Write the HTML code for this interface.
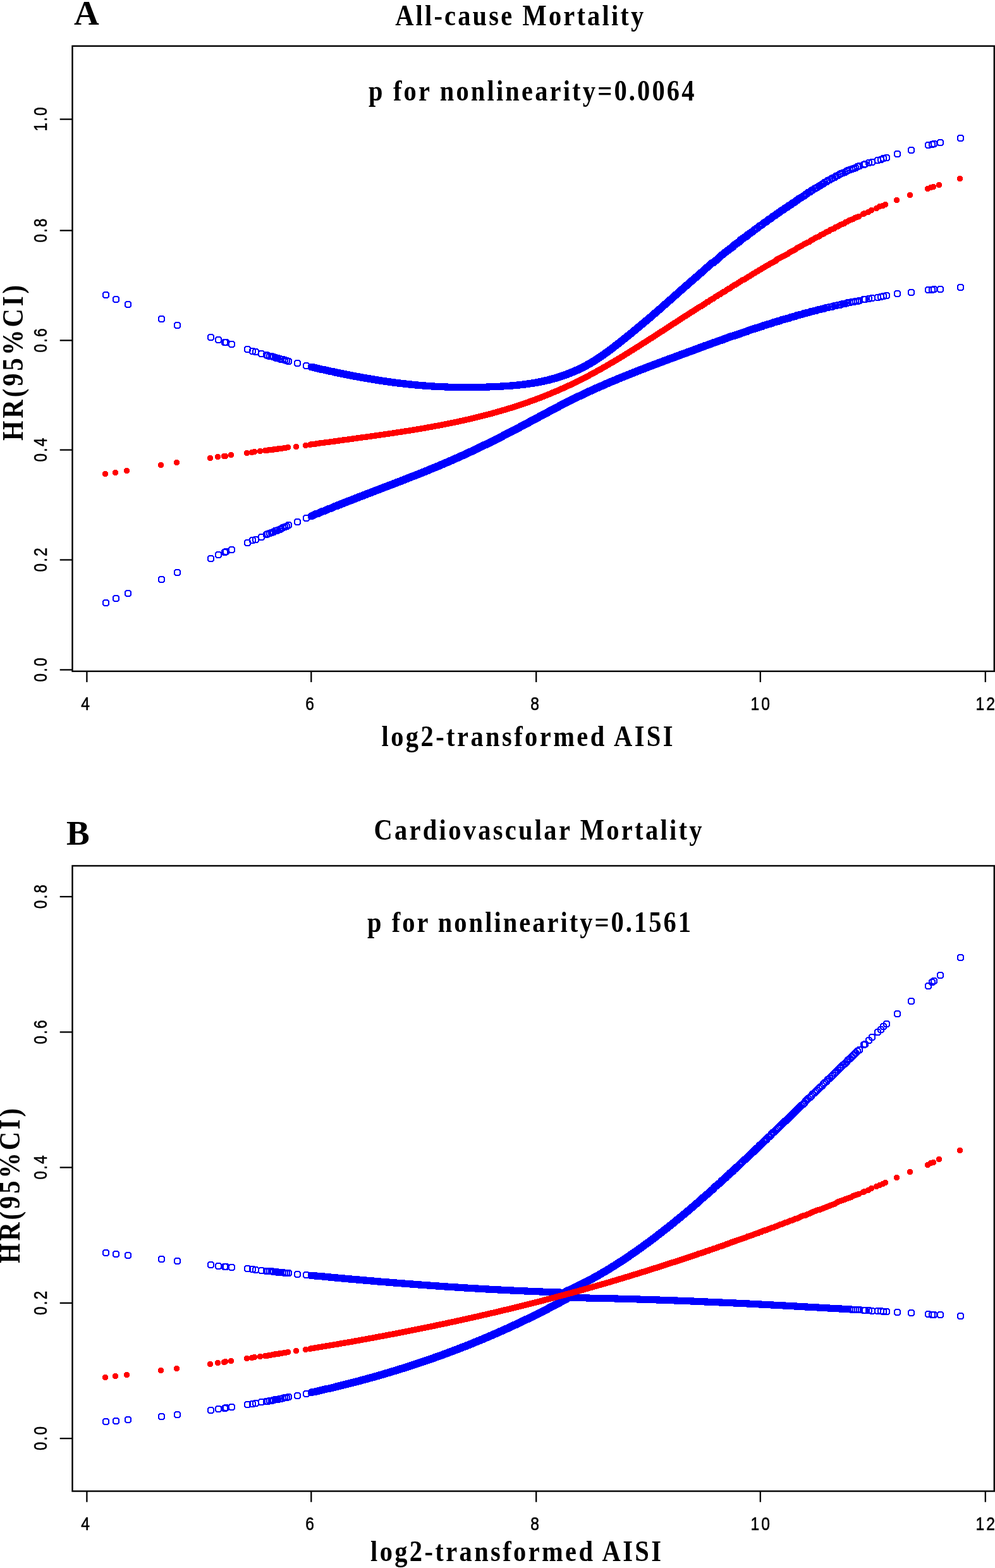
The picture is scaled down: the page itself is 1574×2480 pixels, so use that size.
<!DOCTYPE html><html><head><meta charset="utf-8"><title>Figure</title><style>html,body{margin:0;padding:0;background:#fff;width:1574px;height:2480px;overflow:hidden}svg{display:block}</style></head><body><svg width="1574" height="2480" viewBox="0 0 1574 2480">
<rect width="1574" height="2480" fill="#fff"/>
<style>.tk{font-family:"Liberation Sans",Arial,sans-serif;font-size:30px;fill:#000;stroke:#000;stroke-width:0.6px}.tt{font-family:"Liberation Serif","Times New Roman",serif;font-weight:bold;font-size:46px;fill:#000}.pl{font-family:"Liberation Serif","Times New Roman",serif;font-weight:bold;font-size:55px;fill:#000}.bl{fill:none;stroke:#0000ff;stroke-width:2;stroke-linejoin:miter;shape-rendering:crispEdges}.rd{fill:#ff0000;shape-rendering:crispEdges}</style>
<rect x="114.5" y="72.8" width="1458.3" height="988.9" fill="none" stroke="#000" stroke-width="2.4"/>
<line x1="137.4" y1="1061.7" x2="137.4" y2="1078.9" stroke="#000" stroke-width="2.3"/>
<text class="tk" transform="translate(135.2,1122.8) scale(0.82,1)" text-anchor="middle">4</text>
<line x1="492.3" y1="1061.7" x2="492.3" y2="1078.9" stroke="#000" stroke-width="2.3"/>
<text class="tk" transform="translate(490.1,1122.8) scale(0.82,1)" text-anchor="middle">6</text>
<line x1="848.2" y1="1061.7" x2="848.2" y2="1078.9" stroke="#000" stroke-width="2.3"/>
<text class="tk" transform="translate(846.0,1122.8) scale(0.82,1)" text-anchor="middle">8</text>
<line x1="1202.8" y1="1061.7" x2="1202.8" y2="1078.9" stroke="#000" stroke-width="2.3"/>
<text class="tk" transform="translate(1202.8,1122.8) scale(0.82,1)" text-anchor="middle" textLength="37.2" lengthAdjust="spacing">10</text>
<line x1="1558.8" y1="1061.7" x2="1558.8" y2="1078.9" stroke="#000" stroke-width="2.3"/>
<text class="tk" transform="translate(1558.8,1122.8) scale(0.82,1)" text-anchor="middle" textLength="37.2" lengthAdjust="spacing">12</text>
<line x1="94.7" y1="1059.4" x2="114.5" y2="1059.4" stroke="#000" stroke-width="2.3"/>
<text class="tk" transform="translate(73.5,1059.4) rotate(-90) scale(0.8,1)" text-anchor="middle" textLength="47.5" lengthAdjust="spacing">0.0</text>
<line x1="94.7" y1="885.5" x2="114.5" y2="885.5" stroke="#000" stroke-width="2.3"/>
<text class="tk" transform="translate(73.5,885.5) rotate(-90) scale(0.8,1)" text-anchor="middle" textLength="47.5" lengthAdjust="spacing">0.2</text>
<line x1="94.7" y1="711.6" x2="114.5" y2="711.6" stroke="#000" stroke-width="2.3"/>
<text class="tk" transform="translate(73.5,711.6) rotate(-90) scale(0.8,1)" text-anchor="middle" textLength="47.5" lengthAdjust="spacing">0.4</text>
<line x1="94.7" y1="538.4" x2="114.5" y2="538.4" stroke="#000" stroke-width="2.3"/>
<text class="tk" transform="translate(73.5,538.4) rotate(-90) scale(0.8,1)" text-anchor="middle" textLength="47.5" lengthAdjust="spacing">0.6</text>
<line x1="94.7" y1="364.6" x2="114.5" y2="364.6" stroke="#000" stroke-width="2.3"/>
<text class="tk" transform="translate(73.5,364.6) rotate(-90) scale(0.8,1)" text-anchor="middle" textLength="47.5" lengthAdjust="spacing">0.8</text>
<line x1="94.7" y1="188.6" x2="114.5" y2="188.6" stroke="#000" stroke-width="2.3"/>
<text class="tk" transform="translate(73.5,188.6) rotate(-90) scale(0.8,1)" text-anchor="middle" textLength="47.5" lengthAdjust="spacing">1.0</text>
<text class="pl" x="117" y="38.7">A</text>
<text class="tt" transform="translate(625.2,40.3) scale(0.88,1)" textLength="446.6" lengthAdjust="spacing">All-cause Mortality</text>
<text class="tt" transform="translate(583.0,158.5) scale(0.88,1)" textLength="585.8" lengthAdjust="spacing">p for nonlinearity=0.0064</text>
<text class="tt" transform="translate(603.5,1179.6) scale(0.88,1)" textLength="523.9" lengthAdjust="spacing">log2-transformed AISI</text>
<text class="tt" transform="translate(36.1,697.0) rotate(-90) scale(0.88,1)" textLength="279.5" lengthAdjust="spacing">HR(95%CI)</text>
<path class="bl" d="M165.3,461.7h4.4l2.6,2.6v4.4l-2.6,2.6h-4.4l-2.6,-2.6v-4.4zm16,7h4.4l2.6,2.6v4.4l-2.6,2.6h-4.4l-2.6,-2.6v-4.4zm19,8h4.4l2.6,2.6v4.4l-2.6,2.6h-4.4l-2.6,-2.6v-4.4zm53,23h4.4l2.6,2.6v4.4l-2.6,2.6h-4.4l-2.6,-2.6v-4.4zm25,10h4.4l2.6,2.6v4.4l-2.6,2.6h-4.4l-2.6,-2.6v-4.4zm53,19h4.4l2.6,2.6v4.4l-2.6,2.6h-4.4l-2.6,-2.6v-4.4zm12,4h4.4l2.6,2.6v4.4l-2.6,2.6h-4.4l-2.6,-2.6v-4.4zm10,4h4.4l2.6,2.6v4.4l-2.6,2.6h-4.4l-2.6,-2.6v-4.4zm2,0h4.4l2.6,2.6v4.4l-2.6,2.6h-4.4l-2.6,-2.6v-4.4zm9,3h4.4l2.6,2.6v4.4l-2.6,2.6h-4.4l-2.6,-2.6v-4.4zm25,8h4.4l2.6,2.6v4.4l-2.6,2.6h-4.4l-2.6,-2.6v-4.4zm8,3h4.4l2.6,2.6v4.4l-2.6,2.6h-4.4l-2.6,-2.6v-4.4zm5,1h4.4l2.6,2.6v4.4l-2.6,2.6h-4.4l-2.6,-2.6v-4.4zm9,3h4.4l2.6,2.6v4.4l-2.6,2.6h-4.4l-2.6,-2.6v-4.4zm8,2h4.4l2.6,2.6v4.4l-2.6,2.6h-4.4l-2.6,-2.6v-4.4zm2,1h4.4l2.6,2.6v4.4l-2.6,2.6h-4.4l-2.6,-2.6v-4.4zm3,1h4.4l2.6,2.6v4.4l-2.6,2.6h-4.4l-2.6,-2.6v-4.4zm3,0h4.4l2.6,2.6v4.4l-2.6,2.6h-4.4l-2.6,-2.6v-4.4zm3,1h4.4l2.6,2.6v4.4l-2.6,2.6h-4.4l-2.6,-2.6v-4.4zm3,1h4.4l2.6,2.6v4.4l-2.6,2.6h-4.4l-2.6,-2.6v-4.4zm2,1h4.4l2.6,2.6v4.4l-2.6,2.6h-4.4l-2.6,-2.6v-4.4zm2,0h4.4l2.6,2.6v4.4l-2.6,2.6h-4.4l-2.6,-2.6v-4.4zm3,1h4.4l2.6,2.6v4.4l-2.6,2.6h-4.4l-2.6,-2.6v-4.4zm2,1h4.4l2.6,2.6v4.4l-2.6,2.6h-4.4l-2.6,-2.6v-4.4zm3,0h4.4l2.6,2.6v4.4l-2.6,2.6h-4.4l-2.6,-2.6v-4.4zm3,1h4.4l2.6,2.6v4.4l-2.6,2.6h-4.4l-2.6,-2.6v-4.4zm3,1h4.4l2.6,2.6v4.4l-2.6,2.6h-4.4l-2.6,-2.6v-4.4zm3,1h4.4l2.6,2.6v4.4l-2.6,2.6h-4.4l-2.6,-2.6v-4.4zm14,3h4.4l2.6,2.6v4.4l-2.6,2.6h-4.4l-2.6,-2.6v-4.4zm14,4h4.4l2.6,2.6v4.4l-2.6,2.6h-4.4l-2.6,-2.6v-4.4zm8,2h4.4l2.6,2.6v4.4l-2.6,2.6h-4.4l-2.6,-2.6v-4.4zm2,0h4.4l2.6,2.6v4.4l-2.6,2.6h-4.4l-2.6,-2.6v-4.4zm2,1h4.4l2.6,2.6v4.4l-2.6,2.6h-4.4l-2.6,-2.6v-4.4zm2,0h4.4l2.6,2.6v4.4l-2.6,2.6h-4.4l-2.6,-2.6v-4.4zm2,1h4.4l2.6,2.6v4.4l-2.6,2.6h-4.4l-2.6,-2.6v-4.4zm2,0h4.4l2.6,2.6v4.4l-2.6,2.6h-4.4l-2.6,-2.6v-4.4zm2,1h4.4l2.6,2.6v4.4l-2.6,2.6h-4.4l-2.6,-2.6v-4.4zm2,0h4.4l2.6,2.6v4.4l-2.6,2.6h-4.4l-2.6,-2.6v-4.4zm2,1h4.4l2.6,2.6v4.4l-2.6,2.6h-4.4l-2.6,-2.6v-4.4zm2,0h4.4l2.6,2.6v4.4l-2.6,2.6h-4.4l-2.6,-2.6v-4.4zm2,0h4.4l2.6,2.6v4.4l-2.6,2.6h-4.4l-2.6,-2.6v-4.4zm2,1h4.4l2.6,2.6v4.4l-2.6,2.6h-4.4l-2.6,-2.6v-4.4zm2,0h4.4l2.6,2.6v4.4l-2.6,2.6h-4.4l-2.6,-2.6v-4.4zm2,1h4.4l2.6,2.6v4.4l-2.6,2.6h-4.4l-2.6,-2.6v-4.4zm2,0h4.4l2.6,2.6v4.4l-2.6,2.6h-4.4l-2.6,-2.6v-4.4zm2,1h4.4l2.6,2.6v4.4l-2.6,2.6h-4.4l-2.6,-2.6v-4.4zm2,0h4.4l2.6,2.6v4.4l-2.6,2.6h-4.4l-2.6,-2.6v-4.4zm2,0h4.4l2.6,2.6v4.4l-2.6,2.6h-4.4l-2.6,-2.6v-4.4zm2,1h4.4l2.6,2.6v4.4l-2.6,2.6h-4.4l-2.6,-2.6v-4.4zm2,0h4.4l2.6,2.6v4.4l-2.6,2.6h-4.4l-2.6,-2.6v-4.4zm1,1h4.4l2.6,2.6v4.4l-2.6,2.6h-4.4l-2.6,-2.6v-4.4zm1,0h4.4l2.6,2.6v4.4l-2.6,2.6h-4.4l-2.6,-2.6v-4.4zm1,0h4.4l2.6,2.6v4.4l-2.6,2.6h-4.4l-2.6,-2.6v-4.4zm1,0h4.4l2.6,2.6v4.4l-2.6,2.6h-4.4l-2.6,-2.6v-4.4zm1,0h4.4l2.6,2.6v4.4l-2.6,2.6h-4.4l-2.6,-2.6v-4.4zm1,1h4.4l2.6,2.6v4.4l-2.6,2.6h-4.4l-2.6,-2.6v-4.4zm1,0h4.4l2.6,2.6v4.4l-2.6,2.6h-4.4l-2.6,-2.6v-4.4zm1,0h4.4l2.6,2.6v4.4l-2.6,2.6h-4.4l-2.6,-2.6v-4.4zm1,0h4.4l2.6,2.6v4.4l-2.6,2.6h-4.4l-2.6,-2.6v-4.4zm1,0h4.4l2.6,2.6v4.4l-2.6,2.6h-4.4l-2.6,-2.6v-4.4zm1,1h4.4l2.6,2.6v4.4l-2.6,2.6h-4.4l-2.6,-2.6v-4.4zm1,0h4.4l2.6,2.6v4.4l-2.6,2.6h-4.4l-2.6,-2.6v-4.4zm1,0h4.4l2.6,2.6v4.4l-2.6,2.6h-4.4l-2.6,-2.6v-4.4zm1,0h4.4l2.6,2.6v4.4l-2.6,2.6h-4.4l-2.6,-2.6v-4.4zm1,0h4.4l2.6,2.6v4.4l-2.6,2.6h-4.4l-2.6,-2.6v-4.4zm1,1h4.4l2.6,2.6v4.4l-2.6,2.6h-4.4l-2.6,-2.6v-4.4zm1,0h4.4l2.6,2.6v4.4l-2.6,2.6h-4.4l-2.6,-2.6v-4.4zm1,0h4.4l2.6,2.6v4.4l-2.6,2.6h-4.4l-2.6,-2.6v-4.4zm1,0h4.4l2.6,2.6v4.4l-2.6,2.6h-4.4l-2.6,-2.6v-4.4zm1,0h4.4l2.6,2.6v4.4l-2.6,2.6h-4.4l-2.6,-2.6v-4.4zm1,1h4.4l2.6,2.6v4.4l-2.6,2.6h-4.4l-2.6,-2.6v-4.4zm1,0h4.4l2.6,2.6v4.4l-2.6,2.6h-4.4l-2.6,-2.6v-4.4zm1,0h4.4l2.6,2.6v4.4l-2.6,2.6h-4.4l-2.6,-2.6v-4.4zm1,0h4.4l2.6,2.6v4.4l-2.6,2.6h-4.4l-2.6,-2.6v-4.4zm1,0h4.4l2.6,2.6v4.4l-2.6,2.6h-4.4l-2.6,-2.6v-4.4zm1,1h4.4l2.6,2.6v4.4l-2.6,2.6h-4.4l-2.6,-2.6v-4.4zm1,0h4.4l2.6,2.6v4.4l-2.6,2.6h-4.4l-2.6,-2.6v-4.4zm1,0h4.4l2.6,2.6v4.4l-2.6,2.6h-4.4l-2.6,-2.6v-4.4zm1,0h4.4l2.6,2.6v4.4l-2.6,2.6h-4.4l-2.6,-2.6v-4.4zm1,0h4.4l2.6,2.6v4.4l-2.6,2.6h-4.4l-2.6,-2.6v-4.4zm1,1h4.4l2.6,2.6v4.4l-2.6,2.6h-4.4l-2.6,-2.6v-4.4zm1,0h4.4l2.6,2.6v4.4l-2.6,2.6h-4.4l-2.6,-2.6v-4.4zm1,0h4.4l2.6,2.6v4.4l-2.6,2.6h-4.4l-2.6,-2.6v-4.4zm1,0h4.4l2.6,2.6v4.4l-2.6,2.6h-4.4l-2.6,-2.6v-4.4zm1,0h4.4l2.6,2.6v4.4l-2.6,2.6h-4.4l-2.6,-2.6v-4.4zm1,0h4.4l2.6,2.6v4.4l-2.6,2.6h-4.4l-2.6,-2.6v-4.4zm1,1h4.4l2.6,2.6v4.4l-2.6,2.6h-4.4l-2.6,-2.6v-4.4zm1,0h4.4l2.6,2.6v4.4l-2.6,2.6h-4.4l-2.6,-2.6v-4.4zm1,0h4.4l2.6,2.6v4.4l-2.6,2.6h-4.4l-2.6,-2.6v-4.4zm1,0h4.4l2.6,2.6v4.4l-2.6,2.6h-4.4l-2.6,-2.6v-4.4zm1,0h4.4l2.6,2.6v4.4l-2.6,2.6h-4.4l-2.6,-2.6v-4.4zm1,1h4.4l2.6,2.6v4.4l-2.6,2.6h-4.4l-2.6,-2.6v-4.4zm1,0h4.4l2.6,2.6v4.4l-2.6,2.6h-4.4l-2.6,-2.6v-4.4zm1,0h4.4l2.6,2.6v4.4l-2.6,2.6h-4.4l-2.6,-2.6v-4.4zm1,0h4.4l2.6,2.6v4.4l-2.6,2.6h-4.4l-2.6,-2.6v-4.4zm1,0h4.4l2.6,2.6v4.4l-2.6,2.6h-4.4l-2.6,-2.6v-4.4zm1,0h4.4l2.6,2.6v4.4l-2.6,2.6h-4.4l-2.6,-2.6v-4.4zm1,1h4.4l2.6,2.6v4.4l-2.6,2.6h-4.4l-2.6,-2.6v-4.4zm1,0h4.4l2.6,2.6v4.4l-2.6,2.6h-4.4l-2.6,-2.6v-4.4zm1,0h4.4l2.6,2.6v4.4l-2.6,2.6h-4.4l-2.6,-2.6v-4.4zm1,0h4.4l2.6,2.6v4.4l-2.6,2.6h-4.4l-2.6,-2.6v-4.4zm1,0h4.4l2.6,2.6v4.4l-2.6,2.6h-4.4l-2.6,-2.6v-4.4zm1,0h4.4l2.6,2.6v4.4l-2.6,2.6h-4.4l-2.6,-2.6v-4.4zm1,1h4.4l2.6,2.6v4.4l-2.6,2.6h-4.4l-2.6,-2.6v-4.4zm1,0h4.4l2.6,2.6v4.4l-2.6,2.6h-4.4l-2.6,-2.6v-4.4zm1,0h4.4l2.6,2.6v4.4l-2.6,2.6h-4.4l-2.6,-2.6v-4.4zm1,0h4.4l2.6,2.6v4.4l-2.6,2.6h-4.4l-2.6,-2.6v-4.4zm1,0h4.4l2.6,2.6v4.4l-2.6,2.6h-4.4l-2.6,-2.6v-4.4zm1,0h4.4l2.6,2.6v4.4l-2.6,2.6h-4.4l-2.6,-2.6v-4.4zm1,1h4.4l2.6,2.6v4.4l-2.6,2.6h-4.4l-2.6,-2.6v-4.4zm1,0h4.4l2.6,2.6v4.4l-2.6,2.6h-4.4l-2.6,-2.6v-4.4zm1,0h4.4l2.6,2.6v4.4l-2.6,2.6h-4.4l-2.6,-2.6v-4.4zm1,0h4.4l2.6,2.6v4.4l-2.6,2.6h-4.4l-2.6,-2.6v-4.4zm1,0h4.4l2.6,2.6v4.4l-2.6,2.6h-4.4l-2.6,-2.6v-4.4zm1,0h4.4l2.6,2.6v4.4l-2.6,2.6h-4.4l-2.6,-2.6v-4.4zm1,1h4.4l2.6,2.6v4.4l-2.6,2.6h-4.4l-2.6,-2.6v-4.4zm1,0h4.4l2.6,2.6v4.4l-2.6,2.6h-4.4l-2.6,-2.6v-4.4zm1,0h4.4l2.6,2.6v4.4l-2.6,2.6h-4.4l-2.6,-2.6v-4.4zm1,0h4.4l2.6,2.6v4.4l-2.6,2.6h-4.4l-2.6,-2.6v-4.4zm1,0h4.4l2.6,2.6v4.4l-2.6,2.6h-4.4l-2.6,-2.6v-4.4zm1,0h4.4l2.6,2.6v4.4l-2.6,2.6h-4.4l-2.6,-2.6v-4.4zm1,1h4.4l2.6,2.6v4.4l-2.6,2.6h-4.4l-2.6,-2.6v-4.4zm1,0h4.4l2.6,2.6v4.4l-2.6,2.6h-4.4l-2.6,-2.6v-4.4zm1,0h4.4l2.6,2.6v4.4l-2.6,2.6h-4.4l-2.6,-2.6v-4.4zm1,0h4.4l2.6,2.6v4.4l-2.6,2.6h-4.4l-2.6,-2.6v-4.4zm1,0h4.4l2.6,2.6v4.4l-2.6,2.6h-4.4l-2.6,-2.6v-4.4zm1,0h4.4l2.6,2.6v4.4l-2.6,2.6h-4.4l-2.6,-2.6v-4.4zm1,0h4.4l2.6,2.6v4.4l-2.6,2.6h-4.4l-2.6,-2.6v-4.4zm1,1h4.4l2.6,2.6v4.4l-2.6,2.6h-4.4l-2.6,-2.6v-4.4zm1,0h4.4l2.6,2.6v4.4l-2.6,2.6h-4.4l-2.6,-2.6v-4.4zm1,0h4.4l2.6,2.6v4.4l-2.6,2.6h-4.4l-2.6,-2.6v-4.4zm1,0h4.4l2.6,2.6v4.4l-2.6,2.6h-4.4l-2.6,-2.6v-4.4zm1,0h4.4l2.6,2.6v4.4l-2.6,2.6h-4.4l-2.6,-2.6v-4.4zm1,0h4.4l2.6,2.6v4.4l-2.6,2.6h-4.4l-2.6,-2.6v-4.4zm1,0h4.4l2.6,2.6v4.4l-2.6,2.6h-4.4l-2.6,-2.6v-4.4zm1,1h4.4l2.6,2.6v4.4l-2.6,2.6h-4.4l-2.6,-2.6v-4.4zm1,0h4.4l2.6,2.6v4.4l-2.6,2.6h-4.4l-2.6,-2.6v-4.4zm1,0h4.4l2.6,2.6v4.4l-2.6,2.6h-4.4l-2.6,-2.6v-4.4zm1,0h4.4l2.6,2.6v4.4l-2.6,2.6h-4.4l-2.6,-2.6v-4.4zm1,0h4.4l2.6,2.6v4.4l-2.6,2.6h-4.4l-2.6,-2.6v-4.4zm1,0h4.4l2.6,2.6v4.4l-2.6,2.6h-4.4l-2.6,-2.6v-4.4zm1,0h4.4l2.6,2.6v4.4l-2.6,2.6h-4.4l-2.6,-2.6v-4.4zm1,1h4.4l2.6,2.6v4.4l-2.6,2.6h-4.4l-2.6,-2.6v-4.4zm1,0h4.4l2.6,2.6v4.4l-2.6,2.6h-4.4l-2.6,-2.6v-4.4zm1,0h4.4l2.6,2.6v4.4l-2.6,2.6h-4.4l-2.6,-2.6v-4.4zm1,0h4.4l2.6,2.6v4.4l-2.6,2.6h-4.4l-2.6,-2.6v-4.4zm1,0h4.4l2.6,2.6v4.4l-2.6,2.6h-4.4l-2.6,-2.6v-4.4zm1,0h4.4l2.6,2.6v4.4l-2.6,2.6h-4.4l-2.6,-2.6v-4.4zm1,0h4.4l2.6,2.6v4.4l-2.6,2.6h-4.4l-2.6,-2.6v-4.4zm1,0h4.4l2.6,2.6v4.4l-2.6,2.6h-4.4l-2.6,-2.6v-4.4zm1,1h4.4l2.6,2.6v4.4l-2.6,2.6h-4.4l-2.6,-2.6v-4.4zm1,0h4.4l2.6,2.6v4.4l-2.6,2.6h-4.4l-2.6,-2.6v-4.4zm1,0h4.4l2.6,2.6v4.4l-2.6,2.6h-4.4l-2.6,-2.6v-4.4zm1,0h4.4l2.6,2.6v4.4l-2.6,2.6h-4.4l-2.6,-2.6v-4.4zm1,0h4.4l2.6,2.6v4.4l-2.6,2.6h-4.4l-2.6,-2.6v-4.4zm1,0h4.4l2.6,2.6v4.4l-2.6,2.6h-4.4l-2.6,-2.6v-4.4zm1,0h4.4l2.6,2.6v4.4l-2.6,2.6h-4.4l-2.6,-2.6v-4.4zm1,0h4.4l2.6,2.6v4.4l-2.6,2.6h-4.4l-2.6,-2.6v-4.4zm1,0h4.4l2.6,2.6v4.4l-2.6,2.6h-4.4l-2.6,-2.6v-4.4zm1,1h4.4l2.6,2.6v4.4l-2.6,2.6h-4.4l-2.6,-2.6v-4.4zm1,0h4.4l2.6,2.6v4.4l-2.6,2.6h-4.4l-2.6,-2.6v-4.4zm1,0h4.4l2.6,2.6v4.4l-2.6,2.6h-4.4l-2.6,-2.6v-4.4zm1,0h4.4l2.6,2.6v4.4l-2.6,2.6h-4.4l-2.6,-2.6v-4.4zm1,0h4.4l2.6,2.6v4.4l-2.6,2.6h-4.4l-2.6,-2.6v-4.4zm1,0h4.4l2.6,2.6v4.4l-2.6,2.6h-4.4l-2.6,-2.6v-4.4zm1,0h4.4l2.6,2.6v4.4l-2.6,2.6h-4.4l-2.6,-2.6v-4.4zm1,0h4.4l2.6,2.6v4.4l-2.6,2.6h-4.4l-2.6,-2.6v-4.4zm1,0h4.4l2.6,2.6v4.4l-2.6,2.6h-4.4l-2.6,-2.6v-4.4zm1,1h4.4l2.6,2.6v4.4l-2.6,2.6h-4.4l-2.6,-2.6v-4.4zm1,0h4.4l2.6,2.6v4.4l-2.6,2.6h-4.4l-2.6,-2.6v-4.4zm1,0h4.4l2.6,2.6v4.4l-2.6,2.6h-4.4l-2.6,-2.6v-4.4zm1,0h4.4l2.6,2.6v4.4l-2.6,2.6h-4.4l-2.6,-2.6v-4.4zm1,0h4.4l2.6,2.6v4.4l-2.6,2.6h-4.4l-2.6,-2.6v-4.4zm1,0h4.4l2.6,2.6v4.4l-2.6,2.6h-4.4l-2.6,-2.6v-4.4zm1,0h4.4l2.6,2.6v4.4l-2.6,2.6h-4.4l-2.6,-2.6v-4.4zm1,0h4.4l2.6,2.6v4.4l-2.6,2.6h-4.4l-2.6,-2.6v-4.4zm1,0h4.4l2.6,2.6v4.4l-2.6,2.6h-4.4l-2.6,-2.6v-4.4zm1,0h4.4l2.6,2.6v4.4l-2.6,2.6h-4.4l-2.6,-2.6v-4.4zm1,1h4.4l2.6,2.6v4.4l-2.6,2.6h-4.4l-2.6,-2.6v-4.4zm1,0h4.4l2.6,2.6v4.4l-2.6,2.6h-4.4l-2.6,-2.6v-4.4zm1,0h4.4l2.6,2.6v4.4l-2.6,2.6h-4.4l-2.6,-2.6v-4.4zm1,0h4.4l2.6,2.6v4.4l-2.6,2.6h-4.4l-2.6,-2.6v-4.4zm1,0h4.4l2.6,2.6v4.4l-2.6,2.6h-4.4l-2.6,-2.6v-4.4zm1,0h4.4l2.6,2.6v4.4l-2.6,2.6h-4.4l-2.6,-2.6v-4.4zm1,0h4.4l2.6,2.6v4.4l-2.6,2.6h-4.4l-2.6,-2.6v-4.4zm1,0h4.4l2.6,2.6v4.4l-2.6,2.6h-4.4l-2.6,-2.6v-4.4zm1,0h4.4l2.6,2.6v4.4l-2.6,2.6h-4.4l-2.6,-2.6v-4.4zm1,0h4.4l2.6,2.6v4.4l-2.6,2.6h-4.4l-2.6,-2.6v-4.4zm1,0h4.4l2.6,2.6v4.4l-2.6,2.6h-4.4l-2.6,-2.6v-4.4zm1,0h4.4l2.6,2.6v4.4l-2.6,2.6h-4.4l-2.6,-2.6v-4.4zm1,1h4.4l2.6,2.6v4.4l-2.6,2.6h-4.4l-2.6,-2.6v-4.4zm1,0h4.4l2.6,2.6v4.4l-2.6,2.6h-4.4l-2.6,-2.6v-4.4zm1,0h4.4l2.6,2.6v4.4l-2.6,2.6h-4.4l-2.6,-2.6v-4.4zm1,0h4.4l2.6,2.6v4.4l-2.6,2.6h-4.4l-2.6,-2.6v-4.4zm1,0h4.4l2.6,2.6v4.4l-2.6,2.6h-4.4l-2.6,-2.6v-4.4zm1,0h4.4l2.6,2.6v4.4l-2.6,2.6h-4.4l-2.6,-2.6v-4.4zm1,0h4.4l2.6,2.6v4.4l-2.6,2.6h-4.4l-2.6,-2.6v-4.4zm1,0h4.4l2.6,2.6v4.4l-2.6,2.6h-4.4l-2.6,-2.6v-4.4zm1,0h4.4l2.6,2.6v4.4l-2.6,2.6h-4.4l-2.6,-2.6v-4.4zm1,0h4.4l2.6,2.6v4.4l-2.6,2.6h-4.4l-2.6,-2.6v-4.4zm1,0h4.4l2.6,2.6v4.4l-2.6,2.6h-4.4l-2.6,-2.6v-4.4zm1,0h4.4l2.6,2.6v4.4l-2.6,2.6h-4.4l-2.6,-2.6v-4.4zm1,0h4.4l2.6,2.6v4.4l-2.6,2.6h-4.4l-2.6,-2.6v-4.4zm1,0h4.4l2.6,2.6v4.4l-2.6,2.6h-4.4l-2.6,-2.6v-4.4zm1,1h4.4l2.6,2.6v4.4l-2.6,2.6h-4.4l-2.6,-2.6v-4.4zm1,0h4.4l2.6,2.6v4.4l-2.6,2.6h-4.4l-2.6,-2.6v-4.4zm1,0h4.4l2.6,2.6v4.4l-2.6,2.6h-4.4l-2.6,-2.6v-4.4zm1,0h4.4l2.6,2.6v4.4l-2.6,2.6h-4.4l-2.6,-2.6v-4.4zm1,0h4.4l2.6,2.6v4.4l-2.6,2.6h-4.4l-2.6,-2.6v-4.4zm1,0h4.4l2.6,2.6v4.4l-2.6,2.6h-4.4l-2.6,-2.6v-4.4zm1,0h4.4l2.6,2.6v4.4l-2.6,2.6h-4.4l-2.6,-2.6v-4.4zm1,0h4.4l2.6,2.6v4.4l-2.6,2.6h-4.4l-2.6,-2.6v-4.4zm1,0h4.4l2.6,2.6v4.4l-2.6,2.6h-4.4l-2.6,-2.6v-4.4zm1,0h4.4l2.6,2.6v4.4l-2.6,2.6h-4.4l-2.6,-2.6v-4.4zm1,0h4.4l2.6,2.6v4.4l-2.6,2.6h-4.4l-2.6,-2.6v-4.4zm1,0h4.4l2.6,2.6v4.4l-2.6,2.6h-4.4l-2.6,-2.6v-4.4zm1,0h4.4l2.6,2.6v4.4l-2.6,2.6h-4.4l-2.6,-2.6v-4.4zm1,0h4.4l2.6,2.6v4.4l-2.6,2.6h-4.4l-2.6,-2.6v-4.4zm1,0h4.4l2.6,2.6v4.4l-2.6,2.6h-4.4l-2.6,-2.6v-4.4zm1,0h4.4l2.6,2.6v4.4l-2.6,2.6h-4.4l-2.6,-2.6v-4.4zm1,0h4.4l2.6,2.6v4.4l-2.6,2.6h-4.4l-2.6,-2.6v-4.4zm1,0h4.4l2.6,2.6v4.4l-2.6,2.6h-4.4l-2.6,-2.6v-4.4zm1,0h4.4l2.6,2.6v4.4l-2.6,2.6h-4.4l-2.6,-2.6v-4.4zm1,0h4.4l2.6,2.6v4.4l-2.6,2.6h-4.4l-2.6,-2.6v-4.4zm1,0h4.4l2.6,2.6v4.4l-2.6,2.6h-4.4l-2.6,-2.6v-4.4zm1,1h4.4l2.6,2.6v4.4l-2.6,2.6h-4.4l-2.6,-2.6v-4.4zm1,0h4.4l2.6,2.6v4.4l-2.6,2.6h-4.4l-2.6,-2.6v-4.4zm1,0h4.4l2.6,2.6v4.4l-2.6,2.6h-4.4l-2.6,-2.6v-4.4zm1,0h4.4l2.6,2.6v4.4l-2.6,2.6h-4.4l-2.6,-2.6v-4.4zm1,0h4.4l2.6,2.6v4.4l-2.6,2.6h-4.4l-2.6,-2.6v-4.4zm1,0h4.4l2.6,2.6v4.4l-2.6,2.6h-4.4l-2.6,-2.6v-4.4zm1,0h4.4l2.6,2.6v4.4l-2.6,2.6h-4.4l-2.6,-2.6v-4.4zm1,0h4.4l2.6,2.6v4.4l-2.6,2.6h-4.4l-2.6,-2.6v-4.4zm1,0h4.4l2.6,2.6v4.4l-2.6,2.6h-4.4l-2.6,-2.6v-4.4zm1,0h4.4l2.6,2.6v4.4l-2.6,2.6h-4.4l-2.6,-2.6v-4.4zm1,0h4.4l2.6,2.6v4.4l-2.6,2.6h-4.4l-2.6,-2.6v-4.4zm1,0h4.4l2.6,2.6v4.4l-2.6,2.6h-4.4l-2.6,-2.6v-4.4zm1,0h4.4l2.6,2.6v4.4l-2.6,2.6h-4.4l-2.6,-2.6v-4.4zm1,0h4.4l2.6,2.6v4.4l-2.6,2.6h-4.4l-2.6,-2.6v-4.4zm1,0h4.4l2.6,2.6v4.4l-2.6,2.6h-4.4l-2.6,-2.6v-4.4zm1,0h4.4l2.6,2.6v4.4l-2.6,2.6h-4.4l-2.6,-2.6v-4.4zm1,0h4.4l2.6,2.6v4.4l-2.6,2.6h-4.4l-2.6,-2.6v-4.4zm1,0h4.4l2.6,2.6v4.4l-2.6,2.6h-4.4l-2.6,-2.6v-4.4zm1,0h4.4l2.6,2.6v4.4l-2.6,2.6h-4.4l-2.6,-2.6v-4.4zm1,0h4.4l2.6,2.6v4.4l-2.6,2.6h-4.4l-2.6,-2.6v-4.4zm1,0h4.4l2.6,2.6v4.4l-2.6,2.6h-4.4l-2.6,-2.6v-4.4zm1,0h4.4l2.6,2.6v4.4l-2.6,2.6h-4.4l-2.6,-2.6v-4.4zm1,0h4.4l2.6,2.6v4.4l-2.6,2.6h-4.4l-2.6,-2.6v-4.4zm1,0h4.4l2.6,2.6v4.4l-2.6,2.6h-4.4l-2.6,-2.6v-4.4zm1,0h4.4l2.6,2.6v4.4l-2.6,2.6h-4.4l-2.6,-2.6v-4.4zm1,0h4.4l2.6,2.6v4.4l-2.6,2.6h-4.4l-2.6,-2.6v-4.4zm1,0h4.4l2.6,2.6v4.4l-2.6,2.6h-4.4l-2.6,-2.6v-4.4zm1,0h4.4l2.6,2.6v4.4l-2.6,2.6h-4.4l-2.6,-2.6v-4.4zm1,0h4.4l2.6,2.6v4.4l-2.6,2.6h-4.4l-2.6,-2.6v-4.4zm1,0h4.4l2.6,2.6v4.4l-2.6,2.6h-4.4l-2.6,-2.6v-4.4zm1,0h4.4l2.6,2.6v4.4l-2.6,2.6h-4.4l-2.6,-2.6v-4.4zm1,0h4.4l2.6,2.6v4.4l-2.6,2.6h-4.4l-2.6,-2.6v-4.4zm1,0h4.4l2.6,2.6v4.4l-2.6,2.6h-4.4l-2.6,-2.6v-4.4zm1,0h4.4l2.6,2.6v4.4l-2.6,2.6h-4.4l-2.6,-2.6v-4.4zm1,0h4.4l2.6,2.6v4.4l-2.6,2.6h-4.4l-2.6,-2.6v-4.4zm1,0h4.4l2.6,2.6v4.4l-2.6,2.6h-4.4l-2.6,-2.6v-4.4zm1,0h4.4l2.6,2.6v4.4l-2.6,2.6h-4.4l-2.6,-2.6v-4.4zm1,0h4.4l2.6,2.6v4.4l-2.6,2.6h-4.4l-2.6,-2.6v-4.4zm1,0h4.4l2.6,2.6v4.4l-2.6,2.6h-4.4l-2.6,-2.6v-4.4zm1,0h4.4l2.6,2.6v4.4l-2.6,2.6h-4.4l-2.6,-2.6v-4.4zm1,0h4.4l2.6,2.6v4.4l-2.6,2.6h-4.4l-2.6,-2.6v-4.4zm1,0h4.4l2.6,2.6v4.4l-2.6,2.6h-4.4l-2.6,-2.6v-4.4zm1,0h4.4l2.6,2.6v4.4l-2.6,2.6h-4.4l-2.6,-2.6v-4.4zm1,0h4.4l2.6,2.6v4.4l-2.6,2.6h-4.4l-2.6,-2.6v-4.4zm1,0h4.4l2.6,2.6v4.4l-2.6,2.6h-4.4l-2.6,-2.6v-4.4zm1,0h4.4l2.6,2.6v4.4l-2.6,2.6h-4.4l-2.6,-2.6v-4.4zm1,0h4.4l2.6,2.6v4.4l-2.6,2.6h-4.4l-2.6,-2.6v-4.4zm1,0h4.4l2.6,2.6v4.4l-2.6,2.6h-4.4l-2.6,-2.6v-4.4zm1,0h4.4l2.6,2.6v4.4l-2.6,2.6h-4.4l-2.6,-2.6v-4.4zm1,0h4.4l2.6,2.6v4.4l-2.6,2.6h-4.4l-2.6,-2.6v-4.4zm1,0h4.4l2.6,2.6v4.4l-2.6,2.6h-4.4l-2.6,-2.6v-4.4zm1,0h4.4l2.6,2.6v4.4l-2.6,2.6h-4.4l-2.6,-2.6v-4.4zm1,0h4.4l2.6,2.6v4.4l-2.6,2.6h-4.4l-2.6,-2.6v-4.4zm1,0h4.4l2.6,2.6v4.4l-2.6,2.6h-4.4l-2.6,-2.6v-4.4zm1,0h4.4l2.6,2.6v4.4l-2.6,2.6h-4.4l-2.6,-2.6v-4.4zm1,0h4.4l2.6,2.6v4.4l-2.6,2.6h-4.4l-2.6,-2.6v-4.4zm1,0h4.4l2.6,2.6v4.4l-2.6,2.6h-4.4l-2.6,-2.6v-4.4zm1,0h4.4l2.6,2.6v4.4l-2.6,2.6h-4.4l-2.6,-2.6v-4.4zm1,0h4.4l2.6,2.6v4.4l-2.6,2.6h-4.4l-2.6,-2.6v-4.4zm1,0h4.4l2.6,2.6v4.4l-2.6,2.6h-4.4l-2.6,-2.6v-4.4zm1,0h4.4l2.6,2.6v4.4l-2.6,2.6h-4.4l-2.6,-2.6v-4.4zm1,0h4.4l2.6,2.6v4.4l-2.6,2.6h-4.4l-2.6,-2.6v-4.4zm1,0h4.4l2.6,2.6v4.4l-2.6,2.6h-4.4l-2.6,-2.6v-4.4zm1,0h4.4l2.6,2.6v4.4l-2.6,2.6h-4.4l-2.6,-2.6v-4.4zm1,0h4.4l2.6,2.6v4.4l-2.6,2.6h-4.4l-2.6,-2.6v-4.4zm1,0h4.4l2.6,2.6v4.4l-2.6,2.6h-4.4l-2.6,-2.6v-4.4zm1,-1h4.4l2.6,2.6v4.4l-2.6,2.6h-4.4l-2.6,-2.6v-4.4zm1,0h4.4l2.6,2.6v4.4l-2.6,2.6h-4.4l-2.6,-2.6v-4.4zm1,0h4.4l2.6,2.6v4.4l-2.6,2.6h-4.4l-2.6,-2.6v-4.4zm1,0h4.4l2.6,2.6v4.4l-2.6,2.6h-4.4l-2.6,-2.6v-4.4zm1,0h4.4l2.6,2.6v4.4l-2.6,2.6h-4.4l-2.6,-2.6v-4.4zm1,0h4.4l2.6,2.6v4.4l-2.6,2.6h-4.4l-2.6,-2.6v-4.4zm1,0h4.4l2.6,2.6v4.4l-2.6,2.6h-4.4l-2.6,-2.6v-4.4zm1,0h4.4l2.6,2.6v4.4l-2.6,2.6h-4.4l-2.6,-2.6v-4.4zm1,0h4.4l2.6,2.6v4.4l-2.6,2.6h-4.4l-2.6,-2.6v-4.4zm1,0h4.4l2.6,2.6v4.4l-2.6,2.6h-4.4l-2.6,-2.6v-4.4zm1,0h4.4l2.6,2.6v4.4l-2.6,2.6h-4.4l-2.6,-2.6v-4.4zm1,0h4.4l2.6,2.6v4.4l-2.6,2.6h-4.4l-2.6,-2.6v-4.4zm1,0h4.4l2.6,2.6v4.4l-2.6,2.6h-4.4l-2.6,-2.6v-4.4zm1,0h4.4l2.6,2.6v4.4l-2.6,2.6h-4.4l-2.6,-2.6v-4.4zm1,0h4.4l2.6,2.6v4.4l-2.6,2.6h-4.4l-2.6,-2.6v-4.4zm1,0h4.4l2.6,2.6v4.4l-2.6,2.6h-4.4l-2.6,-2.6v-4.4zm1,0h4.4l2.6,2.6v4.4l-2.6,2.6h-4.4l-2.6,-2.6v-4.4zm1,0h4.4l2.6,2.6v4.4l-2.6,2.6h-4.4l-2.6,-2.6v-4.4zm1,0h4.4l2.6,2.6v4.4l-2.6,2.6h-4.4l-2.6,-2.6v-4.4zm1,0h4.4l2.6,2.6v4.4l-2.6,2.6h-4.4l-2.6,-2.6v-4.4zm1,0h4.4l2.6,2.6v4.4l-2.6,2.6h-4.4l-2.6,-2.6v-4.4zm1,0h4.4l2.6,2.6v4.4l-2.6,2.6h-4.4l-2.6,-2.6v-4.4zm1,-1h4.4l2.6,2.6v4.4l-2.6,2.6h-4.4l-2.6,-2.6v-4.4zm1,0h4.4l2.6,2.6v4.4l-2.6,2.6h-4.4l-2.6,-2.6v-4.4zm1,0h4.4l2.6,2.6v4.4l-2.6,2.6h-4.4l-2.6,-2.6v-4.4zm1,0h4.4l2.6,2.6v4.4l-2.6,2.6h-4.4l-2.6,-2.6v-4.4zm1,0h4.4l2.6,2.6v4.4l-2.6,2.6h-4.4l-2.6,-2.6v-4.4zm1,0h4.4l2.6,2.6v4.4l-2.6,2.6h-4.4l-2.6,-2.6v-4.4zm1,0h4.4l2.6,2.6v4.4l-2.6,2.6h-4.4l-2.6,-2.6v-4.4zm1,0h4.4l2.6,2.6v4.4l-2.6,2.6h-4.4l-2.6,-2.6v-4.4zm1,0h4.4l2.6,2.6v4.4l-2.6,2.6h-4.4l-2.6,-2.6v-4.4zm1,0h4.4l2.6,2.6v4.4l-2.6,2.6h-4.4l-2.6,-2.6v-4.4zm1,0h4.4l2.6,2.6v4.4l-2.6,2.6h-4.4l-2.6,-2.6v-4.4zm1,0h4.4l2.6,2.6v4.4l-2.6,2.6h-4.4l-2.6,-2.6v-4.4zm1,0h4.4l2.6,2.6v4.4l-2.6,2.6h-4.4l-2.6,-2.6v-4.4zm1,0h4.4l2.6,2.6v4.4l-2.6,2.6h-4.4l-2.6,-2.6v-4.4zm1,0h4.4l2.6,2.6v4.4l-2.6,2.6h-4.4l-2.6,-2.6v-4.4zm1,-1h4.4l2.6,2.6v4.4l-2.6,2.6h-4.4l-2.6,-2.6v-4.4zm1,0h4.4l2.6,2.6v4.4l-2.6,2.6h-4.4l-2.6,-2.6v-4.4zm1,0h4.4l2.6,2.6v4.4l-2.6,2.6h-4.4l-2.6,-2.6v-4.4zm1,0h4.4l2.6,2.6v4.4l-2.6,2.6h-4.4l-2.6,-2.6v-4.4zm1,0h4.4l2.6,2.6v4.4l-2.6,2.6h-4.4l-2.6,-2.6v-4.4zm1,0h4.4l2.6,2.6v4.4l-2.6,2.6h-4.4l-2.6,-2.6v-4.4zm1,0h4.4l2.6,2.6v4.4l-2.6,2.6h-4.4l-2.6,-2.6v-4.4zm1,0h4.4l2.6,2.6v4.4l-2.6,2.6h-4.4l-2.6,-2.6v-4.4zm1,0h4.4l2.6,2.6v4.4l-2.6,2.6h-4.4l-2.6,-2.6v-4.4zm1,0h4.4l2.6,2.6v4.4l-2.6,2.6h-4.4l-2.6,-2.6v-4.4zm1,0h4.4l2.6,2.6v4.4l-2.6,2.6h-4.4l-2.6,-2.6v-4.4zm1,-1h4.4l2.6,2.6v4.4l-2.6,2.6h-4.4l-2.6,-2.6v-4.4zm1,0h4.4l2.6,2.6v4.4l-2.6,2.6h-4.4l-2.6,-2.6v-4.4zm1,0h4.4l2.6,2.6v4.4l-2.6,2.6h-4.4l-2.6,-2.6v-4.4zm1,0h4.4l2.6,2.6v4.4l-2.6,2.6h-4.4l-2.6,-2.6v-4.4zm1,0h4.4l2.6,2.6v4.4l-2.6,2.6h-4.4l-2.6,-2.6v-4.4zm1,0h4.4l2.6,2.6v4.4l-2.6,2.6h-4.4l-2.6,-2.6v-4.4zm1,0h4.4l2.6,2.6v4.4l-2.6,2.6h-4.4l-2.6,-2.6v-4.4zm1,0h4.4l2.6,2.6v4.4l-2.6,2.6h-4.4l-2.6,-2.6v-4.4zm1,0h4.4l2.6,2.6v4.4l-2.6,2.6h-4.4l-2.6,-2.6v-4.4zm1,-1h4.4l2.6,2.6v4.4l-2.6,2.6h-4.4l-2.6,-2.6v-4.4zm1,0h4.4l2.6,2.6v4.4l-2.6,2.6h-4.4l-2.6,-2.6v-4.4zm1,0h4.4l2.6,2.6v4.4l-2.6,2.6h-4.4l-2.6,-2.6v-4.4zm1,0h4.4l2.6,2.6v4.4l-2.6,2.6h-4.4l-2.6,-2.6v-4.4zm1,0h4.4l2.6,2.6v4.4l-2.6,2.6h-4.4l-2.6,-2.6v-4.4zm1,0h4.4l2.6,2.6v4.4l-2.6,2.6h-4.4l-2.6,-2.6v-4.4zm1,0h4.4l2.6,2.6v4.4l-2.6,2.6h-4.4l-2.6,-2.6v-4.4zm1,-1h4.4l2.6,2.6v4.4l-2.6,2.6h-4.4l-2.6,-2.6v-4.4zm1,0h4.4l2.6,2.6v4.4l-2.6,2.6h-4.4l-2.6,-2.6v-4.4zm1,0h4.4l2.6,2.6v4.4l-2.6,2.6h-4.4l-2.6,-2.6v-4.4zm1,0h4.4l2.6,2.6v4.4l-2.6,2.6h-4.4l-2.6,-2.6v-4.4zm1,0h4.4l2.6,2.6v4.4l-2.6,2.6h-4.4l-2.6,-2.6v-4.4zm1,0h4.4l2.6,2.6v4.4l-2.6,2.6h-4.4l-2.6,-2.6v-4.4zm1,0h4.4l2.6,2.6v4.4l-2.6,2.6h-4.4l-2.6,-2.6v-4.4zm1,-1h4.4l2.6,2.6v4.4l-2.6,2.6h-4.4l-2.6,-2.6v-4.4zm1,0h4.4l2.6,2.6v4.4l-2.6,2.6h-4.4l-2.6,-2.6v-4.4zm1,0h4.4l2.6,2.6v4.4l-2.6,2.6h-4.4l-2.6,-2.6v-4.4zm1,0h4.4l2.6,2.6v4.4l-2.6,2.6h-4.4l-2.6,-2.6v-4.4zm1,0h4.4l2.6,2.6v4.4l-2.6,2.6h-4.4l-2.6,-2.6v-4.4zm1,0h4.4l2.6,2.6v4.4l-2.6,2.6h-4.4l-2.6,-2.6v-4.4zm1,-1h4.4l2.6,2.6v4.4l-2.6,2.6h-4.4l-2.6,-2.6v-4.4zm1,0h4.4l2.6,2.6v4.4l-2.6,2.6h-4.4l-2.6,-2.6v-4.4zm1,0h4.4l2.6,2.6v4.4l-2.6,2.6h-4.4l-2.6,-2.6v-4.4zm1,0h4.4l2.6,2.6v4.4l-2.6,2.6h-4.4l-2.6,-2.6v-4.4zm1,0h4.4l2.6,2.6v4.4l-2.6,2.6h-4.4l-2.6,-2.6v-4.4zm1,-1h4.4l2.6,2.6v4.4l-2.6,2.6h-4.4l-2.6,-2.6v-4.4zm1,0h4.4l2.6,2.6v4.4l-2.6,2.6h-4.4l-2.6,-2.6v-4.4zm1,0h4.4l2.6,2.6v4.4l-2.6,2.6h-4.4l-2.6,-2.6v-4.4zm1,0h4.4l2.6,2.6v4.4l-2.6,2.6h-4.4l-2.6,-2.6v-4.4zm1,0h4.4l2.6,2.6v4.4l-2.6,2.6h-4.4l-2.6,-2.6v-4.4zm1,-1h4.4l2.6,2.6v4.4l-2.6,2.6h-4.4l-2.6,-2.6v-4.4zm1,0h4.4l2.6,2.6v4.4l-2.6,2.6h-4.4l-2.6,-2.6v-4.4zm1,0h4.4l2.6,2.6v4.4l-2.6,2.6h-4.4l-2.6,-2.6v-4.4zm1,0h4.4l2.6,2.6v4.4l-2.6,2.6h-4.4l-2.6,-2.6v-4.4zm1,-1h4.4l2.6,2.6v4.4l-2.6,2.6h-4.4l-2.6,-2.6v-4.4zm1,0h4.4l2.6,2.6v4.4l-2.6,2.6h-4.4l-2.6,-2.6v-4.4zm1,0h4.4l2.6,2.6v4.4l-2.6,2.6h-4.4l-2.6,-2.6v-4.4zm1,0h4.4l2.6,2.6v4.4l-2.6,2.6h-4.4l-2.6,-2.6v-4.4zm1,0h4.4l2.6,2.6v4.4l-2.6,2.6h-4.4l-2.6,-2.6v-4.4zm1,-1h4.4l2.6,2.6v4.4l-2.6,2.6h-4.4l-2.6,-2.6v-4.4zm1,0h4.4l2.6,2.6v4.4l-2.6,2.6h-4.4l-2.6,-2.6v-4.4zm1,0h4.4l2.6,2.6v4.4l-2.6,2.6h-4.4l-2.6,-2.6v-4.4zm1,-1h4.4l2.6,2.6v4.4l-2.6,2.6h-4.4l-2.6,-2.6v-4.4zm1,0h4.4l2.6,2.6v4.4l-2.6,2.6h-4.4l-2.6,-2.6v-4.4zm1,0h4.4l2.6,2.6v4.4l-2.6,2.6h-4.4l-2.6,-2.6v-4.4zm1,0h4.4l2.6,2.6v4.4l-2.6,2.6h-4.4l-2.6,-2.6v-4.4zm1,-1h4.4l2.6,2.6v4.4l-2.6,2.6h-4.4l-2.6,-2.6v-4.4zm1,0h4.4l2.6,2.6v4.4l-2.6,2.6h-4.4l-2.6,-2.6v-4.4zm1,0h4.4l2.6,2.6v4.4l-2.6,2.6h-4.4l-2.6,-2.6v-4.4zm1,0h4.4l2.6,2.6v4.4l-2.6,2.6h-4.4l-2.6,-2.6v-4.4zm1,-1h4.4l2.6,2.6v4.4l-2.6,2.6h-4.4l-2.6,-2.6v-4.4zm1,0h4.4l2.6,2.6v4.4l-2.6,2.6h-4.4l-2.6,-2.6v-4.4zm1,0h4.4l2.6,2.6v4.4l-2.6,2.6h-4.4l-2.6,-2.6v-4.4zm1,-1h4.4l2.6,2.6v4.4l-2.6,2.6h-4.4l-2.6,-2.6v-4.4zm1,0h4.4l2.6,2.6v4.4l-2.6,2.6h-4.4l-2.6,-2.6v-4.4zm1,0h4.4l2.6,2.6v4.4l-2.6,2.6h-4.4l-2.6,-2.6v-4.4zm1,-1h4.4l2.6,2.6v4.4l-2.6,2.6h-4.4l-2.6,-2.6v-4.4zm1,0h4.4l2.6,2.6v4.4l-2.6,2.6h-4.4l-2.6,-2.6v-4.4zm1,0h4.4l2.6,2.6v4.4l-2.6,2.6h-4.4l-2.6,-2.6v-4.4zm1,-1h4.4l2.6,2.6v4.4l-2.6,2.6h-4.4l-2.6,-2.6v-4.4zm1,0h4.4l2.6,2.6v4.4l-2.6,2.6h-4.4l-2.6,-2.6v-4.4zm1,0h4.4l2.6,2.6v4.4l-2.6,2.6h-4.4l-2.6,-2.6v-4.4zm1,-1h4.4l2.6,2.6v4.4l-2.6,2.6h-4.4l-2.6,-2.6v-4.4zm1,0h4.4l2.6,2.6v4.4l-2.6,2.6h-4.4l-2.6,-2.6v-4.4zm1,0h4.4l2.6,2.6v4.4l-2.6,2.6h-4.4l-2.6,-2.6v-4.4zm1,-1h4.4l2.6,2.6v4.4l-2.6,2.6h-4.4l-2.6,-2.6v-4.4zm1,0h4.4l2.6,2.6v4.4l-2.6,2.6h-4.4l-2.6,-2.6v-4.4zm1,0h4.4l2.6,2.6v4.4l-2.6,2.6h-4.4l-2.6,-2.6v-4.4zm1,-1h4.4l2.6,2.6v4.4l-2.6,2.6h-4.4l-2.6,-2.6v-4.4zm1,0h4.4l2.6,2.6v4.4l-2.6,2.6h-4.4l-2.6,-2.6v-4.4zm1,-1h4.4l2.6,2.6v4.4l-2.6,2.6h-4.4l-2.6,-2.6v-4.4zm1,0h4.4l2.6,2.6v4.4l-2.6,2.6h-4.4l-2.6,-2.6v-4.4zm1,0h4.4l2.6,2.6v4.4l-2.6,2.6h-4.4l-2.6,-2.6v-4.4zm1,-1h4.4l2.6,2.6v4.4l-2.6,2.6h-4.4l-2.6,-2.6v-4.4zm1,0h4.4l2.6,2.6v4.4l-2.6,2.6h-4.4l-2.6,-2.6v-4.4zm1,-1h4.4l2.6,2.6v4.4l-2.6,2.6h-4.4l-2.6,-2.6v-4.4zm1,0h4.4l2.6,2.6v4.4l-2.6,2.6h-4.4l-2.6,-2.6v-4.4zm1,0h4.4l2.6,2.6v4.4l-2.6,2.6h-4.4l-2.6,-2.6v-4.4zm1,-1h4.4l2.6,2.6v4.4l-2.6,2.6h-4.4l-2.6,-2.6v-4.4zm1,0h4.4l2.6,2.6v4.4l-2.6,2.6h-4.4l-2.6,-2.6v-4.4zm1,-1h4.4l2.6,2.6v4.4l-2.6,2.6h-4.4l-2.6,-2.6v-4.4zm1,0h4.4l2.6,2.6v4.4l-2.6,2.6h-4.4l-2.6,-2.6v-4.4zm1,-1h4.4l2.6,2.6v4.4l-2.6,2.6h-4.4l-2.6,-2.6v-4.4zm1,0h4.4l2.6,2.6v4.4l-2.6,2.6h-4.4l-2.6,-2.6v-4.4zm1,0h4.4l2.6,2.6v4.4l-2.6,2.6h-4.4l-2.6,-2.6v-4.4zm1,-1h4.4l2.6,2.6v4.4l-2.6,2.6h-4.4l-2.6,-2.6v-4.4zm1,0h4.4l2.6,2.6v4.4l-2.6,2.6h-4.4l-2.6,-2.6v-4.4zm1,-1h4.4l2.6,2.6v4.4l-2.6,2.6h-4.4l-2.6,-2.6v-4.4zm1,0h4.4l2.6,2.6v4.4l-2.6,2.6h-4.4l-2.6,-2.6v-4.4zm1,-1h4.4l2.6,2.6v4.4l-2.6,2.6h-4.4l-2.6,-2.6v-4.4zm1,0h4.4l2.6,2.6v4.4l-2.6,2.6h-4.4l-2.6,-2.6v-4.4zm1,-1h4.4l2.6,2.6v4.4l-2.6,2.6h-4.4l-2.6,-2.6v-4.4zm1,0h4.4l2.6,2.6v4.4l-2.6,2.6h-4.4l-2.6,-2.6v-4.4zm1,-1h4.4l2.6,2.6v4.4l-2.6,2.6h-4.4l-2.6,-2.6v-4.4zm1,0h4.4l2.6,2.6v4.4l-2.6,2.6h-4.4l-2.6,-2.6v-4.4zm1,-1h4.4l2.6,2.6v4.4l-2.6,2.6h-4.4l-2.6,-2.6v-4.4zm1,0h4.4l2.6,2.6v4.4l-2.6,2.6h-4.4l-2.6,-2.6v-4.4zm1,-1h4.4l2.6,2.6v4.4l-2.6,2.6h-4.4l-2.6,-2.6v-4.4zm1,0h4.4l2.6,2.6v4.4l-2.6,2.6h-4.4l-2.6,-2.6v-4.4zm1,-1h4.4l2.6,2.6v4.4l-2.6,2.6h-4.4l-2.6,-2.6v-4.4zm1,-1h4.4l2.6,2.6v4.4l-2.6,2.6h-4.4l-2.6,-2.6v-4.4zm1,0h4.4l2.6,2.6v4.4l-2.6,2.6h-4.4l-2.6,-2.6v-4.4zm1,-1h4.4l2.6,2.6v4.4l-2.6,2.6h-4.4l-2.6,-2.6v-4.4zm1,0h4.4l2.6,2.6v4.4l-2.6,2.6h-4.4l-2.6,-2.6v-4.4zm1,-1h4.4l2.6,2.6v4.4l-2.6,2.6h-4.4l-2.6,-2.6v-4.4zm1,0h4.4l2.6,2.6v4.4l-2.6,2.6h-4.4l-2.6,-2.6v-4.4zm1,-1h4.4l2.6,2.6v4.4l-2.6,2.6h-4.4l-2.6,-2.6v-4.4zm1,-1h4.4l2.6,2.6v4.4l-2.6,2.6h-4.4l-2.6,-2.6v-4.4zm1,0h4.4l2.6,2.6v4.4l-2.6,2.6h-4.4l-2.6,-2.6v-4.4zm1,-1h4.4l2.6,2.6v4.4l-2.6,2.6h-4.4l-2.6,-2.6v-4.4zm1,0h4.4l2.6,2.6v4.4l-2.6,2.6h-4.4l-2.6,-2.6v-4.4zm1,-1h4.4l2.6,2.6v4.4l-2.6,2.6h-4.4l-2.6,-2.6v-4.4zm1,-1h4.4l2.6,2.6v4.4l-2.6,2.6h-4.4l-2.6,-2.6v-4.4zm1,0h4.4l2.6,2.6v4.4l-2.6,2.6h-4.4l-2.6,-2.6v-4.4zm1,-1h4.4l2.6,2.6v4.4l-2.6,2.6h-4.4l-2.6,-2.6v-4.4zm1,-1h4.4l2.6,2.6v4.4l-2.6,2.6h-4.4l-2.6,-2.6v-4.4zm1,0h4.4l2.6,2.6v4.4l-2.6,2.6h-4.4l-2.6,-2.6v-4.4zm1,-1h4.4l2.6,2.6v4.4l-2.6,2.6h-4.4l-2.6,-2.6v-4.4zm1,-1h4.4l2.6,2.6v4.4l-2.6,2.6h-4.4l-2.6,-2.6v-4.4zm1,0h4.4l2.6,2.6v4.4l-2.6,2.6h-4.4l-2.6,-2.6v-4.4zm1,-1h4.4l2.6,2.6v4.4l-2.6,2.6h-4.4l-2.6,-2.6v-4.4zm1,-1h4.4l2.6,2.6v4.4l-2.6,2.6h-4.4l-2.6,-2.6v-4.4zm1,0h4.4l2.6,2.6v4.4l-2.6,2.6h-4.4l-2.6,-2.6v-4.4zm1,-1h4.4l2.6,2.6v4.4l-2.6,2.6h-4.4l-2.6,-2.6v-4.4zm1,-1h4.4l2.6,2.6v4.4l-2.6,2.6h-4.4l-2.6,-2.6v-4.4zm1,0h4.4l2.6,2.6v4.4l-2.6,2.6h-4.4l-2.6,-2.6v-4.4zm1,-1h4.4l2.6,2.6v4.4l-2.6,2.6h-4.4l-2.6,-2.6v-4.4zm1,-1h4.4l2.6,2.6v4.4l-2.6,2.6h-4.4l-2.6,-2.6v-4.4zm1,-1h4.4l2.6,2.6v4.4l-2.6,2.6h-4.4l-2.6,-2.6v-4.4zm1,0h4.4l2.6,2.6v4.4l-2.6,2.6h-4.4l-2.6,-2.6v-4.4zm1,-1h4.4l2.6,2.6v4.4l-2.6,2.6h-4.4l-2.6,-2.6v-4.4zm1,-1h4.4l2.6,2.6v4.4l-2.6,2.6h-4.4l-2.6,-2.6v-4.4zm1,0h4.4l2.6,2.6v4.4l-2.6,2.6h-4.4l-2.6,-2.6v-4.4zm1,-1h4.4l2.6,2.6v4.4l-2.6,2.6h-4.4l-2.6,-2.6v-4.4zm1,-1h4.4l2.6,2.6v4.4l-2.6,2.6h-4.4l-2.6,-2.6v-4.4zm1,-1h4.4l2.6,2.6v4.4l-2.6,2.6h-4.4l-2.6,-2.6v-4.4zm1,0h4.4l2.6,2.6v4.4l-2.6,2.6h-4.4l-2.6,-2.6v-4.4zm1,-1h4.4l2.6,2.6v4.4l-2.6,2.6h-4.4l-2.6,-2.6v-4.4zm1,-1h4.4l2.6,2.6v4.4l-2.6,2.6h-4.4l-2.6,-2.6v-4.4zm1,-1h4.4l2.6,2.6v4.4l-2.6,2.6h-4.4l-2.6,-2.6v-4.4zm1,0h4.4l2.6,2.6v4.4l-2.6,2.6h-4.4l-2.6,-2.6v-4.4zm1,-1h4.4l2.6,2.6v4.4l-2.6,2.6h-4.4l-2.6,-2.6v-4.4zm1,-1h4.4l2.6,2.6v4.4l-2.6,2.6h-4.4l-2.6,-2.6v-4.4zm1,-1h4.4l2.6,2.6v4.4l-2.6,2.6h-4.4l-2.6,-2.6v-4.4zm1,-1h4.4l2.6,2.6v4.4l-2.6,2.6h-4.4l-2.6,-2.6v-4.4zm1,0h4.4l2.6,2.6v4.4l-2.6,2.6h-4.4l-2.6,-2.6v-4.4zm1,-1h4.4l2.6,2.6v4.4l-2.6,2.6h-4.4l-2.6,-2.6v-4.4zm1,-1h4.4l2.6,2.6v4.4l-2.6,2.6h-4.4l-2.6,-2.6v-4.4zm1,-1h4.4l2.6,2.6v4.4l-2.6,2.6h-4.4l-2.6,-2.6v-4.4zm1,0h4.4l2.6,2.6v4.4l-2.6,2.6h-4.4l-2.6,-2.6v-4.4zm1,-1h4.4l2.6,2.6v4.4l-2.6,2.6h-4.4l-2.6,-2.6v-4.4zm1,-1h4.4l2.6,2.6v4.4l-2.6,2.6h-4.4l-2.6,-2.6v-4.4zm1,-1h4.4l2.6,2.6v4.4l-2.6,2.6h-4.4l-2.6,-2.6v-4.4zm1,-1h4.4l2.6,2.6v4.4l-2.6,2.6h-4.4l-2.6,-2.6v-4.4zm1,0h4.4l2.6,2.6v4.4l-2.6,2.6h-4.4l-2.6,-2.6v-4.4zm1,-1h4.4l2.6,2.6v4.4l-2.6,2.6h-4.4l-2.6,-2.6v-4.4zm1,-1h4.4l2.6,2.6v4.4l-2.6,2.6h-4.4l-2.6,-2.6v-4.4zm1,-1h4.4l2.6,2.6v4.4l-2.6,2.6h-4.4l-2.6,-2.6v-4.4zm1,-1h4.4l2.6,2.6v4.4l-2.6,2.6h-4.4l-2.6,-2.6v-4.4zm1,0h4.4l2.6,2.6v4.4l-2.6,2.6h-4.4l-2.6,-2.6v-4.4zm1,-1h4.4l2.6,2.6v4.4l-2.6,2.6h-4.4l-2.6,-2.6v-4.4zm1,-1h4.4l2.6,2.6v4.4l-2.6,2.6h-4.4l-2.6,-2.6v-4.4zm1,-1h4.4l2.6,2.6v4.4l-2.6,2.6h-4.4l-2.6,-2.6v-4.4zm1,-1h4.4l2.6,2.6v4.4l-2.6,2.6h-4.4l-2.6,-2.6v-4.4zm1,0h4.4l2.6,2.6v4.4l-2.6,2.6h-4.4l-2.6,-2.6v-4.4zm1,-1h4.4l2.6,2.6v4.4l-2.6,2.6h-4.4l-2.6,-2.6v-4.4zm1,-1h4.4l2.6,2.6v4.4l-2.6,2.6h-4.4l-2.6,-2.6v-4.4zm1,-1h4.4l2.6,2.6v4.4l-2.6,2.6h-4.4l-2.6,-2.6v-4.4zm1,-1h4.4l2.6,2.6v4.4l-2.6,2.6h-4.4l-2.6,-2.6v-4.4zm1,0h4.4l2.6,2.6v4.4l-2.6,2.6h-4.4l-2.6,-2.6v-4.4zm1,-1h4.4l2.6,2.6v4.4l-2.6,2.6h-4.4l-2.6,-2.6v-4.4zm1,-1h4.4l2.6,2.6v4.4l-2.6,2.6h-4.4l-2.6,-2.6v-4.4zm1,-1h4.4l2.6,2.6v4.4l-2.6,2.6h-4.4l-2.6,-2.6v-4.4zm1,-1h4.4l2.6,2.6v4.4l-2.6,2.6h-4.4l-2.6,-2.6v-4.4zm1,-1h4.4l2.6,2.6v4.4l-2.6,2.6h-4.4l-2.6,-2.6v-4.4zm1,0h4.4l2.6,2.6v4.4l-2.6,2.6h-4.4l-2.6,-2.6v-4.4zm1,-1h4.4l2.6,2.6v4.4l-2.6,2.6h-4.4l-2.6,-2.6v-4.4zm1,-1h4.4l2.6,2.6v4.4l-2.6,2.6h-4.4l-2.6,-2.6v-4.4zm1,-1h4.4l2.6,2.6v4.4l-2.6,2.6h-4.4l-2.6,-2.6v-4.4zm1,-1h4.4l2.6,2.6v4.4l-2.6,2.6h-4.4l-2.6,-2.6v-4.4zm1,-1h4.4l2.6,2.6v4.4l-2.6,2.6h-4.4l-2.6,-2.6v-4.4zm1,0h4.4l2.6,2.6v4.4l-2.6,2.6h-4.4l-2.6,-2.6v-4.4zm1,-1h4.4l2.6,2.6v4.4l-2.6,2.6h-4.4l-2.6,-2.6v-4.4zm1,-1h4.4l2.6,2.6v4.4l-2.6,2.6h-4.4l-2.6,-2.6v-4.4zm1,-1h4.4l2.6,2.6v4.4l-2.6,2.6h-4.4l-2.6,-2.6v-4.4zm1,-1h4.4l2.6,2.6v4.4l-2.6,2.6h-4.4l-2.6,-2.6v-4.4zm1,-1h4.4l2.6,2.6v4.4l-2.6,2.6h-4.4l-2.6,-2.6v-4.4zm1,0h4.4l2.6,2.6v4.4l-2.6,2.6h-4.4l-2.6,-2.6v-4.4zm1,-1h4.4l2.6,2.6v4.4l-2.6,2.6h-4.4l-2.6,-2.6v-4.4zm1,-1h4.4l2.6,2.6v4.4l-2.6,2.6h-4.4l-2.6,-2.6v-4.4zm1,-1h4.4l2.6,2.6v4.4l-2.6,2.6h-4.4l-2.6,-2.6v-4.4zm1,-1h4.4l2.6,2.6v4.4l-2.6,2.6h-4.4l-2.6,-2.6v-4.4zm1,-1h4.4l2.6,2.6v4.4l-2.6,2.6h-4.4l-2.6,-2.6v-4.4zm1,0h4.4l2.6,2.6v4.4l-2.6,2.6h-4.4l-2.6,-2.6v-4.4zm1,-1h4.4l2.6,2.6v4.4l-2.6,2.6h-4.4l-2.6,-2.6v-4.4zm1,-1h4.4l2.6,2.6v4.4l-2.6,2.6h-4.4l-2.6,-2.6v-4.4zm1,-1h4.4l2.6,2.6v4.4l-2.6,2.6h-4.4l-2.6,-2.6v-4.4zm1,-1h4.4l2.6,2.6v4.4l-2.6,2.6h-4.4l-2.6,-2.6v-4.4zm1,-1h4.4l2.6,2.6v4.4l-2.6,2.6h-4.4l-2.6,-2.6v-4.4zm1,0h4.4l2.6,2.6v4.4l-2.6,2.6h-4.4l-2.6,-2.6v-4.4zm1,-1h4.4l2.6,2.6v4.4l-2.6,2.6h-4.4l-2.6,-2.6v-4.4zm1,-1h4.4l2.6,2.6v4.4l-2.6,2.6h-4.4l-2.6,-2.6v-4.4zm1,-1h4.4l2.6,2.6v4.4l-2.6,2.6h-4.4l-2.6,-2.6v-4.4zm1,-1h4.4l2.6,2.6v4.4l-2.6,2.6h-4.4l-2.6,-2.6v-4.4zm1,-1h4.4l2.6,2.6v4.4l-2.6,2.6h-4.4l-2.6,-2.6v-4.4zm1,-1h4.4l2.6,2.6v4.4l-2.6,2.6h-4.4l-2.6,-2.6v-4.4zm1,-1h4.4l2.6,2.6v4.4l-2.6,2.6h-4.4l-2.6,-2.6v-4.4zm1,0h4.4l2.6,2.6v4.4l-2.6,2.6h-4.4l-2.6,-2.6v-4.4zm1,-1h4.4l2.6,2.6v4.4l-2.6,2.6h-4.4l-2.6,-2.6v-4.4zm1,-1h4.4l2.6,2.6v4.4l-2.6,2.6h-4.4l-2.6,-2.6v-4.4zm1,-1h4.4l2.6,2.6v4.4l-2.6,2.6h-4.4l-2.6,-2.6v-4.4zm1,-1h4.4l2.6,2.6v4.4l-2.6,2.6h-4.4l-2.6,-2.6v-4.4zm1,-1h4.4l2.6,2.6v4.4l-2.6,2.6h-4.4l-2.6,-2.6v-4.4zm1,-1h4.4l2.6,2.6v4.4l-2.6,2.6h-4.4l-2.6,-2.6v-4.4zm1,0h4.4l2.6,2.6v4.4l-2.6,2.6h-4.4l-2.6,-2.6v-4.4zm1,-1h4.4l2.6,2.6v4.4l-2.6,2.6h-4.4l-2.6,-2.6v-4.4zm1,-1h4.4l2.6,2.6v4.4l-2.6,2.6h-4.4l-2.6,-2.6v-4.4zm1,-1h4.4l2.6,2.6v4.4l-2.6,2.6h-4.4l-2.6,-2.6v-4.4zm1,-1h4.4l2.6,2.6v4.4l-2.6,2.6h-4.4l-2.6,-2.6v-4.4zm1,-1h4.4l2.6,2.6v4.4l-2.6,2.6h-4.4l-2.6,-2.6v-4.4zm1,-1h4.4l2.6,2.6v4.4l-2.6,2.6h-4.4l-2.6,-2.6v-4.4zm1,-1h4.4l2.6,2.6v4.4l-2.6,2.6h-4.4l-2.6,-2.6v-4.4zm1,-1h4.4l2.6,2.6v4.4l-2.6,2.6h-4.4l-2.6,-2.6v-4.4zm1,0h4.4l2.6,2.6v4.4l-2.6,2.6h-4.4l-2.6,-2.6v-4.4zm1,-1h4.4l2.6,2.6v4.4l-2.6,2.6h-4.4l-2.6,-2.6v-4.4zm1,-1h4.4l2.6,2.6v4.4l-2.6,2.6h-4.4l-2.6,-2.6v-4.4zm1,-1h4.4l2.6,2.6v4.4l-2.6,2.6h-4.4l-2.6,-2.6v-4.4zm1,-1h4.4l2.6,2.6v4.4l-2.6,2.6h-4.4l-2.6,-2.6v-4.4zm1,-1h4.4l2.6,2.6v4.4l-2.6,2.6h-4.4l-2.6,-2.6v-4.4zm1,-1h4.4l2.6,2.6v4.4l-2.6,2.6h-4.4l-2.6,-2.6v-4.4zm1,-1h4.4l2.6,2.6v4.4l-2.6,2.6h-4.4l-2.6,-2.6v-4.4zm1,0h4.4l2.6,2.6v4.4l-2.6,2.6h-4.4l-2.6,-2.6v-4.4zm1,-1h4.4l2.6,2.6v4.4l-2.6,2.6h-4.4l-2.6,-2.6v-4.4zm1,-1h4.4l2.6,2.6v4.4l-2.6,2.6h-4.4l-2.6,-2.6v-4.4zm1,-1h4.4l2.6,2.6v4.4l-2.6,2.6h-4.4l-2.6,-2.6v-4.4zm1,-1h4.4l2.6,2.6v4.4l-2.6,2.6h-4.4l-2.6,-2.6v-4.4zm1,-1h4.4l2.6,2.6v4.4l-2.6,2.6h-4.4l-2.6,-2.6v-4.4zm1,-1h4.4l2.6,2.6v4.4l-2.6,2.6h-4.4l-2.6,-2.6v-4.4zm1,-1h4.4l2.6,2.6v4.4l-2.6,2.6h-4.4l-2.6,-2.6v-4.4zm1,-1h4.4l2.6,2.6v4.4l-2.6,2.6h-4.4l-2.6,-2.6v-4.4zm1,0h4.4l2.6,2.6v4.4l-2.6,2.6h-4.4l-2.6,-2.6v-4.4zm1,-1h4.4l2.6,2.6v4.4l-2.6,2.6h-4.4l-2.6,-2.6v-4.4zm1,-1h4.4l2.6,2.6v4.4l-2.6,2.6h-4.4l-2.6,-2.6v-4.4zm1,-1h4.4l2.6,2.6v4.4l-2.6,2.6h-4.4l-2.6,-2.6v-4.4zm1,-1h4.4l2.6,2.6v4.4l-2.6,2.6h-4.4l-2.6,-2.6v-4.4zm1,-1h4.4l2.6,2.6v4.4l-2.6,2.6h-4.4l-2.6,-2.6v-4.4zm1,-1h4.4l2.6,2.6v4.4l-2.6,2.6h-4.4l-2.6,-2.6v-4.4zm1,-1h4.4l2.6,2.6v4.4l-2.6,2.6h-4.4l-2.6,-2.6v-4.4zm1,-1h4.4l2.6,2.6v4.4l-2.6,2.6h-4.4l-2.6,-2.6v-4.4zm1,0h4.4l2.6,2.6v4.4l-2.6,2.6h-4.4l-2.6,-2.6v-4.4zm1,-1h4.4l2.6,2.6v4.4l-2.6,2.6h-4.4l-2.6,-2.6v-4.4zm1,-1h4.4l2.6,2.6v4.4l-2.6,2.6h-4.4l-2.6,-2.6v-4.4zm1,-1h4.4l2.6,2.6v4.4l-2.6,2.6h-4.4l-2.6,-2.6v-4.4zm1,-1h4.4l2.6,2.6v4.4l-2.6,2.6h-4.4l-2.6,-2.6v-4.4zm1,-1h4.4l2.6,2.6v4.4l-2.6,2.6h-4.4l-2.6,-2.6v-4.4zm1,-1h4.4l2.6,2.6v4.4l-2.6,2.6h-4.4l-2.6,-2.6v-4.4zm1,-1h4.4l2.6,2.6v4.4l-2.6,2.6h-4.4l-2.6,-2.6v-4.4zm1,0h4.4l2.6,2.6v4.4l-2.6,2.6h-4.4l-2.6,-2.6v-4.4zm1,-1h4.4l2.6,2.6v4.4l-2.6,2.6h-4.4l-2.6,-2.6v-4.4zm1,-1h4.4l2.6,2.6v4.4l-2.6,2.6h-4.4l-2.6,-2.6v-4.4zm1,-1h4.4l2.6,2.6v4.4l-2.6,2.6h-4.4l-2.6,-2.6v-4.4zm1,-1h4.4l2.6,2.6v4.4l-2.6,2.6h-4.4l-2.6,-2.6v-4.4zm1,-1h4.4l2.6,2.6v4.4l-2.6,2.6h-4.4l-2.6,-2.6v-4.4zm1,-1h4.4l2.6,2.6v4.4l-2.6,2.6h-4.4l-2.6,-2.6v-4.4zm1,-1h4.4l2.6,2.6v4.4l-2.6,2.6h-4.4l-2.6,-2.6v-4.4zm1,0h4.4l2.6,2.6v4.4l-2.6,2.6h-4.4l-2.6,-2.6v-4.4zm1,-1h4.4l2.6,2.6v4.4l-2.6,2.6h-4.4l-2.6,-2.6v-4.4zm1,-1h4.4l2.6,2.6v4.4l-2.6,2.6h-4.4l-2.6,-2.6v-4.4zm1,-1h4.4l2.6,2.6v4.4l-2.6,2.6h-4.4l-2.6,-2.6v-4.4zm1,-1h4.4l2.6,2.6v4.4l-2.6,2.6h-4.4l-2.6,-2.6v-4.4zm1,-1h4.4l2.6,2.6v4.4l-2.6,2.6h-4.4l-2.6,-2.6v-4.4zm1,-1h4.4l2.6,2.6v4.4l-2.6,2.6h-4.4l-2.6,-2.6v-4.4zm1,0h4.4l2.6,2.6v4.4l-2.6,2.6h-4.4l-2.6,-2.6v-4.4zm1,-1h4.4l2.6,2.6v4.4l-2.6,2.6h-4.4l-2.6,-2.6v-4.4zm1,-1h4.4l2.6,2.6v4.4l-2.6,2.6h-4.4l-2.6,-2.6v-4.4zm1,-1h4.4l2.6,2.6v4.4l-2.6,2.6h-4.4l-2.6,-2.6v-4.4zm1,-1h4.4l2.6,2.6v4.4l-2.6,2.6h-4.4l-2.6,-2.6v-4.4zm1,-1h4.4l2.6,2.6v4.4l-2.6,2.6h-4.4l-2.6,-2.6v-4.4zm1,-1h4.4l2.6,2.6v4.4l-2.6,2.6h-4.4l-2.6,-2.6v-4.4zm1,-1h4.4l2.6,2.6v4.4l-2.6,2.6h-4.4l-2.6,-2.6v-4.4zm1,0h4.4l2.6,2.6v4.4l-2.6,2.6h-4.4l-2.6,-2.6v-4.4zm1,-1h4.4l2.6,2.6v4.4l-2.6,2.6h-4.4l-2.6,-2.6v-4.4zm1,-1h4.4l2.6,2.6v4.4l-2.6,2.6h-4.4l-2.6,-2.6v-4.4zm1,-1h4.4l2.6,2.6v4.4l-2.6,2.6h-4.4l-2.6,-2.6v-4.4zm1,-1h4.4l2.6,2.6v4.4l-2.6,2.6h-4.4l-2.6,-2.6v-4.4zm1,-1h4.4l2.6,2.6v4.4l-2.6,2.6h-4.4l-2.6,-2.6v-4.4zm1,-1h4.4l2.6,2.6v4.4l-2.6,2.6h-4.4l-2.6,-2.6v-4.4zm1,-1h4.4l2.6,2.6v4.4l-2.6,2.6h-4.4l-2.6,-2.6v-4.4zm1,-1h4.4l2.6,2.6v4.4l-2.6,2.6h-4.4l-2.6,-2.6v-4.4zm2,-1h4.4l2.6,2.6v4.4l-2.6,2.6h-4.4l-2.6,-2.6v-4.4zm1,-1h4.4l2.6,2.6v4.4l-2.6,2.6h-4.4l-2.6,-2.6v-4.4zm1,-1h4.4l2.6,2.6v4.4l-2.6,2.6h-4.4l-2.6,-2.6v-4.4zm1,-1h4.4l2.6,2.6v4.4l-2.6,2.6h-4.4l-2.6,-2.6v-4.4zm1,-1h4.4l2.6,2.6v4.4l-2.6,2.6h-4.4l-2.6,-2.6v-4.4zm1,-1h4.4l2.6,2.6v4.4l-2.6,2.6h-4.4l-2.6,-2.6v-4.4zm1,-1h4.4l2.6,2.6v4.4l-2.6,2.6h-4.4l-2.6,-2.6v-4.4zm2,-1h4.4l2.6,2.6v4.4l-2.6,2.6h-4.4l-2.6,-2.6v-4.4zm1,0h4.4l2.6,2.6v4.4l-2.6,2.6h-4.4l-2.6,-2.6v-4.4zm1,-1h4.4l2.6,2.6v4.4l-2.6,2.6h-4.4l-2.6,-2.6v-4.4zm1,-1h4.4l2.6,2.6v4.4l-2.6,2.6h-4.4l-2.6,-2.6v-4.4zm1,-1h4.4l2.6,2.6v4.4l-2.6,2.6h-4.4l-2.6,-2.6v-4.4zm2,-1h4.4l2.6,2.6v4.4l-2.6,2.6h-4.4l-2.6,-2.6v-4.4zm1,-1h4.4l2.6,2.6v4.4l-2.6,2.6h-4.4l-2.6,-2.6v-4.4zm1,-1h4.4l2.6,2.6v4.4l-2.6,2.6h-4.4l-2.6,-2.6v-4.4zm1,-1h4.4l2.6,2.6v4.4l-2.6,2.6h-4.4l-2.6,-2.6v-4.4zm2,-2h4.4l2.6,2.6v4.4l-2.6,2.6h-4.4l-2.6,-2.6v-4.4zm1,-1h4.4l2.6,2.6v4.4l-2.6,2.6h-4.4l-2.6,-2.6v-4.4zm1,-1h4.4l2.6,2.6v4.4l-2.6,2.6h-4.4l-2.6,-2.6v-4.4zm1,-1h4.4l2.6,2.6v4.4l-2.6,2.6h-4.4l-2.6,-2.6v-4.4zm2,-1h4.4l2.6,2.6v4.4l-2.6,2.6h-4.4l-2.6,-2.6v-4.4zm1,-1h4.4l2.6,2.6v4.4l-2.6,2.6h-4.4l-2.6,-2.6v-4.4zm1,-1h4.4l2.6,2.6v4.4l-2.6,2.6h-4.4l-2.6,-2.6v-4.4zm1,-1h4.4l2.6,2.6v4.4l-2.6,2.6h-4.4l-2.6,-2.6v-4.4zm2,-1h4.4l2.6,2.6v4.4l-2.6,2.6h-4.4l-2.6,-2.6v-4.4zm1,-1h4.4l2.6,2.6v4.4l-2.6,2.6h-4.4l-2.6,-2.6v-4.4zm1,-1h4.4l2.6,2.6v4.4l-2.6,2.6h-4.4l-2.6,-2.6v-4.4zm2,-1h4.4l2.6,2.6v4.4l-2.6,2.6h-4.4l-2.6,-2.6v-4.4zm1,-1h4.4l2.6,2.6v4.4l-2.6,2.6h-4.4l-2.6,-2.6v-4.4zm1,-1h4.4l2.6,2.6v4.4l-2.6,2.6h-4.4l-2.6,-2.6v-4.4zm2,-1h4.4l2.6,2.6v4.4l-2.6,2.6h-4.4l-2.6,-2.6v-4.4zm1,-1h4.4l2.6,2.6v4.4l-2.6,2.6h-4.4l-2.6,-2.6v-4.4zm2,-1h4.4l2.6,2.6v4.4l-2.6,2.6h-4.4l-2.6,-2.6v-4.4zm1,-2h4.4l2.6,2.6v4.4l-2.6,2.6h-4.4l-2.6,-2.6v-4.4zm1,-1h4.4l2.6,2.6v4.4l-2.6,2.6h-4.4l-2.6,-2.6v-4.4zm2,-1h4.4l2.6,2.6v4.4l-2.6,2.6h-4.4l-2.6,-2.6v-4.4zm1,-1h4.4l2.6,2.6v4.4l-2.6,2.6h-4.4l-2.6,-2.6v-4.4zm2,-1h4.4l2.6,2.6v4.4l-2.6,2.6h-4.4l-2.6,-2.6v-4.4zm1,-1h4.4l2.6,2.6v4.4l-2.6,2.6h-4.4l-2.6,-2.6v-4.4zm2,-1h4.4l2.6,2.6v4.4l-2.6,2.6h-4.4l-2.6,-2.6v-4.4zm1,-1h4.4l2.6,2.6v4.4l-2.6,2.6h-4.4l-2.6,-2.6v-4.4zm1,-2h4.4l2.6,2.6v4.4l-2.6,2.6h-4.4l-2.6,-2.6v-4.4zm2,-1h4.4l2.6,2.6v4.4l-2.6,2.6h-4.4l-2.6,-2.6v-4.4zm1,-1h4.4l2.6,2.6v4.4l-2.6,2.6h-4.4l-2.6,-2.6v-4.4zm2,-1h4.4l2.6,2.6v4.4l-2.6,2.6h-4.4l-2.6,-2.6v-4.4zm1,-1h4.4l2.6,2.6v4.4l-2.6,2.6h-4.4l-2.6,-2.6v-4.4zm2,-1h4.4l2.6,2.6v4.4l-2.6,2.6h-4.4l-2.6,-2.6v-4.4zm2,-1h4.4l2.6,2.6v4.4l-2.6,2.6h-4.4l-2.6,-2.6v-4.4zm1,-2h4.4l2.6,2.6v4.4l-2.6,2.6h-4.4l-2.6,-2.6v-4.4zm2,-1h4.4l2.6,2.6v4.4l-2.6,2.6h-4.4l-2.6,-2.6v-4.4zm1,-1h4.4l2.6,2.6v4.4l-2.6,2.6h-4.4l-2.6,-2.6v-4.4zm2,-1h4.4l2.6,2.6v4.4l-2.6,2.6h-4.4l-2.6,-2.6v-4.4zm1,-1h4.4l2.6,2.6v4.4l-2.6,2.6h-4.4l-2.6,-2.6v-4.4zm2,-1h4.4l2.6,2.6v4.4l-2.6,2.6h-4.4l-2.6,-2.6v-4.4zm2,-2h4.4l2.6,2.6v4.4l-2.6,2.6h-4.4l-2.6,-2.6v-4.4zm1,-1h4.4l2.6,2.6v4.4l-2.6,2.6h-4.4l-2.6,-2.6v-4.4zm2,-1h4.4l2.6,2.6v4.4l-2.6,2.6h-4.4l-2.6,-2.6v-4.4zm1,-1h4.4l2.6,2.6v4.4l-2.6,2.6h-4.4l-2.6,-2.6v-4.4zm2,-1h4.4l2.6,2.6v4.4l-2.6,2.6h-4.4l-2.6,-2.6v-4.4zm2,-2h4.4l2.6,2.6v4.4l-2.6,2.6h-4.4l-2.6,-2.6v-4.4zm1,-1h4.4l2.6,2.6v4.4l-2.6,2.6h-4.4l-2.6,-2.6v-4.4zm2,-1h4.4l2.6,2.6v4.4l-2.6,2.6h-4.4l-2.6,-2.6v-4.4zm2,-1h4.4l2.6,2.6v4.4l-2.6,2.6h-4.4l-2.6,-2.6v-4.4zm1,-1h4.4l2.6,2.6v4.4l-2.6,2.6h-4.4l-2.6,-2.6v-4.4zm2,-2h4.4l2.6,2.6v4.4l-2.6,2.6h-4.4l-2.6,-2.6v-4.4zm2,-1h4.4l2.6,2.6v4.4l-2.6,2.6h-4.4l-2.6,-2.6v-4.4zm2,-1h4.4l2.6,2.6v4.4l-2.6,2.6h-4.4l-2.6,-2.6v-4.4zm1,-1h4.4l2.6,2.6v4.4l-2.6,2.6h-4.4l-2.6,-2.6v-4.4zm2,-2h4.4l2.6,2.6v4.4l-2.6,2.6h-4.4l-2.6,-2.6v-4.4zm2,-1h4.4l2.6,2.6v4.4l-2.6,2.6h-4.4l-2.6,-2.6v-4.4zm2,-1h4.4l2.6,2.6v4.4l-2.6,2.6h-4.4l-2.6,-2.6v-4.4zm1,-1h4.4l2.6,2.6v4.4l-2.6,2.6h-4.4l-2.6,-2.6v-4.4zm2,-2h4.4l2.6,2.6v4.4l-2.6,2.6h-4.4l-2.6,-2.6v-4.4zm2,-1h4.4l2.6,2.6v4.4l-2.6,2.6h-4.4l-2.6,-2.6v-4.4zm2,-1h4.4l2.6,2.6v4.4l-2.6,2.6h-4.4l-2.6,-2.6v-4.4zm2,-2h4.4l2.6,2.6v4.4l-2.6,2.6h-4.4l-2.6,-2.6v-4.4zm2,-1h4.4l2.6,2.6v4.4l-2.6,2.6h-4.4l-2.6,-2.6v-4.4zm1,-1h4.4l2.6,2.6v4.4l-2.6,2.6h-4.4l-2.6,-2.6v-4.4zm2,-1h4.4l2.6,2.6v4.4l-2.6,2.6h-4.4l-2.6,-2.6v-4.4zm2,-2h4.4l2.6,2.6v4.4l-2.6,2.6h-4.4l-2.6,-2.6v-4.4zm2,-1h4.4l2.6,2.6v4.4l-2.6,2.6h-4.4l-2.6,-2.6v-4.4zm2,-1h4.4l2.6,2.6v4.4l-2.6,2.6h-4.4l-2.6,-2.6v-4.4zm2,-2h4.4l2.6,2.6v4.4l-2.6,2.6h-4.4l-2.6,-2.6v-4.4zm2,-1h4.4l2.6,2.6v4.4l-2.6,2.6h-4.4l-2.6,-2.6v-4.4zm2,-1h4.4l2.6,2.6v4.4l-2.6,2.6h-4.4l-2.6,-2.6v-4.4zm2,-2h4.4l2.6,2.6v4.4l-2.6,2.6h-4.4l-2.6,-2.6v-4.4zm2,-1h4.4l2.6,2.6v4.4l-2.6,2.6h-4.4l-2.6,-2.6v-4.4zm2,-1h4.4l2.6,2.6v4.4l-2.6,2.6h-4.4l-2.6,-2.6v-4.4zm2,-2h4.4l2.6,2.6v4.4l-2.6,2.6h-4.4l-2.6,-2.6v-4.4zm2,-1h4.4l2.6,2.6v4.4l-2.6,2.6h-4.4l-2.6,-2.6v-4.4zm2,-1h4.4l2.6,2.6v4.4l-2.6,2.6h-4.4l-2.6,-2.6v-4.4zm2,-2h4.4l2.6,2.6v4.4l-2.6,2.6h-4.4l-2.6,-2.6v-4.4zm2,-1h4.4l2.6,2.6v4.4l-2.6,2.6h-4.4l-2.6,-2.6v-4.4zm2,-2h4.4l2.6,2.6v4.4l-2.6,2.6h-4.4l-2.6,-2.6v-4.4zm2,-1h4.4l2.6,2.6v4.4l-2.6,2.6h-4.4l-2.6,-2.6v-4.4zm2,-1h4.4l2.6,2.6v4.4l-2.6,2.6h-4.4l-2.6,-2.6v-4.4zm3,-2h4.4l2.6,2.6v4.4l-2.6,2.6h-4.4l-2.6,-2.6v-4.4zm2,-1h4.4l2.6,2.6v4.4l-2.6,2.6h-4.4l-2.6,-2.6v-4.4zm2,-2h4.4l2.6,2.6v4.4l-2.6,2.6h-4.4l-2.6,-2.6v-4.4zm2,-1h4.4l2.6,2.6v4.4l-2.6,2.6h-4.4l-2.6,-2.6v-4.4zm2,-2h4.4l2.6,2.6v4.4l-2.6,2.6h-4.4l-2.6,-2.6v-4.4zm3,-1h4.4l2.6,2.6v4.4l-2.6,2.6h-4.4l-2.6,-2.6v-4.4zm2,-2h4.4l2.6,2.6v4.4l-2.6,2.6h-4.4l-2.6,-2.6v-4.4zm2,-1h4.4l2.6,2.6v4.4l-2.6,2.6h-4.4l-2.6,-2.6v-4.4zm3,-2h4.4l2.6,2.6v4.4l-2.6,2.6h-4.4l-2.6,-2.6v-4.4zm2,-1h4.4l2.6,2.6v4.4l-2.6,2.6h-4.4l-2.6,-2.6v-4.4zm2,-1h4.4l2.6,2.6v4.4l-2.6,2.6h-4.4l-2.6,-2.6v-4.4zm3,-2h4.4l2.6,2.6v4.4l-2.6,2.6h-4.4l-2.6,-2.6v-4.4zm2,-1h4.4l2.6,2.6v4.4l-2.6,2.6h-4.4l-2.6,-2.6v-4.4zm3,-2h4.4l2.6,2.6v4.4l-2.6,2.6h-4.4l-2.6,-2.6v-4.4zm2,-1h4.4l2.6,2.6v4.4l-2.6,2.6h-4.4l-2.6,-2.6v-4.4zm2,-2h4.4l2.6,2.6v4.4l-2.6,2.6h-4.4l-2.6,-2.6v-4.4zm3,-1h4.4l2.6,2.6v4.4l-2.6,2.6h-4.4l-2.6,-2.6v-4.4zm2,-2h4.4l2.6,2.6v4.4l-2.6,2.6h-4.4l-2.6,-2.6v-4.4zm3,-1h4.4l2.6,2.6v4.4l-2.6,2.6h-4.4l-2.6,-2.6v-4.4zm3,-2h4.4l2.6,2.6v4.4l-2.6,2.6h-4.4l-2.6,-2.6v-4.4zm2,-1h4.4l2.6,2.6v4.4l-2.6,2.6h-4.4l-2.6,-2.6v-4.4zm3,-1h4.4l2.6,2.6v4.4l-2.6,2.6h-4.4l-2.6,-2.6v-4.4zm2,-2h4.4l2.6,2.6v4.4l-2.6,2.6h-4.4l-2.6,-2.6v-4.4zm3,-1h4.4l2.6,2.6v4.4l-2.6,2.6h-4.4l-2.6,-2.6v-4.4zm3,-2h4.4l2.6,2.6v4.4l-2.6,2.6h-4.4l-2.6,-2.6v-4.4zm2,-1h4.4l2.6,2.6v4.4l-2.6,2.6h-4.4l-2.6,-2.6v-4.4zm3,-1h4.4l2.6,2.6v4.4l-2.6,2.6h-4.4l-2.6,-2.6v-4.4zm3,-1h4.4l2.6,2.6v4.4l-2.6,2.6h-4.4l-2.6,-2.6v-4.4zm3,-2h4.4l2.6,2.6v4.4l-2.6,2.6h-4.4l-2.6,-2.6v-4.4zm2,-1h4.4l2.6,2.6v4.4l-2.6,2.6h-4.4l-2.6,-2.6v-4.4zm3,-1h4.4l2.6,2.6v4.4l-2.6,2.6h-4.4l-2.6,-2.6v-4.4zm3,-1h4.4l2.6,2.6v4.4l-2.6,2.6h-4.4l-2.6,-2.6v-4.4zm3,-1h4.4l2.6,2.6v4.4l-2.6,2.6h-4.4l-2.6,-2.6v-4.4zm3,-1h4.4l2.6,2.6v4.4l-2.6,2.6h-4.4l-2.6,-2.6v-4.4zm3,-2h4.4l2.6,2.6v4.4l-2.6,2.6h-4.4l-2.6,-2.6v-4.4zm3,-1h4.4l2.6,2.6v4.4l-2.6,2.6h-4.4l-2.6,-2.6v-4.4zm7,-2h4.4l2.6,2.6v4.4l-2.6,2.6h-4.4l-2.6,-2.6v-4.4zm2,-1h4.4l2.6,2.6v4.4l-2.6,2.6h-4.4l-2.6,-2.6v-4.4zm6,-2h4.4l2.6,2.6v4.4l-2.6,2.6h-4.4l-2.6,-2.6v-4.4zm5,-1h4.4l2.6,2.6v4.4l-2.6,2.6h-4.4l-2.6,-2.6v-4.4zm9,-3h4.4l2.6,2.6v4.4l-2.6,2.6h-4.4l-2.6,-2.6v-4.4zm5,-1h4.4l2.6,2.6v4.4l-2.6,2.6h-4.4l-2.6,-2.6v-4.4zm4,-2h4.4l2.6,2.6v4.4l-2.6,2.6h-4.4l-2.6,-2.6v-4.4zm5,-1h4.4l2.6,2.6v4.4l-2.6,2.6h-4.4l-2.6,-2.6v-4.4zm17,-6h4.4l2.6,2.6v4.4l-2.6,2.6h-4.4l-2.6,-2.6v-4.4zm22,-6h4.4l2.6,2.6v4.4l-2.6,2.6h-4.4l-2.6,-2.6v-4.4zm27,-8h4.4l2.6,2.6v4.4l-2.6,2.6h-4.4l-2.6,-2.6v-4.4zm6,-1h4.4l2.6,2.6v4.4l-2.6,2.6h-4.4l-2.6,-2.6v-4.4zm3,-1h4.4l2.6,2.6v4.4l-2.6,2.6h-4.4l-2.6,-2.6v-4.4zm10,-2h4.4l2.6,2.6v4.4l-2.6,2.6h-4.4l-2.6,-2.6v-4.4zm32,-7h4.4l2.6,2.6v4.4l-2.6,2.6h-4.4l-2.6,-2.6v-4.4zm-1352,735h4.4l2.6,2.6v4.4l-2.6,2.6h-4.4l-2.6,-2.6v-4.4zm16,-7h4.4l2.6,2.6v4.4l-2.6,2.6h-4.4l-2.6,-2.6v-4.4zm19,-8h4.4l2.6,2.6v4.4l-2.6,2.6h-4.4l-2.6,-2.6v-4.4zm53,-22h4.4l2.6,2.6v4.4l-2.6,2.6h-4.4l-2.6,-2.6v-4.4zm25,-11h4.4l2.6,2.6v4.4l-2.6,2.6h-4.4l-2.6,-2.6v-4.4zm53,-22h4.4l2.6,2.6v4.4l-2.6,2.6h-4.4l-2.6,-2.6v-4.4zm12,-6h4.4l2.6,2.6v4.4l-2.6,2.6h-4.4l-2.6,-2.6v-4.4zm10,-4h4.4l2.6,2.6v4.4l-2.6,2.6h-4.4l-2.6,-2.6v-4.4zm2,-1h4.4l2.6,2.6v4.4l-2.6,2.6h-4.4l-2.6,-2.6v-4.4zm9,-3h4.4l2.6,2.6v4.4l-2.6,2.6h-4.4l-2.6,-2.6v-4.4zm25,-11h4.4l2.6,2.6v4.4l-2.6,2.6h-4.4l-2.6,-2.6v-4.4zm8,-4h4.4l2.6,2.6v4.4l-2.6,2.6h-4.4l-2.6,-2.6v-4.4zm5,-1h4.4l2.6,2.6v4.4l-2.6,2.6h-4.4l-2.6,-2.6v-4.4zm9,-4h4.4l2.6,2.6v4.4l-2.6,2.6h-4.4l-2.6,-2.6v-4.4zm8,-4h4.4l2.6,2.6v4.4l-2.6,2.6h-4.4l-2.6,-2.6v-4.4zm2,-1h4.4l2.6,2.6v4.4l-2.6,2.6h-4.4l-2.6,-2.6v-4.4zm3,-1h4.4l2.6,2.6v4.4l-2.6,2.6h-4.4l-2.6,-2.6v-4.4zm3,-1h4.4l2.6,2.6v4.4l-2.6,2.6h-4.4l-2.6,-2.6v-4.4zm3,-1h4.4l2.6,2.6v4.4l-2.6,2.6h-4.4l-2.6,-2.6v-4.4zm3,-2h4.4l2.6,2.6v4.4l-2.6,2.6h-4.4l-2.6,-2.6v-4.4zm2,0h4.4l2.6,2.6v4.4l-2.6,2.6h-4.4l-2.6,-2.6v-4.4zm2,-1h4.4l2.6,2.6v4.4l-2.6,2.6h-4.4l-2.6,-2.6v-4.4zm3,-1h4.4l2.6,2.6v4.4l-2.6,2.6h-4.4l-2.6,-2.6v-4.4zm2,-1h4.4l2.6,2.6v4.4l-2.6,2.6h-4.4l-2.6,-2.6v-4.4zm3,-2h4.4l2.6,2.6v4.4l-2.6,2.6h-4.4l-2.6,-2.6v-4.4zm3,-1h4.4l2.6,2.6v4.4l-2.6,2.6h-4.4l-2.6,-2.6v-4.4zm3,-1h4.4l2.6,2.6v4.4l-2.6,2.6h-4.4l-2.6,-2.6v-4.4zm3,-2h4.4l2.6,2.6v4.4l-2.6,2.6h-4.4l-2.6,-2.6v-4.4zm14,-5h4.4l2.6,2.6v4.4l-2.6,2.6h-4.4l-2.6,-2.6v-4.4zm14,-6h4.4l2.6,2.6v4.4l-2.6,2.6h-4.4l-2.6,-2.6v-4.4zm8,-3h4.4l2.6,2.6v4.4l-2.6,2.6h-4.4l-2.6,-2.6v-4.4zm2,-1h4.4l2.6,2.6v4.4l-2.6,2.6h-4.4l-2.6,-2.6v-4.4zm2,-1h4.4l2.6,2.6v4.4l-2.6,2.6h-4.4l-2.6,-2.6v-4.4zm2,-1h4.4l2.6,2.6v4.4l-2.6,2.6h-4.4l-2.6,-2.6v-4.4zm2,-1h4.4l2.6,2.6v4.4l-2.6,2.6h-4.4l-2.6,-2.6v-4.4zm2,0h4.4l2.6,2.6v4.4l-2.6,2.6h-4.4l-2.6,-2.6v-4.4zm2,-1h4.4l2.6,2.6v4.4l-2.6,2.6h-4.4l-2.6,-2.6v-4.4zm2,-1h4.4l2.6,2.6v4.4l-2.6,2.6h-4.4l-2.6,-2.6v-4.4zm2,-1h4.4l2.6,2.6v4.4l-2.6,2.6h-4.4l-2.6,-2.6v-4.4zm2,-1h4.4l2.6,2.6v4.4l-2.6,2.6h-4.4l-2.6,-2.6v-4.4zm2,0h4.4l2.6,2.6v4.4l-2.6,2.6h-4.4l-2.6,-2.6v-4.4zm2,-1h4.4l2.6,2.6v4.4l-2.6,2.6h-4.4l-2.6,-2.6v-4.4zm2,-1h4.4l2.6,2.6v4.4l-2.6,2.6h-4.4l-2.6,-2.6v-4.4zm2,-1h4.4l2.6,2.6v4.4l-2.6,2.6h-4.4l-2.6,-2.6v-4.4zm2,-1h4.4l2.6,2.6v4.4l-2.6,2.6h-4.4l-2.6,-2.6v-4.4zm2,0h4.4l2.6,2.6v4.4l-2.6,2.6h-4.4l-2.6,-2.6v-4.4zm2,-1h4.4l2.6,2.6v4.4l-2.6,2.6h-4.4l-2.6,-2.6v-4.4zm2,-1h4.4l2.6,2.6v4.4l-2.6,2.6h-4.4l-2.6,-2.6v-4.4zm2,-1h4.4l2.6,2.6v4.4l-2.6,2.6h-4.4l-2.6,-2.6v-4.4zm2,-1h4.4l2.6,2.6v4.4l-2.6,2.6h-4.4l-2.6,-2.6v-4.4zm1,0h4.4l2.6,2.6v4.4l-2.6,2.6h-4.4l-2.6,-2.6v-4.4zm1,0h4.4l2.6,2.6v4.4l-2.6,2.6h-4.4l-2.6,-2.6v-4.4zm1,-1h4.4l2.6,2.6v4.4l-2.6,2.6h-4.4l-2.6,-2.6v-4.4zm1,0h4.4l2.6,2.6v4.4l-2.6,2.6h-4.4l-2.6,-2.6v-4.4zm1,-1h4.4l2.6,2.6v4.4l-2.6,2.6h-4.4l-2.6,-2.6v-4.4zm1,0h4.4l2.6,2.6v4.4l-2.6,2.6h-4.4l-2.6,-2.6v-4.4zm1,0h4.4l2.6,2.6v4.4l-2.6,2.6h-4.4l-2.6,-2.6v-4.4zm1,-1h4.4l2.6,2.6v4.4l-2.6,2.6h-4.4l-2.6,-2.6v-4.4zm1,0h4.4l2.6,2.6v4.4l-2.6,2.6h-4.4l-2.6,-2.6v-4.4zm1,-1h4.4l2.6,2.6v4.4l-2.6,2.6h-4.4l-2.6,-2.6v-4.4zm1,0h4.4l2.6,2.6v4.4l-2.6,2.6h-4.4l-2.6,-2.6v-4.4zm1,0h4.4l2.6,2.6v4.4l-2.6,2.6h-4.4l-2.6,-2.6v-4.4zm1,-1h4.4l2.6,2.6v4.4l-2.6,2.6h-4.4l-2.6,-2.6v-4.4zm1,0h4.4l2.6,2.6v4.4l-2.6,2.6h-4.4l-2.6,-2.6v-4.4zm1,-1h4.4l2.6,2.6v4.4l-2.6,2.6h-4.4l-2.6,-2.6v-4.4zm1,0h4.4l2.6,2.6v4.4l-2.6,2.6h-4.4l-2.6,-2.6v-4.4zm1,0h4.4l2.6,2.6v4.4l-2.6,2.6h-4.4l-2.6,-2.6v-4.4zm1,-1h4.4l2.6,2.6v4.4l-2.6,2.6h-4.4l-2.6,-2.6v-4.4zm1,0h4.4l2.6,2.6v4.4l-2.6,2.6h-4.4l-2.6,-2.6v-4.4zm1,-1h4.4l2.6,2.6v4.4l-2.6,2.6h-4.4l-2.6,-2.6v-4.4zm1,0h4.4l2.6,2.6v4.4l-2.6,2.6h-4.4l-2.6,-2.6v-4.4zm1,0h4.4l2.6,2.6v4.4l-2.6,2.6h-4.4l-2.6,-2.6v-4.4zm1,-1h4.4l2.6,2.6v4.4l-2.6,2.6h-4.4l-2.6,-2.6v-4.4zm1,0h4.4l2.6,2.6v4.4l-2.6,2.6h-4.4l-2.6,-2.6v-4.4zm1,0h4.4l2.6,2.6v4.4l-2.6,2.6h-4.4l-2.6,-2.6v-4.4zm1,-1h4.4l2.6,2.6v4.4l-2.6,2.6h-4.4l-2.6,-2.6v-4.4zm1,0h4.4l2.6,2.6v4.4l-2.6,2.6h-4.4l-2.6,-2.6v-4.4zm1,-1h4.4l2.6,2.6v4.4l-2.6,2.6h-4.4l-2.6,-2.6v-4.4zm1,0h4.4l2.6,2.6v4.4l-2.6,2.6h-4.4l-2.6,-2.6v-4.4zm1,0h4.4l2.6,2.6v4.4l-2.6,2.6h-4.4l-2.6,-2.6v-4.4zm1,-1h4.4l2.6,2.6v4.4l-2.6,2.6h-4.4l-2.6,-2.6v-4.4zm1,0h4.4l2.6,2.6v4.4l-2.6,2.6h-4.4l-2.6,-2.6v-4.4zm1,-1h4.4l2.6,2.6v4.4l-2.6,2.6h-4.4l-2.6,-2.6v-4.4zm1,0h4.4l2.6,2.6v4.4l-2.6,2.6h-4.4l-2.6,-2.6v-4.4zm1,0h4.4l2.6,2.6v4.4l-2.6,2.6h-4.4l-2.6,-2.6v-4.4zm1,-1h4.4l2.6,2.6v4.4l-2.6,2.6h-4.4l-2.6,-2.6v-4.4zm1,0h4.4l2.6,2.6v4.4l-2.6,2.6h-4.4l-2.6,-2.6v-4.4zm1,-1h4.4l2.6,2.6v4.4l-2.6,2.6h-4.4l-2.6,-2.6v-4.4zm1,0h4.4l2.6,2.6v4.4l-2.6,2.6h-4.4l-2.6,-2.6v-4.4zm1,0h4.4l2.6,2.6v4.4l-2.6,2.6h-4.4l-2.6,-2.6v-4.4zm1,-1h4.4l2.6,2.6v4.4l-2.6,2.6h-4.4l-2.6,-2.6v-4.4zm1,0h4.4l2.6,2.6v4.4l-2.6,2.6h-4.4l-2.6,-2.6v-4.4zm1,0h4.4l2.6,2.6v4.4l-2.6,2.6h-4.4l-2.6,-2.6v-4.4zm1,-1h4.4l2.6,2.6v4.4l-2.6,2.6h-4.4l-2.6,-2.6v-4.4zm1,0h4.4l2.6,2.6v4.4l-2.6,2.6h-4.4l-2.6,-2.6v-4.4zm1,-1h4.4l2.6,2.6v4.4l-2.6,2.6h-4.4l-2.6,-2.6v-4.4zm1,0h4.4l2.6,2.6v4.4l-2.6,2.6h-4.4l-2.6,-2.6v-4.4zm1,0h4.4l2.6,2.6v4.4l-2.6,2.6h-4.4l-2.6,-2.6v-4.4zm1,-1h4.4l2.6,2.6v4.4l-2.6,2.6h-4.4l-2.6,-2.6v-4.4zm1,0h4.4l2.6,2.6v4.4l-2.6,2.6h-4.4l-2.6,-2.6v-4.4zm1,-1h4.4l2.6,2.6v4.4l-2.6,2.6h-4.4l-2.6,-2.6v-4.4zm1,0h4.4l2.6,2.6v4.4l-2.6,2.6h-4.4l-2.6,-2.6v-4.4zm1,0h4.4l2.6,2.6v4.4l-2.6,2.6h-4.4l-2.6,-2.6v-4.4zm1,-1h4.4l2.6,2.6v4.4l-2.6,2.6h-4.4l-2.6,-2.6v-4.4zm1,0h4.4l2.6,2.6v4.4l-2.6,2.6h-4.4l-2.6,-2.6v-4.4zm1,0h4.4l2.6,2.6v4.4l-2.6,2.6h-4.4l-2.6,-2.6v-4.4zm1,-1h4.4l2.6,2.6v4.4l-2.6,2.6h-4.4l-2.6,-2.6v-4.4zm1,0h4.4l2.6,2.6v4.4l-2.6,2.6h-4.4l-2.6,-2.6v-4.4zm1,-1h4.4l2.6,2.6v4.4l-2.6,2.6h-4.4l-2.6,-2.6v-4.4zm1,0h4.4l2.6,2.6v4.4l-2.6,2.6h-4.4l-2.6,-2.6v-4.4zm1,0h4.4l2.6,2.6v4.4l-2.6,2.6h-4.4l-2.6,-2.6v-4.4zm1,-1h4.4l2.6,2.6v4.4l-2.6,2.6h-4.4l-2.6,-2.6v-4.4zm1,0h4.4l2.6,2.6v4.4l-2.6,2.6h-4.4l-2.6,-2.6v-4.4zm1,-1h4.4l2.6,2.6v4.4l-2.6,2.6h-4.4l-2.6,-2.6v-4.4zm1,0h4.4l2.6,2.6v4.4l-2.6,2.6h-4.4l-2.6,-2.6v-4.4zm1,0h4.4l2.6,2.6v4.4l-2.6,2.6h-4.4l-2.6,-2.6v-4.4zm1,-1h4.4l2.6,2.6v4.4l-2.6,2.6h-4.4l-2.6,-2.6v-4.4zm1,0h4.4l2.6,2.6v4.4l-2.6,2.6h-4.4l-2.6,-2.6v-4.4zm1,0h4.4l2.6,2.6v4.4l-2.6,2.6h-4.4l-2.6,-2.6v-4.4zm1,-1h4.4l2.6,2.6v4.4l-2.6,2.6h-4.4l-2.6,-2.6v-4.4zm1,0h4.4l2.6,2.6v4.4l-2.6,2.6h-4.4l-2.6,-2.6v-4.4zm1,-1h4.4l2.6,2.6v4.4l-2.6,2.6h-4.4l-2.6,-2.6v-4.4zm1,0h4.4l2.6,2.6v4.4l-2.6,2.6h-4.4l-2.6,-2.6v-4.4zm1,0h4.4l2.6,2.6v4.4l-2.6,2.6h-4.4l-2.6,-2.6v-4.4zm1,-1h4.4l2.6,2.6v4.4l-2.6,2.6h-4.4l-2.6,-2.6v-4.4zm1,0h4.4l2.6,2.6v4.4l-2.6,2.6h-4.4l-2.6,-2.6v-4.4zm1,-1h4.4l2.6,2.6v4.4l-2.6,2.6h-4.4l-2.6,-2.6v-4.4zm1,0h4.4l2.6,2.6v4.4l-2.6,2.6h-4.4l-2.6,-2.6v-4.4zm1,0h4.4l2.6,2.6v4.4l-2.6,2.6h-4.4l-2.6,-2.6v-4.4zm1,-1h4.4l2.6,2.6v4.4l-2.6,2.6h-4.4l-2.6,-2.6v-4.4zm1,0h4.4l2.6,2.6v4.4l-2.6,2.6h-4.4l-2.6,-2.6v-4.4zm1,0h4.4l2.6,2.6v4.4l-2.6,2.6h-4.4l-2.6,-2.6v-4.4zm1,-1h4.4l2.6,2.6v4.4l-2.6,2.6h-4.4l-2.6,-2.6v-4.4zm1,0h4.4l2.6,2.6v4.4l-2.6,2.6h-4.4l-2.6,-2.6v-4.4zm1,-1h4.4l2.6,2.6v4.4l-2.6,2.6h-4.4l-2.6,-2.6v-4.4zm1,0h4.4l2.6,2.6v4.4l-2.6,2.6h-4.4l-2.6,-2.6v-4.4zm1,0h4.4l2.6,2.6v4.4l-2.6,2.6h-4.4l-2.6,-2.6v-4.4zm1,-1h4.4l2.6,2.6v4.4l-2.6,2.6h-4.4l-2.6,-2.6v-4.4zm1,0h4.4l2.6,2.6v4.4l-2.6,2.6h-4.4l-2.6,-2.6v-4.4zm1,0h4.4l2.6,2.6v4.4l-2.6,2.6h-4.4l-2.6,-2.6v-4.4zm1,-1h4.4l2.6,2.6v4.4l-2.6,2.6h-4.4l-2.6,-2.6v-4.4zm1,0h4.4l2.6,2.6v4.4l-2.6,2.6h-4.4l-2.6,-2.6v-4.4zm1,-1h4.4l2.6,2.6v4.4l-2.6,2.6h-4.4l-2.6,-2.6v-4.4zm1,0h4.4l2.6,2.6v4.4l-2.6,2.6h-4.4l-2.6,-2.6v-4.4zm1,0h4.4l2.6,2.6v4.4l-2.6,2.6h-4.4l-2.6,-2.6v-4.4zm1,-1h4.4l2.6,2.6v4.4l-2.6,2.6h-4.4l-2.6,-2.6v-4.4zm1,0h4.4l2.6,2.6v4.4l-2.6,2.6h-4.4l-2.6,-2.6v-4.4zm1,-1h4.4l2.6,2.6v4.4l-2.6,2.6h-4.4l-2.6,-2.6v-4.4zm1,0h4.4l2.6,2.6v4.4l-2.6,2.6h-4.4l-2.6,-2.6v-4.4zm1,0h4.4l2.6,2.6v4.4l-2.6,2.6h-4.4l-2.6,-2.6v-4.4zm1,-1h4.4l2.6,2.6v4.4l-2.6,2.6h-4.4l-2.6,-2.6v-4.4zm1,0h4.4l2.6,2.6v4.4l-2.6,2.6h-4.4l-2.6,-2.6v-4.4zm1,0h4.4l2.6,2.6v4.4l-2.6,2.6h-4.4l-2.6,-2.6v-4.4zm1,-1h4.4l2.6,2.6v4.4l-2.6,2.6h-4.4l-2.6,-2.6v-4.4zm1,0h4.4l2.6,2.6v4.4l-2.6,2.6h-4.4l-2.6,-2.6v-4.4zm1,-1h4.4l2.6,2.6v4.4l-2.6,2.6h-4.4l-2.6,-2.6v-4.4zm1,0h4.4l2.6,2.6v4.4l-2.6,2.6h-4.4l-2.6,-2.6v-4.4zm1,0h4.4l2.6,2.6v4.4l-2.6,2.6h-4.4l-2.6,-2.6v-4.4zm1,-1h4.4l2.6,2.6v4.4l-2.6,2.6h-4.4l-2.6,-2.6v-4.4zm1,0h4.4l2.6,2.6v4.4l-2.6,2.6h-4.4l-2.6,-2.6v-4.4zm1,-1h4.4l2.6,2.6v4.4l-2.6,2.6h-4.4l-2.6,-2.6v-4.4zm1,0h4.4l2.6,2.6v4.4l-2.6,2.6h-4.4l-2.6,-2.6v-4.4zm1,0h4.4l2.6,2.6v4.4l-2.6,2.6h-4.4l-2.6,-2.6v-4.4zm1,-1h4.4l2.6,2.6v4.4l-2.6,2.6h-4.4l-2.6,-2.6v-4.4zm1,0h4.4l2.6,2.6v4.4l-2.6,2.6h-4.4l-2.6,-2.6v-4.4zm1,-1h4.4l2.6,2.6v4.4l-2.6,2.6h-4.4l-2.6,-2.6v-4.4zm1,0h4.4l2.6,2.6v4.4l-2.6,2.6h-4.4l-2.6,-2.6v-4.4zm1,0h4.4l2.6,2.6v4.4l-2.6,2.6h-4.4l-2.6,-2.6v-4.4zm1,-1h4.4l2.6,2.6v4.4l-2.6,2.6h-4.4l-2.6,-2.6v-4.4zm1,0h4.4l2.6,2.6v4.4l-2.6,2.6h-4.4l-2.6,-2.6v-4.4zm1,-1h4.4l2.6,2.6v4.4l-2.6,2.6h-4.4l-2.6,-2.6v-4.4zm1,0h4.4l2.6,2.6v4.4l-2.6,2.6h-4.4l-2.6,-2.6v-4.4zm1,0h4.4l2.6,2.6v4.4l-2.6,2.6h-4.4l-2.6,-2.6v-4.4zm1,-1h4.4l2.6,2.6v4.4l-2.6,2.6h-4.4l-2.6,-2.6v-4.4zm1,0h4.4l2.6,2.6v4.4l-2.6,2.6h-4.4l-2.6,-2.6v-4.4zm1,0h4.4l2.6,2.6v4.4l-2.6,2.6h-4.4l-2.6,-2.6v-4.4zm1,-1h4.4l2.6,2.6v4.4l-2.6,2.6h-4.4l-2.6,-2.6v-4.4zm1,0h4.4l2.6,2.6v4.4l-2.6,2.6h-4.4l-2.6,-2.6v-4.4zm1,-1h4.4l2.6,2.6v4.4l-2.6,2.6h-4.4l-2.6,-2.6v-4.4zm1,0h4.4l2.6,2.6v4.4l-2.6,2.6h-4.4l-2.6,-2.6v-4.4zm1,0h4.4l2.6,2.6v4.4l-2.6,2.6h-4.4l-2.6,-2.6v-4.4zm1,-1h4.4l2.6,2.6v4.4l-2.6,2.6h-4.4l-2.6,-2.6v-4.4zm1,0h4.4l2.6,2.6v4.4l-2.6,2.6h-4.4l-2.6,-2.6v-4.4zm1,-1h4.4l2.6,2.6v4.4l-2.6,2.6h-4.4l-2.6,-2.6v-4.4zm1,0h4.4l2.6,2.6v4.4l-2.6,2.6h-4.4l-2.6,-2.6v-4.4zm1,0h4.4l2.6,2.6v4.4l-2.6,2.6h-4.4l-2.6,-2.6v-4.4zm1,-1h4.4l2.6,2.6v4.4l-2.6,2.6h-4.4l-2.6,-2.6v-4.4zm1,0h4.4l2.6,2.6v4.4l-2.6,2.6h-4.4l-2.6,-2.6v-4.4zm1,-1h4.4l2.6,2.6v4.4l-2.6,2.6h-4.4l-2.6,-2.6v-4.4zm1,0h4.4l2.6,2.6v4.4l-2.6,2.6h-4.4l-2.6,-2.6v-4.4zm1,0h4.4l2.6,2.6v4.4l-2.6,2.6h-4.4l-2.6,-2.6v-4.4zm1,-1h4.4l2.6,2.6v4.4l-2.6,2.6h-4.4l-2.6,-2.6v-4.4zm1,0h4.4l2.6,2.6v4.4l-2.6,2.6h-4.4l-2.6,-2.6v-4.4zm1,-1h4.4l2.6,2.6v4.4l-2.6,2.6h-4.4l-2.6,-2.6v-4.4zm1,0h4.4l2.6,2.6v4.4l-2.6,2.6h-4.4l-2.6,-2.6v-4.4zm1,0h4.4l2.6,2.6v4.4l-2.6,2.6h-4.4l-2.6,-2.6v-4.4zm1,-1h4.4l2.6,2.6v4.4l-2.6,2.6h-4.4l-2.6,-2.6v-4.4zm1,0h4.4l2.6,2.6v4.4l-2.6,2.6h-4.4l-2.6,-2.6v-4.4zm1,-1h4.4l2.6,2.6v4.4l-2.6,2.6h-4.4l-2.6,-2.6v-4.4zm1,0h4.4l2.6,2.6v4.4l-2.6,2.6h-4.4l-2.6,-2.6v-4.4zm1,-1h4.4l2.6,2.6v4.4l-2.6,2.6h-4.4l-2.6,-2.6v-4.4zm1,0h4.4l2.6,2.6v4.4l-2.6,2.6h-4.4l-2.6,-2.6v-4.4zm1,0h4.4l2.6,2.6v4.4l-2.6,2.6h-4.4l-2.6,-2.6v-4.4zm1,-1h4.4l2.6,2.6v4.4l-2.6,2.6h-4.4l-2.6,-2.6v-4.4zm1,0h4.4l2.6,2.6v4.4l-2.6,2.6h-4.4l-2.6,-2.6v-4.4zm1,-1h4.4l2.6,2.6v4.4l-2.6,2.6h-4.4l-2.6,-2.6v-4.4zm1,0h4.4l2.6,2.6v4.4l-2.6,2.6h-4.4l-2.6,-2.6v-4.4zm1,0h4.4l2.6,2.6v4.4l-2.6,2.6h-4.4l-2.6,-2.6v-4.4zm1,-1h4.4l2.6,2.6v4.4l-2.6,2.6h-4.4l-2.6,-2.6v-4.4zm1,0h4.4l2.6,2.6v4.4l-2.6,2.6h-4.4l-2.6,-2.6v-4.4zm1,-1h4.4l2.6,2.6v4.4l-2.6,2.6h-4.4l-2.6,-2.6v-4.4zm1,0h4.4l2.6,2.6v4.4l-2.6,2.6h-4.4l-2.6,-2.6v-4.4zm1,0h4.4l2.6,2.6v4.4l-2.6,2.6h-4.4l-2.6,-2.6v-4.4zm1,-1h4.4l2.6,2.6v4.4l-2.6,2.6h-4.4l-2.6,-2.6v-4.4zm1,0h4.4l2.6,2.6v4.4l-2.6,2.6h-4.4l-2.6,-2.6v-4.4zm1,-1h4.4l2.6,2.6v4.4l-2.6,2.6h-4.4l-2.6,-2.6v-4.4zm1,0h4.4l2.6,2.6v4.4l-2.6,2.6h-4.4l-2.6,-2.6v-4.4zm1,-1h4.4l2.6,2.6v4.4l-2.6,2.6h-4.4l-2.6,-2.6v-4.4zm1,0h4.4l2.6,2.6v4.4l-2.6,2.6h-4.4l-2.6,-2.6v-4.4zm1,0h4.4l2.6,2.6v4.4l-2.6,2.6h-4.4l-2.6,-2.6v-4.4zm1,-1h4.4l2.6,2.6v4.4l-2.6,2.6h-4.4l-2.6,-2.6v-4.4zm1,0h4.4l2.6,2.6v4.4l-2.6,2.6h-4.4l-2.6,-2.6v-4.4zm1,-1h4.4l2.6,2.6v4.4l-2.6,2.6h-4.4l-2.6,-2.6v-4.4zm1,0h4.4l2.6,2.6v4.4l-2.6,2.6h-4.4l-2.6,-2.6v-4.4zm1,-1h4.4l2.6,2.6v4.4l-2.6,2.6h-4.4l-2.6,-2.6v-4.4zm1,0h4.4l2.6,2.6v4.4l-2.6,2.6h-4.4l-2.6,-2.6v-4.4zm1,0h4.4l2.6,2.6v4.4l-2.6,2.6h-4.4l-2.6,-2.6v-4.4zm1,-1h4.4l2.6,2.6v4.4l-2.6,2.6h-4.4l-2.6,-2.6v-4.4zm1,0h4.4l2.6,2.6v4.4l-2.6,2.6h-4.4l-2.6,-2.6v-4.4zm1,-1h4.4l2.6,2.6v4.4l-2.6,2.6h-4.4l-2.6,-2.6v-4.4zm1,0h4.4l2.6,2.6v4.4l-2.6,2.6h-4.4l-2.6,-2.6v-4.4zm1,-1h4.4l2.6,2.6v4.4l-2.6,2.6h-4.4l-2.6,-2.6v-4.4zm1,0h4.4l2.6,2.6v4.4l-2.6,2.6h-4.4l-2.6,-2.6v-4.4zm1,0h4.4l2.6,2.6v4.4l-2.6,2.6h-4.4l-2.6,-2.6v-4.4zm1,-1h4.4l2.6,2.6v4.4l-2.6,2.6h-4.4l-2.6,-2.6v-4.4zm1,0h4.4l2.6,2.6v4.4l-2.6,2.6h-4.4l-2.6,-2.6v-4.4zm1,-1h4.4l2.6,2.6v4.4l-2.6,2.6h-4.4l-2.6,-2.6v-4.4zm1,0h4.4l2.6,2.6v4.4l-2.6,2.6h-4.4l-2.6,-2.6v-4.4zm1,-1h4.4l2.6,2.6v4.4l-2.6,2.6h-4.4l-2.6,-2.6v-4.4zm1,0h4.4l2.6,2.6v4.4l-2.6,2.6h-4.4l-2.6,-2.6v-4.4zm1,-1h4.4l2.6,2.6v4.4l-2.6,2.6h-4.4l-2.6,-2.6v-4.4zm1,0h4.4l2.6,2.6v4.4l-2.6,2.6h-4.4l-2.6,-2.6v-4.4zm1,0h4.4l2.6,2.6v4.4l-2.6,2.6h-4.4l-2.6,-2.6v-4.4zm1,-1h4.4l2.6,2.6v4.4l-2.6,2.6h-4.4l-2.6,-2.6v-4.4zm1,0h4.4l2.6,2.6v4.4l-2.6,2.6h-4.4l-2.6,-2.6v-4.4zm1,-1h4.4l2.6,2.6v4.4l-2.6,2.6h-4.4l-2.6,-2.6v-4.4zm1,0h4.4l2.6,2.6v4.4l-2.6,2.6h-4.4l-2.6,-2.6v-4.4zm1,-1h4.4l2.6,2.6v4.4l-2.6,2.6h-4.4l-2.6,-2.6v-4.4zm1,0h4.4l2.6,2.6v4.4l-2.6,2.6h-4.4l-2.6,-2.6v-4.4zm1,-1h4.4l2.6,2.6v4.4l-2.6,2.6h-4.4l-2.6,-2.6v-4.4zm1,0h4.4l2.6,2.6v4.4l-2.6,2.6h-4.4l-2.6,-2.6v-4.4zm1,0h4.4l2.6,2.6v4.4l-2.6,2.6h-4.4l-2.6,-2.6v-4.4zm1,-1h4.4l2.6,2.6v4.4l-2.6,2.6h-4.4l-2.6,-2.6v-4.4zm1,0h4.4l2.6,2.6v4.4l-2.6,2.6h-4.4l-2.6,-2.6v-4.4zm1,-1h4.4l2.6,2.6v4.4l-2.6,2.6h-4.4l-2.6,-2.6v-4.4zm1,0h4.4l2.6,2.6v4.4l-2.6,2.6h-4.4l-2.6,-2.6v-4.4zm1,-1h4.4l2.6,2.6v4.4l-2.6,2.6h-4.4l-2.6,-2.6v-4.4zm1,0h4.4l2.6,2.6v4.4l-2.6,2.6h-4.4l-2.6,-2.6v-4.4zm1,-1h4.4l2.6,2.6v4.4l-2.6,2.6h-4.4l-2.6,-2.6v-4.4zm1,0h4.4l2.6,2.6v4.4l-2.6,2.6h-4.4l-2.6,-2.6v-4.4zm1,-1h4.4l2.6,2.6v4.4l-2.6,2.6h-4.4l-2.6,-2.6v-4.4zm1,0h4.4l2.6,2.6v4.4l-2.6,2.6h-4.4l-2.6,-2.6v-4.4zm1,-1h4.4l2.6,2.6v4.4l-2.6,2.6h-4.4l-2.6,-2.6v-4.4zm1,0h4.4l2.6,2.6v4.4l-2.6,2.6h-4.4l-2.6,-2.6v-4.4zm1,0h4.4l2.6,2.6v4.4l-2.6,2.6h-4.4l-2.6,-2.6v-4.4zm1,-1h4.4l2.6,2.6v4.4l-2.6,2.6h-4.4l-2.6,-2.6v-4.4zm1,0h4.4l2.6,2.6v4.4l-2.6,2.6h-4.4l-2.6,-2.6v-4.4zm1,-1h4.4l2.6,2.6v4.4l-2.6,2.6h-4.4l-2.6,-2.6v-4.4zm1,0h4.4l2.6,2.6v4.4l-2.6,2.6h-4.4l-2.6,-2.6v-4.4zm1,-1h4.4l2.6,2.6v4.4l-2.6,2.6h-4.4l-2.6,-2.6v-4.4zm1,0h4.4l2.6,2.6v4.4l-2.6,2.6h-4.4l-2.6,-2.6v-4.4zm1,-1h4.4l2.6,2.6v4.4l-2.6,2.6h-4.4l-2.6,-2.6v-4.4zm1,0h4.4l2.6,2.6v4.4l-2.6,2.6h-4.4l-2.6,-2.6v-4.4zm1,-1h4.4l2.6,2.6v4.4l-2.6,2.6h-4.4l-2.6,-2.6v-4.4zm1,0h4.4l2.6,2.6v4.4l-2.6,2.6h-4.4l-2.6,-2.6v-4.4zm1,-1h4.4l2.6,2.6v4.4l-2.6,2.6h-4.4l-2.6,-2.6v-4.4zm1,0h4.4l2.6,2.6v4.4l-2.6,2.6h-4.4l-2.6,-2.6v-4.4zm1,-1h4.4l2.6,2.6v4.4l-2.6,2.6h-4.4l-2.6,-2.6v-4.4zm1,0h4.4l2.6,2.6v4.4l-2.6,2.6h-4.4l-2.6,-2.6v-4.4zm1,-1h4.4l2.6,2.6v4.4l-2.6,2.6h-4.4l-2.6,-2.6v-4.4zm1,0h4.4l2.6,2.6v4.4l-2.6,2.6h-4.4l-2.6,-2.6v-4.4zm1,-1h4.4l2.6,2.6v4.4l-2.6,2.6h-4.4l-2.6,-2.6v-4.4zm1,0h4.4l2.6,2.6v4.4l-2.6,2.6h-4.4l-2.6,-2.6v-4.4zm1,-1h4.4l2.6,2.6v4.4l-2.6,2.6h-4.4l-2.6,-2.6v-4.4zm1,0h4.4l2.6,2.6v4.4l-2.6,2.6h-4.4l-2.6,-2.6v-4.4zm1,-1h4.4l2.6,2.6v4.4l-2.6,2.6h-4.4l-2.6,-2.6v-4.4zm1,0h4.4l2.6,2.6v4.4l-2.6,2.6h-4.4l-2.6,-2.6v-4.4zm1,0h4.4l2.6,2.6v4.4l-2.6,2.6h-4.4l-2.6,-2.6v-4.4zm1,-1h4.4l2.6,2.6v4.4l-2.6,2.6h-4.4l-2.6,-2.6v-4.4zm1,0h4.4l2.6,2.6v4.4l-2.6,2.6h-4.4l-2.6,-2.6v-4.4zm1,-1h4.4l2.6,2.6v4.4l-2.6,2.6h-4.4l-2.6,-2.6v-4.4zm1,0h4.4l2.6,2.6v4.4l-2.6,2.6h-4.4l-2.6,-2.6v-4.4zm1,-1h4.4l2.6,2.6v4.4l-2.6,2.6h-4.4l-2.6,-2.6v-4.4zm1,0h4.4l2.6,2.6v4.4l-2.6,2.6h-4.4l-2.6,-2.6v-4.4zm1,-1h4.4l2.6,2.6v4.4l-2.6,2.6h-4.4l-2.6,-2.6v-4.4zm1,0h4.4l2.6,2.6v4.4l-2.6,2.6h-4.4l-2.6,-2.6v-4.4zm1,-1h4.4l2.6,2.6v4.4l-2.6,2.6h-4.4l-2.6,-2.6v-4.4zm1,0h4.4l2.6,2.6v4.4l-2.6,2.6h-4.4l-2.6,-2.6v-4.4zm1,-1h4.4l2.6,2.6v4.4l-2.6,2.6h-4.4l-2.6,-2.6v-4.4zm1,0h4.4l2.6,2.6v4.4l-2.6,2.6h-4.4l-2.6,-2.6v-4.4zm1,-1h4.4l2.6,2.6v4.4l-2.6,2.6h-4.4l-2.6,-2.6v-4.4zm1,0h4.4l2.6,2.6v4.4l-2.6,2.6h-4.4l-2.6,-2.6v-4.4zm1,-1h4.4l2.6,2.6v4.4l-2.6,2.6h-4.4l-2.6,-2.6v-4.4zm1,0h4.4l2.6,2.6v4.4l-2.6,2.6h-4.4l-2.6,-2.6v-4.4zm1,-1h4.4l2.6,2.6v4.4l-2.6,2.6h-4.4l-2.6,-2.6v-4.4zm1,0h4.4l2.6,2.6v4.4l-2.6,2.6h-4.4l-2.6,-2.6v-4.4zm1,-1h4.4l2.6,2.6v4.4l-2.6,2.6h-4.4l-2.6,-2.6v-4.4zm1,0h4.4l2.6,2.6v4.4l-2.6,2.6h-4.4l-2.6,-2.6v-4.4zm1,-1h4.4l2.6,2.6v4.4l-2.6,2.6h-4.4l-2.6,-2.6v-4.4zm1,0h4.4l2.6,2.6v4.4l-2.6,2.6h-4.4l-2.6,-2.6v-4.4zm1,-1h4.4l2.6,2.6v4.4l-2.6,2.6h-4.4l-2.6,-2.6v-4.4zm1,0h4.4l2.6,2.6v4.4l-2.6,2.6h-4.4l-2.6,-2.6v-4.4zm1,-1h4.4l2.6,2.6v4.4l-2.6,2.6h-4.4l-2.6,-2.6v-4.4zm1,0h4.4l2.6,2.6v4.4l-2.6,2.6h-4.4l-2.6,-2.6v-4.4zm1,-1h4.4l2.6,2.6v4.4l-2.6,2.6h-4.4l-2.6,-2.6v-4.4zm1,-1h4.4l2.6,2.6v4.4l-2.6,2.6h-4.4l-2.6,-2.6v-4.4zm1,0h4.4l2.6,2.6v4.4l-2.6,2.6h-4.4l-2.6,-2.6v-4.4zm1,-1h4.4l2.6,2.6v4.4l-2.6,2.6h-4.4l-2.6,-2.6v-4.4zm1,0h4.4l2.6,2.6v4.4l-2.6,2.6h-4.4l-2.6,-2.6v-4.4zm1,-1h4.4l2.6,2.6v4.4l-2.6,2.6h-4.4l-2.6,-2.6v-4.4zm1,0h4.4l2.6,2.6v4.4l-2.6,2.6h-4.4l-2.6,-2.6v-4.4zm1,-1h4.4l2.6,2.6v4.4l-2.6,2.6h-4.4l-2.6,-2.6v-4.4zm1,0h4.4l2.6,2.6v4.4l-2.6,2.6h-4.4l-2.6,-2.6v-4.4zm1,-1h4.4l2.6,2.6v4.4l-2.6,2.6h-4.4l-2.6,-2.6v-4.4zm1,0h4.4l2.6,2.6v4.4l-2.6,2.6h-4.4l-2.6,-2.6v-4.4zm1,-1h4.4l2.6,2.6v4.4l-2.6,2.6h-4.4l-2.6,-2.6v-4.4zm1,0h4.4l2.6,2.6v4.4l-2.6,2.6h-4.4l-2.6,-2.6v-4.4zm1,-1h4.4l2.6,2.6v4.4l-2.6,2.6h-4.4l-2.6,-2.6v-4.4zm1,0h4.4l2.6,2.6v4.4l-2.6,2.6h-4.4l-2.6,-2.6v-4.4zm1,-1h4.4l2.6,2.6v4.4l-2.6,2.6h-4.4l-2.6,-2.6v-4.4zm1,0h4.4l2.6,2.6v4.4l-2.6,2.6h-4.4l-2.6,-2.6v-4.4zm1,-1h4.4l2.6,2.6v4.4l-2.6,2.6h-4.4l-2.6,-2.6v-4.4zm1,0h4.4l2.6,2.6v4.4l-2.6,2.6h-4.4l-2.6,-2.6v-4.4zm1,-1h4.4l2.6,2.6v4.4l-2.6,2.6h-4.4l-2.6,-2.6v-4.4zm1,0h4.4l2.6,2.6v4.4l-2.6,2.6h-4.4l-2.6,-2.6v-4.4zm1,-1h4.4l2.6,2.6v4.4l-2.6,2.6h-4.4l-2.6,-2.6v-4.4zm1,0h4.4l2.6,2.6v4.4l-2.6,2.6h-4.4l-2.6,-2.6v-4.4zm1,-1h4.4l2.6,2.6v4.4l-2.6,2.6h-4.4l-2.6,-2.6v-4.4zm1,0h4.4l2.6,2.6v4.4l-2.6,2.6h-4.4l-2.6,-2.6v-4.4zm1,-1h4.4l2.6,2.6v4.4l-2.6,2.6h-4.4l-2.6,-2.6v-4.4zm1,0h4.4l2.6,2.6v4.4l-2.6,2.6h-4.4l-2.6,-2.6v-4.4zm1,-1h4.4l2.6,2.6v4.4l-2.6,2.6h-4.4l-2.6,-2.6v-4.4zm1,-1h4.4l2.6,2.6v4.4l-2.6,2.6h-4.4l-2.6,-2.6v-4.4zm1,0h4.4l2.6,2.6v4.4l-2.6,2.6h-4.4l-2.6,-2.6v-4.4zm1,-1h4.4l2.6,2.6v4.4l-2.6,2.6h-4.4l-2.6,-2.6v-4.4zm1,0h4.4l2.6,2.6v4.4l-2.6,2.6h-4.4l-2.6,-2.6v-4.4zm1,-1h4.4l2.6,2.6v4.4l-2.6,2.6h-4.4l-2.6,-2.6v-4.4zm1,0h4.4l2.6,2.6v4.4l-2.6,2.6h-4.4l-2.6,-2.6v-4.4zm1,-1h4.4l2.6,2.6v4.4l-2.6,2.6h-4.4l-2.6,-2.6v-4.4zm1,0h4.4l2.6,2.6v4.4l-2.6,2.6h-4.4l-2.6,-2.6v-4.4zm1,-1h4.4l2.6,2.6v4.4l-2.6,2.6h-4.4l-2.6,-2.6v-4.4zm1,0h4.4l2.6,2.6v4.4l-2.6,2.6h-4.4l-2.6,-2.6v-4.4zm1,-1h4.4l2.6,2.6v4.4l-2.6,2.6h-4.4l-2.6,-2.6v-4.4zm1,0h4.4l2.6,2.6v4.4l-2.6,2.6h-4.4l-2.6,-2.6v-4.4zm1,-1h4.4l2.6,2.6v4.4l-2.6,2.6h-4.4l-2.6,-2.6v-4.4zm1,0h4.4l2.6,2.6v4.4l-2.6,2.6h-4.4l-2.6,-2.6v-4.4zm1,-1h4.4l2.6,2.6v4.4l-2.6,2.6h-4.4l-2.6,-2.6v-4.4zm1,-1h4.4l2.6,2.6v4.4l-2.6,2.6h-4.4l-2.6,-2.6v-4.4zm1,0h4.4l2.6,2.6v4.4l-2.6,2.6h-4.4l-2.6,-2.6v-4.4zm1,-1h4.4l2.6,2.6v4.4l-2.6,2.6h-4.4l-2.6,-2.6v-4.4zm1,0h4.4l2.6,2.6v4.4l-2.6,2.6h-4.4l-2.6,-2.6v-4.4zm1,-1h4.4l2.6,2.6v4.4l-2.6,2.6h-4.4l-2.6,-2.6v-4.4zm1,0h4.4l2.6,2.6v4.4l-2.6,2.6h-4.4l-2.6,-2.6v-4.4zm1,-1h4.4l2.6,2.6v4.4l-2.6,2.6h-4.4l-2.6,-2.6v-4.4zm1,0h4.4l2.6,2.6v4.4l-2.6,2.6h-4.4l-2.6,-2.6v-4.4zm1,-1h4.4l2.6,2.6v4.4l-2.6,2.6h-4.4l-2.6,-2.6v-4.4zm1,0h4.4l2.6,2.6v4.4l-2.6,2.6h-4.4l-2.6,-2.6v-4.4zm1,-1h4.4l2.6,2.6v4.4l-2.6,2.6h-4.4l-2.6,-2.6v-4.4zm1,0h4.4l2.6,2.6v4.4l-2.6,2.6h-4.4l-2.6,-2.6v-4.4zm1,-1h4.4l2.6,2.6v4.4l-2.6,2.6h-4.4l-2.6,-2.6v-4.4zm1,0h4.4l2.6,2.6v4.4l-2.6,2.6h-4.4l-2.6,-2.6v-4.4zm1,-1h4.4l2.6,2.6v4.4l-2.6,2.6h-4.4l-2.6,-2.6v-4.4zm1,-1h4.4l2.6,2.6v4.4l-2.6,2.6h-4.4l-2.6,-2.6v-4.4zm1,0h4.4l2.6,2.6v4.4l-2.6,2.6h-4.4l-2.6,-2.6v-4.4zm1,-1h4.4l2.6,2.6v4.4l-2.6,2.6h-4.4l-2.6,-2.6v-4.4zm1,0h4.4l2.6,2.6v4.4l-2.6,2.6h-4.4l-2.6,-2.6v-4.4zm1,-1h4.4l2.6,2.6v4.4l-2.6,2.6h-4.4l-2.6,-2.6v-4.4zm1,0h4.4l2.6,2.6v4.4l-2.6,2.6h-4.4l-2.6,-2.6v-4.4zm1,-1h4.4l2.6,2.6v4.4l-2.6,2.6h-4.4l-2.6,-2.6v-4.4zm1,0h4.4l2.6,2.6v4.4l-2.6,2.6h-4.4l-2.6,-2.6v-4.4zm1,-1h4.4l2.6,2.6v4.4l-2.6,2.6h-4.4l-2.6,-2.6v-4.4zm1,0h4.4l2.6,2.6v4.4l-2.6,2.6h-4.4l-2.6,-2.6v-4.4zm1,-1h4.4l2.6,2.6v4.4l-2.6,2.6h-4.4l-2.6,-2.6v-4.4zm1,0h4.4l2.6,2.6v4.4l-2.6,2.6h-4.4l-2.6,-2.6v-4.4zm1,-1h4.4l2.6,2.6v4.4l-2.6,2.6h-4.4l-2.6,-2.6v-4.4zm1,0h4.4l2.6,2.6v4.4l-2.6,2.6h-4.4l-2.6,-2.6v-4.4zm1,-1h4.4l2.6,2.6v4.4l-2.6,2.6h-4.4l-2.6,-2.6v-4.4zm1,-1h4.4l2.6,2.6v4.4l-2.6,2.6h-4.4l-2.6,-2.6v-4.4zm1,0h4.4l2.6,2.6v4.4l-2.6,2.6h-4.4l-2.6,-2.6v-4.4zm1,-1h4.4l2.6,2.6v4.4l-2.6,2.6h-4.4l-2.6,-2.6v-4.4zm1,0h4.4l2.6,2.6v4.4l-2.6,2.6h-4.4l-2.6,-2.6v-4.4zm1,-1h4.4l2.6,2.6v4.4l-2.6,2.6h-4.4l-2.6,-2.6v-4.4zm1,0h4.4l2.6,2.6v4.4l-2.6,2.6h-4.4l-2.6,-2.6v-4.4zm1,-1h4.4l2.6,2.6v4.4l-2.6,2.6h-4.4l-2.6,-2.6v-4.4zm1,0h4.4l2.6,2.6v4.4l-2.6,2.6h-4.4l-2.6,-2.6v-4.4zm1,-1h4.4l2.6,2.6v4.4l-2.6,2.6h-4.4l-2.6,-2.6v-4.4zm1,0h4.4l2.6,2.6v4.4l-2.6,2.6h-4.4l-2.6,-2.6v-4.4zm1,-1h4.4l2.6,2.6v4.4l-2.6,2.6h-4.4l-2.6,-2.6v-4.4zm1,0h4.4l2.6,2.6v4.4l-2.6,2.6h-4.4l-2.6,-2.6v-4.4zm1,-1h4.4l2.6,2.6v4.4l-2.6,2.6h-4.4l-2.6,-2.6v-4.4zm1,0h4.4l2.6,2.6v4.4l-2.6,2.6h-4.4l-2.6,-2.6v-4.4zm1,-1h4.4l2.6,2.6v4.4l-2.6,2.6h-4.4l-2.6,-2.6v-4.4zm1,0h4.4l2.6,2.6v4.4l-2.6,2.6h-4.4l-2.6,-2.6v-4.4zm1,-1h4.4l2.6,2.6v4.4l-2.6,2.6h-4.4l-2.6,-2.6v-4.4zm1,-1h4.4l2.6,2.6v4.4l-2.6,2.6h-4.4l-2.6,-2.6v-4.4zm1,0h4.4l2.6,2.6v4.4l-2.6,2.6h-4.4l-2.6,-2.6v-4.4zm1,-1h4.4l2.6,2.6v4.4l-2.6,2.6h-4.4l-2.6,-2.6v-4.4zm1,0h4.4l2.6,2.6v4.4l-2.6,2.6h-4.4l-2.6,-2.6v-4.4zm1,-1h4.4l2.6,2.6v4.4l-2.6,2.6h-4.4l-2.6,-2.6v-4.4zm1,0h4.4l2.6,2.6v4.4l-2.6,2.6h-4.4l-2.6,-2.6v-4.4zm1,-1h4.4l2.6,2.6v4.4l-2.6,2.6h-4.4l-2.6,-2.6v-4.4zm1,0h4.4l2.6,2.6v4.4l-2.6,2.6h-4.4l-2.6,-2.6v-4.4zm1,-1h4.4l2.6,2.6v4.4l-2.6,2.6h-4.4l-2.6,-2.6v-4.4zm1,0h4.4l2.6,2.6v4.4l-2.6,2.6h-4.4l-2.6,-2.6v-4.4zm1,-1h4.4l2.6,2.6v4.4l-2.6,2.6h-4.4l-2.6,-2.6v-4.4zm1,0h4.4l2.6,2.6v4.4l-2.6,2.6h-4.4l-2.6,-2.6v-4.4zm1,-1h4.4l2.6,2.6v4.4l-2.6,2.6h-4.4l-2.6,-2.6v-4.4zm1,0h4.4l2.6,2.6v4.4l-2.6,2.6h-4.4l-2.6,-2.6v-4.4zm1,-1h4.4l2.6,2.6v4.4l-2.6,2.6h-4.4l-2.6,-2.6v-4.4zm1,0h4.4l2.6,2.6v4.4l-2.6,2.6h-4.4l-2.6,-2.6v-4.4zm1,-1h4.4l2.6,2.6v4.4l-2.6,2.6h-4.4l-2.6,-2.6v-4.4zm1,0h4.4l2.6,2.6v4.4l-2.6,2.6h-4.4l-2.6,-2.6v-4.4zm1,-1h4.4l2.6,2.6v4.4l-2.6,2.6h-4.4l-2.6,-2.6v-4.4zm1,0h4.4l2.6,2.6v4.4l-2.6,2.6h-4.4l-2.6,-2.6v-4.4zm1,-1h4.4l2.6,2.6v4.4l-2.6,2.6h-4.4l-2.6,-2.6v-4.4zm1,0h4.4l2.6,2.6v4.4l-2.6,2.6h-4.4l-2.6,-2.6v-4.4zm1,-1h4.4l2.6,2.6v4.4l-2.6,2.6h-4.4l-2.6,-2.6v-4.4zm1,0h4.4l2.6,2.6v4.4l-2.6,2.6h-4.4l-2.6,-2.6v-4.4zm1,-1h4.4l2.6,2.6v4.4l-2.6,2.6h-4.4l-2.6,-2.6v-4.4zm1,0h4.4l2.6,2.6v4.4l-2.6,2.6h-4.4l-2.6,-2.6v-4.4zm1,-1h4.4l2.6,2.6v4.4l-2.6,2.6h-4.4l-2.6,-2.6v-4.4zm1,0h4.4l2.6,2.6v4.4l-2.6,2.6h-4.4l-2.6,-2.6v-4.4zm1,-1h4.4l2.6,2.6v4.4l-2.6,2.6h-4.4l-2.6,-2.6v-4.4zm1,0h4.4l2.6,2.6v4.4l-2.6,2.6h-4.4l-2.6,-2.6v-4.4zm1,-1h4.4l2.6,2.6v4.4l-2.6,2.6h-4.4l-2.6,-2.6v-4.4zm1,0h4.4l2.6,2.6v4.4l-2.6,2.6h-4.4l-2.6,-2.6v-4.4zm1,0h4.4l2.6,2.6v4.4l-2.6,2.6h-4.4l-2.6,-2.6v-4.4zm1,-1h4.4l2.6,2.6v4.4l-2.6,2.6h-4.4l-2.6,-2.6v-4.4zm1,0h4.4l2.6,2.6v4.4l-2.6,2.6h-4.4l-2.6,-2.6v-4.4zm1,-1h4.4l2.6,2.6v4.4l-2.6,2.6h-4.4l-2.6,-2.6v-4.4zm1,0h4.4l2.6,2.6v4.4l-2.6,2.6h-4.4l-2.6,-2.6v-4.4zm1,-1h4.4l2.6,2.6v4.4l-2.6,2.6h-4.4l-2.6,-2.6v-4.4zm1,0h4.4l2.6,2.6v4.4l-2.6,2.6h-4.4l-2.6,-2.6v-4.4zm1,-1h4.4l2.6,2.6v4.4l-2.6,2.6h-4.4l-2.6,-2.6v-4.4zm1,0h4.4l2.6,2.6v4.4l-2.6,2.6h-4.4l-2.6,-2.6v-4.4zm1,-1h4.4l2.6,2.6v4.4l-2.6,2.6h-4.4l-2.6,-2.6v-4.4zm1,0h4.4l2.6,2.6v4.4l-2.6,2.6h-4.4l-2.6,-2.6v-4.4zm1,-1h4.4l2.6,2.6v4.4l-2.6,2.6h-4.4l-2.6,-2.6v-4.4zm1,0h4.4l2.6,2.6v4.4l-2.6,2.6h-4.4l-2.6,-2.6v-4.4zm1,-1h4.4l2.6,2.6v4.4l-2.6,2.6h-4.4l-2.6,-2.6v-4.4zm1,0h4.4l2.6,2.6v4.4l-2.6,2.6h-4.4l-2.6,-2.6v-4.4zm1,-1h4.4l2.6,2.6v4.4l-2.6,2.6h-4.4l-2.6,-2.6v-4.4zm1,0h4.4l2.6,2.6v4.4l-2.6,2.6h-4.4l-2.6,-2.6v-4.4zm1,0h4.4l2.6,2.6v4.4l-2.6,2.6h-4.4l-2.6,-2.6v-4.4zm1,-1h4.4l2.6,2.6v4.4l-2.6,2.6h-4.4l-2.6,-2.6v-4.4zm1,0h4.4l2.6,2.6v4.4l-2.6,2.6h-4.4l-2.6,-2.6v-4.4zm1,-1h4.4l2.6,2.6v4.4l-2.6,2.6h-4.4l-2.6,-2.6v-4.4zm1,0h4.4l2.6,2.6v4.4l-2.6,2.6h-4.4l-2.6,-2.6v-4.4zm1,-1h4.4l2.6,2.6v4.4l-2.6,2.6h-4.4l-2.6,-2.6v-4.4zm1,0h4.4l2.6,2.6v4.4l-2.6,2.6h-4.4l-2.6,-2.6v-4.4zm1,-1h4.4l2.6,2.6v4.4l-2.6,2.6h-4.4l-2.6,-2.6v-4.4zm1,0h4.4l2.6,2.6v4.4l-2.6,2.6h-4.4l-2.6,-2.6v-4.4zm1,-1h4.4l2.6,2.6v4.4l-2.6,2.6h-4.4l-2.6,-2.6v-4.4zm1,0h4.4l2.6,2.6v4.4l-2.6,2.6h-4.4l-2.6,-2.6v-4.4zm1,0h4.4l2.6,2.6v4.4l-2.6,2.6h-4.4l-2.6,-2.6v-4.4zm1,-1h4.4l2.6,2.6v4.4l-2.6,2.6h-4.4l-2.6,-2.6v-4.4zm1,0h4.4l2.6,2.6v4.4l-2.6,2.6h-4.4l-2.6,-2.6v-4.4zm1,-1h4.4l2.6,2.6v4.4l-2.6,2.6h-4.4l-2.6,-2.6v-4.4zm1,0h4.4l2.6,2.6v4.4l-2.6,2.6h-4.4l-2.6,-2.6v-4.4zm1,-1h4.4l2.6,2.6v4.4l-2.6,2.6h-4.4l-2.6,-2.6v-4.4zm1,0h4.4l2.6,2.6v4.4l-2.6,2.6h-4.4l-2.6,-2.6v-4.4zm1,0h4.4l2.6,2.6v4.4l-2.6,2.6h-4.4l-2.6,-2.6v-4.4zm1,-1h4.4l2.6,2.6v4.4l-2.6,2.6h-4.4l-2.6,-2.6v-4.4zm1,0h4.4l2.6,2.6v4.4l-2.6,2.6h-4.4l-2.6,-2.6v-4.4zm1,-1h4.4l2.6,2.6v4.4l-2.6,2.6h-4.4l-2.6,-2.6v-4.4zm1,0h4.4l2.6,2.6v4.4l-2.6,2.6h-4.4l-2.6,-2.6v-4.4zm1,-1h4.4l2.6,2.6v4.4l-2.6,2.6h-4.4l-2.6,-2.6v-4.4zm1,0h4.4l2.6,2.6v4.4l-2.6,2.6h-4.4l-2.6,-2.6v-4.4zm1,-1h4.4l2.6,2.6v4.4l-2.6,2.6h-4.4l-2.6,-2.6v-4.4zm1,0h4.4l2.6,2.6v4.4l-2.6,2.6h-4.4l-2.6,-2.6v-4.4zm1,0h4.4l2.6,2.6v4.4l-2.6,2.6h-4.4l-2.6,-2.6v-4.4zm1,-1h4.4l2.6,2.6v4.4l-2.6,2.6h-4.4l-2.6,-2.6v-4.4zm1,0h4.4l2.6,2.6v4.4l-2.6,2.6h-4.4l-2.6,-2.6v-4.4zm1,-1h4.4l2.6,2.6v4.4l-2.6,2.6h-4.4l-2.6,-2.6v-4.4zm1,0h4.4l2.6,2.6v4.4l-2.6,2.6h-4.4l-2.6,-2.6v-4.4zm1,-1h4.4l2.6,2.6v4.4l-2.6,2.6h-4.4l-2.6,-2.6v-4.4zm1,0h4.4l2.6,2.6v4.4l-2.6,2.6h-4.4l-2.6,-2.6v-4.4zm1,0h4.4l2.6,2.6v4.4l-2.6,2.6h-4.4l-2.6,-2.6v-4.4zm1,-1h4.4l2.6,2.6v4.4l-2.6,2.6h-4.4l-2.6,-2.6v-4.4zm1,0h4.4l2.6,2.6v4.4l-2.6,2.6h-4.4l-2.6,-2.6v-4.4zm1,-1h4.4l2.6,2.6v4.4l-2.6,2.6h-4.4l-2.6,-2.6v-4.4zm1,0h4.4l2.6,2.6v4.4l-2.6,2.6h-4.4l-2.6,-2.6v-4.4zm1,0h4.4l2.6,2.6v4.4l-2.6,2.6h-4.4l-2.6,-2.6v-4.4zm1,-1h4.4l2.6,2.6v4.4l-2.6,2.6h-4.4l-2.6,-2.6v-4.4zm1,0h4.4l2.6,2.6v4.4l-2.6,2.6h-4.4l-2.6,-2.6v-4.4zm1,-1h4.4l2.6,2.6v4.4l-2.6,2.6h-4.4l-2.6,-2.6v-4.4zm1,0h4.4l2.6,2.6v4.4l-2.6,2.6h-4.4l-2.6,-2.6v-4.4zm1,-1h4.4l2.6,2.6v4.4l-2.6,2.6h-4.4l-2.6,-2.6v-4.4zm1,0h4.4l2.6,2.6v4.4l-2.6,2.6h-4.4l-2.6,-2.6v-4.4zm1,0h4.4l2.6,2.6v4.4l-2.6,2.6h-4.4l-2.6,-2.6v-4.4zm1,-1h4.4l2.6,2.6v4.4l-2.6,2.6h-4.4l-2.6,-2.6v-4.4zm1,0h4.4l2.6,2.6v4.4l-2.6,2.6h-4.4l-2.6,-2.6v-4.4zm1,-1h4.4l2.6,2.6v4.4l-2.6,2.6h-4.4l-2.6,-2.6v-4.4zm1,0h4.4l2.6,2.6v4.4l-2.6,2.6h-4.4l-2.6,-2.6v-4.4zm1,0h4.4l2.6,2.6v4.4l-2.6,2.6h-4.4l-2.6,-2.6v-4.4zm1,-1h4.4l2.6,2.6v4.4l-2.6,2.6h-4.4l-2.6,-2.6v-4.4zm1,0h4.4l2.6,2.6v4.4l-2.6,2.6h-4.4l-2.6,-2.6v-4.4zm1,-1h4.4l2.6,2.6v4.4l-2.6,2.6h-4.4l-2.6,-2.6v-4.4zm1,0h4.4l2.6,2.6v4.4l-2.6,2.6h-4.4l-2.6,-2.6v-4.4zm1,0h4.4l2.6,2.6v4.4l-2.6,2.6h-4.4l-2.6,-2.6v-4.4zm1,-1h4.4l2.6,2.6v4.4l-2.6,2.6h-4.4l-2.6,-2.6v-4.4zm1,0h4.4l2.6,2.6v4.4l-2.6,2.6h-4.4l-2.6,-2.6v-4.4zm1,-1h4.4l2.6,2.6v4.4l-2.6,2.6h-4.4l-2.6,-2.6v-4.4zm1,0h4.4l2.6,2.6v4.4l-2.6,2.6h-4.4l-2.6,-2.6v-4.4zm1,0h4.4l2.6,2.6v4.4l-2.6,2.6h-4.4l-2.6,-2.6v-4.4zm1,-1h4.4l2.6,2.6v4.4l-2.6,2.6h-4.4l-2.6,-2.6v-4.4zm1,0h4.4l2.6,2.6v4.4l-2.6,2.6h-4.4l-2.6,-2.6v-4.4zm1,-1h4.4l2.6,2.6v4.4l-2.6,2.6h-4.4l-2.6,-2.6v-4.4zm1,0h4.4l2.6,2.6v4.4l-2.6,2.6h-4.4l-2.6,-2.6v-4.4zm1,0h4.4l2.6,2.6v4.4l-2.6,2.6h-4.4l-2.6,-2.6v-4.4zm1,-1h4.4l2.6,2.6v4.4l-2.6,2.6h-4.4l-2.6,-2.6v-4.4zm1,0h4.4l2.6,2.6v4.4l-2.6,2.6h-4.4l-2.6,-2.6v-4.4zm1,-1h4.4l2.6,2.6v4.4l-2.6,2.6h-4.4l-2.6,-2.6v-4.4zm1,0h4.4l2.6,2.6v4.4l-2.6,2.6h-4.4l-2.6,-2.6v-4.4zm1,0h4.4l2.6,2.6v4.4l-2.6,2.6h-4.4l-2.6,-2.6v-4.4zm1,-1h4.4l2.6,2.6v4.4l-2.6,2.6h-4.4l-2.6,-2.6v-4.4zm1,0h4.4l2.6,2.6v4.4l-2.6,2.6h-4.4l-2.6,-2.6v-4.4zm1,-1h4.4l2.6,2.6v4.4l-2.6,2.6h-4.4l-2.6,-2.6v-4.4zm1,0h4.4l2.6,2.6v4.4l-2.6,2.6h-4.4l-2.6,-2.6v-4.4zm1,0h4.4l2.6,2.6v4.4l-2.6,2.6h-4.4l-2.6,-2.6v-4.4zm1,-1h4.4l2.6,2.6v4.4l-2.6,2.6h-4.4l-2.6,-2.6v-4.4zm1,0h4.4l2.6,2.6v4.4l-2.6,2.6h-4.4l-2.6,-2.6v-4.4zm1,-1h4.4l2.6,2.6v4.4l-2.6,2.6h-4.4l-2.6,-2.6v-4.4zm1,0h4.4l2.6,2.6v4.4l-2.6,2.6h-4.4l-2.6,-2.6v-4.4zm1,0h4.4l2.6,2.6v4.4l-2.6,2.6h-4.4l-2.6,-2.6v-4.4zm1,-1h4.4l2.6,2.6v4.4l-2.6,2.6h-4.4l-2.6,-2.6v-4.4zm1,0h4.4l2.6,2.6v4.4l-2.6,2.6h-4.4l-2.6,-2.6v-4.4zm1,0h4.4l2.6,2.6v4.4l-2.6,2.6h-4.4l-2.6,-2.6v-4.4zm1,-1h4.4l2.6,2.6v4.4l-2.6,2.6h-4.4l-2.6,-2.6v-4.4zm1,0h4.4l2.6,2.6v4.4l-2.6,2.6h-4.4l-2.6,-2.6v-4.4zm1,-1h4.4l2.6,2.6v4.4l-2.6,2.6h-4.4l-2.6,-2.6v-4.4zm1,0h4.4l2.6,2.6v4.4l-2.6,2.6h-4.4l-2.6,-2.6v-4.4zm1,0h4.4l2.6,2.6v4.4l-2.6,2.6h-4.4l-2.6,-2.6v-4.4zm1,-1h4.4l2.6,2.6v4.4l-2.6,2.6h-4.4l-2.6,-2.6v-4.4zm1,0h4.4l2.6,2.6v4.4l-2.6,2.6h-4.4l-2.6,-2.6v-4.4zm1,-1h4.4l2.6,2.6v4.4l-2.6,2.6h-4.4l-2.6,-2.6v-4.4zm1,0h4.4l2.6,2.6v4.4l-2.6,2.6h-4.4l-2.6,-2.6v-4.4zm1,0h4.4l2.6,2.6v4.4l-2.6,2.6h-4.4l-2.6,-2.6v-4.4zm1,-1h4.4l2.6,2.6v4.4l-2.6,2.6h-4.4l-2.6,-2.6v-4.4zm1,0h4.4l2.6,2.6v4.4l-2.6,2.6h-4.4l-2.6,-2.6v-4.4zm1,0h4.4l2.6,2.6v4.4l-2.6,2.6h-4.4l-2.6,-2.6v-4.4zm1,-1h4.4l2.6,2.6v4.4l-2.6,2.6h-4.4l-2.6,-2.6v-4.4zm1,0h4.4l2.6,2.6v4.4l-2.6,2.6h-4.4l-2.6,-2.6v-4.4zm1,-1h4.4l2.6,2.6v4.4l-2.6,2.6h-4.4l-2.6,-2.6v-4.4zm1,0h4.4l2.6,2.6v4.4l-2.6,2.6h-4.4l-2.6,-2.6v-4.4zm1,0h4.4l2.6,2.6v4.4l-2.6,2.6h-4.4l-2.6,-2.6v-4.4zm1,-1h4.4l2.6,2.6v4.4l-2.6,2.6h-4.4l-2.6,-2.6v-4.4zm1,0h4.4l2.6,2.6v4.4l-2.6,2.6h-4.4l-2.6,-2.6v-4.4zm1,0h4.4l2.6,2.6v4.4l-2.6,2.6h-4.4l-2.6,-2.6v-4.4zm1,-1h4.4l2.6,2.6v4.4l-2.6,2.6h-4.4l-2.6,-2.6v-4.4zm1,0h4.4l2.6,2.6v4.4l-2.6,2.6h-4.4l-2.6,-2.6v-4.4zm1,-1h4.4l2.6,2.6v4.4l-2.6,2.6h-4.4l-2.6,-2.6v-4.4zm1,0h4.4l2.6,2.6v4.4l-2.6,2.6h-4.4l-2.6,-2.6v-4.4zm1,0h4.4l2.6,2.6v4.4l-2.6,2.6h-4.4l-2.6,-2.6v-4.4zm1,-1h4.4l2.6,2.6v4.4l-2.6,2.6h-4.4l-2.6,-2.6v-4.4zm1,0h4.4l2.6,2.6v4.4l-2.6,2.6h-4.4l-2.6,-2.6v-4.4zm1,0h4.4l2.6,2.6v4.4l-2.6,2.6h-4.4l-2.6,-2.6v-4.4zm1,-1h4.4l2.6,2.6v4.4l-2.6,2.6h-4.4l-2.6,-2.6v-4.4zm1,0h4.4l2.6,2.6v4.4l-2.6,2.6h-4.4l-2.6,-2.6v-4.4zm1,-1h4.4l2.6,2.6v4.4l-2.6,2.6h-4.4l-2.6,-2.6v-4.4zm1,0h4.4l2.6,2.6v4.4l-2.6,2.6h-4.4l-2.6,-2.6v-4.4zm1,0h4.4l2.6,2.6v4.4l-2.6,2.6h-4.4l-2.6,-2.6v-4.4zm1,-1h4.4l2.6,2.6v4.4l-2.6,2.6h-4.4l-2.6,-2.6v-4.4zm1,0h4.4l2.6,2.6v4.4l-2.6,2.6h-4.4l-2.6,-2.6v-4.4zm1,0h4.4l2.6,2.6v4.4l-2.6,2.6h-4.4l-2.6,-2.6v-4.4zm1,-1h4.4l2.6,2.6v4.4l-2.6,2.6h-4.4l-2.6,-2.6v-4.4zm1,0h4.4l2.6,2.6v4.4l-2.6,2.6h-4.4l-2.6,-2.6v-4.4zm1,-1h4.4l2.6,2.6v4.4l-2.6,2.6h-4.4l-2.6,-2.6v-4.4zm1,0h4.4l2.6,2.6v4.4l-2.6,2.6h-4.4l-2.6,-2.6v-4.4zm1,0h4.4l2.6,2.6v4.4l-2.6,2.6h-4.4l-2.6,-2.6v-4.4zm1,-1h4.4l2.6,2.6v4.4l-2.6,2.6h-4.4l-2.6,-2.6v-4.4zm1,0h4.4l2.6,2.6v4.4l-2.6,2.6h-4.4l-2.6,-2.6v-4.4zm1,0h4.4l2.6,2.6v4.4l-2.6,2.6h-4.4l-2.6,-2.6v-4.4zm1,-1h4.4l2.6,2.6v4.4l-2.6,2.6h-4.4l-2.6,-2.6v-4.4zm1,0h4.4l2.6,2.6v4.4l-2.6,2.6h-4.4l-2.6,-2.6v-4.4zm1,0h4.4l2.6,2.6v4.4l-2.6,2.6h-4.4l-2.6,-2.6v-4.4zm1,-1h4.4l2.6,2.6v4.4l-2.6,2.6h-4.4l-2.6,-2.6v-4.4zm1,0h4.4l2.6,2.6v4.4l-2.6,2.6h-4.4l-2.6,-2.6v-4.4zm1,-1h4.4l2.6,2.6v4.4l-2.6,2.6h-4.4l-2.6,-2.6v-4.4zm1,0h4.4l2.6,2.6v4.4l-2.6,2.6h-4.4l-2.6,-2.6v-4.4zm1,0h4.4l2.6,2.6v4.4l-2.6,2.6h-4.4l-2.6,-2.6v-4.4zm1,-1h4.4l2.6,2.6v4.4l-2.6,2.6h-4.4l-2.6,-2.6v-4.4zm1,0h4.4l2.6,2.6v4.4l-2.6,2.6h-4.4l-2.6,-2.6v-4.4zm1,0h4.4l2.6,2.6v4.4l-2.6,2.6h-4.4l-2.6,-2.6v-4.4zm1,-1h4.4l2.6,2.6v4.4l-2.6,2.6h-4.4l-2.6,-2.6v-4.4zm1,0h4.4l2.6,2.6v4.4l-2.6,2.6h-4.4l-2.6,-2.6v-4.4zm1,-1h4.4l2.6,2.6v4.4l-2.6,2.6h-4.4l-2.6,-2.6v-4.4zm1,0h4.4l2.6,2.6v4.4l-2.6,2.6h-4.4l-2.6,-2.6v-4.4zm1,0h4.4l2.6,2.6v4.4l-2.6,2.6h-4.4l-2.6,-2.6v-4.4zm1,-1h4.4l2.6,2.6v4.4l-2.6,2.6h-4.4l-2.6,-2.6v-4.4zm1,0h4.4l2.6,2.6v4.4l-2.6,2.6h-4.4l-2.6,-2.6v-4.4zm1,0h4.4l2.6,2.6v4.4l-2.6,2.6h-4.4l-2.6,-2.6v-4.4zm1,-1h4.4l2.6,2.6v4.4l-2.6,2.6h-4.4l-2.6,-2.6v-4.4zm1,0h4.4l2.6,2.6v4.4l-2.6,2.6h-4.4l-2.6,-2.6v-4.4zm1,0h4.4l2.6,2.6v4.4l-2.6,2.6h-4.4l-2.6,-2.6v-4.4zm1,-1h4.4l2.6,2.6v4.4l-2.6,2.6h-4.4l-2.6,-2.6v-4.4zm1,0h4.4l2.6,2.6v4.4l-2.6,2.6h-4.4l-2.6,-2.6v-4.4zm1,-1h4.4l2.6,2.6v4.4l-2.6,2.6h-4.4l-2.6,-2.6v-4.4zm1,0h4.4l2.6,2.6v4.4l-2.6,2.6h-4.4l-2.6,-2.6v-4.4zm1,0h4.4l2.6,2.6v4.4l-2.6,2.6h-4.4l-2.6,-2.6v-4.4zm1,-1h4.4l2.6,2.6v4.4l-2.6,2.6h-4.4l-2.6,-2.6v-4.4zm1,0h4.4l2.6,2.6v4.4l-2.6,2.6h-4.4l-2.6,-2.6v-4.4zm1,0h4.4l2.6,2.6v4.4l-2.6,2.6h-4.4l-2.6,-2.6v-4.4zm1,-1h4.4l2.6,2.6v4.4l-2.6,2.6h-4.4l-2.6,-2.6v-4.4zm1,0h4.4l2.6,2.6v4.4l-2.6,2.6h-4.4l-2.6,-2.6v-4.4zm1,0h4.4l2.6,2.6v4.4l-2.6,2.6h-4.4l-2.6,-2.6v-4.4zm1,-1h4.4l2.6,2.6v4.4l-2.6,2.6h-4.4l-2.6,-2.6v-4.4zm1,0h4.4l2.6,2.6v4.4l-2.6,2.6h-4.4l-2.6,-2.6v-4.4zm1,-1h4.4l2.6,2.6v4.4l-2.6,2.6h-4.4l-2.6,-2.6v-4.4zm1,0h4.4l2.6,2.6v4.4l-2.6,2.6h-4.4l-2.6,-2.6v-4.4zm1,0h4.4l2.6,2.6v4.4l-2.6,2.6h-4.4l-2.6,-2.6v-4.4zm1,-1h4.4l2.6,2.6v4.4l-2.6,2.6h-4.4l-2.6,-2.6v-4.4zm1,0h4.4l2.6,2.6v4.4l-2.6,2.6h-4.4l-2.6,-2.6v-4.4zm1,0h4.4l2.6,2.6v4.4l-2.6,2.6h-4.4l-2.6,-2.6v-4.4zm1,-1h4.4l2.6,2.6v4.4l-2.6,2.6h-4.4l-2.6,-2.6v-4.4zm1,0h4.4l2.6,2.6v4.4l-2.6,2.6h-4.4l-2.6,-2.6v-4.4zm1,-1h4.4l2.6,2.6v4.4l-2.6,2.6h-4.4l-2.6,-2.6v-4.4zm1,0h4.4l2.6,2.6v4.4l-2.6,2.6h-4.4l-2.6,-2.6v-4.4zm1,0h4.4l2.6,2.6v4.4l-2.6,2.6h-4.4l-2.6,-2.6v-4.4zm1,-1h4.4l2.6,2.6v4.4l-2.6,2.6h-4.4l-2.6,-2.6v-4.4zm1,0h4.4l2.6,2.6v4.4l-2.6,2.6h-4.4l-2.6,-2.6v-4.4zm1,0h4.4l2.6,2.6v4.4l-2.6,2.6h-4.4l-2.6,-2.6v-4.4zm1,-1h4.4l2.6,2.6v4.4l-2.6,2.6h-4.4l-2.6,-2.6v-4.4zm1,0h4.4l2.6,2.6v4.4l-2.6,2.6h-4.4l-2.6,-2.6v-4.4zm1,-1h4.4l2.6,2.6v4.4l-2.6,2.6h-4.4l-2.6,-2.6v-4.4zm1,0h4.4l2.6,2.6v4.4l-2.6,2.6h-4.4l-2.6,-2.6v-4.4zm1,0h4.4l2.6,2.6v4.4l-2.6,2.6h-4.4l-2.6,-2.6v-4.4zm2,-1h4.4l2.6,2.6v4.4l-2.6,2.6h-4.4l-2.6,-2.6v-4.4zm1,0h4.4l2.6,2.6v4.4l-2.6,2.6h-4.4l-2.6,-2.6v-4.4zm1,-1h4.4l2.6,2.6v4.4l-2.6,2.6h-4.4l-2.6,-2.6v-4.4zm1,0h4.4l2.6,2.6v4.4l-2.6,2.6h-4.4l-2.6,-2.6v-4.4zm1,0h4.4l2.6,2.6v4.4l-2.6,2.6h-4.4l-2.6,-2.6v-4.4zm1,-1h4.4l2.6,2.6v4.4l-2.6,2.6h-4.4l-2.6,-2.6v-4.4zm1,0h4.4l2.6,2.6v4.4l-2.6,2.6h-4.4l-2.6,-2.6v-4.4zm2,-1h4.4l2.6,2.6v4.4l-2.6,2.6h-4.4l-2.6,-2.6v-4.4zm1,0h4.4l2.6,2.6v4.4l-2.6,2.6h-4.4l-2.6,-2.6v-4.4zm1,-1h4.4l2.6,2.6v4.4l-2.6,2.6h-4.4l-2.6,-2.6v-4.4zm1,0h4.4l2.6,2.6v4.4l-2.6,2.6h-4.4l-2.6,-2.6v-4.4zm1,0h4.4l2.6,2.6v4.4l-2.6,2.6h-4.4l-2.6,-2.6v-4.4zm2,-1h4.4l2.6,2.6v4.4l-2.6,2.6h-4.4l-2.6,-2.6v-4.4zm1,0h4.4l2.6,2.6v4.4l-2.6,2.6h-4.4l-2.6,-2.6v-4.4zm1,-1h4.4l2.6,2.6v4.4l-2.6,2.6h-4.4l-2.6,-2.6v-4.4zm1,0h4.4l2.6,2.6v4.4l-2.6,2.6h-4.4l-2.6,-2.6v-4.4zm2,-1h4.4l2.6,2.6v4.4l-2.6,2.6h-4.4l-2.6,-2.6v-4.4zm1,0h4.4l2.6,2.6v4.4l-2.6,2.6h-4.4l-2.6,-2.6v-4.4zm1,0h4.4l2.6,2.6v4.4l-2.6,2.6h-4.4l-2.6,-2.6v-4.4zm1,-1h4.4l2.6,2.6v4.4l-2.6,2.6h-4.4l-2.6,-2.6v-4.4zm2,0h4.4l2.6,2.6v4.4l-2.6,2.6h-4.4l-2.6,-2.6v-4.4zm1,-1h4.4l2.6,2.6v4.4l-2.6,2.6h-4.4l-2.6,-2.6v-4.4zm1,0h4.4l2.6,2.6v4.4l-2.6,2.6h-4.4l-2.6,-2.6v-4.4zm1,-1h4.4l2.6,2.6v4.4l-2.6,2.6h-4.4l-2.6,-2.6v-4.4zm2,0h4.4l2.6,2.6v4.4l-2.6,2.6h-4.4l-2.6,-2.6v-4.4zm1,-1h4.4l2.6,2.6v4.4l-2.6,2.6h-4.4l-2.6,-2.6v-4.4zm1,0h4.4l2.6,2.6v4.4l-2.6,2.6h-4.4l-2.6,-2.6v-4.4zm2,-1h4.4l2.6,2.6v4.4l-2.6,2.6h-4.4l-2.6,-2.6v-4.4zm1,0h4.4l2.6,2.6v4.4l-2.6,2.6h-4.4l-2.6,-2.6v-4.4zm1,-1h4.4l2.6,2.6v4.4l-2.6,2.6h-4.4l-2.6,-2.6v-4.4zm2,0h4.4l2.6,2.6v4.4l-2.6,2.6h-4.4l-2.6,-2.6v-4.4zm1,-1h4.4l2.6,2.6v4.4l-2.6,2.6h-4.4l-2.6,-2.6v-4.4zm2,0h4.4l2.6,2.6v4.4l-2.6,2.6h-4.4l-2.6,-2.6v-4.4zm1,0h4.4l2.6,2.6v4.4l-2.6,2.6h-4.4l-2.6,-2.6v-4.4zm1,-1h4.4l2.6,2.6v4.4l-2.6,2.6h-4.4l-2.6,-2.6v-4.4zm2,0h4.4l2.6,2.6v4.4l-2.6,2.6h-4.4l-2.6,-2.6v-4.4zm1,-1h4.4l2.6,2.6v4.4l-2.6,2.6h-4.4l-2.6,-2.6v-4.4zm2,0h4.4l2.6,2.6v4.4l-2.6,2.6h-4.4l-2.6,-2.6v-4.4zm1,-1h4.4l2.6,2.6v4.4l-2.6,2.6h-4.4l-2.6,-2.6v-4.4zm2,0h4.4l2.6,2.6v4.4l-2.6,2.6h-4.4l-2.6,-2.6v-4.4zm1,-1h4.4l2.6,2.6v4.4l-2.6,2.6h-4.4l-2.6,-2.6v-4.4zm1,0h4.4l2.6,2.6v4.4l-2.6,2.6h-4.4l-2.6,-2.6v-4.4zm2,-1h4.4l2.6,2.6v4.4l-2.6,2.6h-4.4l-2.6,-2.6v-4.4zm1,0h4.4l2.6,2.6v4.4l-2.6,2.6h-4.4l-2.6,-2.6v-4.4zm2,-1h4.4l2.6,2.6v4.4l-2.6,2.6h-4.4l-2.6,-2.6v-4.4zm1,0h4.4l2.6,2.6v4.4l-2.6,2.6h-4.4l-2.6,-2.6v-4.4zm2,-1h4.4l2.6,2.6v4.4l-2.6,2.6h-4.4l-2.6,-2.6v-4.4zm2,0h4.4l2.6,2.6v4.4l-2.6,2.6h-4.4l-2.6,-2.6v-4.4zm1,-1h4.4l2.6,2.6v4.4l-2.6,2.6h-4.4l-2.6,-2.6v-4.4zm2,-1h4.4l2.6,2.6v4.4l-2.6,2.6h-4.4l-2.6,-2.6v-4.4zm1,0h4.4l2.6,2.6v4.4l-2.6,2.6h-4.4l-2.6,-2.6v-4.4zm2,-1h4.4l2.6,2.6v4.4l-2.6,2.6h-4.4l-2.6,-2.6v-4.4zm1,0h4.4l2.6,2.6v4.4l-2.6,2.6h-4.4l-2.6,-2.6v-4.4zm2,-1h4.4l2.6,2.6v4.4l-2.6,2.6h-4.4l-2.6,-2.6v-4.4zm2,0h4.4l2.6,2.6v4.4l-2.6,2.6h-4.4l-2.6,-2.6v-4.4zm1,-1h4.4l2.6,2.6v4.4l-2.6,2.6h-4.4l-2.6,-2.6v-4.4zm2,0h4.4l2.6,2.6v4.4l-2.6,2.6h-4.4l-2.6,-2.6v-4.4zm1,-1h4.4l2.6,2.6v4.4l-2.6,2.6h-4.4l-2.6,-2.6v-4.4zm2,0h4.4l2.6,2.6v4.4l-2.6,2.6h-4.4l-2.6,-2.6v-4.4zm2,-1h4.4l2.6,2.6v4.4l-2.6,2.6h-4.4l-2.6,-2.6v-4.4zm1,0h4.4l2.6,2.6v4.4l-2.6,2.6h-4.4l-2.6,-2.6v-4.4zm2,-1h4.4l2.6,2.6v4.4l-2.6,2.6h-4.4l-2.6,-2.6v-4.4zm2,0h4.4l2.6,2.6v4.4l-2.6,2.6h-4.4l-2.6,-2.6v-4.4zm1,-1h4.4l2.6,2.6v4.4l-2.6,2.6h-4.4l-2.6,-2.6v-4.4zm2,-1h4.4l2.6,2.6v4.4l-2.6,2.6h-4.4l-2.6,-2.6v-4.4zm2,0h4.4l2.6,2.6v4.4l-2.6,2.6h-4.4l-2.6,-2.6v-4.4zm2,-1h4.4l2.6,2.6v4.4l-2.6,2.6h-4.4l-2.6,-2.6v-4.4zm1,0h4.4l2.6,2.6v4.4l-2.6,2.6h-4.4l-2.6,-2.6v-4.4zm2,-1h4.4l2.6,2.6v4.4l-2.6,2.6h-4.4l-2.6,-2.6v-4.4zm2,0h4.4l2.6,2.6v4.4l-2.6,2.6h-4.4l-2.6,-2.6v-4.4zm2,-1h4.4l2.6,2.6v4.4l-2.6,2.6h-4.4l-2.6,-2.6v-4.4zm1,0h4.4l2.6,2.6v4.4l-2.6,2.6h-4.4l-2.6,-2.6v-4.4zm2,-1h4.4l2.6,2.6v4.4l-2.6,2.6h-4.4l-2.6,-2.6v-4.4zm2,-1h4.4l2.6,2.6v4.4l-2.6,2.6h-4.4l-2.6,-2.6v-4.4zm2,0h4.4l2.6,2.6v4.4l-2.6,2.6h-4.4l-2.6,-2.6v-4.4zm2,-1h4.4l2.6,2.6v4.4l-2.6,2.6h-4.4l-2.6,-2.6v-4.4zm2,0h4.4l2.6,2.6v4.4l-2.6,2.6h-4.4l-2.6,-2.6v-4.4zm1,-1h4.4l2.6,2.6v4.4l-2.6,2.6h-4.4l-2.6,-2.6v-4.4zm2,0h4.4l2.6,2.6v4.4l-2.6,2.6h-4.4l-2.6,-2.6v-4.4zm2,-1h4.4l2.6,2.6v4.4l-2.6,2.6h-4.4l-2.6,-2.6v-4.4zm2,-1h4.4l2.6,2.6v4.4l-2.6,2.6h-4.4l-2.6,-2.6v-4.4zm2,0h4.4l2.6,2.6v4.4l-2.6,2.6h-4.4l-2.6,-2.6v-4.4zm2,-1h4.4l2.6,2.6v4.4l-2.6,2.6h-4.4l-2.6,-2.6v-4.4zm2,0h4.4l2.6,2.6v4.4l-2.6,2.6h-4.4l-2.6,-2.6v-4.4zm2,-1h4.4l2.6,2.6v4.4l-2.6,2.6h-4.4l-2.6,-2.6v-4.4zm2,0h4.4l2.6,2.6v4.4l-2.6,2.6h-4.4l-2.6,-2.6v-4.4zm2,-1h4.4l2.6,2.6v4.4l-2.6,2.6h-4.4l-2.6,-2.6v-4.4zm2,-1h4.4l2.6,2.6v4.4l-2.6,2.6h-4.4l-2.6,-2.6v-4.4zm2,0h4.4l2.6,2.6v4.4l-2.6,2.6h-4.4l-2.6,-2.6v-4.4zm2,-1h4.4l2.6,2.6v4.4l-2.6,2.6h-4.4l-2.6,-2.6v-4.4zm2,0h4.4l2.6,2.6v4.4l-2.6,2.6h-4.4l-2.6,-2.6v-4.4zm2,-1h4.4l2.6,2.6v4.4l-2.6,2.6h-4.4l-2.6,-2.6v-4.4zm2,-1h4.4l2.6,2.6v4.4l-2.6,2.6h-4.4l-2.6,-2.6v-4.4zm2,0h4.4l2.6,2.6v4.4l-2.6,2.6h-4.4l-2.6,-2.6v-4.4zm2,-1h4.4l2.6,2.6v4.4l-2.6,2.6h-4.4l-2.6,-2.6v-4.4zm2,0h4.4l2.6,2.6v4.4l-2.6,2.6h-4.4l-2.6,-2.6v-4.4zm3,-1h4.4l2.6,2.6v4.4l-2.6,2.6h-4.4l-2.6,-2.6v-4.4zm2,-1h4.4l2.6,2.6v4.4l-2.6,2.6h-4.4l-2.6,-2.6v-4.4zm2,0h4.4l2.6,2.6v4.4l-2.6,2.6h-4.4l-2.6,-2.6v-4.4zm2,-1h4.4l2.6,2.6v4.4l-2.6,2.6h-4.4l-2.6,-2.6v-4.4zm2,0h4.4l2.6,2.6v4.4l-2.6,2.6h-4.4l-2.6,-2.6v-4.4zm3,-1h4.4l2.6,2.6v4.4l-2.6,2.6h-4.4l-2.6,-2.6v-4.4zm2,-1h4.4l2.6,2.6v4.4l-2.6,2.6h-4.4l-2.6,-2.6v-4.4zm2,0h4.4l2.6,2.6v4.4l-2.6,2.6h-4.4l-2.6,-2.6v-4.4zm3,-1h4.4l2.6,2.6v4.4l-2.6,2.6h-4.4l-2.6,-2.6v-4.4zm2,0h4.4l2.6,2.6v4.4l-2.6,2.6h-4.4l-2.6,-2.6v-4.4zm2,-1h4.4l2.6,2.6v4.4l-2.6,2.6h-4.4l-2.6,-2.6v-4.4zm3,-1h4.4l2.6,2.6v4.4l-2.6,2.6h-4.4l-2.6,-2.6v-4.4zm2,0h4.4l2.6,2.6v4.4l-2.6,2.6h-4.4l-2.6,-2.6v-4.4zm3,-1h4.4l2.6,2.6v4.4l-2.6,2.6h-4.4l-2.6,-2.6v-4.4zm2,0h4.4l2.6,2.6v4.4l-2.6,2.6h-4.4l-2.6,-2.6v-4.4zm2,-1h4.4l2.6,2.6v4.4l-2.6,2.6h-4.4l-2.6,-2.6v-4.4zm3,-1h4.4l2.6,2.6v4.4l-2.6,2.6h-4.4l-2.6,-2.6v-4.4zm2,0h4.4l2.6,2.6v4.4l-2.6,2.6h-4.4l-2.6,-2.6v-4.4zm3,-1h4.4l2.6,2.6v4.4l-2.6,2.6h-4.4l-2.6,-2.6v-4.4zm3,0h4.4l2.6,2.6v4.4l-2.6,2.6h-4.4l-2.6,-2.6v-4.4zm2,-1h4.4l2.6,2.6v4.4l-2.6,2.6h-4.4l-2.6,-2.6v-4.4zm3,-1h4.4l2.6,2.6v4.4l-2.6,2.6h-4.4l-2.6,-2.6v-4.4zm2,0h4.4l2.6,2.6v4.4l-2.6,2.6h-4.4l-2.6,-2.6v-4.4zm3,-1h4.4l2.6,2.6v4.4l-2.6,2.6h-4.4l-2.6,-2.6v-4.4zm3,0h4.4l2.6,2.6v4.4l-2.6,2.6h-4.4l-2.6,-2.6v-4.4zm2,-1h4.4l2.6,2.6v4.4l-2.6,2.6h-4.4l-2.6,-2.6v-4.4zm3,-1h4.4l2.6,2.6v4.4l-2.6,2.6h-4.4l-2.6,-2.6v-4.4zm3,0h4.4l2.6,2.6v4.4l-2.6,2.6h-4.4l-2.6,-2.6v-4.4zm3,-1h4.4l2.6,2.6v4.4l-2.6,2.6h-4.4l-2.6,-2.6v-4.4zm2,-1h4.4l2.6,2.6v4.4l-2.6,2.6h-4.4l-2.6,-2.6v-4.4zm3,0h4.4l2.6,2.6v4.4l-2.6,2.6h-4.4l-2.6,-2.6v-4.4zm3,-1h4.4l2.6,2.6v4.4l-2.6,2.6h-4.4l-2.6,-2.6v-4.4zm3,0h4.4l2.6,2.6v4.4l-2.6,2.6h-4.4l-2.6,-2.6v-4.4zm3,-1h4.4l2.6,2.6v4.4l-2.6,2.6h-4.4l-2.6,-2.6v-4.4zm3,0h4.4l2.6,2.6v4.4l-2.6,2.6h-4.4l-2.6,-2.6v-4.4zm3,-1h4.4l2.6,2.6v4.4l-2.6,2.6h-4.4l-2.6,-2.6v-4.4zm7,-2h4.4l2.6,2.6v4.4l-2.6,2.6h-4.4l-2.6,-2.6v-4.4zm2,0h4.4l2.6,2.6v4.4l-2.6,2.6h-4.4l-2.6,-2.6v-4.4zm6,-1h4.4l2.6,2.6v4.4l-2.6,2.6h-4.4l-2.6,-2.6v-4.4zm5,-1h4.4l2.6,2.6v4.4l-2.6,2.6h-4.4l-2.6,-2.6v-4.4zm9,-1h4.4l2.6,2.6v4.4l-2.6,2.6h-4.4l-2.6,-2.6v-4.4zm5,-1h4.4l2.6,2.6v4.4l-2.6,2.6h-4.4l-2.6,-2.6v-4.4zm4,-1h4.4l2.6,2.6v4.4l-2.6,2.6h-4.4l-2.6,-2.6v-4.4zm5,-1h4.4l2.6,2.6v4.4l-2.6,2.6h-4.4l-2.6,-2.6v-4.4zm17,-3h4.4l2.6,2.6v4.4l-2.6,2.6h-4.4l-2.6,-2.6v-4.4zm22,-2h4.4l2.6,2.6v4.4l-2.6,2.6h-4.4l-2.6,-2.6v-4.4zm27,-4h4.4l2.6,2.6v4.4l-2.6,2.6h-4.4l-2.6,-2.6v-4.4zm6,0h4.4l2.6,2.6v4.4l-2.6,2.6h-4.4l-2.6,-2.6v-4.4zm3,-1h4.4l2.6,2.6v4.4l-2.6,2.6h-4.4l-2.6,-2.6v-4.4zm10,0h4.4l2.6,2.6v4.4l-2.6,2.6h-4.4l-2.6,-2.6v-4.4zm32,-3h4.4l2.6,2.6v4.4l-2.6,2.6h-4.4l-2.6,-2.6v-4.4z"/>
<path class="rd" d="M164.1,744.9h4.8v1h1.2v1.2h1v4.8h-1v1.2h-1.2v1h-4.8v-1h-1.2v-1.2h-1v-4.8h1v-1.2h1.2zm16,-2h4.8v1h1.2v1.2h1v4.8h-1v1.2h-1.2v1h-4.8v-1h-1.2v-1.2h-1v-4.8h1v-1.2h1.2zm18,-3h4.8v1h1.2v1.2h1v4.8h-1v1.2h-1.2v1h-4.8v-1h-1.2v-1.2h-1v-4.8h1v-1.2h1.2zm54,-9h4.8v1h1.2v1.2h1v4.8h-1v1.2h-1.2v1h-4.8v-1h-1.2v-1.2h-1v-4.8h1v-1.2h1.2zm25,-4h4.8v1h1.2v1.2h1v4.8h-1v1.2h-1.2v1h-4.8v-1h-1.2v-1.2h-1v-4.8h1v-1.2h1.2zm53,-7h4.8v1h1.2v1.2h1v4.8h-1v1.2h-1.2v1h-4.8v-1h-1.2v-1.2h-1v-4.8h1v-1.2h1.2zm12,-2h4.8v1h1.2v1.2h1v4.8h-1v1.2h-1.2v1h-4.8v-1h-1.2v-1.2h-1v-4.8h1v-1.2h1.2zm10,-1h4.8v1h1.2v1.2h1v4.8h-1v1.2h-1.2v1h-4.8v-1h-1.2v-1.2h-1v-4.8h1v-1.2h1.2zm2,0h4.8v1h1.2v1.2h1v4.8h-1v1.2h-1.2v1h-4.8v-1h-1.2v-1.2h-1v-4.8h1v-1.2h1.2zm9,-2h4.8v1h1.2v1.2h1v4.8h-1v1.2h-1.2v1h-4.8v-1h-1.2v-1.2h-1v-4.8h1v-1.2h1.2zm25,-3h4.8v1h1.2v1.2h1v4.8h-1v1.2h-1.2v1h-4.8v-1h-1.2v-1.2h-1v-4.8h1v-1.2h1.2zm8,-1h4.8v1h1.2v1.2h1v4.8h-1v1.2h-1.2v1h-4.8v-1h-1.2v-1.2h-1v-4.8h1v-1.2h1.2zm4,-1h4.8v1h1.2v1.2h1v4.8h-1v1.2h-1.2v1h-4.8v-1h-1.2v-1.2h-1v-4.8h1v-1.2h1.2zm9,-1h4.8v1h1.2v1.2h1v4.8h-1v1.2h-1.2v1h-4.8v-1h-1.2v-1.2h-1v-4.8h1v-1.2h1.2zm8,-1h4.8v1h1.2v1.2h1v4.8h-1v1.2h-1.2v1h-4.8v-1h-1.2v-1.2h-1v-4.8h1v-1.2h1.2zm3,0h4.8v1h1.2v1.2h1v4.8h-1v1.2h-1.2v1h-4.8v-1h-1.2v-1.2h-1v-4.8h1v-1.2h1.2zm3,-1h4.8v1h1.2v1.2h1v4.8h-1v1.2h-1.2v1h-4.8v-1h-1.2v-1.2h-1v-4.8h1v-1.2h1.2zm2,0h4.8v1h1.2v1.2h1v4.8h-1v1.2h-1.2v1h-4.8v-1h-1.2v-1.2h-1v-4.8h1v-1.2h1.2zm4,0h4.8v1h1.2v1.2h1v4.8h-1v1.2h-1.2v1h-4.8v-1h-1.2v-1.2h-1v-4.8h1v-1.2h1.2zm2,-1h4.8v1h1.2v1.2h1v4.8h-1v1.2h-1.2v1h-4.8v-1h-1.2v-1.2h-1v-4.8h1v-1.2h1.2zm2,0h4.8v1h1.2v1.2h1v4.8h-1v1.2h-1.2v1h-4.8v-1h-1.2v-1.2h-1v-4.8h1v-1.2h1.2zm3,0h4.8v1h1.2v1.2h1v4.8h-1v1.2h-1.2v1h-4.8v-1h-1.2v-1.2h-1v-4.8h1v-1.2h1.2zm2,-1h4.8v1h1.2v1.2h1v4.8h-1v1.2h-1.2v1h-4.8v-1h-1.2v-1.2h-1v-4.8h1v-1.2h1.2zm2,0h4.8v1h1.2v1.2h1v4.8h-1v1.2h-1.2v1h-4.8v-1h-1.2v-1.2h-1v-4.8h1v-1.2h1.2zm3,0h4.8v1h1.2v1.2h1v4.8h-1v1.2h-1.2v1h-4.8v-1h-1.2v-1.2h-1v-4.8h1v-1.2h1.2zm4,-1h4.8v1h1.2v1.2h1v4.8h-1v1.2h-1.2v1h-4.8v-1h-1.2v-1.2h-1v-4.8h1v-1.2h1.2zm2,0h4.8v1h1.2v1.2h1v4.8h-1v1.2h-1.2v1h-4.8v-1h-1.2v-1.2h-1v-4.8h1v-1.2h1.2zm4,-1h4.8v1h1.2v1.2h1v4.8h-1v1.2h-1.2v1h-4.8v-1h-1.2v-1.2h-1v-4.8h1v-1.2h1.2zm13,-1h4.8v1h1.2v1.2h1v4.8h-1v1.2h-1.2v1h-4.8v-1h-1.2v-1.2h-1v-4.8h1v-1.2h1.2zm15,-2h4.8v1h1.2v1.2h1v4.8h-1v1.2h-1.2v1h-4.8v-1h-1.2v-1.2h-1v-4.8h1v-1.2h1.2zm7,-1h4.8v1h1.2v1.2h1v4.8h-1v1.2h-1.2v1h-4.8v-1h-1.2v-1.2h-1v-4.8h1v-1.2h1.2zm2,-1h4.8v1h1.2v1.2h1v4.8h-1v1.2h-1.2v1h-4.8v-1h-1.2v-1.2h-1v-4.8h1v-1.2h1.2zm2,0h4.8v1h1.2v1.2h1v4.8h-1v1.2h-1.2v1h-4.8v-1h-1.2v-1.2h-1v-4.8h1v-1.2h1.2zm2,0h4.8v1h1.2v1.2h1v4.8h-1v1.2h-1.2v1h-4.8v-1h-1.2v-1.2h-1v-4.8h1v-1.2h1.2zm2,0h4.8v1h1.2v1.2h1v4.8h-1v1.2h-1.2v1h-4.8v-1h-1.2v-1.2h-1v-4.8h1v-1.2h1.2zm2,-1h4.8v1h1.2v1.2h1v4.8h-1v1.2h-1.2v1h-4.8v-1h-1.2v-1.2h-1v-4.8h1v-1.2h1.2zm2,0h4.8v1h1.2v1.2h1v4.8h-1v1.2h-1.2v1h-4.8v-1h-1.2v-1.2h-1v-4.8h1v-1.2h1.2zm2,0h4.8v1h1.2v1.2h1v4.8h-1v1.2h-1.2v1h-4.8v-1h-1.2v-1.2h-1v-4.8h1v-1.2h1.2zm2,-1h4.8v1h1.2v1.2h1v4.8h-1v1.2h-1.2v1h-4.8v-1h-1.2v-1.2h-1v-4.8h1v-1.2h1.2zm2,0h4.8v1h1.2v1.2h1v4.8h-1v1.2h-1.2v1h-4.8v-1h-1.2v-1.2h-1v-4.8h1v-1.2h1.2zm2,0h4.8v1h1.2v1.2h1v4.8h-1v1.2h-1.2v1h-4.8v-1h-1.2v-1.2h-1v-4.8h1v-1.2h1.2zm2,0h4.8v1h1.2v1.2h1v4.8h-1v1.2h-1.2v1h-4.8v-1h-1.2v-1.2h-1v-4.8h1v-1.2h1.2zm2,-1h4.8v1h1.2v1.2h1v4.8h-1v1.2h-1.2v1h-4.8v-1h-1.2v-1.2h-1v-4.8h1v-1.2h1.2zm2,0h4.8v1h1.2v1.2h1v4.8h-1v1.2h-1.2v1h-4.8v-1h-1.2v-1.2h-1v-4.8h1v-1.2h1.2zm2,0h4.8v1h1.2v1.2h1v4.8h-1v1.2h-1.2v1h-4.8v-1h-1.2v-1.2h-1v-4.8h1v-1.2h1.2zm2,0h4.8v1h1.2v1.2h1v4.8h-1v1.2h-1.2v1h-4.8v-1h-1.2v-1.2h-1v-4.8h1v-1.2h1.2zm2,-1h4.8v1h1.2v1.2h1v4.8h-1v1.2h-1.2v1h-4.8v-1h-1.2v-1.2h-1v-4.8h1v-1.2h1.2zm2,0h4.8v1h1.2v1.2h1v4.8h-1v1.2h-1.2v1h-4.8v-1h-1.2v-1.2h-1v-4.8h1v-1.2h1.2zm2,0h4.8v1h1.2v1.2h1v4.8h-1v1.2h-1.2v1h-4.8v-1h-1.2v-1.2h-1v-4.8h1v-1.2h1.2zm2,0h4.8v1h1.2v1.2h1v4.8h-1v1.2h-1.2v1h-4.8v-1h-1.2v-1.2h-1v-4.8h1v-1.2h1.2zm1,-1h4.8v1h1.2v1.2h1v4.8h-1v1.2h-1.2v1h-4.8v-1h-1.2v-1.2h-1v-4.8h1v-1.2h1.2zm1,0h4.8v1h1.2v1.2h1v4.8h-1v1.2h-1.2v1h-4.8v-1h-1.2v-1.2h-1v-4.8h1v-1.2h1.2zm1,0h4.8v1h1.2v1.2h1v4.8h-1v1.2h-1.2v1h-4.8v-1h-1.2v-1.2h-1v-4.8h1v-1.2h1.2zm1,0h4.8v1h1.2v1.2h1v4.8h-1v1.2h-1.2v1h-4.8v-1h-1.2v-1.2h-1v-4.8h1v-1.2h1.2zm1,0h4.8v1h1.2v1.2h1v4.8h-1v1.2h-1.2v1h-4.8v-1h-1.2v-1.2h-1v-4.8h1v-1.2h1.2zm1,0h4.8v1h1.2v1.2h1v4.8h-1v1.2h-1.2v1h-4.8v-1h-1.2v-1.2h-1v-4.8h1v-1.2h1.2zm1,0h4.8v1h1.2v1.2h1v4.8h-1v1.2h-1.2v1h-4.8v-1h-1.2v-1.2h-1v-4.8h1v-1.2h1.2zm1,-1h4.8v1h1.2v1.2h1v4.8h-1v1.2h-1.2v1h-4.8v-1h-1.2v-1.2h-1v-4.8h1v-1.2h1.2zm1,0h4.8v1h1.2v1.2h1v4.8h-1v1.2h-1.2v1h-4.8v-1h-1.2v-1.2h-1v-4.8h1v-1.2h1.2zm1,0h4.8v1h1.2v1.2h1v4.8h-1v1.2h-1.2v1h-4.8v-1h-1.2v-1.2h-1v-4.8h1v-1.2h1.2zm1,0h4.8v1h1.2v1.2h1v4.8h-1v1.2h-1.2v1h-4.8v-1h-1.2v-1.2h-1v-4.8h1v-1.2h1.2zm1,0h4.8v1h1.2v1.2h1v4.8h-1v1.2h-1.2v1h-4.8v-1h-1.2v-1.2h-1v-4.8h1v-1.2h1.2zm1,0h4.8v1h1.2v1.2h1v4.8h-1v1.2h-1.2v1h-4.8v-1h-1.2v-1.2h-1v-4.8h1v-1.2h1.2zm1,0h4.8v1h1.2v1.2h1v4.8h-1v1.2h-1.2v1h-4.8v-1h-1.2v-1.2h-1v-4.8h1v-1.2h1.2zm1,-1h4.8v1h1.2v1.2h1v4.8h-1v1.2h-1.2v1h-4.8v-1h-1.2v-1.2h-1v-4.8h1v-1.2h1.2zm1,0h4.8v1h1.2v1.2h1v4.8h-1v1.2h-1.2v1h-4.8v-1h-1.2v-1.2h-1v-4.8h1v-1.2h1.2zm1,0h4.8v1h1.2v1.2h1v4.8h-1v1.2h-1.2v1h-4.8v-1h-1.2v-1.2h-1v-4.8h1v-1.2h1.2zm1,0h4.8v1h1.2v1.2h1v4.8h-1v1.2h-1.2v1h-4.8v-1h-1.2v-1.2h-1v-4.8h1v-1.2h1.2zm1,0h4.8v1h1.2v1.2h1v4.8h-1v1.2h-1.2v1h-4.8v-1h-1.2v-1.2h-1v-4.8h1v-1.2h1.2zm1,0h4.8v1h1.2v1.2h1v4.8h-1v1.2h-1.2v1h-4.8v-1h-1.2v-1.2h-1v-4.8h1v-1.2h1.2zm1,0h4.8v1h1.2v1.2h1v4.8h-1v1.2h-1.2v1h-4.8v-1h-1.2v-1.2h-1v-4.8h1v-1.2h1.2zm1,0h4.8v1h1.2v1.2h1v4.8h-1v1.2h-1.2v1h-4.8v-1h-1.2v-1.2h-1v-4.8h1v-1.2h1.2zm1,-1h4.8v1h1.2v1.2h1v4.8h-1v1.2h-1.2v1h-4.8v-1h-1.2v-1.2h-1v-4.8h1v-1.2h1.2zm1,0h4.8v1h1.2v1.2h1v4.8h-1v1.2h-1.2v1h-4.8v-1h-1.2v-1.2h-1v-4.8h1v-1.2h1.2zm1,0h4.8v1h1.2v1.2h1v4.8h-1v1.2h-1.2v1h-4.8v-1h-1.2v-1.2h-1v-4.8h1v-1.2h1.2zm1,0h4.8v1h1.2v1.2h1v4.8h-1v1.2h-1.2v1h-4.8v-1h-1.2v-1.2h-1v-4.8h1v-1.2h1.2zm1,0h4.8v1h1.2v1.2h1v4.8h-1v1.2h-1.2v1h-4.8v-1h-1.2v-1.2h-1v-4.8h1v-1.2h1.2zm1,0h4.8v1h1.2v1.2h1v4.8h-1v1.2h-1.2v1h-4.8v-1h-1.2v-1.2h-1v-4.8h1v-1.2h1.2zm1,0h4.8v1h1.2v1.2h1v4.8h-1v1.2h-1.2v1h-4.8v-1h-1.2v-1.2h-1v-4.8h1v-1.2h1.2zm1,-1h4.8v1h1.2v1.2h1v4.8h-1v1.2h-1.2v1h-4.8v-1h-1.2v-1.2h-1v-4.8h1v-1.2h1.2zm1,0h4.8v1h1.2v1.2h1v4.8h-1v1.2h-1.2v1h-4.8v-1h-1.2v-1.2h-1v-4.8h1v-1.2h1.2zm1,0h4.8v1h1.2v1.2h1v4.8h-1v1.2h-1.2v1h-4.8v-1h-1.2v-1.2h-1v-4.8h1v-1.2h1.2zm1,0h4.8v1h1.2v1.2h1v4.8h-1v1.2h-1.2v1h-4.8v-1h-1.2v-1.2h-1v-4.8h1v-1.2h1.2zm1,0h4.8v1h1.2v1.2h1v4.8h-1v1.2h-1.2v1h-4.8v-1h-1.2v-1.2h-1v-4.8h1v-1.2h1.2zm1,0h4.8v1h1.2v1.2h1v4.8h-1v1.2h-1.2v1h-4.8v-1h-1.2v-1.2h-1v-4.8h1v-1.2h1.2zm1,0h4.8v1h1.2v1.2h1v4.8h-1v1.2h-1.2v1h-4.8v-1h-1.2v-1.2h-1v-4.8h1v-1.2h1.2zm1,-1h4.8v1h1.2v1.2h1v4.8h-1v1.2h-1.2v1h-4.8v-1h-1.2v-1.2h-1v-4.8h1v-1.2h1.2zm1,0h4.8v1h1.2v1.2h1v4.8h-1v1.2h-1.2v1h-4.8v-1h-1.2v-1.2h-1v-4.8h1v-1.2h1.2zm1,0h4.8v1h1.2v1.2h1v4.8h-1v1.2h-1.2v1h-4.8v-1h-1.2v-1.2h-1v-4.8h1v-1.2h1.2zm1,0h4.8v1h1.2v1.2h1v4.8h-1v1.2h-1.2v1h-4.8v-1h-1.2v-1.2h-1v-4.8h1v-1.2h1.2zm1,0h4.8v1h1.2v1.2h1v4.8h-1v1.2h-1.2v1h-4.8v-1h-1.2v-1.2h-1v-4.8h1v-1.2h1.2zm1,0h4.8v1h1.2v1.2h1v4.8h-1v1.2h-1.2v1h-4.8v-1h-1.2v-1.2h-1v-4.8h1v-1.2h1.2zm1,0h4.8v1h1.2v1.2h1v4.8h-1v1.2h-1.2v1h-4.8v-1h-1.2v-1.2h-1v-4.8h1v-1.2h1.2zm1,-1h4.8v1h1.2v1.2h1v4.8h-1v1.2h-1.2v1h-4.8v-1h-1.2v-1.2h-1v-4.8h1v-1.2h1.2zm1,0h4.8v1h1.2v1.2h1v4.8h-1v1.2h-1.2v1h-4.8v-1h-1.2v-1.2h-1v-4.8h1v-1.2h1.2zm1,0h4.8v1h1.2v1.2h1v4.8h-1v1.2h-1.2v1h-4.8v-1h-1.2v-1.2h-1v-4.8h1v-1.2h1.2zm1,0h4.8v1h1.2v1.2h1v4.8h-1v1.2h-1.2v1h-4.8v-1h-1.2v-1.2h-1v-4.8h1v-1.2h1.2zm1,0h4.8v1h1.2v1.2h1v4.8h-1v1.2h-1.2v1h-4.8v-1h-1.2v-1.2h-1v-4.8h1v-1.2h1.2zm1,0h4.8v1h1.2v1.2h1v4.8h-1v1.2h-1.2v1h-4.8v-1h-1.2v-1.2h-1v-4.8h1v-1.2h1.2zm1,0h4.8v1h1.2v1.2h1v4.8h-1v1.2h-1.2v1h-4.8v-1h-1.2v-1.2h-1v-4.8h1v-1.2h1.2zm1,0h4.8v1h1.2v1.2h1v4.8h-1v1.2h-1.2v1h-4.8v-1h-1.2v-1.2h-1v-4.8h1v-1.2h1.2zm1,-1h4.8v1h1.2v1.2h1v4.8h-1v1.2h-1.2v1h-4.8v-1h-1.2v-1.2h-1v-4.8h1v-1.2h1.2zm1,0h4.8v1h1.2v1.2h1v4.8h-1v1.2h-1.2v1h-4.8v-1h-1.2v-1.2h-1v-4.8h1v-1.2h1.2zm1,0h4.8v1h1.2v1.2h1v4.8h-1v1.2h-1.2v1h-4.8v-1h-1.2v-1.2h-1v-4.8h1v-1.2h1.2zm1,0h4.8v1h1.2v1.2h1v4.8h-1v1.2h-1.2v1h-4.8v-1h-1.2v-1.2h-1v-4.8h1v-1.2h1.2zm1,0h4.8v1h1.2v1.2h1v4.8h-1v1.2h-1.2v1h-4.8v-1h-1.2v-1.2h-1v-4.8h1v-1.2h1.2zm1,0h4.8v1h1.2v1.2h1v4.8h-1v1.2h-1.2v1h-4.8v-1h-1.2v-1.2h-1v-4.8h1v-1.2h1.2zm1,0h4.8v1h1.2v1.2h1v4.8h-1v1.2h-1.2v1h-4.8v-1h-1.2v-1.2h-1v-4.8h1v-1.2h1.2zm1,-1h4.8v1h1.2v1.2h1v4.8h-1v1.2h-1.2v1h-4.8v-1h-1.2v-1.2h-1v-4.8h1v-1.2h1.2zm1,0h4.8v1h1.2v1.2h1v4.8h-1v1.2h-1.2v1h-4.8v-1h-1.2v-1.2h-1v-4.8h1v-1.2h1.2zm1,0h4.8v1h1.2v1.2h1v4.8h-1v1.2h-1.2v1h-4.8v-1h-1.2v-1.2h-1v-4.8h1v-1.2h1.2zm1,0h4.8v1h1.2v1.2h1v4.8h-1v1.2h-1.2v1h-4.8v-1h-1.2v-1.2h-1v-4.8h1v-1.2h1.2zm1,0h4.8v1h1.2v1.2h1v4.8h-1v1.2h-1.2v1h-4.8v-1h-1.2v-1.2h-1v-4.8h1v-1.2h1.2zm1,0h4.8v1h1.2v1.2h1v4.8h-1v1.2h-1.2v1h-4.8v-1h-1.2v-1.2h-1v-4.8h1v-1.2h1.2zm1,0h4.8v1h1.2v1.2h1v4.8h-1v1.2h-1.2v1h-4.8v-1h-1.2v-1.2h-1v-4.8h1v-1.2h1.2zm1,-1h4.8v1h1.2v1.2h1v4.8h-1v1.2h-1.2v1h-4.8v-1h-1.2v-1.2h-1v-4.8h1v-1.2h1.2zm1,0h4.8v1h1.2v1.2h1v4.8h-1v1.2h-1.2v1h-4.8v-1h-1.2v-1.2h-1v-4.8h1v-1.2h1.2zm1,0h4.8v1h1.2v1.2h1v4.8h-1v1.2h-1.2v1h-4.8v-1h-1.2v-1.2h-1v-4.8h1v-1.2h1.2zm1,0h4.8v1h1.2v1.2h1v4.8h-1v1.2h-1.2v1h-4.8v-1h-1.2v-1.2h-1v-4.8h1v-1.2h1.2zm1,0h4.8v1h1.2v1.2h1v4.8h-1v1.2h-1.2v1h-4.8v-1h-1.2v-1.2h-1v-4.8h1v-1.2h1.2zm1,0h4.8v1h1.2v1.2h1v4.8h-1v1.2h-1.2v1h-4.8v-1h-1.2v-1.2h-1v-4.8h1v-1.2h1.2zm1,0h4.8v1h1.2v1.2h1v4.8h-1v1.2h-1.2v1h-4.8v-1h-1.2v-1.2h-1v-4.8h1v-1.2h1.2zm1,-1h4.8v1h1.2v1.2h1v4.8h-1v1.2h-1.2v1h-4.8v-1h-1.2v-1.2h-1v-4.8h1v-1.2h1.2zm1,0h4.8v1h1.2v1.2h1v4.8h-1v1.2h-1.2v1h-4.8v-1h-1.2v-1.2h-1v-4.8h1v-1.2h1.2zm1,0h4.8v1h1.2v1.2h1v4.8h-1v1.2h-1.2v1h-4.8v-1h-1.2v-1.2h-1v-4.8h1v-1.2h1.2zm1,0h4.8v1h1.2v1.2h1v4.8h-1v1.2h-1.2v1h-4.8v-1h-1.2v-1.2h-1v-4.8h1v-1.2h1.2zm1,0h4.8v1h1.2v1.2h1v4.8h-1v1.2h-1.2v1h-4.8v-1h-1.2v-1.2h-1v-4.8h1v-1.2h1.2zm1,0h4.8v1h1.2v1.2h1v4.8h-1v1.2h-1.2v1h-4.8v-1h-1.2v-1.2h-1v-4.8h1v-1.2h1.2zm1,0h4.8v1h1.2v1.2h1v4.8h-1v1.2h-1.2v1h-4.8v-1h-1.2v-1.2h-1v-4.8h1v-1.2h1.2zm1,-1h4.8v1h1.2v1.2h1v4.8h-1v1.2h-1.2v1h-4.8v-1h-1.2v-1.2h-1v-4.8h1v-1.2h1.2zm1,0h4.8v1h1.2v1.2h1v4.8h-1v1.2h-1.2v1h-4.8v-1h-1.2v-1.2h-1v-4.8h1v-1.2h1.2zm1,0h4.8v1h1.2v1.2h1v4.8h-1v1.2h-1.2v1h-4.8v-1h-1.2v-1.2h-1v-4.8h1v-1.2h1.2zm1,0h4.8v1h1.2v1.2h1v4.8h-1v1.2h-1.2v1h-4.8v-1h-1.2v-1.2h-1v-4.8h1v-1.2h1.2zm1,0h4.8v1h1.2v1.2h1v4.8h-1v1.2h-1.2v1h-4.8v-1h-1.2v-1.2h-1v-4.8h1v-1.2h1.2zm1,0h4.8v1h1.2v1.2h1v4.8h-1v1.2h-1.2v1h-4.8v-1h-1.2v-1.2h-1v-4.8h1v-1.2h1.2zm1,0h4.8v1h1.2v1.2h1v4.8h-1v1.2h-1.2v1h-4.8v-1h-1.2v-1.2h-1v-4.8h1v-1.2h1.2zm1,-1h4.8v1h1.2v1.2h1v4.8h-1v1.2h-1.2v1h-4.8v-1h-1.2v-1.2h-1v-4.8h1v-1.2h1.2zm1,0h4.8v1h1.2v1.2h1v4.8h-1v1.2h-1.2v1h-4.8v-1h-1.2v-1.2h-1v-4.8h1v-1.2h1.2zm1,0h4.8v1h1.2v1.2h1v4.8h-1v1.2h-1.2v1h-4.8v-1h-1.2v-1.2h-1v-4.8h1v-1.2h1.2zm1,0h4.8v1h1.2v1.2h1v4.8h-1v1.2h-1.2v1h-4.8v-1h-1.2v-1.2h-1v-4.8h1v-1.2h1.2zm1,0h4.8v1h1.2v1.2h1v4.8h-1v1.2h-1.2v1h-4.8v-1h-1.2v-1.2h-1v-4.8h1v-1.2h1.2zm1,0h4.8v1h1.2v1.2h1v4.8h-1v1.2h-1.2v1h-4.8v-1h-1.2v-1.2h-1v-4.8h1v-1.2h1.2zm1,0h4.8v1h1.2v1.2h1v4.8h-1v1.2h-1.2v1h-4.8v-1h-1.2v-1.2h-1v-4.8h1v-1.2h1.2zm1,-1h4.8v1h1.2v1.2h1v4.8h-1v1.2h-1.2v1h-4.8v-1h-1.2v-1.2h-1v-4.8h1v-1.2h1.2zm1,0h4.8v1h1.2v1.2h1v4.8h-1v1.2h-1.2v1h-4.8v-1h-1.2v-1.2h-1v-4.8h1v-1.2h1.2zm1,0h4.8v1h1.2v1.2h1v4.8h-1v1.2h-1.2v1h-4.8v-1h-1.2v-1.2h-1v-4.8h1v-1.2h1.2zm1,0h4.8v1h1.2v1.2h1v4.8h-1v1.2h-1.2v1h-4.8v-1h-1.2v-1.2h-1v-4.8h1v-1.2h1.2zm1,0h4.8v1h1.2v1.2h1v4.8h-1v1.2h-1.2v1h-4.8v-1h-1.2v-1.2h-1v-4.8h1v-1.2h1.2zm1,0h4.8v1h1.2v1.2h1v4.8h-1v1.2h-1.2v1h-4.8v-1h-1.2v-1.2h-1v-4.8h1v-1.2h1.2zm1,-1h4.8v1h1.2v1.2h1v4.8h-1v1.2h-1.2v1h-4.8v-1h-1.2v-1.2h-1v-4.8h1v-1.2h1.2zm1,0h4.8v1h1.2v1.2h1v4.8h-1v1.2h-1.2v1h-4.8v-1h-1.2v-1.2h-1v-4.8h1v-1.2h1.2zm1,0h4.8v1h1.2v1.2h1v4.8h-1v1.2h-1.2v1h-4.8v-1h-1.2v-1.2h-1v-4.8h1v-1.2h1.2zm1,0h4.8v1h1.2v1.2h1v4.8h-1v1.2h-1.2v1h-4.8v-1h-1.2v-1.2h-1v-4.8h1v-1.2h1.2zm1,0h4.8v1h1.2v1.2h1v4.8h-1v1.2h-1.2v1h-4.8v-1h-1.2v-1.2h-1v-4.8h1v-1.2h1.2zm1,0h4.8v1h1.2v1.2h1v4.8h-1v1.2h-1.2v1h-4.8v-1h-1.2v-1.2h-1v-4.8h1v-1.2h1.2zm1,0h4.8v1h1.2v1.2h1v4.8h-1v1.2h-1.2v1h-4.8v-1h-1.2v-1.2h-1v-4.8h1v-1.2h1.2zm1,-1h4.8v1h1.2v1.2h1v4.8h-1v1.2h-1.2v1h-4.8v-1h-1.2v-1.2h-1v-4.8h1v-1.2h1.2zm1,0h4.8v1h1.2v1.2h1v4.8h-1v1.2h-1.2v1h-4.8v-1h-1.2v-1.2h-1v-4.8h1v-1.2h1.2zm1,0h4.8v1h1.2v1.2h1v4.8h-1v1.2h-1.2v1h-4.8v-1h-1.2v-1.2h-1v-4.8h1v-1.2h1.2zm1,0h4.8v1h1.2v1.2h1v4.8h-1v1.2h-1.2v1h-4.8v-1h-1.2v-1.2h-1v-4.8h1v-1.2h1.2zm1,0h4.8v1h1.2v1.2h1v4.8h-1v1.2h-1.2v1h-4.8v-1h-1.2v-1.2h-1v-4.8h1v-1.2h1.2zm1,0h4.8v1h1.2v1.2h1v4.8h-1v1.2h-1.2v1h-4.8v-1h-1.2v-1.2h-1v-4.8h1v-1.2h1.2zm1,-1h4.8v1h1.2v1.2h1v4.8h-1v1.2h-1.2v1h-4.8v-1h-1.2v-1.2h-1v-4.8h1v-1.2h1.2zm1,0h4.8v1h1.2v1.2h1v4.8h-1v1.2h-1.2v1h-4.8v-1h-1.2v-1.2h-1v-4.8h1v-1.2h1.2zm1,0h4.8v1h1.2v1.2h1v4.8h-1v1.2h-1.2v1h-4.8v-1h-1.2v-1.2h-1v-4.8h1v-1.2h1.2zm1,0h4.8v1h1.2v1.2h1v4.8h-1v1.2h-1.2v1h-4.8v-1h-1.2v-1.2h-1v-4.8h1v-1.2h1.2zm1,0h4.8v1h1.2v1.2h1v4.8h-1v1.2h-1.2v1h-4.8v-1h-1.2v-1.2h-1v-4.8h1v-1.2h1.2zm1,0h4.8v1h1.2v1.2h1v4.8h-1v1.2h-1.2v1h-4.8v-1h-1.2v-1.2h-1v-4.8h1v-1.2h1.2zm1,0h4.8v1h1.2v1.2h1v4.8h-1v1.2h-1.2v1h-4.8v-1h-1.2v-1.2h-1v-4.8h1v-1.2h1.2zm1,-1h4.8v1h1.2v1.2h1v4.8h-1v1.2h-1.2v1h-4.8v-1h-1.2v-1.2h-1v-4.8h1v-1.2h1.2zm1,0h4.8v1h1.2v1.2h1v4.8h-1v1.2h-1.2v1h-4.8v-1h-1.2v-1.2h-1v-4.8h1v-1.2h1.2zm1,0h4.8v1h1.2v1.2h1v4.8h-1v1.2h-1.2v1h-4.8v-1h-1.2v-1.2h-1v-4.8h1v-1.2h1.2zm1,0h4.8v1h1.2v1.2h1v4.8h-1v1.2h-1.2v1h-4.8v-1h-1.2v-1.2h-1v-4.8h1v-1.2h1.2zm1,0h4.8v1h1.2v1.2h1v4.8h-1v1.2h-1.2v1h-4.8v-1h-1.2v-1.2h-1v-4.8h1v-1.2h1.2zm1,0h4.8v1h1.2v1.2h1v4.8h-1v1.2h-1.2v1h-4.8v-1h-1.2v-1.2h-1v-4.8h1v-1.2h1.2zm1,-1h4.8v1h1.2v1.2h1v4.8h-1v1.2h-1.2v1h-4.8v-1h-1.2v-1.2h-1v-4.8h1v-1.2h1.2zm1,0h4.8v1h1.2v1.2h1v4.8h-1v1.2h-1.2v1h-4.8v-1h-1.2v-1.2h-1v-4.8h1v-1.2h1.2zm1,0h4.8v1h1.2v1.2h1v4.8h-1v1.2h-1.2v1h-4.8v-1h-1.2v-1.2h-1v-4.8h1v-1.2h1.2zm1,0h4.8v1h1.2v1.2h1v4.8h-1v1.2h-1.2v1h-4.8v-1h-1.2v-1.2h-1v-4.8h1v-1.2h1.2zm1,0h4.8v1h1.2v1.2h1v4.8h-1v1.2h-1.2v1h-4.8v-1h-1.2v-1.2h-1v-4.8h1v-1.2h1.2zm1,0h4.8v1h1.2v1.2h1v4.8h-1v1.2h-1.2v1h-4.8v-1h-1.2v-1.2h-1v-4.8h1v-1.2h1.2zm1,-1h4.8v1h1.2v1.2h1v4.8h-1v1.2h-1.2v1h-4.8v-1h-1.2v-1.2h-1v-4.8h1v-1.2h1.2zm1,0h4.8v1h1.2v1.2h1v4.8h-1v1.2h-1.2v1h-4.8v-1h-1.2v-1.2h-1v-4.8h1v-1.2h1.2zm1,0h4.8v1h1.2v1.2h1v4.8h-1v1.2h-1.2v1h-4.8v-1h-1.2v-1.2h-1v-4.8h1v-1.2h1.2zm1,0h4.8v1h1.2v1.2h1v4.8h-1v1.2h-1.2v1h-4.8v-1h-1.2v-1.2h-1v-4.8h1v-1.2h1.2zm1,0h4.8v1h1.2v1.2h1v4.8h-1v1.2h-1.2v1h-4.8v-1h-1.2v-1.2h-1v-4.8h1v-1.2h1.2zm1,0h4.8v1h1.2v1.2h1v4.8h-1v1.2h-1.2v1h-4.8v-1h-1.2v-1.2h-1v-4.8h1v-1.2h1.2zm1,-1h4.8v1h1.2v1.2h1v4.8h-1v1.2h-1.2v1h-4.8v-1h-1.2v-1.2h-1v-4.8h1v-1.2h1.2zm1,0h4.8v1h1.2v1.2h1v4.8h-1v1.2h-1.2v1h-4.8v-1h-1.2v-1.2h-1v-4.8h1v-1.2h1.2zm1,0h4.8v1h1.2v1.2h1v4.8h-1v1.2h-1.2v1h-4.8v-1h-1.2v-1.2h-1v-4.8h1v-1.2h1.2zm1,0h4.8v1h1.2v1.2h1v4.8h-1v1.2h-1.2v1h-4.8v-1h-1.2v-1.2h-1v-4.8h1v-1.2h1.2zm1,0h4.8v1h1.2v1.2h1v4.8h-1v1.2h-1.2v1h-4.8v-1h-1.2v-1.2h-1v-4.8h1v-1.2h1.2zm1,0h4.8v1h1.2v1.2h1v4.8h-1v1.2h-1.2v1h-4.8v-1h-1.2v-1.2h-1v-4.8h1v-1.2h1.2zm1,-1h4.8v1h1.2v1.2h1v4.8h-1v1.2h-1.2v1h-4.8v-1h-1.2v-1.2h-1v-4.8h1v-1.2h1.2zm1,0h4.8v1h1.2v1.2h1v4.8h-1v1.2h-1.2v1h-4.8v-1h-1.2v-1.2h-1v-4.8h1v-1.2h1.2zm1,0h4.8v1h1.2v1.2h1v4.8h-1v1.2h-1.2v1h-4.8v-1h-1.2v-1.2h-1v-4.8h1v-1.2h1.2zm1,0h4.8v1h1.2v1.2h1v4.8h-1v1.2h-1.2v1h-4.8v-1h-1.2v-1.2h-1v-4.8h1v-1.2h1.2zm1,0h4.8v1h1.2v1.2h1v4.8h-1v1.2h-1.2v1h-4.8v-1h-1.2v-1.2h-1v-4.8h1v-1.2h1.2zm1,-1h4.8v1h1.2v1.2h1v4.8h-1v1.2h-1.2v1h-4.8v-1h-1.2v-1.2h-1v-4.8h1v-1.2h1.2zm1,0h4.8v1h1.2v1.2h1v4.8h-1v1.2h-1.2v1h-4.8v-1h-1.2v-1.2h-1v-4.8h1v-1.2h1.2zm1,0h4.8v1h1.2v1.2h1v4.8h-1v1.2h-1.2v1h-4.8v-1h-1.2v-1.2h-1v-4.8h1v-1.2h1.2zm1,0h4.8v1h1.2v1.2h1v4.8h-1v1.2h-1.2v1h-4.8v-1h-1.2v-1.2h-1v-4.8h1v-1.2h1.2zm1,0h4.8v1h1.2v1.2h1v4.8h-1v1.2h-1.2v1h-4.8v-1h-1.2v-1.2h-1v-4.8h1v-1.2h1.2zm1,0h4.8v1h1.2v1.2h1v4.8h-1v1.2h-1.2v1h-4.8v-1h-1.2v-1.2h-1v-4.8h1v-1.2h1.2zm1,-1h4.8v1h1.2v1.2h1v4.8h-1v1.2h-1.2v1h-4.8v-1h-1.2v-1.2h-1v-4.8h1v-1.2h1.2zm1,0h4.8v1h1.2v1.2h1v4.8h-1v1.2h-1.2v1h-4.8v-1h-1.2v-1.2h-1v-4.8h1v-1.2h1.2zm1,0h4.8v1h1.2v1.2h1v4.8h-1v1.2h-1.2v1h-4.8v-1h-1.2v-1.2h-1v-4.8h1v-1.2h1.2zm1,0h4.8v1h1.2v1.2h1v4.8h-1v1.2h-1.2v1h-4.8v-1h-1.2v-1.2h-1v-4.8h1v-1.2h1.2zm1,0h4.8v1h1.2v1.2h1v4.8h-1v1.2h-1.2v1h-4.8v-1h-1.2v-1.2h-1v-4.8h1v-1.2h1.2zm1,-1h4.8v1h1.2v1.2h1v4.8h-1v1.2h-1.2v1h-4.8v-1h-1.2v-1.2h-1v-4.8h1v-1.2h1.2zm1,0h4.8v1h1.2v1.2h1v4.8h-1v1.2h-1.2v1h-4.8v-1h-1.2v-1.2h-1v-4.8h1v-1.2h1.2zm1,0h4.8v1h1.2v1.2h1v4.8h-1v1.2h-1.2v1h-4.8v-1h-1.2v-1.2h-1v-4.8h1v-1.2h1.2zm1,0h4.8v1h1.2v1.2h1v4.8h-1v1.2h-1.2v1h-4.8v-1h-1.2v-1.2h-1v-4.8h1v-1.2h1.2zm1,0h4.8v1h1.2v1.2h1v4.8h-1v1.2h-1.2v1h-4.8v-1h-1.2v-1.2h-1v-4.8h1v-1.2h1.2zm1,0h4.8v1h1.2v1.2h1v4.8h-1v1.2h-1.2v1h-4.8v-1h-1.2v-1.2h-1v-4.8h1v-1.2h1.2zm1,-1h4.8v1h1.2v1.2h1v4.8h-1v1.2h-1.2v1h-4.8v-1h-1.2v-1.2h-1v-4.8h1v-1.2h1.2zm1,0h4.8v1h1.2v1.2h1v4.8h-1v1.2h-1.2v1h-4.8v-1h-1.2v-1.2h-1v-4.8h1v-1.2h1.2zm1,0h4.8v1h1.2v1.2h1v4.8h-1v1.2h-1.2v1h-4.8v-1h-1.2v-1.2h-1v-4.8h1v-1.2h1.2zm1,0h4.8v1h1.2v1.2h1v4.8h-1v1.2h-1.2v1h-4.8v-1h-1.2v-1.2h-1v-4.8h1v-1.2h1.2zm1,0h4.8v1h1.2v1.2h1v4.8h-1v1.2h-1.2v1h-4.8v-1h-1.2v-1.2h-1v-4.8h1v-1.2h1.2zm1,-1h4.8v1h1.2v1.2h1v4.8h-1v1.2h-1.2v1h-4.8v-1h-1.2v-1.2h-1v-4.8h1v-1.2h1.2zm1,0h4.8v1h1.2v1.2h1v4.8h-1v1.2h-1.2v1h-4.8v-1h-1.2v-1.2h-1v-4.8h1v-1.2h1.2zm1,0h4.8v1h1.2v1.2h1v4.8h-1v1.2h-1.2v1h-4.8v-1h-1.2v-1.2h-1v-4.8h1v-1.2h1.2zm1,0h4.8v1h1.2v1.2h1v4.8h-1v1.2h-1.2v1h-4.8v-1h-1.2v-1.2h-1v-4.8h1v-1.2h1.2zm1,0h4.8v1h1.2v1.2h1v4.8h-1v1.2h-1.2v1h-4.8v-1h-1.2v-1.2h-1v-4.8h1v-1.2h1.2zm1,-1h4.8v1h1.2v1.2h1v4.8h-1v1.2h-1.2v1h-4.8v-1h-1.2v-1.2h-1v-4.8h1v-1.2h1.2zm1,0h4.8v1h1.2v1.2h1v4.8h-1v1.2h-1.2v1h-4.8v-1h-1.2v-1.2h-1v-4.8h1v-1.2h1.2zm1,0h4.8v1h1.2v1.2h1v4.8h-1v1.2h-1.2v1h-4.8v-1h-1.2v-1.2h-1v-4.8h1v-1.2h1.2zm1,0h4.8v1h1.2v1.2h1v4.8h-1v1.2h-1.2v1h-4.8v-1h-1.2v-1.2h-1v-4.8h1v-1.2h1.2zm1,0h4.8v1h1.2v1.2h1v4.8h-1v1.2h-1.2v1h-4.8v-1h-1.2v-1.2h-1v-4.8h1v-1.2h1.2zm1,-1h4.8v1h1.2v1.2h1v4.8h-1v1.2h-1.2v1h-4.8v-1h-1.2v-1.2h-1v-4.8h1v-1.2h1.2zm1,0h4.8v1h1.2v1.2h1v4.8h-1v1.2h-1.2v1h-4.8v-1h-1.2v-1.2h-1v-4.8h1v-1.2h1.2zm1,0h4.8v1h1.2v1.2h1v4.8h-1v1.2h-1.2v1h-4.8v-1h-1.2v-1.2h-1v-4.8h1v-1.2h1.2zm1,0h4.8v1h1.2v1.2h1v4.8h-1v1.2h-1.2v1h-4.8v-1h-1.2v-1.2h-1v-4.8h1v-1.2h1.2zm1,0h4.8v1h1.2v1.2h1v4.8h-1v1.2h-1.2v1h-4.8v-1h-1.2v-1.2h-1v-4.8h1v-1.2h1.2zm1,-1h4.8v1h1.2v1.2h1v4.8h-1v1.2h-1.2v1h-4.8v-1h-1.2v-1.2h-1v-4.8h1v-1.2h1.2zm1,0h4.8v1h1.2v1.2h1v4.8h-1v1.2h-1.2v1h-4.8v-1h-1.2v-1.2h-1v-4.8h1v-1.2h1.2zm1,0h4.8v1h1.2v1.2h1v4.8h-1v1.2h-1.2v1h-4.8v-1h-1.2v-1.2h-1v-4.8h1v-1.2h1.2zm1,0h4.8v1h1.2v1.2h1v4.8h-1v1.2h-1.2v1h-4.8v-1h-1.2v-1.2h-1v-4.8h1v-1.2h1.2zm1,0h4.8v1h1.2v1.2h1v4.8h-1v1.2h-1.2v1h-4.8v-1h-1.2v-1.2h-1v-4.8h1v-1.2h1.2zm1,-1h4.8v1h1.2v1.2h1v4.8h-1v1.2h-1.2v1h-4.8v-1h-1.2v-1.2h-1v-4.8h1v-1.2h1.2zm1,0h4.8v1h1.2v1.2h1v4.8h-1v1.2h-1.2v1h-4.8v-1h-1.2v-1.2h-1v-4.8h1v-1.2h1.2zm1,0h4.8v1h1.2v1.2h1v4.8h-1v1.2h-1.2v1h-4.8v-1h-1.2v-1.2h-1v-4.8h1v-1.2h1.2zm1,0h4.8v1h1.2v1.2h1v4.8h-1v1.2h-1.2v1h-4.8v-1h-1.2v-1.2h-1v-4.8h1v-1.2h1.2zm1,0h4.8v1h1.2v1.2h1v4.8h-1v1.2h-1.2v1h-4.8v-1h-1.2v-1.2h-1v-4.8h1v-1.2h1.2zm1,-1h4.8v1h1.2v1.2h1v4.8h-1v1.2h-1.2v1h-4.8v-1h-1.2v-1.2h-1v-4.8h1v-1.2h1.2zm1,0h4.8v1h1.2v1.2h1v4.8h-1v1.2h-1.2v1h-4.8v-1h-1.2v-1.2h-1v-4.8h1v-1.2h1.2zm1,0h4.8v1h1.2v1.2h1v4.8h-1v1.2h-1.2v1h-4.8v-1h-1.2v-1.2h-1v-4.8h1v-1.2h1.2zm1,0h4.8v1h1.2v1.2h1v4.8h-1v1.2h-1.2v1h-4.8v-1h-1.2v-1.2h-1v-4.8h1v-1.2h1.2zm1,-1h4.8v1h1.2v1.2h1v4.8h-1v1.2h-1.2v1h-4.8v-1h-1.2v-1.2h-1v-4.8h1v-1.2h1.2zm1,0h4.8v1h1.2v1.2h1v4.8h-1v1.2h-1.2v1h-4.8v-1h-1.2v-1.2h-1v-4.8h1v-1.2h1.2zm1,0h4.8v1h1.2v1.2h1v4.8h-1v1.2h-1.2v1h-4.8v-1h-1.2v-1.2h-1v-4.8h1v-1.2h1.2zm1,0h4.8v1h1.2v1.2h1v4.8h-1v1.2h-1.2v1h-4.8v-1h-1.2v-1.2h-1v-4.8h1v-1.2h1.2zm1,0h4.8v1h1.2v1.2h1v4.8h-1v1.2h-1.2v1h-4.8v-1h-1.2v-1.2h-1v-4.8h1v-1.2h1.2zm1,-1h4.8v1h1.2v1.2h1v4.8h-1v1.2h-1.2v1h-4.8v-1h-1.2v-1.2h-1v-4.8h1v-1.2h1.2zm1,0h4.8v1h1.2v1.2h1v4.8h-1v1.2h-1.2v1h-4.8v-1h-1.2v-1.2h-1v-4.8h1v-1.2h1.2zm1,0h4.8v1h1.2v1.2h1v4.8h-1v1.2h-1.2v1h-4.8v-1h-1.2v-1.2h-1v-4.8h1v-1.2h1.2zm1,0h4.8v1h1.2v1.2h1v4.8h-1v1.2h-1.2v1h-4.8v-1h-1.2v-1.2h-1v-4.8h1v-1.2h1.2zm1,-1h4.8v1h1.2v1.2h1v4.8h-1v1.2h-1.2v1h-4.8v-1h-1.2v-1.2h-1v-4.8h1v-1.2h1.2zm1,0h4.8v1h1.2v1.2h1v4.8h-1v1.2h-1.2v1h-4.8v-1h-1.2v-1.2h-1v-4.8h1v-1.2h1.2zm1,0h4.8v1h1.2v1.2h1v4.8h-1v1.2h-1.2v1h-4.8v-1h-1.2v-1.2h-1v-4.8h1v-1.2h1.2zm1,0h4.8v1h1.2v1.2h1v4.8h-1v1.2h-1.2v1h-4.8v-1h-1.2v-1.2h-1v-4.8h1v-1.2h1.2zm1,0h4.8v1h1.2v1.2h1v4.8h-1v1.2h-1.2v1h-4.8v-1h-1.2v-1.2h-1v-4.8h1v-1.2h1.2zm1,-1h4.8v1h1.2v1.2h1v4.8h-1v1.2h-1.2v1h-4.8v-1h-1.2v-1.2h-1v-4.8h1v-1.2h1.2zm1,0h4.8v1h1.2v1.2h1v4.8h-1v1.2h-1.2v1h-4.8v-1h-1.2v-1.2h-1v-4.8h1v-1.2h1.2zm1,0h4.8v1h1.2v1.2h1v4.8h-1v1.2h-1.2v1h-4.8v-1h-1.2v-1.2h-1v-4.8h1v-1.2h1.2zm1,0h4.8v1h1.2v1.2h1v4.8h-1v1.2h-1.2v1h-4.8v-1h-1.2v-1.2h-1v-4.8h1v-1.2h1.2zm1,-1h4.8v1h1.2v1.2h1v4.8h-1v1.2h-1.2v1h-4.8v-1h-1.2v-1.2h-1v-4.8h1v-1.2h1.2zm1,0h4.8v1h1.2v1.2h1v4.8h-1v1.2h-1.2v1h-4.8v-1h-1.2v-1.2h-1v-4.8h1v-1.2h1.2zm1,0h4.8v1h1.2v1.2h1v4.8h-1v1.2h-1.2v1h-4.8v-1h-1.2v-1.2h-1v-4.8h1v-1.2h1.2zm1,0h4.8v1h1.2v1.2h1v4.8h-1v1.2h-1.2v1h-4.8v-1h-1.2v-1.2h-1v-4.8h1v-1.2h1.2zm1,-1h4.8v1h1.2v1.2h1v4.8h-1v1.2h-1.2v1h-4.8v-1h-1.2v-1.2h-1v-4.8h1v-1.2h1.2zm1,0h4.8v1h1.2v1.2h1v4.8h-1v1.2h-1.2v1h-4.8v-1h-1.2v-1.2h-1v-4.8h1v-1.2h1.2zm1,0h4.8v1h1.2v1.2h1v4.8h-1v1.2h-1.2v1h-4.8v-1h-1.2v-1.2h-1v-4.8h1v-1.2h1.2zm1,0h4.8v1h1.2v1.2h1v4.8h-1v1.2h-1.2v1h-4.8v-1h-1.2v-1.2h-1v-4.8h1v-1.2h1.2zm1,-1h4.8v1h1.2v1.2h1v4.8h-1v1.2h-1.2v1h-4.8v-1h-1.2v-1.2h-1v-4.8h1v-1.2h1.2zm1,0h4.8v1h1.2v1.2h1v4.8h-1v1.2h-1.2v1h-4.8v-1h-1.2v-1.2h-1v-4.8h1v-1.2h1.2zm1,0h4.8v1h1.2v1.2h1v4.8h-1v1.2h-1.2v1h-4.8v-1h-1.2v-1.2h-1v-4.8h1v-1.2h1.2zm1,0h4.8v1h1.2v1.2h1v4.8h-1v1.2h-1.2v1h-4.8v-1h-1.2v-1.2h-1v-4.8h1v-1.2h1.2zm1,-1h4.8v1h1.2v1.2h1v4.8h-1v1.2h-1.2v1h-4.8v-1h-1.2v-1.2h-1v-4.8h1v-1.2h1.2zm1,0h4.8v1h1.2v1.2h1v4.8h-1v1.2h-1.2v1h-4.8v-1h-1.2v-1.2h-1v-4.8h1v-1.2h1.2zm1,0h4.8v1h1.2v1.2h1v4.8h-1v1.2h-1.2v1h-4.8v-1h-1.2v-1.2h-1v-4.8h1v-1.2h1.2zm1,0h4.8v1h1.2v1.2h1v4.8h-1v1.2h-1.2v1h-4.8v-1h-1.2v-1.2h-1v-4.8h1v-1.2h1.2zm1,-1h4.8v1h1.2v1.2h1v4.8h-1v1.2h-1.2v1h-4.8v-1h-1.2v-1.2h-1v-4.8h1v-1.2h1.2zm1,0h4.8v1h1.2v1.2h1v4.8h-1v1.2h-1.2v1h-4.8v-1h-1.2v-1.2h-1v-4.8h1v-1.2h1.2zm1,0h4.8v1h1.2v1.2h1v4.8h-1v1.2h-1.2v1h-4.8v-1h-1.2v-1.2h-1v-4.8h1v-1.2h1.2zm1,0h4.8v1h1.2v1.2h1v4.8h-1v1.2h-1.2v1h-4.8v-1h-1.2v-1.2h-1v-4.8h1v-1.2h1.2zm1,-1h4.8v1h1.2v1.2h1v4.8h-1v1.2h-1.2v1h-4.8v-1h-1.2v-1.2h-1v-4.8h1v-1.2h1.2zm1,0h4.8v1h1.2v1.2h1v4.8h-1v1.2h-1.2v1h-4.8v-1h-1.2v-1.2h-1v-4.8h1v-1.2h1.2zm1,0h4.8v1h1.2v1.2h1v4.8h-1v1.2h-1.2v1h-4.8v-1h-1.2v-1.2h-1v-4.8h1v-1.2h1.2zm1,0h4.8v1h1.2v1.2h1v4.8h-1v1.2h-1.2v1h-4.8v-1h-1.2v-1.2h-1v-4.8h1v-1.2h1.2zm1,-1h4.8v1h1.2v1.2h1v4.8h-1v1.2h-1.2v1h-4.8v-1h-1.2v-1.2h-1v-4.8h1v-1.2h1.2zm1,0h4.8v1h1.2v1.2h1v4.8h-1v1.2h-1.2v1h-4.8v-1h-1.2v-1.2h-1v-4.8h1v-1.2h1.2zm1,0h4.8v1h1.2v1.2h1v4.8h-1v1.2h-1.2v1h-4.8v-1h-1.2v-1.2h-1v-4.8h1v-1.2h1.2zm1,0h4.8v1h1.2v1.2h1v4.8h-1v1.2h-1.2v1h-4.8v-1h-1.2v-1.2h-1v-4.8h1v-1.2h1.2zm1,-1h4.8v1h1.2v1.2h1v4.8h-1v1.2h-1.2v1h-4.8v-1h-1.2v-1.2h-1v-4.8h1v-1.2h1.2zm1,0h4.8v1h1.2v1.2h1v4.8h-1v1.2h-1.2v1h-4.8v-1h-1.2v-1.2h-1v-4.8h1v-1.2h1.2zm1,0h4.8v1h1.2v1.2h1v4.8h-1v1.2h-1.2v1h-4.8v-1h-1.2v-1.2h-1v-4.8h1v-1.2h1.2zm1,0h4.8v1h1.2v1.2h1v4.8h-1v1.2h-1.2v1h-4.8v-1h-1.2v-1.2h-1v-4.8h1v-1.2h1.2zm1,-1h4.8v1h1.2v1.2h1v4.8h-1v1.2h-1.2v1h-4.8v-1h-1.2v-1.2h-1v-4.8h1v-1.2h1.2zm1,0h4.8v1h1.2v1.2h1v4.8h-1v1.2h-1.2v1h-4.8v-1h-1.2v-1.2h-1v-4.8h1v-1.2h1.2zm1,0h4.8v1h1.2v1.2h1v4.8h-1v1.2h-1.2v1h-4.8v-1h-1.2v-1.2h-1v-4.8h1v-1.2h1.2zm1,-1h4.8v1h1.2v1.2h1v4.8h-1v1.2h-1.2v1h-4.8v-1h-1.2v-1.2h-1v-4.8h1v-1.2h1.2zm1,0h4.8v1h1.2v1.2h1v4.8h-1v1.2h-1.2v1h-4.8v-1h-1.2v-1.2h-1v-4.8h1v-1.2h1.2zm1,0h4.8v1h1.2v1.2h1v4.8h-1v1.2h-1.2v1h-4.8v-1h-1.2v-1.2h-1v-4.8h1v-1.2h1.2zm1,0h4.8v1h1.2v1.2h1v4.8h-1v1.2h-1.2v1h-4.8v-1h-1.2v-1.2h-1v-4.8h1v-1.2h1.2zm1,-1h4.8v1h1.2v1.2h1v4.8h-1v1.2h-1.2v1h-4.8v-1h-1.2v-1.2h-1v-4.8h1v-1.2h1.2zm1,0h4.8v1h1.2v1.2h1v4.8h-1v1.2h-1.2v1h-4.8v-1h-1.2v-1.2h-1v-4.8h1v-1.2h1.2zm1,0h4.8v1h1.2v1.2h1v4.8h-1v1.2h-1.2v1h-4.8v-1h-1.2v-1.2h-1v-4.8h1v-1.2h1.2zm1,-1h4.8v1h1.2v1.2h1v4.8h-1v1.2h-1.2v1h-4.8v-1h-1.2v-1.2h-1v-4.8h1v-1.2h1.2zm1,0h4.8v1h1.2v1.2h1v4.8h-1v1.2h-1.2v1h-4.8v-1h-1.2v-1.2h-1v-4.8h1v-1.2h1.2zm1,0h4.8v1h1.2v1.2h1v4.8h-1v1.2h-1.2v1h-4.8v-1h-1.2v-1.2h-1v-4.8h1v-1.2h1.2zm1,0h4.8v1h1.2v1.2h1v4.8h-1v1.2h-1.2v1h-4.8v-1h-1.2v-1.2h-1v-4.8h1v-1.2h1.2zm1,-1h4.8v1h1.2v1.2h1v4.8h-1v1.2h-1.2v1h-4.8v-1h-1.2v-1.2h-1v-4.8h1v-1.2h1.2zm1,0h4.8v1h1.2v1.2h1v4.8h-1v1.2h-1.2v1h-4.8v-1h-1.2v-1.2h-1v-4.8h1v-1.2h1.2zm1,0h4.8v1h1.2v1.2h1v4.8h-1v1.2h-1.2v1h-4.8v-1h-1.2v-1.2h-1v-4.8h1v-1.2h1.2zm1,-1h4.8v1h1.2v1.2h1v4.8h-1v1.2h-1.2v1h-4.8v-1h-1.2v-1.2h-1v-4.8h1v-1.2h1.2zm1,0h4.8v1h1.2v1.2h1v4.8h-1v1.2h-1.2v1h-4.8v-1h-1.2v-1.2h-1v-4.8h1v-1.2h1.2zm1,0h4.8v1h1.2v1.2h1v4.8h-1v1.2h-1.2v1h-4.8v-1h-1.2v-1.2h-1v-4.8h1v-1.2h1.2zm1,0h4.8v1h1.2v1.2h1v4.8h-1v1.2h-1.2v1h-4.8v-1h-1.2v-1.2h-1v-4.8h1v-1.2h1.2zm1,-1h4.8v1h1.2v1.2h1v4.8h-1v1.2h-1.2v1h-4.8v-1h-1.2v-1.2h-1v-4.8h1v-1.2h1.2zm1,0h4.8v1h1.2v1.2h1v4.8h-1v1.2h-1.2v1h-4.8v-1h-1.2v-1.2h-1v-4.8h1v-1.2h1.2zm1,0h4.8v1h1.2v1.2h1v4.8h-1v1.2h-1.2v1h-4.8v-1h-1.2v-1.2h-1v-4.8h1v-1.2h1.2zm1,-1h4.8v1h1.2v1.2h1v4.8h-1v1.2h-1.2v1h-4.8v-1h-1.2v-1.2h-1v-4.8h1v-1.2h1.2zm1,0h4.8v1h1.2v1.2h1v4.8h-1v1.2h-1.2v1h-4.8v-1h-1.2v-1.2h-1v-4.8h1v-1.2h1.2zm1,0h4.8v1h1.2v1.2h1v4.8h-1v1.2h-1.2v1h-4.8v-1h-1.2v-1.2h-1v-4.8h1v-1.2h1.2zm1,-1h4.8v1h1.2v1.2h1v4.8h-1v1.2h-1.2v1h-4.8v-1h-1.2v-1.2h-1v-4.8h1v-1.2h1.2zm1,0h4.8v1h1.2v1.2h1v4.8h-1v1.2h-1.2v1h-4.8v-1h-1.2v-1.2h-1v-4.8h1v-1.2h1.2zm1,0h4.8v1h1.2v1.2h1v4.8h-1v1.2h-1.2v1h-4.8v-1h-1.2v-1.2h-1v-4.8h1v-1.2h1.2zm1,0h4.8v1h1.2v1.2h1v4.8h-1v1.2h-1.2v1h-4.8v-1h-1.2v-1.2h-1v-4.8h1v-1.2h1.2zm1,-1h4.8v1h1.2v1.2h1v4.8h-1v1.2h-1.2v1h-4.8v-1h-1.2v-1.2h-1v-4.8h1v-1.2h1.2zm1,0h4.8v1h1.2v1.2h1v4.8h-1v1.2h-1.2v1h-4.8v-1h-1.2v-1.2h-1v-4.8h1v-1.2h1.2zm1,0h4.8v1h1.2v1.2h1v4.8h-1v1.2h-1.2v1h-4.8v-1h-1.2v-1.2h-1v-4.8h1v-1.2h1.2zm1,-1h4.8v1h1.2v1.2h1v4.8h-1v1.2h-1.2v1h-4.8v-1h-1.2v-1.2h-1v-4.8h1v-1.2h1.2zm1,0h4.8v1h1.2v1.2h1v4.8h-1v1.2h-1.2v1h-4.8v-1h-1.2v-1.2h-1v-4.8h1v-1.2h1.2zm1,0h4.8v1h1.2v1.2h1v4.8h-1v1.2h-1.2v1h-4.8v-1h-1.2v-1.2h-1v-4.8h1v-1.2h1.2zm1,-1h4.8v1h1.2v1.2h1v4.8h-1v1.2h-1.2v1h-4.8v-1h-1.2v-1.2h-1v-4.8h1v-1.2h1.2zm1,0h4.8v1h1.2v1.2h1v4.8h-1v1.2h-1.2v1h-4.8v-1h-1.2v-1.2h-1v-4.8h1v-1.2h1.2zm1,0h4.8v1h1.2v1.2h1v4.8h-1v1.2h-1.2v1h-4.8v-1h-1.2v-1.2h-1v-4.8h1v-1.2h1.2zm1,-1h4.8v1h1.2v1.2h1v4.8h-1v1.2h-1.2v1h-4.8v-1h-1.2v-1.2h-1v-4.8h1v-1.2h1.2zm1,0h4.8v1h1.2v1.2h1v4.8h-1v1.2h-1.2v1h-4.8v-1h-1.2v-1.2h-1v-4.8h1v-1.2h1.2zm1,0h4.8v1h1.2v1.2h1v4.8h-1v1.2h-1.2v1h-4.8v-1h-1.2v-1.2h-1v-4.8h1v-1.2h1.2zm1,-1h4.8v1h1.2v1.2h1v4.8h-1v1.2h-1.2v1h-4.8v-1h-1.2v-1.2h-1v-4.8h1v-1.2h1.2zm1,0h4.8v1h1.2v1.2h1v4.8h-1v1.2h-1.2v1h-4.8v-1h-1.2v-1.2h-1v-4.8h1v-1.2h1.2zm1,0h4.8v1h1.2v1.2h1v4.8h-1v1.2h-1.2v1h-4.8v-1h-1.2v-1.2h-1v-4.8h1v-1.2h1.2zm1,-1h4.8v1h1.2v1.2h1v4.8h-1v1.2h-1.2v1h-4.8v-1h-1.2v-1.2h-1v-4.8h1v-1.2h1.2zm1,0h4.8v1h1.2v1.2h1v4.8h-1v1.2h-1.2v1h-4.8v-1h-1.2v-1.2h-1v-4.8h1v-1.2h1.2zm1,0h4.8v1h1.2v1.2h1v4.8h-1v1.2h-1.2v1h-4.8v-1h-1.2v-1.2h-1v-4.8h1v-1.2h1.2zm1,-1h4.8v1h1.2v1.2h1v4.8h-1v1.2h-1.2v1h-4.8v-1h-1.2v-1.2h-1v-4.8h1v-1.2h1.2zm1,0h4.8v1h1.2v1.2h1v4.8h-1v1.2h-1.2v1h-4.8v-1h-1.2v-1.2h-1v-4.8h1v-1.2h1.2zm1,0h4.8v1h1.2v1.2h1v4.8h-1v1.2h-1.2v1h-4.8v-1h-1.2v-1.2h-1v-4.8h1v-1.2h1.2zm1,-1h4.8v1h1.2v1.2h1v4.8h-1v1.2h-1.2v1h-4.8v-1h-1.2v-1.2h-1v-4.8h1v-1.2h1.2zm1,0h4.8v1h1.2v1.2h1v4.8h-1v1.2h-1.2v1h-4.8v-1h-1.2v-1.2h-1v-4.8h1v-1.2h1.2zm1,0h4.8v1h1.2v1.2h1v4.8h-1v1.2h-1.2v1h-4.8v-1h-1.2v-1.2h-1v-4.8h1v-1.2h1.2zm1,-1h4.8v1h1.2v1.2h1v4.8h-1v1.2h-1.2v1h-4.8v-1h-1.2v-1.2h-1v-4.8h1v-1.2h1.2zm1,0h4.8v1h1.2v1.2h1v4.8h-1v1.2h-1.2v1h-4.8v-1h-1.2v-1.2h-1v-4.8h1v-1.2h1.2zm1,0h4.8v1h1.2v1.2h1v4.8h-1v1.2h-1.2v1h-4.8v-1h-1.2v-1.2h-1v-4.8h1v-1.2h1.2zm1,-1h4.8v1h1.2v1.2h1v4.8h-1v1.2h-1.2v1h-4.8v-1h-1.2v-1.2h-1v-4.8h1v-1.2h1.2zm1,0h4.8v1h1.2v1.2h1v4.8h-1v1.2h-1.2v1h-4.8v-1h-1.2v-1.2h-1v-4.8h1v-1.2h1.2zm1,-1h4.8v1h1.2v1.2h1v4.8h-1v1.2h-1.2v1h-4.8v-1h-1.2v-1.2h-1v-4.8h1v-1.2h1.2zm1,0h4.8v1h1.2v1.2h1v4.8h-1v1.2h-1.2v1h-4.8v-1h-1.2v-1.2h-1v-4.8h1v-1.2h1.2zm1,0h4.8v1h1.2v1.2h1v4.8h-1v1.2h-1.2v1h-4.8v-1h-1.2v-1.2h-1v-4.8h1v-1.2h1.2zm1,-1h4.8v1h1.2v1.2h1v4.8h-1v1.2h-1.2v1h-4.8v-1h-1.2v-1.2h-1v-4.8h1v-1.2h1.2zm1,0h4.8v1h1.2v1.2h1v4.8h-1v1.2h-1.2v1h-4.8v-1h-1.2v-1.2h-1v-4.8h1v-1.2h1.2zm1,0h4.8v1h1.2v1.2h1v4.8h-1v1.2h-1.2v1h-4.8v-1h-1.2v-1.2h-1v-4.8h1v-1.2h1.2zm1,-1h4.8v1h1.2v1.2h1v4.8h-1v1.2h-1.2v1h-4.8v-1h-1.2v-1.2h-1v-4.8h1v-1.2h1.2zm1,0h4.8v1h1.2v1.2h1v4.8h-1v1.2h-1.2v1h-4.8v-1h-1.2v-1.2h-1v-4.8h1v-1.2h1.2zm1,0h4.8v1h1.2v1.2h1v4.8h-1v1.2h-1.2v1h-4.8v-1h-1.2v-1.2h-1v-4.8h1v-1.2h1.2zm1,-1h4.8v1h1.2v1.2h1v4.8h-1v1.2h-1.2v1h-4.8v-1h-1.2v-1.2h-1v-4.8h1v-1.2h1.2zm1,0h4.8v1h1.2v1.2h1v4.8h-1v1.2h-1.2v1h-4.8v-1h-1.2v-1.2h-1v-4.8h1v-1.2h1.2zm1,-1h4.8v1h1.2v1.2h1v4.8h-1v1.2h-1.2v1h-4.8v-1h-1.2v-1.2h-1v-4.8h1v-1.2h1.2zm1,0h4.8v1h1.2v1.2h1v4.8h-1v1.2h-1.2v1h-4.8v-1h-1.2v-1.2h-1v-4.8h1v-1.2h1.2zm1,0h4.8v1h1.2v1.2h1v4.8h-1v1.2h-1.2v1h-4.8v-1h-1.2v-1.2h-1v-4.8h1v-1.2h1.2zm1,-1h4.8v1h1.2v1.2h1v4.8h-1v1.2h-1.2v1h-4.8v-1h-1.2v-1.2h-1v-4.8h1v-1.2h1.2zm1,0h4.8v1h1.2v1.2h1v4.8h-1v1.2h-1.2v1h-4.8v-1h-1.2v-1.2h-1v-4.8h1v-1.2h1.2zm1,0h4.8v1h1.2v1.2h1v4.8h-1v1.2h-1.2v1h-4.8v-1h-1.2v-1.2h-1v-4.8h1v-1.2h1.2zm1,-1h4.8v1h1.2v1.2h1v4.8h-1v1.2h-1.2v1h-4.8v-1h-1.2v-1.2h-1v-4.8h1v-1.2h1.2zm1,0h4.8v1h1.2v1.2h1v4.8h-1v1.2h-1.2v1h-4.8v-1h-1.2v-1.2h-1v-4.8h1v-1.2h1.2zm1,-1h4.8v1h1.2v1.2h1v4.8h-1v1.2h-1.2v1h-4.8v-1h-1.2v-1.2h-1v-4.8h1v-1.2h1.2zm1,0h4.8v1h1.2v1.2h1v4.8h-1v1.2h-1.2v1h-4.8v-1h-1.2v-1.2h-1v-4.8h1v-1.2h1.2zm1,0h4.8v1h1.2v1.2h1v4.8h-1v1.2h-1.2v1h-4.8v-1h-1.2v-1.2h-1v-4.8h1v-1.2h1.2zm1,-1h4.8v1h1.2v1.2h1v4.8h-1v1.2h-1.2v1h-4.8v-1h-1.2v-1.2h-1v-4.8h1v-1.2h1.2zm1,0h4.8v1h1.2v1.2h1v4.8h-1v1.2h-1.2v1h-4.8v-1h-1.2v-1.2h-1v-4.8h1v-1.2h1.2zm1,-1h4.8v1h1.2v1.2h1v4.8h-1v1.2h-1.2v1h-4.8v-1h-1.2v-1.2h-1v-4.8h1v-1.2h1.2zm1,0h4.8v1h1.2v1.2h1v4.8h-1v1.2h-1.2v1h-4.8v-1h-1.2v-1.2h-1v-4.8h1v-1.2h1.2zm1,0h4.8v1h1.2v1.2h1v4.8h-1v1.2h-1.2v1h-4.8v-1h-1.2v-1.2h-1v-4.8h1v-1.2h1.2zm1,-1h4.8v1h1.2v1.2h1v4.8h-1v1.2h-1.2v1h-4.8v-1h-1.2v-1.2h-1v-4.8h1v-1.2h1.2zm1,0h4.8v1h1.2v1.2h1v4.8h-1v1.2h-1.2v1h-4.8v-1h-1.2v-1.2h-1v-4.8h1v-1.2h1.2zm1,-1h4.8v1h1.2v1.2h1v4.8h-1v1.2h-1.2v1h-4.8v-1h-1.2v-1.2h-1v-4.8h1v-1.2h1.2zm1,0h4.8v1h1.2v1.2h1v4.8h-1v1.2h-1.2v1h-4.8v-1h-1.2v-1.2h-1v-4.8h1v-1.2h1.2zm1,0h4.8v1h1.2v1.2h1v4.8h-1v1.2h-1.2v1h-4.8v-1h-1.2v-1.2h-1v-4.8h1v-1.2h1.2zm1,-1h4.8v1h1.2v1.2h1v4.8h-1v1.2h-1.2v1h-4.8v-1h-1.2v-1.2h-1v-4.8h1v-1.2h1.2zm1,0h4.8v1h1.2v1.2h1v4.8h-1v1.2h-1.2v1h-4.8v-1h-1.2v-1.2h-1v-4.8h1v-1.2h1.2zm1,-1h4.8v1h1.2v1.2h1v4.8h-1v1.2h-1.2v1h-4.8v-1h-1.2v-1.2h-1v-4.8h1v-1.2h1.2zm1,0h4.8v1h1.2v1.2h1v4.8h-1v1.2h-1.2v1h-4.8v-1h-1.2v-1.2h-1v-4.8h1v-1.2h1.2zm1,-1h4.8v1h1.2v1.2h1v4.8h-1v1.2h-1.2v1h-4.8v-1h-1.2v-1.2h-1v-4.8h1v-1.2h1.2zm1,0h4.8v1h1.2v1.2h1v4.8h-1v1.2h-1.2v1h-4.8v-1h-1.2v-1.2h-1v-4.8h1v-1.2h1.2zm1,0h4.8v1h1.2v1.2h1v4.8h-1v1.2h-1.2v1h-4.8v-1h-1.2v-1.2h-1v-4.8h1v-1.2h1.2zm1,-1h4.8v1h1.2v1.2h1v4.8h-1v1.2h-1.2v1h-4.8v-1h-1.2v-1.2h-1v-4.8h1v-1.2h1.2zm1,0h4.8v1h1.2v1.2h1v4.8h-1v1.2h-1.2v1h-4.8v-1h-1.2v-1.2h-1v-4.8h1v-1.2h1.2zm1,-1h4.8v1h1.2v1.2h1v4.8h-1v1.2h-1.2v1h-4.8v-1h-1.2v-1.2h-1v-4.8h1v-1.2h1.2zm1,0h4.8v1h1.2v1.2h1v4.8h-1v1.2h-1.2v1h-4.8v-1h-1.2v-1.2h-1v-4.8h1v-1.2h1.2zm1,0h4.8v1h1.2v1.2h1v4.8h-1v1.2h-1.2v1h-4.8v-1h-1.2v-1.2h-1v-4.8h1v-1.2h1.2zm1,-1h4.8v1h1.2v1.2h1v4.8h-1v1.2h-1.2v1h-4.8v-1h-1.2v-1.2h-1v-4.8h1v-1.2h1.2zm1,0h4.8v1h1.2v1.2h1v4.8h-1v1.2h-1.2v1h-4.8v-1h-1.2v-1.2h-1v-4.8h1v-1.2h1.2zm1,-1h4.8v1h1.2v1.2h1v4.8h-1v1.2h-1.2v1h-4.8v-1h-1.2v-1.2h-1v-4.8h1v-1.2h1.2zm1,0h4.8v1h1.2v1.2h1v4.8h-1v1.2h-1.2v1h-4.8v-1h-1.2v-1.2h-1v-4.8h1v-1.2h1.2zm1,-1h4.8v1h1.2v1.2h1v4.8h-1v1.2h-1.2v1h-4.8v-1h-1.2v-1.2h-1v-4.8h1v-1.2h1.2zm1,0h4.8v1h1.2v1.2h1v4.8h-1v1.2h-1.2v1h-4.8v-1h-1.2v-1.2h-1v-4.8h1v-1.2h1.2zm1,-1h4.8v1h1.2v1.2h1v4.8h-1v1.2h-1.2v1h-4.8v-1h-1.2v-1.2h-1v-4.8h1v-1.2h1.2zm1,0h4.8v1h1.2v1.2h1v4.8h-1v1.2h-1.2v1h-4.8v-1h-1.2v-1.2h-1v-4.8h1v-1.2h1.2zm1,0h4.8v1h1.2v1.2h1v4.8h-1v1.2h-1.2v1h-4.8v-1h-1.2v-1.2h-1v-4.8h1v-1.2h1.2zm1,-1h4.8v1h1.2v1.2h1v4.8h-1v1.2h-1.2v1h-4.8v-1h-1.2v-1.2h-1v-4.8h1v-1.2h1.2zm1,0h4.8v1h1.2v1.2h1v4.8h-1v1.2h-1.2v1h-4.8v-1h-1.2v-1.2h-1v-4.8h1v-1.2h1.2zm1,-1h4.8v1h1.2v1.2h1v4.8h-1v1.2h-1.2v1h-4.8v-1h-1.2v-1.2h-1v-4.8h1v-1.2h1.2zm1,0h4.8v1h1.2v1.2h1v4.8h-1v1.2h-1.2v1h-4.8v-1h-1.2v-1.2h-1v-4.8h1v-1.2h1.2zm1,-1h4.8v1h1.2v1.2h1v4.8h-1v1.2h-1.2v1h-4.8v-1h-1.2v-1.2h-1v-4.8h1v-1.2h1.2zm1,0h4.8v1h1.2v1.2h1v4.8h-1v1.2h-1.2v1h-4.8v-1h-1.2v-1.2h-1v-4.8h1v-1.2h1.2zm1,-1h4.8v1h1.2v1.2h1v4.8h-1v1.2h-1.2v1h-4.8v-1h-1.2v-1.2h-1v-4.8h1v-1.2h1.2zm1,0h4.8v1h1.2v1.2h1v4.8h-1v1.2h-1.2v1h-4.8v-1h-1.2v-1.2h-1v-4.8h1v-1.2h1.2zm1,-1h4.8v1h1.2v1.2h1v4.8h-1v1.2h-1.2v1h-4.8v-1h-1.2v-1.2h-1v-4.8h1v-1.2h1.2zm1,0h4.8v1h1.2v1.2h1v4.8h-1v1.2h-1.2v1h-4.8v-1h-1.2v-1.2h-1v-4.8h1v-1.2h1.2zm1,0h4.8v1h1.2v1.2h1v4.8h-1v1.2h-1.2v1h-4.8v-1h-1.2v-1.2h-1v-4.8h1v-1.2h1.2zm1,-1h4.8v1h1.2v1.2h1v4.8h-1v1.2h-1.2v1h-4.8v-1h-1.2v-1.2h-1v-4.8h1v-1.2h1.2zm1,0h4.8v1h1.2v1.2h1v4.8h-1v1.2h-1.2v1h-4.8v-1h-1.2v-1.2h-1v-4.8h1v-1.2h1.2zm1,-1h4.8v1h1.2v1.2h1v4.8h-1v1.2h-1.2v1h-4.8v-1h-1.2v-1.2h-1v-4.8h1v-1.2h1.2zm1,0h4.8v1h1.2v1.2h1v4.8h-1v1.2h-1.2v1h-4.8v-1h-1.2v-1.2h-1v-4.8h1v-1.2h1.2zm1,-1h4.8v1h1.2v1.2h1v4.8h-1v1.2h-1.2v1h-4.8v-1h-1.2v-1.2h-1v-4.8h1v-1.2h1.2zm1,0h4.8v1h1.2v1.2h1v4.8h-1v1.2h-1.2v1h-4.8v-1h-1.2v-1.2h-1v-4.8h1v-1.2h1.2zm1,-1h4.8v1h1.2v1.2h1v4.8h-1v1.2h-1.2v1h-4.8v-1h-1.2v-1.2h-1v-4.8h1v-1.2h1.2zm1,0h4.8v1h1.2v1.2h1v4.8h-1v1.2h-1.2v1h-4.8v-1h-1.2v-1.2h-1v-4.8h1v-1.2h1.2zm1,-1h4.8v1h1.2v1.2h1v4.8h-1v1.2h-1.2v1h-4.8v-1h-1.2v-1.2h-1v-4.8h1v-1.2h1.2zm1,0h4.8v1h1.2v1.2h1v4.8h-1v1.2h-1.2v1h-4.8v-1h-1.2v-1.2h-1v-4.8h1v-1.2h1.2zm1,-1h4.8v1h1.2v1.2h1v4.8h-1v1.2h-1.2v1h-4.8v-1h-1.2v-1.2h-1v-4.8h1v-1.2h1.2zm1,0h4.8v1h1.2v1.2h1v4.8h-1v1.2h-1.2v1h-4.8v-1h-1.2v-1.2h-1v-4.8h1v-1.2h1.2zm1,-1h4.8v1h1.2v1.2h1v4.8h-1v1.2h-1.2v1h-4.8v-1h-1.2v-1.2h-1v-4.8h1v-1.2h1.2zm1,0h4.8v1h1.2v1.2h1v4.8h-1v1.2h-1.2v1h-4.8v-1h-1.2v-1.2h-1v-4.8h1v-1.2h1.2zm1,-1h4.8v1h1.2v1.2h1v4.8h-1v1.2h-1.2v1h-4.8v-1h-1.2v-1.2h-1v-4.8h1v-1.2h1.2zm1,0h4.8v1h1.2v1.2h1v4.8h-1v1.2h-1.2v1h-4.8v-1h-1.2v-1.2h-1v-4.8h1v-1.2h1.2zm1,-1h4.8v1h1.2v1.2h1v4.8h-1v1.2h-1.2v1h-4.8v-1h-1.2v-1.2h-1v-4.8h1v-1.2h1.2zm1,0h4.8v1h1.2v1.2h1v4.8h-1v1.2h-1.2v1h-4.8v-1h-1.2v-1.2h-1v-4.8h1v-1.2h1.2zm1,-1h4.8v1h1.2v1.2h1v4.8h-1v1.2h-1.2v1h-4.8v-1h-1.2v-1.2h-1v-4.8h1v-1.2h1.2zm1,0h4.8v1h1.2v1.2h1v4.8h-1v1.2h-1.2v1h-4.8v-1h-1.2v-1.2h-1v-4.8h1v-1.2h1.2zm1,-1h4.8v1h1.2v1.2h1v4.8h-1v1.2h-1.2v1h-4.8v-1h-1.2v-1.2h-1v-4.8h1v-1.2h1.2zm1,0h4.8v1h1.2v1.2h1v4.8h-1v1.2h-1.2v1h-4.8v-1h-1.2v-1.2h-1v-4.8h1v-1.2h1.2zm1,-1h4.8v1h1.2v1.2h1v4.8h-1v1.2h-1.2v1h-4.8v-1h-1.2v-1.2h-1v-4.8h1v-1.2h1.2zm1,0h4.8v1h1.2v1.2h1v4.8h-1v1.2h-1.2v1h-4.8v-1h-1.2v-1.2h-1v-4.8h1v-1.2h1.2zm1,-1h4.8v1h1.2v1.2h1v4.8h-1v1.2h-1.2v1h-4.8v-1h-1.2v-1.2h-1v-4.8h1v-1.2h1.2zm1,0h4.8v1h1.2v1.2h1v4.8h-1v1.2h-1.2v1h-4.8v-1h-1.2v-1.2h-1v-4.8h1v-1.2h1.2zm1,-1h4.8v1h1.2v1.2h1v4.8h-1v1.2h-1.2v1h-4.8v-1h-1.2v-1.2h-1v-4.8h1v-1.2h1.2zm1,0h4.8v1h1.2v1.2h1v4.8h-1v1.2h-1.2v1h-4.8v-1h-1.2v-1.2h-1v-4.8h1v-1.2h1.2zm1,-1h4.8v1h1.2v1.2h1v4.8h-1v1.2h-1.2v1h-4.8v-1h-1.2v-1.2h-1v-4.8h1v-1.2h1.2zm1,0h4.8v1h1.2v1.2h1v4.8h-1v1.2h-1.2v1h-4.8v-1h-1.2v-1.2h-1v-4.8h1v-1.2h1.2zm1,-1h4.8v1h1.2v1.2h1v4.8h-1v1.2h-1.2v1h-4.8v-1h-1.2v-1.2h-1v-4.8h1v-1.2h1.2zm1,-1h4.8v1h1.2v1.2h1v4.8h-1v1.2h-1.2v1h-4.8v-1h-1.2v-1.2h-1v-4.8h1v-1.2h1.2zm1,0h4.8v1h1.2v1.2h1v4.8h-1v1.2h-1.2v1h-4.8v-1h-1.2v-1.2h-1v-4.8h1v-1.2h1.2zm1,-1h4.8v1h1.2v1.2h1v4.8h-1v1.2h-1.2v1h-4.8v-1h-1.2v-1.2h-1v-4.8h1v-1.2h1.2zm1,0h4.8v1h1.2v1.2h1v4.8h-1v1.2h-1.2v1h-4.8v-1h-1.2v-1.2h-1v-4.8h1v-1.2h1.2zm1,-1h4.8v1h1.2v1.2h1v4.8h-1v1.2h-1.2v1h-4.8v-1h-1.2v-1.2h-1v-4.8h1v-1.2h1.2zm1,0h4.8v1h1.2v1.2h1v4.8h-1v1.2h-1.2v1h-4.8v-1h-1.2v-1.2h-1v-4.8h1v-1.2h1.2zm1,-1h4.8v1h1.2v1.2h1v4.8h-1v1.2h-1.2v1h-4.8v-1h-1.2v-1.2h-1v-4.8h1v-1.2h1.2zm1,0h4.8v1h1.2v1.2h1v4.8h-1v1.2h-1.2v1h-4.8v-1h-1.2v-1.2h-1v-4.8h1v-1.2h1.2zm1,-1h4.8v1h1.2v1.2h1v4.8h-1v1.2h-1.2v1h-4.8v-1h-1.2v-1.2h-1v-4.8h1v-1.2h1.2zm1,0h4.8v1h1.2v1.2h1v4.8h-1v1.2h-1.2v1h-4.8v-1h-1.2v-1.2h-1v-4.8h1v-1.2h1.2zm1,-1h4.8v1h1.2v1.2h1v4.8h-1v1.2h-1.2v1h-4.8v-1h-1.2v-1.2h-1v-4.8h1v-1.2h1.2zm1,-1h4.8v1h1.2v1.2h1v4.8h-1v1.2h-1.2v1h-4.8v-1h-1.2v-1.2h-1v-4.8h1v-1.2h1.2zm1,0h4.8v1h1.2v1.2h1v4.8h-1v1.2h-1.2v1h-4.8v-1h-1.2v-1.2h-1v-4.8h1v-1.2h1.2zm1,-1h4.8v1h1.2v1.2h1v4.8h-1v1.2h-1.2v1h-4.8v-1h-1.2v-1.2h-1v-4.8h1v-1.2h1.2zm1,0h4.8v1h1.2v1.2h1v4.8h-1v1.2h-1.2v1h-4.8v-1h-1.2v-1.2h-1v-4.8h1v-1.2h1.2zm1,-1h4.8v1h1.2v1.2h1v4.8h-1v1.2h-1.2v1h-4.8v-1h-1.2v-1.2h-1v-4.8h1v-1.2h1.2zm1,0h4.8v1h1.2v1.2h1v4.8h-1v1.2h-1.2v1h-4.8v-1h-1.2v-1.2h-1v-4.8h1v-1.2h1.2zm1,-1h4.8v1h1.2v1.2h1v4.8h-1v1.2h-1.2v1h-4.8v-1h-1.2v-1.2h-1v-4.8h1v-1.2h1.2zm1,0h4.8v1h1.2v1.2h1v4.8h-1v1.2h-1.2v1h-4.8v-1h-1.2v-1.2h-1v-4.8h1v-1.2h1.2zm1,-1h4.8v1h1.2v1.2h1v4.8h-1v1.2h-1.2v1h-4.8v-1h-1.2v-1.2h-1v-4.8h1v-1.2h1.2zm1,-1h4.8v1h1.2v1.2h1v4.8h-1v1.2h-1.2v1h-4.8v-1h-1.2v-1.2h-1v-4.8h1v-1.2h1.2zm1,0h4.8v1h1.2v1.2h1v4.8h-1v1.2h-1.2v1h-4.8v-1h-1.2v-1.2h-1v-4.8h1v-1.2h1.2zm1,-1h4.8v1h1.2v1.2h1v4.8h-1v1.2h-1.2v1h-4.8v-1h-1.2v-1.2h-1v-4.8h1v-1.2h1.2zm1,0h4.8v1h1.2v1.2h1v4.8h-1v1.2h-1.2v1h-4.8v-1h-1.2v-1.2h-1v-4.8h1v-1.2h1.2zm1,-1h4.8v1h1.2v1.2h1v4.8h-1v1.2h-1.2v1h-4.8v-1h-1.2v-1.2h-1v-4.8h1v-1.2h1.2zm1,0h4.8v1h1.2v1.2h1v4.8h-1v1.2h-1.2v1h-4.8v-1h-1.2v-1.2h-1v-4.8h1v-1.2h1.2zm1,-1h4.8v1h1.2v1.2h1v4.8h-1v1.2h-1.2v1h-4.8v-1h-1.2v-1.2h-1v-4.8h1v-1.2h1.2zm1,-1h4.8v1h1.2v1.2h1v4.8h-1v1.2h-1.2v1h-4.8v-1h-1.2v-1.2h-1v-4.8h1v-1.2h1.2zm1,0h4.8v1h1.2v1.2h1v4.8h-1v1.2h-1.2v1h-4.8v-1h-1.2v-1.2h-1v-4.8h1v-1.2h1.2zm1,-1h4.8v1h1.2v1.2h1v4.8h-1v1.2h-1.2v1h-4.8v-1h-1.2v-1.2h-1v-4.8h1v-1.2h1.2zm1,0h4.8v1h1.2v1.2h1v4.8h-1v1.2h-1.2v1h-4.8v-1h-1.2v-1.2h-1v-4.8h1v-1.2h1.2zm1,-1h4.8v1h1.2v1.2h1v4.8h-1v1.2h-1.2v1h-4.8v-1h-1.2v-1.2h-1v-4.8h1v-1.2h1.2zm1,-1h4.8v1h1.2v1.2h1v4.8h-1v1.2h-1.2v1h-4.8v-1h-1.2v-1.2h-1v-4.8h1v-1.2h1.2zm1,0h4.8v1h1.2v1.2h1v4.8h-1v1.2h-1.2v1h-4.8v-1h-1.2v-1.2h-1v-4.8h1v-1.2h1.2zm1,-1h4.8v1h1.2v1.2h1v4.8h-1v1.2h-1.2v1h-4.8v-1h-1.2v-1.2h-1v-4.8h1v-1.2h1.2zm1,0h4.8v1h1.2v1.2h1v4.8h-1v1.2h-1.2v1h-4.8v-1h-1.2v-1.2h-1v-4.8h1v-1.2h1.2zm1,-1h4.8v1h1.2v1.2h1v4.8h-1v1.2h-1.2v1h-4.8v-1h-1.2v-1.2h-1v-4.8h1v-1.2h1.2zm1,0h4.8v1h1.2v1.2h1v4.8h-1v1.2h-1.2v1h-4.8v-1h-1.2v-1.2h-1v-4.8h1v-1.2h1.2zm1,-1h4.8v1h1.2v1.2h1v4.8h-1v1.2h-1.2v1h-4.8v-1h-1.2v-1.2h-1v-4.8h1v-1.2h1.2zm1,-1h4.8v1h1.2v1.2h1v4.8h-1v1.2h-1.2v1h-4.8v-1h-1.2v-1.2h-1v-4.8h1v-1.2h1.2zm1,0h4.8v1h1.2v1.2h1v4.8h-1v1.2h-1.2v1h-4.8v-1h-1.2v-1.2h-1v-4.8h1v-1.2h1.2zm1,-1h4.8v1h1.2v1.2h1v4.8h-1v1.2h-1.2v1h-4.8v-1h-1.2v-1.2h-1v-4.8h1v-1.2h1.2zm1,0h4.8v1h1.2v1.2h1v4.8h-1v1.2h-1.2v1h-4.8v-1h-1.2v-1.2h-1v-4.8h1v-1.2h1.2zm1,-1h4.8v1h1.2v1.2h1v4.8h-1v1.2h-1.2v1h-4.8v-1h-1.2v-1.2h-1v-4.8h1v-1.2h1.2zm1,-1h4.8v1h1.2v1.2h1v4.8h-1v1.2h-1.2v1h-4.8v-1h-1.2v-1.2h-1v-4.8h1v-1.2h1.2zm1,0h4.8v1h1.2v1.2h1v4.8h-1v1.2h-1.2v1h-4.8v-1h-1.2v-1.2h-1v-4.8h1v-1.2h1.2zm1,-1h4.8v1h1.2v1.2h1v4.8h-1v1.2h-1.2v1h-4.8v-1h-1.2v-1.2h-1v-4.8h1v-1.2h1.2zm1,0h4.8v1h1.2v1.2h1v4.8h-1v1.2h-1.2v1h-4.8v-1h-1.2v-1.2h-1v-4.8h1v-1.2h1.2zm1,-1h4.8v1h1.2v1.2h1v4.8h-1v1.2h-1.2v1h-4.8v-1h-1.2v-1.2h-1v-4.8h1v-1.2h1.2zm1,-1h4.8v1h1.2v1.2h1v4.8h-1v1.2h-1.2v1h-4.8v-1h-1.2v-1.2h-1v-4.8h1v-1.2h1.2zm1,0h4.8v1h1.2v1.2h1v4.8h-1v1.2h-1.2v1h-4.8v-1h-1.2v-1.2h-1v-4.8h1v-1.2h1.2zm1,-1h4.8v1h1.2v1.2h1v4.8h-1v1.2h-1.2v1h-4.8v-1h-1.2v-1.2h-1v-4.8h1v-1.2h1.2zm1,0h4.8v1h1.2v1.2h1v4.8h-1v1.2h-1.2v1h-4.8v-1h-1.2v-1.2h-1v-4.8h1v-1.2h1.2zm1,-1h4.8v1h1.2v1.2h1v4.8h-1v1.2h-1.2v1h-4.8v-1h-1.2v-1.2h-1v-4.8h1v-1.2h1.2zm1,-1h4.8v1h1.2v1.2h1v4.8h-1v1.2h-1.2v1h-4.8v-1h-1.2v-1.2h-1v-4.8h1v-1.2h1.2zm1,0h4.8v1h1.2v1.2h1v4.8h-1v1.2h-1.2v1h-4.8v-1h-1.2v-1.2h-1v-4.8h1v-1.2h1.2zm1,-1h4.8v1h1.2v1.2h1v4.8h-1v1.2h-1.2v1h-4.8v-1h-1.2v-1.2h-1v-4.8h1v-1.2h1.2zm1,-1h4.8v1h1.2v1.2h1v4.8h-1v1.2h-1.2v1h-4.8v-1h-1.2v-1.2h-1v-4.8h1v-1.2h1.2zm1,0h4.8v1h1.2v1.2h1v4.8h-1v1.2h-1.2v1h-4.8v-1h-1.2v-1.2h-1v-4.8h1v-1.2h1.2zm1,-1h4.8v1h1.2v1.2h1v4.8h-1v1.2h-1.2v1h-4.8v-1h-1.2v-1.2h-1v-4.8h1v-1.2h1.2zm1,0h4.8v1h1.2v1.2h1v4.8h-1v1.2h-1.2v1h-4.8v-1h-1.2v-1.2h-1v-4.8h1v-1.2h1.2zm1,-1h4.8v1h1.2v1.2h1v4.8h-1v1.2h-1.2v1h-4.8v-1h-1.2v-1.2h-1v-4.8h1v-1.2h1.2zm1,-1h4.8v1h1.2v1.2h1v4.8h-1v1.2h-1.2v1h-4.8v-1h-1.2v-1.2h-1v-4.8h1v-1.2h1.2zm1,0h4.8v1h1.2v1.2h1v4.8h-1v1.2h-1.2v1h-4.8v-1h-1.2v-1.2h-1v-4.8h1v-1.2h1.2zm1,-1h4.8v1h1.2v1.2h1v4.8h-1v1.2h-1.2v1h-4.8v-1h-1.2v-1.2h-1v-4.8h1v-1.2h1.2zm1,-1h4.8v1h1.2v1.2h1v4.8h-1v1.2h-1.2v1h-4.8v-1h-1.2v-1.2h-1v-4.8h1v-1.2h1.2zm1,0h4.8v1h1.2v1.2h1v4.8h-1v1.2h-1.2v1h-4.8v-1h-1.2v-1.2h-1v-4.8h1v-1.2h1.2zm1,-1h4.8v1h1.2v1.2h1v4.8h-1v1.2h-1.2v1h-4.8v-1h-1.2v-1.2h-1v-4.8h1v-1.2h1.2zm1,0h4.8v1h1.2v1.2h1v4.8h-1v1.2h-1.2v1h-4.8v-1h-1.2v-1.2h-1v-4.8h1v-1.2h1.2zm1,-1h4.8v1h1.2v1.2h1v4.8h-1v1.2h-1.2v1h-4.8v-1h-1.2v-1.2h-1v-4.8h1v-1.2h1.2zm1,-1h4.8v1h1.2v1.2h1v4.8h-1v1.2h-1.2v1h-4.8v-1h-1.2v-1.2h-1v-4.8h1v-1.2h1.2zm1,0h4.8v1h1.2v1.2h1v4.8h-1v1.2h-1.2v1h-4.8v-1h-1.2v-1.2h-1v-4.8h1v-1.2h1.2zm1,-1h4.8v1h1.2v1.2h1v4.8h-1v1.2h-1.2v1h-4.8v-1h-1.2v-1.2h-1v-4.8h1v-1.2h1.2zm1,-1h4.8v1h1.2v1.2h1v4.8h-1v1.2h-1.2v1h-4.8v-1h-1.2v-1.2h-1v-4.8h1v-1.2h1.2zm1,0h4.8v1h1.2v1.2h1v4.8h-1v1.2h-1.2v1h-4.8v-1h-1.2v-1.2h-1v-4.8h1v-1.2h1.2zm1,-1h4.8v1h1.2v1.2h1v4.8h-1v1.2h-1.2v1h-4.8v-1h-1.2v-1.2h-1v-4.8h1v-1.2h1.2zm1,0h4.8v1h1.2v1.2h1v4.8h-1v1.2h-1.2v1h-4.8v-1h-1.2v-1.2h-1v-4.8h1v-1.2h1.2zm1,-1h4.8v1h1.2v1.2h1v4.8h-1v1.2h-1.2v1h-4.8v-1h-1.2v-1.2h-1v-4.8h1v-1.2h1.2zm1,-1h4.8v1h1.2v1.2h1v4.8h-1v1.2h-1.2v1h-4.8v-1h-1.2v-1.2h-1v-4.8h1v-1.2h1.2zm1,0h4.8v1h1.2v1.2h1v4.8h-1v1.2h-1.2v1h-4.8v-1h-1.2v-1.2h-1v-4.8h1v-1.2h1.2zm1,-1h4.8v1h1.2v1.2h1v4.8h-1v1.2h-1.2v1h-4.8v-1h-1.2v-1.2h-1v-4.8h1v-1.2h1.2zm1,-1h4.8v1h1.2v1.2h1v4.8h-1v1.2h-1.2v1h-4.8v-1h-1.2v-1.2h-1v-4.8h1v-1.2h1.2zm1,0h4.8v1h1.2v1.2h1v4.8h-1v1.2h-1.2v1h-4.8v-1h-1.2v-1.2h-1v-4.8h1v-1.2h1.2zm1,-1h4.8v1h1.2v1.2h1v4.8h-1v1.2h-1.2v1h-4.8v-1h-1.2v-1.2h-1v-4.8h1v-1.2h1.2zm1,-1h4.8v1h1.2v1.2h1v4.8h-1v1.2h-1.2v1h-4.8v-1h-1.2v-1.2h-1v-4.8h1v-1.2h1.2zm1,0h4.8v1h1.2v1.2h1v4.8h-1v1.2h-1.2v1h-4.8v-1h-1.2v-1.2h-1v-4.8h1v-1.2h1.2zm1,-1h4.8v1h1.2v1.2h1v4.8h-1v1.2h-1.2v1h-4.8v-1h-1.2v-1.2h-1v-4.8h1v-1.2h1.2zm1,0h4.8v1h1.2v1.2h1v4.8h-1v1.2h-1.2v1h-4.8v-1h-1.2v-1.2h-1v-4.8h1v-1.2h1.2zm1,-1h4.8v1h1.2v1.2h1v4.8h-1v1.2h-1.2v1h-4.8v-1h-1.2v-1.2h-1v-4.8h1v-1.2h1.2zm1,-1h4.8v1h1.2v1.2h1v4.8h-1v1.2h-1.2v1h-4.8v-1h-1.2v-1.2h-1v-4.8h1v-1.2h1.2zm1,0h4.8v1h1.2v1.2h1v4.8h-1v1.2h-1.2v1h-4.8v-1h-1.2v-1.2h-1v-4.8h1v-1.2h1.2zm1,-1h4.8v1h1.2v1.2h1v4.8h-1v1.2h-1.2v1h-4.8v-1h-1.2v-1.2h-1v-4.8h1v-1.2h1.2zm1,-1h4.8v1h1.2v1.2h1v4.8h-1v1.2h-1.2v1h-4.8v-1h-1.2v-1.2h-1v-4.8h1v-1.2h1.2zm1,0h4.8v1h1.2v1.2h1v4.8h-1v1.2h-1.2v1h-4.8v-1h-1.2v-1.2h-1v-4.8h1v-1.2h1.2zm1,-1h4.8v1h1.2v1.2h1v4.8h-1v1.2h-1.2v1h-4.8v-1h-1.2v-1.2h-1v-4.8h1v-1.2h1.2zm1,-1h4.8v1h1.2v1.2h1v4.8h-1v1.2h-1.2v1h-4.8v-1h-1.2v-1.2h-1v-4.8h1v-1.2h1.2zm1,0h4.8v1h1.2v1.2h1v4.8h-1v1.2h-1.2v1h-4.8v-1h-1.2v-1.2h-1v-4.8h1v-1.2h1.2zm1,-1h4.8v1h1.2v1.2h1v4.8h-1v1.2h-1.2v1h-4.8v-1h-1.2v-1.2h-1v-4.8h1v-1.2h1.2zm1,0h4.8v1h1.2v1.2h1v4.8h-1v1.2h-1.2v1h-4.8v-1h-1.2v-1.2h-1v-4.8h1v-1.2h1.2zm1,-1h4.8v1h1.2v1.2h1v4.8h-1v1.2h-1.2v1h-4.8v-1h-1.2v-1.2h-1v-4.8h1v-1.2h1.2zm1,-1h4.8v1h1.2v1.2h1v4.8h-1v1.2h-1.2v1h-4.8v-1h-1.2v-1.2h-1v-4.8h1v-1.2h1.2zm1,0h4.8v1h1.2v1.2h1v4.8h-1v1.2h-1.2v1h-4.8v-1h-1.2v-1.2h-1v-4.8h1v-1.2h1.2zm1,-1h4.8v1h1.2v1.2h1v4.8h-1v1.2h-1.2v1h-4.8v-1h-1.2v-1.2h-1v-4.8h1v-1.2h1.2zm1,-1h4.8v1h1.2v1.2h1v4.8h-1v1.2h-1.2v1h-4.8v-1h-1.2v-1.2h-1v-4.8h1v-1.2h1.2zm1,0h4.8v1h1.2v1.2h1v4.8h-1v1.2h-1.2v1h-4.8v-1h-1.2v-1.2h-1v-4.8h1v-1.2h1.2zm1,-1h4.8v1h1.2v1.2h1v4.8h-1v1.2h-1.2v1h-4.8v-1h-1.2v-1.2h-1v-4.8h1v-1.2h1.2zm1,-1h4.8v1h1.2v1.2h1v4.8h-1v1.2h-1.2v1h-4.8v-1h-1.2v-1.2h-1v-4.8h1v-1.2h1.2zm1,0h4.8v1h1.2v1.2h1v4.8h-1v1.2h-1.2v1h-4.8v-1h-1.2v-1.2h-1v-4.8h1v-1.2h1.2zm1,-1h4.8v1h1.2v1.2h1v4.8h-1v1.2h-1.2v1h-4.8v-1h-1.2v-1.2h-1v-4.8h1v-1.2h1.2zm1,-1h4.8v1h1.2v1.2h1v4.8h-1v1.2h-1.2v1h-4.8v-1h-1.2v-1.2h-1v-4.8h1v-1.2h1.2zm1,0h4.8v1h1.2v1.2h1v4.8h-1v1.2h-1.2v1h-4.8v-1h-1.2v-1.2h-1v-4.8h1v-1.2h1.2zm1,-1h4.8v1h1.2v1.2h1v4.8h-1v1.2h-1.2v1h-4.8v-1h-1.2v-1.2h-1v-4.8h1v-1.2h1.2zm1,-1h4.8v1h1.2v1.2h1v4.8h-1v1.2h-1.2v1h-4.8v-1h-1.2v-1.2h-1v-4.8h1v-1.2h1.2zm1,0h4.8v1h1.2v1.2h1v4.8h-1v1.2h-1.2v1h-4.8v-1h-1.2v-1.2h-1v-4.8h1v-1.2h1.2zm1,-1h4.8v1h1.2v1.2h1v4.8h-1v1.2h-1.2v1h-4.8v-1h-1.2v-1.2h-1v-4.8h1v-1.2h1.2zm1,0h4.8v1h1.2v1.2h1v4.8h-1v1.2h-1.2v1h-4.8v-1h-1.2v-1.2h-1v-4.8h1v-1.2h1.2zm1,-1h4.8v1h1.2v1.2h1v4.8h-1v1.2h-1.2v1h-4.8v-1h-1.2v-1.2h-1v-4.8h1v-1.2h1.2zm1,-1h4.8v1h1.2v1.2h1v4.8h-1v1.2h-1.2v1h-4.8v-1h-1.2v-1.2h-1v-4.8h1v-1.2h1.2zm1,0h4.8v1h1.2v1.2h1v4.8h-1v1.2h-1.2v1h-4.8v-1h-1.2v-1.2h-1v-4.8h1v-1.2h1.2zm1,-1h4.8v1h1.2v1.2h1v4.8h-1v1.2h-1.2v1h-4.8v-1h-1.2v-1.2h-1v-4.8h1v-1.2h1.2zm1,-1h4.8v1h1.2v1.2h1v4.8h-1v1.2h-1.2v1h-4.8v-1h-1.2v-1.2h-1v-4.8h1v-1.2h1.2zm1,0h4.8v1h1.2v1.2h1v4.8h-1v1.2h-1.2v1h-4.8v-1h-1.2v-1.2h-1v-4.8h1v-1.2h1.2zm1,-1h4.8v1h1.2v1.2h1v4.8h-1v1.2h-1.2v1h-4.8v-1h-1.2v-1.2h-1v-4.8h1v-1.2h1.2zm1,-1h4.8v1h1.2v1.2h1v4.8h-1v1.2h-1.2v1h-4.8v-1h-1.2v-1.2h-1v-4.8h1v-1.2h1.2zm1,0h4.8v1h1.2v1.2h1v4.8h-1v1.2h-1.2v1h-4.8v-1h-1.2v-1.2h-1v-4.8h1v-1.2h1.2zm1,-1h4.8v1h1.2v1.2h1v4.8h-1v1.2h-1.2v1h-4.8v-1h-1.2v-1.2h-1v-4.8h1v-1.2h1.2zm1,-1h4.8v1h1.2v1.2h1v4.8h-1v1.2h-1.2v1h-4.8v-1h-1.2v-1.2h-1v-4.8h1v-1.2h1.2zm1,0h4.8v1h1.2v1.2h1v4.8h-1v1.2h-1.2v1h-4.8v-1h-1.2v-1.2h-1v-4.8h1v-1.2h1.2zm1,-1h4.8v1h1.2v1.2h1v4.8h-1v1.2h-1.2v1h-4.8v-1h-1.2v-1.2h-1v-4.8h1v-1.2h1.2zm1,-1h4.8v1h1.2v1.2h1v4.8h-1v1.2h-1.2v1h-4.8v-1h-1.2v-1.2h-1v-4.8h1v-1.2h1.2zm1,0h4.8v1h1.2v1.2h1v4.8h-1v1.2h-1.2v1h-4.8v-1h-1.2v-1.2h-1v-4.8h1v-1.2h1.2zm1,-1h4.8v1h1.2v1.2h1v4.8h-1v1.2h-1.2v1h-4.8v-1h-1.2v-1.2h-1v-4.8h1v-1.2h1.2zm1,-1h4.8v1h1.2v1.2h1v4.8h-1v1.2h-1.2v1h-4.8v-1h-1.2v-1.2h-1v-4.8h1v-1.2h1.2zm1,0h4.8v1h1.2v1.2h1v4.8h-1v1.2h-1.2v1h-4.8v-1h-1.2v-1.2h-1v-4.8h1v-1.2h1.2zm1,-1h4.8v1h1.2v1.2h1v4.8h-1v1.2h-1.2v1h-4.8v-1h-1.2v-1.2h-1v-4.8h1v-1.2h1.2zm1,0h4.8v1h1.2v1.2h1v4.8h-1v1.2h-1.2v1h-4.8v-1h-1.2v-1.2h-1v-4.8h1v-1.2h1.2zm1,-1h4.8v1h1.2v1.2h1v4.8h-1v1.2h-1.2v1h-4.8v-1h-1.2v-1.2h-1v-4.8h1v-1.2h1.2zm1,-1h4.8v1h1.2v1.2h1v4.8h-1v1.2h-1.2v1h-4.8v-1h-1.2v-1.2h-1v-4.8h1v-1.2h1.2zm1,0h4.8v1h1.2v1.2h1v4.8h-1v1.2h-1.2v1h-4.8v-1h-1.2v-1.2h-1v-4.8h1v-1.2h1.2zm1,-1h4.8v1h1.2v1.2h1v4.8h-1v1.2h-1.2v1h-4.8v-1h-1.2v-1.2h-1v-4.8h1v-1.2h1.2zm1,-1h4.8v1h1.2v1.2h1v4.8h-1v1.2h-1.2v1h-4.8v-1h-1.2v-1.2h-1v-4.8h1v-1.2h1.2zm1,0h4.8v1h1.2v1.2h1v4.8h-1v1.2h-1.2v1h-4.8v-1h-1.2v-1.2h-1v-4.8h1v-1.2h1.2zm1,-1h4.8v1h1.2v1.2h1v4.8h-1v1.2h-1.2v1h-4.8v-1h-1.2v-1.2h-1v-4.8h1v-1.2h1.2zm1,-1h4.8v1h1.2v1.2h1v4.8h-1v1.2h-1.2v1h-4.8v-1h-1.2v-1.2h-1v-4.8h1v-1.2h1.2zm1,0h4.8v1h1.2v1.2h1v4.8h-1v1.2h-1.2v1h-4.8v-1h-1.2v-1.2h-1v-4.8h1v-1.2h1.2zm1,-1h4.8v1h1.2v1.2h1v4.8h-1v1.2h-1.2v1h-4.8v-1h-1.2v-1.2h-1v-4.8h1v-1.2h1.2zm1,-1h4.8v1h1.2v1.2h1v4.8h-1v1.2h-1.2v1h-4.8v-1h-1.2v-1.2h-1v-4.8h1v-1.2h1.2zm1,0h4.8v1h1.2v1.2h1v4.8h-1v1.2h-1.2v1h-4.8v-1h-1.2v-1.2h-1v-4.8h1v-1.2h1.2zm1,-1h4.8v1h1.2v1.2h1v4.8h-1v1.2h-1.2v1h-4.8v-1h-1.2v-1.2h-1v-4.8h1v-1.2h1.2zm1,-1h4.8v1h1.2v1.2h1v4.8h-1v1.2h-1.2v1h-4.8v-1h-1.2v-1.2h-1v-4.8h1v-1.2h1.2zm1,0h4.8v1h1.2v1.2h1v4.8h-1v1.2h-1.2v1h-4.8v-1h-1.2v-1.2h-1v-4.8h1v-1.2h1.2zm1,-1h4.8v1h1.2v1.2h1v4.8h-1v1.2h-1.2v1h-4.8v-1h-1.2v-1.2h-1v-4.8h1v-1.2h1.2zm1,0h4.8v1h1.2v1.2h1v4.8h-1v1.2h-1.2v1h-4.8v-1h-1.2v-1.2h-1v-4.8h1v-1.2h1.2zm1,-1h4.8v1h1.2v1.2h1v4.8h-1v1.2h-1.2v1h-4.8v-1h-1.2v-1.2h-1v-4.8h1v-1.2h1.2zm1,-1h4.8v1h1.2v1.2h1v4.8h-1v1.2h-1.2v1h-4.8v-1h-1.2v-1.2h-1v-4.8h1v-1.2h1.2zm1,0h4.8v1h1.2v1.2h1v4.8h-1v1.2h-1.2v1h-4.8v-1h-1.2v-1.2h-1v-4.8h1v-1.2h1.2zm1,-1h4.8v1h1.2v1.2h1v4.8h-1v1.2h-1.2v1h-4.8v-1h-1.2v-1.2h-1v-4.8h1v-1.2h1.2zm1,-1h4.8v1h1.2v1.2h1v4.8h-1v1.2h-1.2v1h-4.8v-1h-1.2v-1.2h-1v-4.8h1v-1.2h1.2zm1,0h4.8v1h1.2v1.2h1v4.8h-1v1.2h-1.2v1h-4.8v-1h-1.2v-1.2h-1v-4.8h1v-1.2h1.2zm1,-1h4.8v1h1.2v1.2h1v4.8h-1v1.2h-1.2v1h-4.8v-1h-1.2v-1.2h-1v-4.8h1v-1.2h1.2zm1,-1h4.8v1h1.2v1.2h1v4.8h-1v1.2h-1.2v1h-4.8v-1h-1.2v-1.2h-1v-4.8h1v-1.2h1.2zm1,0h4.8v1h1.2v1.2h1v4.8h-1v1.2h-1.2v1h-4.8v-1h-1.2v-1.2h-1v-4.8h1v-1.2h1.2zm1,-1h4.8v1h1.2v1.2h1v4.8h-1v1.2h-1.2v1h-4.8v-1h-1.2v-1.2h-1v-4.8h1v-1.2h1.2zm1,0h4.8v1h1.2v1.2h1v4.8h-1v1.2h-1.2v1h-4.8v-1h-1.2v-1.2h-1v-4.8h1v-1.2h1.2zm1,-1h4.8v1h1.2v1.2h1v4.8h-1v1.2h-1.2v1h-4.8v-1h-1.2v-1.2h-1v-4.8h1v-1.2h1.2zm1,-1h4.8v1h1.2v1.2h1v4.8h-1v1.2h-1.2v1h-4.8v-1h-1.2v-1.2h-1v-4.8h1v-1.2h1.2zm1,0h4.8v1h1.2v1.2h1v4.8h-1v1.2h-1.2v1h-4.8v-1h-1.2v-1.2h-1v-4.8h1v-1.2h1.2zm1,-1h4.8v1h1.2v1.2h1v4.8h-1v1.2h-1.2v1h-4.8v-1h-1.2v-1.2h-1v-4.8h1v-1.2h1.2zm1,-1h4.8v1h1.2v1.2h1v4.8h-1v1.2h-1.2v1h-4.8v-1h-1.2v-1.2h-1v-4.8h1v-1.2h1.2zm1,0h4.8v1h1.2v1.2h1v4.8h-1v1.2h-1.2v1h-4.8v-1h-1.2v-1.2h-1v-4.8h1v-1.2h1.2zm1,-1h4.8v1h1.2v1.2h1v4.8h-1v1.2h-1.2v1h-4.8v-1h-1.2v-1.2h-1v-4.8h1v-1.2h1.2zm1,-1h4.8v1h1.2v1.2h1v4.8h-1v1.2h-1.2v1h-4.8v-1h-1.2v-1.2h-1v-4.8h1v-1.2h1.2zm1,0h4.8v1h1.2v1.2h1v4.8h-1v1.2h-1.2v1h-4.8v-1h-1.2v-1.2h-1v-4.8h1v-1.2h1.2zm1,-1h4.8v1h1.2v1.2h1v4.8h-1v1.2h-1.2v1h-4.8v-1h-1.2v-1.2h-1v-4.8h1v-1.2h1.2zm2,-1h4.8v1h1.2v1.2h1v4.8h-1v1.2h-1.2v1h-4.8v-1h-1.2v-1.2h-1v-4.8h1v-1.2h1.2zm1,0h4.8v1h1.2v1.2h1v4.8h-1v1.2h-1.2v1h-4.8v-1h-1.2v-1.2h-1v-4.8h1v-1.2h1.2zm1,-1h4.8v1h1.2v1.2h1v4.8h-1v1.2h-1.2v1h-4.8v-1h-1.2v-1.2h-1v-4.8h1v-1.2h1.2zm1,-1h4.8v1h1.2v1.2h1v4.8h-1v1.2h-1.2v1h-4.8v-1h-1.2v-1.2h-1v-4.8h1v-1.2h1.2zm1,0h4.8v1h1.2v1.2h1v4.8h-1v1.2h-1.2v1h-4.8v-1h-1.2v-1.2h-1v-4.8h1v-1.2h1.2zm1,-1h4.8v1h1.2v1.2h1v4.8h-1v1.2h-1.2v1h-4.8v-1h-1.2v-1.2h-1v-4.8h1v-1.2h1.2zm1,-1h4.8v1h1.2v1.2h1v4.8h-1v1.2h-1.2v1h-4.8v-1h-1.2v-1.2h-1v-4.8h1v-1.2h1.2zm1,0h4.8v1h1.2v1.2h1v4.8h-1v1.2h-1.2v1h-4.8v-1h-1.2v-1.2h-1v-4.8h1v-1.2h1.2zm1,-1h4.8v1h1.2v1.2h1v4.8h-1v1.2h-1.2v1h-4.8v-1h-1.2v-1.2h-1v-4.8h1v-1.2h1.2zm1,-1h4.8v1h1.2v1.2h1v4.8h-1v1.2h-1.2v1h-4.8v-1h-1.2v-1.2h-1v-4.8h1v-1.2h1.2zm1,-1h4.8v1h1.2v1.2h1v4.8h-1v1.2h-1.2v1h-4.8v-1h-1.2v-1.2h-1v-4.8h1v-1.2h1.2zm2,0h4.8v1h1.2v1.2h1v4.8h-1v1.2h-1.2v1h-4.8v-1h-1.2v-1.2h-1v-4.8h1v-1.2h1.2zm1,-1h4.8v1h1.2v1.2h1v4.8h-1v1.2h-1.2v1h-4.8v-1h-1.2v-1.2h-1v-4.8h1v-1.2h1.2zm1,-1h4.8v1h1.2v1.2h1v4.8h-1v1.2h-1.2v1h-4.8v-1h-1.2v-1.2h-1v-4.8h1v-1.2h1.2zm1,-1h4.8v1h1.2v1.2h1v4.8h-1v1.2h-1.2v1h-4.8v-1h-1.2v-1.2h-1v-4.8h1v-1.2h1.2zm1,0h4.8v1h1.2v1.2h1v4.8h-1v1.2h-1.2v1h-4.8v-1h-1.2v-1.2h-1v-4.8h1v-1.2h1.2zm1,-1h4.8v1h1.2v1.2h1v4.8h-1v1.2h-1.2v1h-4.8v-1h-1.2v-1.2h-1v-4.8h1v-1.2h1.2zm2,-1h4.8v1h1.2v1.2h1v4.8h-1v1.2h-1.2v1h-4.8v-1h-1.2v-1.2h-1v-4.8h1v-1.2h1.2zm1,0h4.8v1h1.2v1.2h1v4.8h-1v1.2h-1.2v1h-4.8v-1h-1.2v-1.2h-1v-4.8h1v-1.2h1.2zm1,-1h4.8v1h1.2v1.2h1v4.8h-1v1.2h-1.2v1h-4.8v-1h-1.2v-1.2h-1v-4.8h1v-1.2h1.2zm1,-1h4.8v1h1.2v1.2h1v4.8h-1v1.2h-1.2v1h-4.8v-1h-1.2v-1.2h-1v-4.8h1v-1.2h1.2zm1,-1h4.8v1h1.2v1.2h1v4.8h-1v1.2h-1.2v1h-4.8v-1h-1.2v-1.2h-1v-4.8h1v-1.2h1.2zm2,-1h4.8v1h1.2v1.2h1v4.8h-1v1.2h-1.2v1h-4.8v-1h-1.2v-1.2h-1v-4.8h1v-1.2h1.2zm1,0h4.8v1h1.2v1.2h1v4.8h-1v1.2h-1.2v1h-4.8v-1h-1.2v-1.2h-1v-4.8h1v-1.2h1.2zm1,-1h4.8v1h1.2v1.2h1v4.8h-1v1.2h-1.2v1h-4.8v-1h-1.2v-1.2h-1v-4.8h1v-1.2h1.2zm1,-1h4.8v1h1.2v1.2h1v4.8h-1v1.2h-1.2v1h-4.8v-1h-1.2v-1.2h-1v-4.8h1v-1.2h1.2zm2,-1h4.8v1h1.2v1.2h1v4.8h-1v1.2h-1.2v1h-4.8v-1h-1.2v-1.2h-1v-4.8h1v-1.2h1.2zm1,0h4.8v1h1.2v1.2h1v4.8h-1v1.2h-1.2v1h-4.8v-1h-1.2v-1.2h-1v-4.8h1v-1.2h1.2zm1,-1h4.8v1h1.2v1.2h1v4.8h-1v1.2h-1.2v1h-4.8v-1h-1.2v-1.2h-1v-4.8h1v-1.2h1.2zm1,-1h4.8v1h1.2v1.2h1v4.8h-1v1.2h-1.2v1h-4.8v-1h-1.2v-1.2h-1v-4.8h1v-1.2h1.2zm2,-1h4.8v1h1.2v1.2h1v4.8h-1v1.2h-1.2v1h-4.8v-1h-1.2v-1.2h-1v-4.8h1v-1.2h1.2zm1,-1h4.8v1h1.2v1.2h1v4.8h-1v1.2h-1.2v1h-4.8v-1h-1.2v-1.2h-1v-4.8h1v-1.2h1.2zm1,0h4.8v1h1.2v1.2h1v4.8h-1v1.2h-1.2v1h-4.8v-1h-1.2v-1.2h-1v-4.8h1v-1.2h1.2zm2,-1h4.8v1h1.2v1.2h1v4.8h-1v1.2h-1.2v1h-4.8v-1h-1.2v-1.2h-1v-4.8h1v-1.2h1.2zm1,-1h4.8v1h1.2v1.2h1v4.8h-1v1.2h-1.2v1h-4.8v-1h-1.2v-1.2h-1v-4.8h1v-1.2h1.2zm1,-1h4.8v1h1.2v1.2h1v4.8h-1v1.2h-1.2v1h-4.8v-1h-1.2v-1.2h-1v-4.8h1v-1.2h1.2zm2,-1h4.8v1h1.2v1.2h1v4.8h-1v1.2h-1.2v1h-4.8v-1h-1.2v-1.2h-1v-4.8h1v-1.2h1.2zm1,-1h4.8v1h1.2v1.2h1v4.8h-1v1.2h-1.2v1h-4.8v-1h-1.2v-1.2h-1v-4.8h1v-1.2h1.2zm1,0h4.8v1h1.2v1.2h1v4.8h-1v1.2h-1.2v1h-4.8v-1h-1.2v-1.2h-1v-4.8h1v-1.2h1.2zm2,-1h4.8v1h1.2v1.2h1v4.8h-1v1.2h-1.2v1h-4.8v-1h-1.2v-1.2h-1v-4.8h1v-1.2h1.2zm1,-1h4.8v1h1.2v1.2h1v4.8h-1v1.2h-1.2v1h-4.8v-1h-1.2v-1.2h-1v-4.8h1v-1.2h1.2zm1,-1h4.8v1h1.2v1.2h1v4.8h-1v1.2h-1.2v1h-4.8v-1h-1.2v-1.2h-1v-4.8h1v-1.2h1.2zm2,-1h4.8v1h1.2v1.2h1v4.8h-1v1.2h-1.2v1h-4.8v-1h-1.2v-1.2h-1v-4.8h1v-1.2h1.2zm1,-1h4.8v1h1.2v1.2h1v4.8h-1v1.2h-1.2v1h-4.8v-1h-1.2v-1.2h-1v-4.8h1v-1.2h1.2zm2,-1h4.8v1h1.2v1.2h1v4.8h-1v1.2h-1.2v1h-4.8v-1h-1.2v-1.2h-1v-4.8h1v-1.2h1.2zm1,0h4.8v1h1.2v1.2h1v4.8h-1v1.2h-1.2v1h-4.8v-1h-1.2v-1.2h-1v-4.8h1v-1.2h1.2zm1,-1h4.8v1h1.2v1.2h1v4.8h-1v1.2h-1.2v1h-4.8v-1h-1.2v-1.2h-1v-4.8h1v-1.2h1.2zm2,-1h4.8v1h1.2v1.2h1v4.8h-1v1.2h-1.2v1h-4.8v-1h-1.2v-1.2h-1v-4.8h1v-1.2h1.2zm1,-1h4.8v1h1.2v1.2h1v4.8h-1v1.2h-1.2v1h-4.8v-1h-1.2v-1.2h-1v-4.8h1v-1.2h1.2zm2,-1h4.8v1h1.2v1.2h1v4.8h-1v1.2h-1.2v1h-4.8v-1h-1.2v-1.2h-1v-4.8h1v-1.2h1.2zm1,-1h4.8v1h1.2v1.2h1v4.8h-1v1.2h-1.2v1h-4.8v-1h-1.2v-1.2h-1v-4.8h1v-1.2h1.2zm2,-1h4.8v1h1.2v1.2h1v4.8h-1v1.2h-1.2v1h-4.8v-1h-1.2v-1.2h-1v-4.8h1v-1.2h1.2zm1,-1h4.8v1h1.2v1.2h1v4.8h-1v1.2h-1.2v1h-4.8v-1h-1.2v-1.2h-1v-4.8h1v-1.2h1.2zm2,-1h4.8v1h1.2v1.2h1v4.8h-1v1.2h-1.2v1h-4.8v-1h-1.2v-1.2h-1v-4.8h1v-1.2h1.2zm1,0h4.8v1h1.2v1.2h1v4.8h-1v1.2h-1.2v1h-4.8v-1h-1.2v-1.2h-1v-4.8h1v-1.2h1.2zm2,-1h4.8v1h1.2v1.2h1v4.8h-1v1.2h-1.2v1h-4.8v-1h-1.2v-1.2h-1v-4.8h1v-1.2h1.2zm1,-1h4.8v1h1.2v1.2h1v4.8h-1v1.2h-1.2v1h-4.8v-1h-1.2v-1.2h-1v-4.8h1v-1.2h1.2zm2,-1h4.8v1h1.2v1.2h1v4.8h-1v1.2h-1.2v1h-4.8v-1h-1.2v-1.2h-1v-4.8h1v-1.2h1.2zm1,-1h4.8v1h1.2v1.2h1v4.8h-1v1.2h-1.2v1h-4.8v-1h-1.2v-1.2h-1v-4.8h1v-1.2h1.2zm2,-1h4.8v1h1.2v1.2h1v4.8h-1v1.2h-1.2v1h-4.8v-1h-1.2v-1.2h-1v-4.8h1v-1.2h1.2zm2,-1h4.8v1h1.2v1.2h1v4.8h-1v1.2h-1.2v1h-4.8v-1h-1.2v-1.2h-1v-4.8h1v-1.2h1.2zm1,-1h4.8v1h1.2v1.2h1v4.8h-1v1.2h-1.2v1h-4.8v-1h-1.2v-1.2h-1v-4.8h1v-1.2h1.2zm2,-1h4.8v1h1.2v1.2h1v4.8h-1v1.2h-1.2v1h-4.8v-1h-1.2v-1.2h-1v-4.8h1v-1.2h1.2zm1,-1h4.8v1h1.2v1.2h1v4.8h-1v1.2h-1.2v1h-4.8v-1h-1.2v-1.2h-1v-4.8h1v-1.2h1.2zm2,-1h4.8v1h1.2v1.2h1v4.8h-1v1.2h-1.2v1h-4.8v-1h-1.2v-1.2h-1v-4.8h1v-1.2h1.2zm2,-1h4.8v1h1.2v1.2h1v4.8h-1v1.2h-1.2v1h-4.8v-1h-1.2v-1.2h-1v-4.8h1v-1.2h1.2zm1,-1h4.8v1h1.2v1.2h1v4.8h-1v1.2h-1.2v1h-4.8v-1h-1.2v-1.2h-1v-4.8h1v-1.2h1.2zm2,-1h4.8v1h1.2v1.2h1v4.8h-1v1.2h-1.2v1h-4.8v-1h-1.2v-1.2h-1v-4.8h1v-1.2h1.2zm2,-1h4.8v1h1.2v1.2h1v4.8h-1v1.2h-1.2v1h-4.8v-1h-1.2v-1.2h-1v-4.8h1v-1.2h1.2zm1,-1h4.8v1h1.2v1.2h1v4.8h-1v1.2h-1.2v1h-4.8v-1h-1.2v-1.2h-1v-4.8h1v-1.2h1.2zm2,-1h4.8v1h1.2v1.2h1v4.8h-1v1.2h-1.2v1h-4.8v-1h-1.2v-1.2h-1v-4.8h1v-1.2h1.2zm2,-1h4.8v1h1.2v1.2h1v4.8h-1v1.2h-1.2v1h-4.8v-1h-1.2v-1.2h-1v-4.8h1v-1.2h1.2zm1,-1h4.8v1h1.2v1.2h1v4.8h-1v1.2h-1.2v1h-4.8v-1h-1.2v-1.2h-1v-4.8h1v-1.2h1.2zm2,-1h4.8v1h1.2v1.2h1v4.8h-1v1.2h-1.2v1h-4.8v-1h-1.2v-1.2h-1v-4.8h1v-1.2h1.2zm2,-1h4.8v1h1.2v1.2h1v4.8h-1v1.2h-1.2v1h-4.8v-1h-1.2v-1.2h-1v-4.8h1v-1.2h1.2zm1,-1h4.8v1h1.2v1.2h1v4.8h-1v1.2h-1.2v1h-4.8v-1h-1.2v-1.2h-1v-4.8h1v-1.2h1.2zm2,-1h4.8v1h1.2v1.2h1v4.8h-1v1.2h-1.2v1h-4.8v-1h-1.2v-1.2h-1v-4.8h1v-1.2h1.2zm2,-1h4.8v1h1.2v1.2h1v4.8h-1v1.2h-1.2v1h-4.8v-1h-1.2v-1.2h-1v-4.8h1v-1.2h1.2zm2,-1h4.8v1h1.2v1.2h1v4.8h-1v1.2h-1.2v1h-4.8v-1h-1.2v-1.2h-1v-4.8h1v-1.2h1.2zm1,-1h4.8v1h1.2v1.2h1v4.8h-1v1.2h-1.2v1h-4.8v-1h-1.2v-1.2h-1v-4.8h1v-1.2h1.2zm2,-1h4.8v1h1.2v1.2h1v4.8h-1v1.2h-1.2v1h-4.8v-1h-1.2v-1.2h-1v-4.8h1v-1.2h1.2zm2,-1h4.8v1h1.2v1.2h1v4.8h-1v1.2h-1.2v1h-4.8v-1h-1.2v-1.2h-1v-4.8h1v-1.2h1.2zm2,-1h4.8v1h1.2v1.2h1v4.8h-1v1.2h-1.2v1h-4.8v-1h-1.2v-1.2h-1v-4.8h1v-1.2h1.2zm2,-1h4.8v1h1.2v1.2h1v4.8h-1v1.2h-1.2v1h-4.8v-1h-1.2v-1.2h-1v-4.8h1v-1.2h1.2zm2,-1h4.8v1h1.2v1.2h1v4.8h-1v1.2h-1.2v1h-4.8v-1h-1.2v-1.2h-1v-4.8h1v-1.2h1.2zm1,-2h4.8v1h1.2v1.2h1v4.8h-1v1.2h-1.2v1h-4.8v-1h-1.2v-1.2h-1v-4.8h1v-1.2h1.2zm2,-1h4.8v1h1.2v1.2h1v4.8h-1v1.2h-1.2v1h-4.8v-1h-1.2v-1.2h-1v-4.8h1v-1.2h1.2zm2,-1h4.8v1h1.2v1.2h1v4.8h-1v1.2h-1.2v1h-4.8v-1h-1.2v-1.2h-1v-4.8h1v-1.2h1.2zm2,-1h4.8v1h1.2v1.2h1v4.8h-1v1.2h-1.2v1h-4.8v-1h-1.2v-1.2h-1v-4.8h1v-1.2h1.2zm2,-1h4.8v1h1.2v1.2h1v4.8h-1v1.2h-1.2v1h-4.8v-1h-1.2v-1.2h-1v-4.8h1v-1.2h1.2zm2,-1h4.8v1h1.2v1.2h1v4.8h-1v1.2h-1.2v1h-4.8v-1h-1.2v-1.2h-1v-4.8h1v-1.2h1.2zm2,-1h4.8v1h1.2v1.2h1v4.8h-1v1.2h-1.2v1h-4.8v-1h-1.2v-1.2h-1v-4.8h1v-1.2h1.2zm2,-1h4.8v1h1.2v1.2h1v4.8h-1v1.2h-1.2v1h-4.8v-1h-1.2v-1.2h-1v-4.8h1v-1.2h1.2zm2,-1h4.8v1h1.2v1.2h1v4.8h-1v1.2h-1.2v1h-4.8v-1h-1.2v-1.2h-1v-4.8h1v-1.2h1.2zm2,-1h4.8v1h1.2v1.2h1v4.8h-1v1.2h-1.2v1h-4.8v-1h-1.2v-1.2h-1v-4.8h1v-1.2h1.2zm2,-2h4.8v1h1.2v1.2h1v4.8h-1v1.2h-1.2v1h-4.8v-1h-1.2v-1.2h-1v-4.8h1v-1.2h1.2zm2,-1h4.8v1h1.2v1.2h1v4.8h-1v1.2h-1.2v1h-4.8v-1h-1.2v-1.2h-1v-4.8h1v-1.2h1.2zm2,-1h4.8v1h1.2v1.2h1v4.8h-1v1.2h-1.2v1h-4.8v-1h-1.2v-1.2h-1v-4.8h1v-1.2h1.2zm2,-1h4.8v1h1.2v1.2h1v4.8h-1v1.2h-1.2v1h-4.8v-1h-1.2v-1.2h-1v-4.8h1v-1.2h1.2zm2,-1h4.8v1h1.2v1.2h1v4.8h-1v1.2h-1.2v1h-4.8v-1h-1.2v-1.2h-1v-4.8h1v-1.2h1.2zm2,-1h4.8v1h1.2v1.2h1v4.8h-1v1.2h-1.2v1h-4.8v-1h-1.2v-1.2h-1v-4.8h1v-1.2h1.2zm2,-2h4.8v1h1.2v1.2h1v4.8h-1v1.2h-1.2v1h-4.8v-1h-1.2v-1.2h-1v-4.8h1v-1.2h1.2zm2,-1h4.8v1h1.2v1.2h1v4.8h-1v1.2h-1.2v1h-4.8v-1h-1.2v-1.2h-1v-4.8h1v-1.2h1.2zm2,-1h4.8v1h1.2v1.2h1v4.8h-1v1.2h-1.2v1h-4.8v-1h-1.2v-1.2h-1v-4.8h1v-1.2h1.2zm2,-1h4.8v1h1.2v1.2h1v4.8h-1v1.2h-1.2v1h-4.8v-1h-1.2v-1.2h-1v-4.8h1v-1.2h1.2zm2,-1h4.8v1h1.2v1.2h1v4.8h-1v1.2h-1.2v1h-4.8v-1h-1.2v-1.2h-1v-4.8h1v-1.2h1.2zm3,-2h4.8v1h1.2v1.2h1v4.8h-1v1.2h-1.2v1h-4.8v-1h-1.2v-1.2h-1v-4.8h1v-1.2h1.2zm2,-1h4.8v1h1.2v1.2h1v4.8h-1v1.2h-1.2v1h-4.8v-1h-1.2v-1.2h-1v-4.8h1v-1.2h1.2zm2,-1h4.8v1h1.2v1.2h1v4.8h-1v1.2h-1.2v1h-4.8v-1h-1.2v-1.2h-1v-4.8h1v-1.2h1.2zm2,-1h4.8v1h1.2v1.2h1v4.8h-1v1.2h-1.2v1h-4.8v-1h-1.2v-1.2h-1v-4.8h1v-1.2h1.2zm3,-1h4.8v1h1.2v1.2h1v4.8h-1v1.2h-1.2v1h-4.8v-1h-1.2v-1.2h-1v-4.8h1v-1.2h1.2zm2,-2h4.8v1h1.2v1.2h1v4.8h-1v1.2h-1.2v1h-4.8v-1h-1.2v-1.2h-1v-4.8h1v-1.2h1.2zm2,-1h4.8v1h1.2v1.2h1v4.8h-1v1.2h-1.2v1h-4.8v-1h-1.2v-1.2h-1v-4.8h1v-1.2h1.2zm2,-1h4.8v1h1.2v1.2h1v4.8h-1v1.2h-1.2v1h-4.8v-1h-1.2v-1.2h-1v-4.8h1v-1.2h1.2zm3,-2h4.8v1h1.2v1.2h1v4.8h-1v1.2h-1.2v1h-4.8v-1h-1.2v-1.2h-1v-4.8h1v-1.2h1.2zm2,-1h4.8v1h1.2v1.2h1v4.8h-1v1.2h-1.2v1h-4.8v-1h-1.2v-1.2h-1v-4.8h1v-1.2h1.2zm3,-1h4.8v1h1.2v1.2h1v4.8h-1v1.2h-1.2v1h-4.8v-1h-1.2v-1.2h-1v-4.8h1v-1.2h1.2zm2,-1h4.8v1h1.2v1.2h1v4.8h-1v1.2h-1.2v1h-4.8v-1h-1.2v-1.2h-1v-4.8h1v-1.2h1.2zm2,-2h4.8v1h1.2v1.2h1v4.8h-1v1.2h-1.2v1h-4.8v-1h-1.2v-1.2h-1v-4.8h1v-1.2h1.2zm3,-1h4.8v1h1.2v1.2h1v4.8h-1v1.2h-1.2v1h-4.8v-1h-1.2v-1.2h-1v-4.8h1v-1.2h1.2zm2,-1h4.8v1h1.2v1.2h1v4.8h-1v1.2h-1.2v1h-4.8v-1h-1.2v-1.2h-1v-4.8h1v-1.2h1.2zm3,-2h4.8v1h1.2v1.2h1v4.8h-1v1.2h-1.2v1h-4.8v-1h-1.2v-1.2h-1v-4.8h1v-1.2h1.2zm2,-1h4.8v1h1.2v1.2h1v4.8h-1v1.2h-1.2v1h-4.8v-1h-1.2v-1.2h-1v-4.8h1v-1.2h1.2zm3,-1h4.8v1h1.2v1.2h1v4.8h-1v1.2h-1.2v1h-4.8v-1h-1.2v-1.2h-1v-4.8h1v-1.2h1.2zm2,-2h4.8v1h1.2v1.2h1v4.8h-1v1.2h-1.2v1h-4.8v-1h-1.2v-1.2h-1v-4.8h1v-1.2h1.2zm3,-1h4.8v1h1.2v1.2h1v4.8h-1v1.2h-1.2v1h-4.8v-1h-1.2v-1.2h-1v-4.8h1v-1.2h1.2zm3,-1h4.8v1h1.2v1.2h1v4.8h-1v1.2h-1.2v1h-4.8v-1h-1.2v-1.2h-1v-4.8h1v-1.2h1.2zm2,-2h4.8v1h1.2v1.2h1v4.8h-1v1.2h-1.2v1h-4.8v-1h-1.2v-1.2h-1v-4.8h1v-1.2h1.2zm3,-1h4.8v1h1.2v1.2h1v4.8h-1v1.2h-1.2v1h-4.8v-1h-1.2v-1.2h-1v-4.8h1v-1.2h1.2zm2,-1h4.8v1h1.2v1.2h1v4.8h-1v1.2h-1.2v1h-4.8v-1h-1.2v-1.2h-1v-4.8h1v-1.2h1.2zm3,-2h4.8v1h1.2v1.2h1v4.8h-1v1.2h-1.2v1h-4.8v-1h-1.2v-1.2h-1v-4.8h1v-1.2h1.2zm3,-1h4.8v1h1.2v1.2h1v4.8h-1v1.2h-1.2v1h-4.8v-1h-1.2v-1.2h-1v-4.8h1v-1.2h1.2zm3,-1h4.8v1h1.2v1.2h1v4.8h-1v1.2h-1.2v1h-4.8v-1h-1.2v-1.2h-1v-4.8h1v-1.2h1.2zm2,-2h4.8v1h1.2v1.2h1v4.8h-1v1.2h-1.2v1h-4.8v-1h-1.2v-1.2h-1v-4.8h1v-1.2h1.2zm3,-1h4.8v1h1.2v1.2h1v4.8h-1v1.2h-1.2v1h-4.8v-1h-1.2v-1.2h-1v-4.8h1v-1.2h1.2zm3,-2h4.8v1h1.2v1.2h1v4.8h-1v1.2h-1.2v1h-4.8v-1h-1.2v-1.2h-1v-4.8h1v-1.2h1.2zm3,-1h4.8v1h1.2v1.2h1v4.8h-1v1.2h-1.2v1h-4.8v-1h-1.2v-1.2h-1v-4.8h1v-1.2h1.2zm3,-1h4.8v1h1.2v1.2h1v4.8h-1v1.2h-1.2v1h-4.8v-1h-1.2v-1.2h-1v-4.8h1v-1.2h1.2zm3,-2h4.8v1h1.2v1.2h1v4.8h-1v1.2h-1.2v1h-4.8v-1h-1.2v-1.2h-1v-4.8h1v-1.2h1.2zm3,-1h4.8v1h1.2v1.2h1v4.8h-1v1.2h-1.2v1h-4.8v-1h-1.2v-1.2h-1v-4.8h1v-1.2h1.2zm3,-1h4.8v1h1.2v1.2h1v4.8h-1v1.2h-1.2v1h-4.8v-1h-1.2v-1.2h-1v-4.8h1v-1.2h1.2zm7,-4h4.8v1h1.2v1.2h1v4.8h-1v1.2h-1.2v1h-4.8v-1h-1.2v-1.2h-1v-4.8h1v-1.2h1.2zm2,-1h4.8v1h1.2v1.2h1v4.8h-1v1.2h-1.2v1h-4.8v-1h-1.2v-1.2h-1v-4.8h1v-1.2h1.2zm6,-2h4.8v1h1.2v1.2h1v4.8h-1v1.2h-1.2v1h-4.8v-1h-1.2v-1.2h-1v-4.8h1v-1.2h1.2zm5,-3h4.8v1h1.2v1.2h1v4.8h-1v1.2h-1.2v1h-4.8v-1h-1.2v-1.2h-1v-4.8h1v-1.2h1.2zm8,-3h4.8v1h1.2v1.2h1v4.8h-1v1.2h-1.2v1h-4.8v-1h-1.2v-1.2h-1v-4.8h1v-1.2h1.2zm5,-3h4.8v1h1.2v1.2h1v4.8h-1v1.2h-1.2v1h-4.8v-1h-1.2v-1.2h-1v-4.8h1v-1.2h1.2zm5,-1h4.8v1h1.2v1.2h1v4.8h-1v1.2h-1.2v1h-4.8v-1h-1.2v-1.2h-1v-4.8h1v-1.2h1.2zm4,-2h4.8v1h1.2v1.2h1v4.8h-1v1.2h-1.2v1h-4.8v-1h-1.2v-1.2h-1v-4.8h1v-1.2h1.2zm18,-7h4.8v1h1.2v1.2h1v4.8h-1v1.2h-1.2v1h-4.8v-1h-1.2v-1.2h-1v-4.8h1v-1.2h1.2zm21,-8h4.8v1h1.2v1.2h1v4.8h-1v1.2h-1.2v1h-4.8v-1h-1.2v-1.2h-1v-4.8h1v-1.2h1.2zm28,-10h4.8v1h1.2v1.2h1v4.8h-1v1.2h-1.2v1h-4.8v-1h-1.2v-1.2h-1v-4.8h1v-1.2h1.2zm5,-2h4.8v1h1.2v1.2h1v4.8h-1v1.2h-1.2v1h-4.8v-1h-1.2v-1.2h-1v-4.8h1v-1.2h1.2zm4,-1h4.8v1h1.2v1.2h1v4.8h-1v1.2h-1.2v1h-4.8v-1h-1.2v-1.2h-1v-4.8h1v-1.2h1.2zm9,-3h4.8v1h1.2v1.2h1v4.8h-1v1.2h-1.2v1h-4.8v-1h-1.2v-1.2h-1v-4.8h1v-1.2h1.2zm33,-10h4.8v1h1.2v1.2h1v4.8h-1v1.2h-1.2v1h-4.8v-1h-1.2v-1.2h-1v-4.8h1v-1.2h1.2z"/>
<rect x="114.5" y="1369.4" width="1458.3" height="989.1" fill="none" stroke="#000" stroke-width="2.4"/>
<line x1="137.4" y1="2358.5" x2="137.4" y2="2375.7" stroke="#000" stroke-width="2.3"/>
<text class="tk" transform="translate(135.2,2420.0) scale(0.82,1)" text-anchor="middle">4</text>
<line x1="492.3" y1="2358.5" x2="492.3" y2="2375.7" stroke="#000" stroke-width="2.3"/>
<text class="tk" transform="translate(490.1,2420.0) scale(0.82,1)" text-anchor="middle">6</text>
<line x1="848.2" y1="2358.5" x2="848.2" y2="2375.7" stroke="#000" stroke-width="2.3"/>
<text class="tk" transform="translate(846.0,2420.0) scale(0.82,1)" text-anchor="middle">8</text>
<line x1="1202.8" y1="2358.5" x2="1202.8" y2="2375.7" stroke="#000" stroke-width="2.3"/>
<text class="tk" transform="translate(1202.8,2420.0) scale(0.82,1)" text-anchor="middle" textLength="37.2" lengthAdjust="spacing">10</text>
<line x1="1558.8" y1="2358.5" x2="1558.8" y2="2375.7" stroke="#000" stroke-width="2.3"/>
<text class="tk" transform="translate(1558.8,2420.0) scale(0.82,1)" text-anchor="middle" textLength="37.2" lengthAdjust="spacing">12</text>
<line x1="94.7" y1="2275.1" x2="114.5" y2="2275.1" stroke="#000" stroke-width="2.3"/>
<text class="tk" transform="translate(73.5,2275.1) rotate(-90) scale(0.8,1)" text-anchor="middle" textLength="47.5" lengthAdjust="spacing">0.0</text>
<line x1="94.7" y1="2060.9" x2="114.5" y2="2060.9" stroke="#000" stroke-width="2.3"/>
<text class="tk" transform="translate(73.5,2060.9) rotate(-90) scale(0.8,1)" text-anchor="middle" textLength="47.5" lengthAdjust="spacing">0.2</text>
<line x1="94.7" y1="1846.5" x2="114.5" y2="1846.5" stroke="#000" stroke-width="2.3"/>
<text class="tk" transform="translate(73.5,1846.5) rotate(-90) scale(0.8,1)" text-anchor="middle" textLength="47.5" lengthAdjust="spacing">0.4</text>
<line x1="94.7" y1="1632.4" x2="114.5" y2="1632.4" stroke="#000" stroke-width="2.3"/>
<text class="tk" transform="translate(73.5,1632.4) rotate(-90) scale(0.8,1)" text-anchor="middle" textLength="47.5" lengthAdjust="spacing">0.6</text>
<line x1="94.7" y1="1418.2" x2="114.5" y2="1418.2" stroke="#000" stroke-width="2.3"/>
<text class="tk" transform="translate(73.5,1418.2) rotate(-90) scale(0.8,1)" text-anchor="middle" textLength="47.5" lengthAdjust="spacing">0.8</text>
<text class="pl" x="105" y="1335.5">B</text>
<text class="tt" transform="translate(591.5,1328.0) scale(0.88,1)" textLength="589.8" lengthAdjust="spacing">Cardiovascular Mortality</text>
<text class="tt" transform="translate(581.0,1473.6) scale(0.88,1)" textLength="581.8" lengthAdjust="spacing">p for nonlinearity=0.1561</text>
<text class="tt" transform="translate(586.0,2469.4) scale(0.88,1)" textLength="522.7" lengthAdjust="spacing">log2-transformed AISI</text>
<text class="tt" transform="translate(31.4,1998.0) rotate(-90) scale(0.88,1)" textLength="278.4" lengthAdjust="spacing">HR(95%CI)</text>
<path class="bl" d="M165.3,1976.7h4.4l2.6,2.6v4.4l-2.6,2.6h-4.4l-2.6,-2.6v-4.4zm16,2h4.4l2.6,2.6v4.4l-2.6,2.6h-4.4l-2.6,-2.6v-4.4zm19,2h4.4l2.6,2.6v4.4l-2.6,2.6h-4.4l-2.6,-2.6v-4.4zm53,6h4.4l2.6,2.6v4.4l-2.6,2.6h-4.4l-2.6,-2.6v-4.4zm25,3h4.4l2.6,2.6v4.4l-2.6,2.6h-4.4l-2.6,-2.6v-4.4zm53,6h4.4l2.6,2.6v4.4l-2.6,2.6h-4.4l-2.6,-2.6v-4.4zm12,2h4.4l2.6,2.6v4.4l-2.6,2.6h-4.4l-2.6,-2.6v-4.4zm10,1h4.4l2.6,2.6v4.4l-2.6,2.6h-4.4l-2.6,-2.6v-4.4zm2,0h4.4l2.6,2.6v4.4l-2.6,2.6h-4.4l-2.6,-2.6v-4.4zm9,1h4.4l2.6,2.6v4.4l-2.6,2.6h-4.4l-2.6,-2.6v-4.4zm25,2h4.4l2.6,2.6v4.4l-2.6,2.6h-4.4l-2.6,-2.6v-4.4zm8,1h4.4l2.6,2.6v4.4l-2.6,2.6h-4.4l-2.6,-2.6v-4.4zm5,1h4.4l2.6,2.6v4.4l-2.6,2.6h-4.4l-2.6,-2.6v-4.4zm9,1h4.4l2.6,2.6v4.4l-2.6,2.6h-4.4l-2.6,-2.6v-4.4zm8,1h4.4l2.6,2.6v4.4l-2.6,2.6h-4.4l-2.6,-2.6v-4.4zm2,0h4.4l2.6,2.6v4.4l-2.6,2.6h-4.4l-2.6,-2.6v-4.4zm3,0h4.4l2.6,2.6v4.4l-2.6,2.6h-4.4l-2.6,-2.6v-4.4zm3,0h4.4l2.6,2.6v4.4l-2.6,2.6h-4.4l-2.6,-2.6v-4.4zm3,1h4.4l2.6,2.6v4.4l-2.6,2.6h-4.4l-2.6,-2.6v-4.4zm3,0h4.4l2.6,2.6v4.4l-2.6,2.6h-4.4l-2.6,-2.6v-4.4zm2,0h4.4l2.6,2.6v4.4l-2.6,2.6h-4.4l-2.6,-2.6v-4.4zm2,1h4.4l2.6,2.6v4.4l-2.6,2.6h-4.4l-2.6,-2.6v-4.4zm3,0h4.4l2.6,2.6v4.4l-2.6,2.6h-4.4l-2.6,-2.6v-4.4zm2,0h4.4l2.6,2.6v4.4l-2.6,2.6h-4.4l-2.6,-2.6v-4.4zm3,0h4.4l2.6,2.6v4.4l-2.6,2.6h-4.4l-2.6,-2.6v-4.4zm3,1h4.4l2.6,2.6v4.4l-2.6,2.6h-4.4l-2.6,-2.6v-4.4zm3,0h4.4l2.6,2.6v4.4l-2.6,2.6h-4.4l-2.6,-2.6v-4.4zm3,0h4.4l2.6,2.6v4.4l-2.6,2.6h-4.4l-2.6,-2.6v-4.4zm14,2h4.4l2.6,2.6v4.4l-2.6,2.6h-4.4l-2.6,-2.6v-4.4zm14,1h4.4l2.6,2.6v4.4l-2.6,2.6h-4.4l-2.6,-2.6v-4.4zm8,1h4.4l2.6,2.6v4.4l-2.6,2.6h-4.4l-2.6,-2.6v-4.4zm2,0h4.4l2.6,2.6v4.4l-2.6,2.6h-4.4l-2.6,-2.6v-4.4zm2,0h4.4l2.6,2.6v4.4l-2.6,2.6h-4.4l-2.6,-2.6v-4.4zm2,0h4.4l2.6,2.6v4.4l-2.6,2.6h-4.4l-2.6,-2.6v-4.4zm2,1h4.4l2.6,2.6v4.4l-2.6,2.6h-4.4l-2.6,-2.6v-4.4zm2,0h4.4l2.6,2.6v4.4l-2.6,2.6h-4.4l-2.6,-2.6v-4.4zm2,0h4.4l2.6,2.6v4.4l-2.6,2.6h-4.4l-2.6,-2.6v-4.4zm2,0h4.4l2.6,2.6v4.4l-2.6,2.6h-4.4l-2.6,-2.6v-4.4zm2,0h4.4l2.6,2.6v4.4l-2.6,2.6h-4.4l-2.6,-2.6v-4.4zm2,0h4.4l2.6,2.6v4.4l-2.6,2.6h-4.4l-2.6,-2.6v-4.4zm2,1h4.4l2.6,2.6v4.4l-2.6,2.6h-4.4l-2.6,-2.6v-4.4zm2,0h4.4l2.6,2.6v4.4l-2.6,2.6h-4.4l-2.6,-2.6v-4.4zm2,0h4.4l2.6,2.6v4.4l-2.6,2.6h-4.4l-2.6,-2.6v-4.4zm2,0h4.4l2.6,2.6v4.4l-2.6,2.6h-4.4l-2.6,-2.6v-4.4zm2,0h4.4l2.6,2.6v4.4l-2.6,2.6h-4.4l-2.6,-2.6v-4.4zm2,1h4.4l2.6,2.6v4.4l-2.6,2.6h-4.4l-2.6,-2.6v-4.4zm2,0h4.4l2.6,2.6v4.4l-2.6,2.6h-4.4l-2.6,-2.6v-4.4zm2,0h4.4l2.6,2.6v4.4l-2.6,2.6h-4.4l-2.6,-2.6v-4.4zm2,0h4.4l2.6,2.6v4.4l-2.6,2.6h-4.4l-2.6,-2.6v-4.4zm2,0h4.4l2.6,2.6v4.4l-2.6,2.6h-4.4l-2.6,-2.6v-4.4zm1,0h4.4l2.6,2.6v4.4l-2.6,2.6h-4.4l-2.6,-2.6v-4.4zm1,1h4.4l2.6,2.6v4.4l-2.6,2.6h-4.4l-2.6,-2.6v-4.4zm1,0h4.4l2.6,2.6v4.4l-2.6,2.6h-4.4l-2.6,-2.6v-4.4zm1,0h4.4l2.6,2.6v4.4l-2.6,2.6h-4.4l-2.6,-2.6v-4.4zm1,0h4.4l2.6,2.6v4.4l-2.6,2.6h-4.4l-2.6,-2.6v-4.4zm1,0h4.4l2.6,2.6v4.4l-2.6,2.6h-4.4l-2.6,-2.6v-4.4zm1,0h4.4l2.6,2.6v4.4l-2.6,2.6h-4.4l-2.6,-2.6v-4.4zm1,0h4.4l2.6,2.6v4.4l-2.6,2.6h-4.4l-2.6,-2.6v-4.4zm1,0h4.4l2.6,2.6v4.4l-2.6,2.6h-4.4l-2.6,-2.6v-4.4zm1,0h4.4l2.6,2.6v4.4l-2.6,2.6h-4.4l-2.6,-2.6v-4.4zm1,0h4.4l2.6,2.6v4.4l-2.6,2.6h-4.4l-2.6,-2.6v-4.4zm1,0h4.4l2.6,2.6v4.4l-2.6,2.6h-4.4l-2.6,-2.6v-4.4zm1,1h4.4l2.6,2.6v4.4l-2.6,2.6h-4.4l-2.6,-2.6v-4.4zm1,0h4.4l2.6,2.6v4.4l-2.6,2.6h-4.4l-2.6,-2.6v-4.4zm1,0h4.4l2.6,2.6v4.4l-2.6,2.6h-4.4l-2.6,-2.6v-4.4zm1,0h4.4l2.6,2.6v4.4l-2.6,2.6h-4.4l-2.6,-2.6v-4.4zm1,0h4.4l2.6,2.6v4.4l-2.6,2.6h-4.4l-2.6,-2.6v-4.4zm1,0h4.4l2.6,2.6v4.4l-2.6,2.6h-4.4l-2.6,-2.6v-4.4zm1,0h4.4l2.6,2.6v4.4l-2.6,2.6h-4.4l-2.6,-2.6v-4.4zm1,0h4.4l2.6,2.6v4.4l-2.6,2.6h-4.4l-2.6,-2.6v-4.4zm1,0h4.4l2.6,2.6v4.4l-2.6,2.6h-4.4l-2.6,-2.6v-4.4zm1,0h4.4l2.6,2.6v4.4l-2.6,2.6h-4.4l-2.6,-2.6v-4.4zm1,0h4.4l2.6,2.6v4.4l-2.6,2.6h-4.4l-2.6,-2.6v-4.4zm1,1h4.4l2.6,2.6v4.4l-2.6,2.6h-4.4l-2.6,-2.6v-4.4zm1,0h4.4l2.6,2.6v4.4l-2.6,2.6h-4.4l-2.6,-2.6v-4.4zm1,0h4.4l2.6,2.6v4.4l-2.6,2.6h-4.4l-2.6,-2.6v-4.4zm1,0h4.4l2.6,2.6v4.4l-2.6,2.6h-4.4l-2.6,-2.6v-4.4zm1,0h4.4l2.6,2.6v4.4l-2.6,2.6h-4.4l-2.6,-2.6v-4.4zm1,0h4.4l2.6,2.6v4.4l-2.6,2.6h-4.4l-2.6,-2.6v-4.4zm1,0h4.4l2.6,2.6v4.4l-2.6,2.6h-4.4l-2.6,-2.6v-4.4zm1,0h4.4l2.6,2.6v4.4l-2.6,2.6h-4.4l-2.6,-2.6v-4.4zm1,0h4.4l2.6,2.6v4.4l-2.6,2.6h-4.4l-2.6,-2.6v-4.4zm1,0h4.4l2.6,2.6v4.4l-2.6,2.6h-4.4l-2.6,-2.6v-4.4zm1,0h4.4l2.6,2.6v4.4l-2.6,2.6h-4.4l-2.6,-2.6v-4.4zm1,0h4.4l2.6,2.6v4.4l-2.6,2.6h-4.4l-2.6,-2.6v-4.4zm1,1h4.4l2.6,2.6v4.4l-2.6,2.6h-4.4l-2.6,-2.6v-4.4zm1,0h4.4l2.6,2.6v4.4l-2.6,2.6h-4.4l-2.6,-2.6v-4.4zm1,0h4.4l2.6,2.6v4.4l-2.6,2.6h-4.4l-2.6,-2.6v-4.4zm1,0h4.4l2.6,2.6v4.4l-2.6,2.6h-4.4l-2.6,-2.6v-4.4zm1,0h4.4l2.6,2.6v4.4l-2.6,2.6h-4.4l-2.6,-2.6v-4.4zm1,0h4.4l2.6,2.6v4.4l-2.6,2.6h-4.4l-2.6,-2.6v-4.4zm1,0h4.4l2.6,2.6v4.4l-2.6,2.6h-4.4l-2.6,-2.6v-4.4zm1,0h4.4l2.6,2.6v4.4l-2.6,2.6h-4.4l-2.6,-2.6v-4.4zm1,0h4.4l2.6,2.6v4.4l-2.6,2.6h-4.4l-2.6,-2.6v-4.4zm1,0h4.4l2.6,2.6v4.4l-2.6,2.6h-4.4l-2.6,-2.6v-4.4zm1,0h4.4l2.6,2.6v4.4l-2.6,2.6h-4.4l-2.6,-2.6v-4.4zm1,1h4.4l2.6,2.6v4.4l-2.6,2.6h-4.4l-2.6,-2.6v-4.4zm1,0h4.4l2.6,2.6v4.4l-2.6,2.6h-4.4l-2.6,-2.6v-4.4zm1,0h4.4l2.6,2.6v4.4l-2.6,2.6h-4.4l-2.6,-2.6v-4.4zm1,0h4.4l2.6,2.6v4.4l-2.6,2.6h-4.4l-2.6,-2.6v-4.4zm1,0h4.4l2.6,2.6v4.4l-2.6,2.6h-4.4l-2.6,-2.6v-4.4zm1,0h4.4l2.6,2.6v4.4l-2.6,2.6h-4.4l-2.6,-2.6v-4.4zm1,0h4.4l2.6,2.6v4.4l-2.6,2.6h-4.4l-2.6,-2.6v-4.4zm1,0h4.4l2.6,2.6v4.4l-2.6,2.6h-4.4l-2.6,-2.6v-4.4zm1,0h4.4l2.6,2.6v4.4l-2.6,2.6h-4.4l-2.6,-2.6v-4.4zm1,0h4.4l2.6,2.6v4.4l-2.6,2.6h-4.4l-2.6,-2.6v-4.4zm1,0h4.4l2.6,2.6v4.4l-2.6,2.6h-4.4l-2.6,-2.6v-4.4zm1,0h4.4l2.6,2.6v4.4l-2.6,2.6h-4.4l-2.6,-2.6v-4.4zm1,1h4.4l2.6,2.6v4.4l-2.6,2.6h-4.4l-2.6,-2.6v-4.4zm1,0h4.4l2.6,2.6v4.4l-2.6,2.6h-4.4l-2.6,-2.6v-4.4zm1,0h4.4l2.6,2.6v4.4l-2.6,2.6h-4.4l-2.6,-2.6v-4.4zm1,0h4.4l2.6,2.6v4.4l-2.6,2.6h-4.4l-2.6,-2.6v-4.4zm1,0h4.4l2.6,2.6v4.4l-2.6,2.6h-4.4l-2.6,-2.6v-4.4zm1,0h4.4l2.6,2.6v4.4l-2.6,2.6h-4.4l-2.6,-2.6v-4.4zm1,0h4.4l2.6,2.6v4.4l-2.6,2.6h-4.4l-2.6,-2.6v-4.4zm1,0h4.4l2.6,2.6v4.4l-2.6,2.6h-4.4l-2.6,-2.6v-4.4zm1,0h4.4l2.6,2.6v4.4l-2.6,2.6h-4.4l-2.6,-2.6v-4.4zm1,0h4.4l2.6,2.6v4.4l-2.6,2.6h-4.4l-2.6,-2.6v-4.4zm1,0h4.4l2.6,2.6v4.4l-2.6,2.6h-4.4l-2.6,-2.6v-4.4zm1,1h4.4l2.6,2.6v4.4l-2.6,2.6h-4.4l-2.6,-2.6v-4.4zm1,0h4.4l2.6,2.6v4.4l-2.6,2.6h-4.4l-2.6,-2.6v-4.4zm1,0h4.4l2.6,2.6v4.4l-2.6,2.6h-4.4l-2.6,-2.6v-4.4zm1,0h4.4l2.6,2.6v4.4l-2.6,2.6h-4.4l-2.6,-2.6v-4.4zm1,0h4.4l2.6,2.6v4.4l-2.6,2.6h-4.4l-2.6,-2.6v-4.4zm1,0h4.4l2.6,2.6v4.4l-2.6,2.6h-4.4l-2.6,-2.6v-4.4zm1,0h4.4l2.6,2.6v4.4l-2.6,2.6h-4.4l-2.6,-2.6v-4.4zm1,0h4.4l2.6,2.6v4.4l-2.6,2.6h-4.4l-2.6,-2.6v-4.4zm1,0h4.4l2.6,2.6v4.4l-2.6,2.6h-4.4l-2.6,-2.6v-4.4zm1,0h4.4l2.6,2.6v4.4l-2.6,2.6h-4.4l-2.6,-2.6v-4.4zm1,0h4.4l2.6,2.6v4.4l-2.6,2.6h-4.4l-2.6,-2.6v-4.4zm1,0h4.4l2.6,2.6v4.4l-2.6,2.6h-4.4l-2.6,-2.6v-4.4zm1,0h4.4l2.6,2.6v4.4l-2.6,2.6h-4.4l-2.6,-2.6v-4.4zm1,1h4.4l2.6,2.6v4.4l-2.6,2.6h-4.4l-2.6,-2.6v-4.4zm1,0h4.4l2.6,2.6v4.4l-2.6,2.6h-4.4l-2.6,-2.6v-4.4zm1,0h4.4l2.6,2.6v4.4l-2.6,2.6h-4.4l-2.6,-2.6v-4.4zm1,0h4.4l2.6,2.6v4.4l-2.6,2.6h-4.4l-2.6,-2.6v-4.4zm1,0h4.4l2.6,2.6v4.4l-2.6,2.6h-4.4l-2.6,-2.6v-4.4zm1,0h4.4l2.6,2.6v4.4l-2.6,2.6h-4.4l-2.6,-2.6v-4.4zm1,0h4.4l2.6,2.6v4.4l-2.6,2.6h-4.4l-2.6,-2.6v-4.4zm1,0h4.4l2.6,2.6v4.4l-2.6,2.6h-4.4l-2.6,-2.6v-4.4zm1,0h4.4l2.6,2.6v4.4l-2.6,2.6h-4.4l-2.6,-2.6v-4.4zm1,0h4.4l2.6,2.6v4.4l-2.6,2.6h-4.4l-2.6,-2.6v-4.4zm1,0h4.4l2.6,2.6v4.4l-2.6,2.6h-4.4l-2.6,-2.6v-4.4zm1,0h4.4l2.6,2.6v4.4l-2.6,2.6h-4.4l-2.6,-2.6v-4.4zm1,1h4.4l2.6,2.6v4.4l-2.6,2.6h-4.4l-2.6,-2.6v-4.4zm1,0h4.4l2.6,2.6v4.4l-2.6,2.6h-4.4l-2.6,-2.6v-4.4zm1,0h4.4l2.6,2.6v4.4l-2.6,2.6h-4.4l-2.6,-2.6v-4.4zm1,0h4.4l2.6,2.6v4.4l-2.6,2.6h-4.4l-2.6,-2.6v-4.4zm1,0h4.4l2.6,2.6v4.4l-2.6,2.6h-4.4l-2.6,-2.6v-4.4zm1,0h4.4l2.6,2.6v4.4l-2.6,2.6h-4.4l-2.6,-2.6v-4.4zm1,0h4.4l2.6,2.6v4.4l-2.6,2.6h-4.4l-2.6,-2.6v-4.4zm1,0h4.4l2.6,2.6v4.4l-2.6,2.6h-4.4l-2.6,-2.6v-4.4zm1,0h4.4l2.6,2.6v4.4l-2.6,2.6h-4.4l-2.6,-2.6v-4.4zm1,0h4.4l2.6,2.6v4.4l-2.6,2.6h-4.4l-2.6,-2.6v-4.4zm1,0h4.4l2.6,2.6v4.4l-2.6,2.6h-4.4l-2.6,-2.6v-4.4zm1,0h4.4l2.6,2.6v4.4l-2.6,2.6h-4.4l-2.6,-2.6v-4.4zm1,0h4.4l2.6,2.6v4.4l-2.6,2.6h-4.4l-2.6,-2.6v-4.4zm1,1h4.4l2.6,2.6v4.4l-2.6,2.6h-4.4l-2.6,-2.6v-4.4zm1,0h4.4l2.6,2.6v4.4l-2.6,2.6h-4.4l-2.6,-2.6v-4.4zm1,0h4.4l2.6,2.6v4.4l-2.6,2.6h-4.4l-2.6,-2.6v-4.4zm1,0h4.4l2.6,2.6v4.4l-2.6,2.6h-4.4l-2.6,-2.6v-4.4zm1,0h4.4l2.6,2.6v4.4l-2.6,2.6h-4.4l-2.6,-2.6v-4.4zm1,0h4.4l2.6,2.6v4.4l-2.6,2.6h-4.4l-2.6,-2.6v-4.4zm1,0h4.4l2.6,2.6v4.4l-2.6,2.6h-4.4l-2.6,-2.6v-4.4zm1,0h4.4l2.6,2.6v4.4l-2.6,2.6h-4.4l-2.6,-2.6v-4.4zm1,0h4.4l2.6,2.6v4.4l-2.6,2.6h-4.4l-2.6,-2.6v-4.4zm1,0h4.4l2.6,2.6v4.4l-2.6,2.6h-4.4l-2.6,-2.6v-4.4zm1,0h4.4l2.6,2.6v4.4l-2.6,2.6h-4.4l-2.6,-2.6v-4.4zm1,0h4.4l2.6,2.6v4.4l-2.6,2.6h-4.4l-2.6,-2.6v-4.4zm1,0h4.4l2.6,2.6v4.4l-2.6,2.6h-4.4l-2.6,-2.6v-4.4zm1,1h4.4l2.6,2.6v4.4l-2.6,2.6h-4.4l-2.6,-2.6v-4.4zm1,0h4.4l2.6,2.6v4.4l-2.6,2.6h-4.4l-2.6,-2.6v-4.4zm1,0h4.4l2.6,2.6v4.4l-2.6,2.6h-4.4l-2.6,-2.6v-4.4zm1,0h4.4l2.6,2.6v4.4l-2.6,2.6h-4.4l-2.6,-2.6v-4.4zm1,0h4.4l2.6,2.6v4.4l-2.6,2.6h-4.4l-2.6,-2.6v-4.4zm1,0h4.4l2.6,2.6v4.4l-2.6,2.6h-4.4l-2.6,-2.6v-4.4zm1,0h4.4l2.6,2.6v4.4l-2.6,2.6h-4.4l-2.6,-2.6v-4.4zm1,0h4.4l2.6,2.6v4.4l-2.6,2.6h-4.4l-2.6,-2.6v-4.4zm1,0h4.4l2.6,2.6v4.4l-2.6,2.6h-4.4l-2.6,-2.6v-4.4zm1,0h4.4l2.6,2.6v4.4l-2.6,2.6h-4.4l-2.6,-2.6v-4.4zm1,0h4.4l2.6,2.6v4.4l-2.6,2.6h-4.4l-2.6,-2.6v-4.4zm1,0h4.4l2.6,2.6v4.4l-2.6,2.6h-4.4l-2.6,-2.6v-4.4zm1,0h4.4l2.6,2.6v4.4l-2.6,2.6h-4.4l-2.6,-2.6v-4.4zm1,1h4.4l2.6,2.6v4.4l-2.6,2.6h-4.4l-2.6,-2.6v-4.4zm1,0h4.4l2.6,2.6v4.4l-2.6,2.6h-4.4l-2.6,-2.6v-4.4zm1,0h4.4l2.6,2.6v4.4l-2.6,2.6h-4.4l-2.6,-2.6v-4.4zm1,0h4.4l2.6,2.6v4.4l-2.6,2.6h-4.4l-2.6,-2.6v-4.4zm1,0h4.4l2.6,2.6v4.4l-2.6,2.6h-4.4l-2.6,-2.6v-4.4zm1,0h4.4l2.6,2.6v4.4l-2.6,2.6h-4.4l-2.6,-2.6v-4.4zm1,0h4.4l2.6,2.6v4.4l-2.6,2.6h-4.4l-2.6,-2.6v-4.4zm1,0h4.4l2.6,2.6v4.4l-2.6,2.6h-4.4l-2.6,-2.6v-4.4zm1,0h4.4l2.6,2.6v4.4l-2.6,2.6h-4.4l-2.6,-2.6v-4.4zm1,0h4.4l2.6,2.6v4.4l-2.6,2.6h-4.4l-2.6,-2.6v-4.4zm1,0h4.4l2.6,2.6v4.4l-2.6,2.6h-4.4l-2.6,-2.6v-4.4zm1,0h4.4l2.6,2.6v4.4l-2.6,2.6h-4.4l-2.6,-2.6v-4.4zm1,0h4.4l2.6,2.6v4.4l-2.6,2.6h-4.4l-2.6,-2.6v-4.4zm1,0h4.4l2.6,2.6v4.4l-2.6,2.6h-4.4l-2.6,-2.6v-4.4zm1,1h4.4l2.6,2.6v4.4l-2.6,2.6h-4.4l-2.6,-2.6v-4.4zm1,0h4.4l2.6,2.6v4.4l-2.6,2.6h-4.4l-2.6,-2.6v-4.4zm1,0h4.4l2.6,2.6v4.4l-2.6,2.6h-4.4l-2.6,-2.6v-4.4zm1,0h4.4l2.6,2.6v4.4l-2.6,2.6h-4.4l-2.6,-2.6v-4.4zm1,0h4.4l2.6,2.6v4.4l-2.6,2.6h-4.4l-2.6,-2.6v-4.4zm1,0h4.4l2.6,2.6v4.4l-2.6,2.6h-4.4l-2.6,-2.6v-4.4zm1,0h4.4l2.6,2.6v4.4l-2.6,2.6h-4.4l-2.6,-2.6v-4.4zm1,0h4.4l2.6,2.6v4.4l-2.6,2.6h-4.4l-2.6,-2.6v-4.4zm1,0h4.4l2.6,2.6v4.4l-2.6,2.6h-4.4l-2.6,-2.6v-4.4zm1,0h4.4l2.6,2.6v4.4l-2.6,2.6h-4.4l-2.6,-2.6v-4.4zm1,0h4.4l2.6,2.6v4.4l-2.6,2.6h-4.4l-2.6,-2.6v-4.4zm1,0h4.4l2.6,2.6v4.4l-2.6,2.6h-4.4l-2.6,-2.6v-4.4zm1,0h4.4l2.6,2.6v4.4l-2.6,2.6h-4.4l-2.6,-2.6v-4.4zm1,0h4.4l2.6,2.6v4.4l-2.6,2.6h-4.4l-2.6,-2.6v-4.4zm1,1h4.4l2.6,2.6v4.4l-2.6,2.6h-4.4l-2.6,-2.6v-4.4zm1,0h4.4l2.6,2.6v4.4l-2.6,2.6h-4.4l-2.6,-2.6v-4.4zm1,0h4.4l2.6,2.6v4.4l-2.6,2.6h-4.4l-2.6,-2.6v-4.4zm1,0h4.4l2.6,2.6v4.4l-2.6,2.6h-4.4l-2.6,-2.6v-4.4zm1,0h4.4l2.6,2.6v4.4l-2.6,2.6h-4.4l-2.6,-2.6v-4.4zm1,0h4.4l2.6,2.6v4.4l-2.6,2.6h-4.4l-2.6,-2.6v-4.4zm1,0h4.4l2.6,2.6v4.4l-2.6,2.6h-4.4l-2.6,-2.6v-4.4zm1,0h4.4l2.6,2.6v4.4l-2.6,2.6h-4.4l-2.6,-2.6v-4.4zm1,0h4.4l2.6,2.6v4.4l-2.6,2.6h-4.4l-2.6,-2.6v-4.4zm1,0h4.4l2.6,2.6v4.4l-2.6,2.6h-4.4l-2.6,-2.6v-4.4zm1,0h4.4l2.6,2.6v4.4l-2.6,2.6h-4.4l-2.6,-2.6v-4.4zm1,0h4.4l2.6,2.6v4.4l-2.6,2.6h-4.4l-2.6,-2.6v-4.4zm1,0h4.4l2.6,2.6v4.4l-2.6,2.6h-4.4l-2.6,-2.6v-4.4zm1,0h4.4l2.6,2.6v4.4l-2.6,2.6h-4.4l-2.6,-2.6v-4.4zm1,1h4.4l2.6,2.6v4.4l-2.6,2.6h-4.4l-2.6,-2.6v-4.4zm1,0h4.4l2.6,2.6v4.4l-2.6,2.6h-4.4l-2.6,-2.6v-4.4zm1,0h4.4l2.6,2.6v4.4l-2.6,2.6h-4.4l-2.6,-2.6v-4.4zm1,0h4.4l2.6,2.6v4.4l-2.6,2.6h-4.4l-2.6,-2.6v-4.4zm1,0h4.4l2.6,2.6v4.4l-2.6,2.6h-4.4l-2.6,-2.6v-4.4zm1,0h4.4l2.6,2.6v4.4l-2.6,2.6h-4.4l-2.6,-2.6v-4.4zm1,0h4.4l2.6,2.6v4.4l-2.6,2.6h-4.4l-2.6,-2.6v-4.4zm1,0h4.4l2.6,2.6v4.4l-2.6,2.6h-4.4l-2.6,-2.6v-4.4zm1,0h4.4l2.6,2.6v4.4l-2.6,2.6h-4.4l-2.6,-2.6v-4.4zm1,0h4.4l2.6,2.6v4.4l-2.6,2.6h-4.4l-2.6,-2.6v-4.4zm1,0h4.4l2.6,2.6v4.4l-2.6,2.6h-4.4l-2.6,-2.6v-4.4zm1,0h4.4l2.6,2.6v4.4l-2.6,2.6h-4.4l-2.6,-2.6v-4.4zm1,0h4.4l2.6,2.6v4.4l-2.6,2.6h-4.4l-2.6,-2.6v-4.4zm1,0h4.4l2.6,2.6v4.4l-2.6,2.6h-4.4l-2.6,-2.6v-4.4zm1,0h4.4l2.6,2.6v4.4l-2.6,2.6h-4.4l-2.6,-2.6v-4.4zm1,0h4.4l2.6,2.6v4.4l-2.6,2.6h-4.4l-2.6,-2.6v-4.4zm1,1h4.4l2.6,2.6v4.4l-2.6,2.6h-4.4l-2.6,-2.6v-4.4zm1,0h4.4l2.6,2.6v4.4l-2.6,2.6h-4.4l-2.6,-2.6v-4.4zm1,0h4.4l2.6,2.6v4.4l-2.6,2.6h-4.4l-2.6,-2.6v-4.4zm1,0h4.4l2.6,2.6v4.4l-2.6,2.6h-4.4l-2.6,-2.6v-4.4zm1,0h4.4l2.6,2.6v4.4l-2.6,2.6h-4.4l-2.6,-2.6v-4.4zm1,0h4.4l2.6,2.6v4.4l-2.6,2.6h-4.4l-2.6,-2.6v-4.4zm1,0h4.4l2.6,2.6v4.4l-2.6,2.6h-4.4l-2.6,-2.6v-4.4zm1,0h4.4l2.6,2.6v4.4l-2.6,2.6h-4.4l-2.6,-2.6v-4.4zm1,0h4.4l2.6,2.6v4.4l-2.6,2.6h-4.4l-2.6,-2.6v-4.4zm1,0h4.4l2.6,2.6v4.4l-2.6,2.6h-4.4l-2.6,-2.6v-4.4zm1,0h4.4l2.6,2.6v4.4l-2.6,2.6h-4.4l-2.6,-2.6v-4.4zm1,0h4.4l2.6,2.6v4.4l-2.6,2.6h-4.4l-2.6,-2.6v-4.4zm1,0h4.4l2.6,2.6v4.4l-2.6,2.6h-4.4l-2.6,-2.6v-4.4zm1,0h4.4l2.6,2.6v4.4l-2.6,2.6h-4.4l-2.6,-2.6v-4.4zm1,0h4.4l2.6,2.6v4.4l-2.6,2.6h-4.4l-2.6,-2.6v-4.4zm1,1h4.4l2.6,2.6v4.4l-2.6,2.6h-4.4l-2.6,-2.6v-4.4zm1,0h4.4l2.6,2.6v4.4l-2.6,2.6h-4.4l-2.6,-2.6v-4.4zm1,0h4.4l2.6,2.6v4.4l-2.6,2.6h-4.4l-2.6,-2.6v-4.4zm1,0h4.4l2.6,2.6v4.4l-2.6,2.6h-4.4l-2.6,-2.6v-4.4zm1,0h4.4l2.6,2.6v4.4l-2.6,2.6h-4.4l-2.6,-2.6v-4.4zm1,0h4.4l2.6,2.6v4.4l-2.6,2.6h-4.4l-2.6,-2.6v-4.4zm1,0h4.4l2.6,2.6v4.4l-2.6,2.6h-4.4l-2.6,-2.6v-4.4zm1,0h4.4l2.6,2.6v4.4l-2.6,2.6h-4.4l-2.6,-2.6v-4.4zm1,0h4.4l2.6,2.6v4.4l-2.6,2.6h-4.4l-2.6,-2.6v-4.4zm1,0h4.4l2.6,2.6v4.4l-2.6,2.6h-4.4l-2.6,-2.6v-4.4zm1,0h4.4l2.6,2.6v4.4l-2.6,2.6h-4.4l-2.6,-2.6v-4.4zm1,0h4.4l2.6,2.6v4.4l-2.6,2.6h-4.4l-2.6,-2.6v-4.4zm1,0h4.4l2.6,2.6v4.4l-2.6,2.6h-4.4l-2.6,-2.6v-4.4zm1,0h4.4l2.6,2.6v4.4l-2.6,2.6h-4.4l-2.6,-2.6v-4.4zm1,0h4.4l2.6,2.6v4.4l-2.6,2.6h-4.4l-2.6,-2.6v-4.4zm1,0h4.4l2.6,2.6v4.4l-2.6,2.6h-4.4l-2.6,-2.6v-4.4zm1,0h4.4l2.6,2.6v4.4l-2.6,2.6h-4.4l-2.6,-2.6v-4.4zm1,1h4.4l2.6,2.6v4.4l-2.6,2.6h-4.4l-2.6,-2.6v-4.4zm1,0h4.4l2.6,2.6v4.4l-2.6,2.6h-4.4l-2.6,-2.6v-4.4zm1,0h4.4l2.6,2.6v4.4l-2.6,2.6h-4.4l-2.6,-2.6v-4.4zm1,0h4.4l2.6,2.6v4.4l-2.6,2.6h-4.4l-2.6,-2.6v-4.4zm1,0h4.4l2.6,2.6v4.4l-2.6,2.6h-4.4l-2.6,-2.6v-4.4zm1,0h4.4l2.6,2.6v4.4l-2.6,2.6h-4.4l-2.6,-2.6v-4.4zm1,0h4.4l2.6,2.6v4.4l-2.6,2.6h-4.4l-2.6,-2.6v-4.4zm1,0h4.4l2.6,2.6v4.4l-2.6,2.6h-4.4l-2.6,-2.6v-4.4zm1,0h4.4l2.6,2.6v4.4l-2.6,2.6h-4.4l-2.6,-2.6v-4.4zm1,0h4.4l2.6,2.6v4.4l-2.6,2.6h-4.4l-2.6,-2.6v-4.4zm1,0h4.4l2.6,2.6v4.4l-2.6,2.6h-4.4l-2.6,-2.6v-4.4zm1,0h4.4l2.6,2.6v4.4l-2.6,2.6h-4.4l-2.6,-2.6v-4.4zm1,0h4.4l2.6,2.6v4.4l-2.6,2.6h-4.4l-2.6,-2.6v-4.4zm1,0h4.4l2.6,2.6v4.4l-2.6,2.6h-4.4l-2.6,-2.6v-4.4zm1,0h4.4l2.6,2.6v4.4l-2.6,2.6h-4.4l-2.6,-2.6v-4.4zm1,0h4.4l2.6,2.6v4.4l-2.6,2.6h-4.4l-2.6,-2.6v-4.4zm1,0h4.4l2.6,2.6v4.4l-2.6,2.6h-4.4l-2.6,-2.6v-4.4zm1,1h4.4l2.6,2.6v4.4l-2.6,2.6h-4.4l-2.6,-2.6v-4.4zm1,0h4.4l2.6,2.6v4.4l-2.6,2.6h-4.4l-2.6,-2.6v-4.4zm1,0h4.4l2.6,2.6v4.4l-2.6,2.6h-4.4l-2.6,-2.6v-4.4zm1,0h4.4l2.6,2.6v4.4l-2.6,2.6h-4.4l-2.6,-2.6v-4.4zm1,0h4.4l2.6,2.6v4.4l-2.6,2.6h-4.4l-2.6,-2.6v-4.4zm1,0h4.4l2.6,2.6v4.4l-2.6,2.6h-4.4l-2.6,-2.6v-4.4zm1,0h4.4l2.6,2.6v4.4l-2.6,2.6h-4.4l-2.6,-2.6v-4.4zm1,0h4.4l2.6,2.6v4.4l-2.6,2.6h-4.4l-2.6,-2.6v-4.4zm1,0h4.4l2.6,2.6v4.4l-2.6,2.6h-4.4l-2.6,-2.6v-4.4zm1,0h4.4l2.6,2.6v4.4l-2.6,2.6h-4.4l-2.6,-2.6v-4.4zm1,0h4.4l2.6,2.6v4.4l-2.6,2.6h-4.4l-2.6,-2.6v-4.4zm1,0h4.4l2.6,2.6v4.4l-2.6,2.6h-4.4l-2.6,-2.6v-4.4zm1,0h4.4l2.6,2.6v4.4l-2.6,2.6h-4.4l-2.6,-2.6v-4.4zm1,0h4.4l2.6,2.6v4.4l-2.6,2.6h-4.4l-2.6,-2.6v-4.4zm1,0h4.4l2.6,2.6v4.4l-2.6,2.6h-4.4l-2.6,-2.6v-4.4zm1,0h4.4l2.6,2.6v4.4l-2.6,2.6h-4.4l-2.6,-2.6v-4.4zm1,0h4.4l2.6,2.6v4.4l-2.6,2.6h-4.4l-2.6,-2.6v-4.4zm1,0h4.4l2.6,2.6v4.4l-2.6,2.6h-4.4l-2.6,-2.6v-4.4zm1,0h4.4l2.6,2.6v4.4l-2.6,2.6h-4.4l-2.6,-2.6v-4.4zm1,1h4.4l2.6,2.6v4.4l-2.6,2.6h-4.4l-2.6,-2.6v-4.4zm1,0h4.4l2.6,2.6v4.4l-2.6,2.6h-4.4l-2.6,-2.6v-4.4zm1,0h4.4l2.6,2.6v4.4l-2.6,2.6h-4.4l-2.6,-2.6v-4.4zm1,0h4.4l2.6,2.6v4.4l-2.6,2.6h-4.4l-2.6,-2.6v-4.4zm1,0h4.4l2.6,2.6v4.4l-2.6,2.6h-4.4l-2.6,-2.6v-4.4zm1,0h4.4l2.6,2.6v4.4l-2.6,2.6h-4.4l-2.6,-2.6v-4.4zm1,0h4.4l2.6,2.6v4.4l-2.6,2.6h-4.4l-2.6,-2.6v-4.4zm1,0h4.4l2.6,2.6v4.4l-2.6,2.6h-4.4l-2.6,-2.6v-4.4zm1,0h4.4l2.6,2.6v4.4l-2.6,2.6h-4.4l-2.6,-2.6v-4.4zm1,0h4.4l2.6,2.6v4.4l-2.6,2.6h-4.4l-2.6,-2.6v-4.4zm1,0h4.4l2.6,2.6v4.4l-2.6,2.6h-4.4l-2.6,-2.6v-4.4zm1,0h4.4l2.6,2.6v4.4l-2.6,2.6h-4.4l-2.6,-2.6v-4.4zm1,0h4.4l2.6,2.6v4.4l-2.6,2.6h-4.4l-2.6,-2.6v-4.4zm1,0h4.4l2.6,2.6v4.4l-2.6,2.6h-4.4l-2.6,-2.6v-4.4zm1,0h4.4l2.6,2.6v4.4l-2.6,2.6h-4.4l-2.6,-2.6v-4.4zm1,0h4.4l2.6,2.6v4.4l-2.6,2.6h-4.4l-2.6,-2.6v-4.4zm1,0h4.4l2.6,2.6v4.4l-2.6,2.6h-4.4l-2.6,-2.6v-4.4zm1,0h4.4l2.6,2.6v4.4l-2.6,2.6h-4.4l-2.6,-2.6v-4.4zm1,0h4.4l2.6,2.6v4.4l-2.6,2.6h-4.4l-2.6,-2.6v-4.4zm1,0h4.4l2.6,2.6v4.4l-2.6,2.6h-4.4l-2.6,-2.6v-4.4zm1,1h4.4l2.6,2.6v4.4l-2.6,2.6h-4.4l-2.6,-2.6v-4.4zm1,0h4.4l2.6,2.6v4.4l-2.6,2.6h-4.4l-2.6,-2.6v-4.4zm1,0h4.4l2.6,2.6v4.4l-2.6,2.6h-4.4l-2.6,-2.6v-4.4zm1,0h4.4l2.6,2.6v4.4l-2.6,2.6h-4.4l-2.6,-2.6v-4.4zm1,0h4.4l2.6,2.6v4.4l-2.6,2.6h-4.4l-2.6,-2.6v-4.4zm1,0h4.4l2.6,2.6v4.4l-2.6,2.6h-4.4l-2.6,-2.6v-4.4zm1,0h4.4l2.6,2.6v4.4l-2.6,2.6h-4.4l-2.6,-2.6v-4.4zm1,0h4.4l2.6,2.6v4.4l-2.6,2.6h-4.4l-2.6,-2.6v-4.4zm1,0h4.4l2.6,2.6v4.4l-2.6,2.6h-4.4l-2.6,-2.6v-4.4zm1,0h4.4l2.6,2.6v4.4l-2.6,2.6h-4.4l-2.6,-2.6v-4.4zm1,0h4.4l2.6,2.6v4.4l-2.6,2.6h-4.4l-2.6,-2.6v-4.4zm1,0h4.4l2.6,2.6v4.4l-2.6,2.6h-4.4l-2.6,-2.6v-4.4zm1,0h4.4l2.6,2.6v4.4l-2.6,2.6h-4.4l-2.6,-2.6v-4.4zm1,0h4.4l2.6,2.6v4.4l-2.6,2.6h-4.4l-2.6,-2.6v-4.4zm1,0h4.4l2.6,2.6v4.4l-2.6,2.6h-4.4l-2.6,-2.6v-4.4zm1,0h4.4l2.6,2.6v4.4l-2.6,2.6h-4.4l-2.6,-2.6v-4.4zm1,0h4.4l2.6,2.6v4.4l-2.6,2.6h-4.4l-2.6,-2.6v-4.4zm1,0h4.4l2.6,2.6v4.4l-2.6,2.6h-4.4l-2.6,-2.6v-4.4zm1,0h4.4l2.6,2.6v4.4l-2.6,2.6h-4.4l-2.6,-2.6v-4.4zm1,0h4.4l2.6,2.6v4.4l-2.6,2.6h-4.4l-2.6,-2.6v-4.4zm1,0h4.4l2.6,2.6v4.4l-2.6,2.6h-4.4l-2.6,-2.6v-4.4zm1,0h4.4l2.6,2.6v4.4l-2.6,2.6h-4.4l-2.6,-2.6v-4.4zm1,1h4.4l2.6,2.6v4.4l-2.6,2.6h-4.4l-2.6,-2.6v-4.4zm1,0h4.4l2.6,2.6v4.4l-2.6,2.6h-4.4l-2.6,-2.6v-4.4zm1,0h4.4l2.6,2.6v4.4l-2.6,2.6h-4.4l-2.6,-2.6v-4.4zm1,0h4.4l2.6,2.6v4.4l-2.6,2.6h-4.4l-2.6,-2.6v-4.4zm1,0h4.4l2.6,2.6v4.4l-2.6,2.6h-4.4l-2.6,-2.6v-4.4zm1,0h4.4l2.6,2.6v4.4l-2.6,2.6h-4.4l-2.6,-2.6v-4.4zm1,0h4.4l2.6,2.6v4.4l-2.6,2.6h-4.4l-2.6,-2.6v-4.4zm1,0h4.4l2.6,2.6v4.4l-2.6,2.6h-4.4l-2.6,-2.6v-4.4zm1,0h4.4l2.6,2.6v4.4l-2.6,2.6h-4.4l-2.6,-2.6v-4.4zm1,0h4.4l2.6,2.6v4.4l-2.6,2.6h-4.4l-2.6,-2.6v-4.4zm1,0h4.4l2.6,2.6v4.4l-2.6,2.6h-4.4l-2.6,-2.6v-4.4zm1,0h4.4l2.6,2.6v4.4l-2.6,2.6h-4.4l-2.6,-2.6v-4.4zm1,0h4.4l2.6,2.6v4.4l-2.6,2.6h-4.4l-2.6,-2.6v-4.4zm1,0h4.4l2.6,2.6v4.4l-2.6,2.6h-4.4l-2.6,-2.6v-4.4zm1,0h4.4l2.6,2.6v4.4l-2.6,2.6h-4.4l-2.6,-2.6v-4.4zm1,0h4.4l2.6,2.6v4.4l-2.6,2.6h-4.4l-2.6,-2.6v-4.4zm1,0h4.4l2.6,2.6v4.4l-2.6,2.6h-4.4l-2.6,-2.6v-4.4zm1,0h4.4l2.6,2.6v4.4l-2.6,2.6h-4.4l-2.6,-2.6v-4.4zm1,0h4.4l2.6,2.6v4.4l-2.6,2.6h-4.4l-2.6,-2.6v-4.4zm1,0h4.4l2.6,2.6v4.4l-2.6,2.6h-4.4l-2.6,-2.6v-4.4zm1,0h4.4l2.6,2.6v4.4l-2.6,2.6h-4.4l-2.6,-2.6v-4.4zm1,0h4.4l2.6,2.6v4.4l-2.6,2.6h-4.4l-2.6,-2.6v-4.4zm1,0h4.4l2.6,2.6v4.4l-2.6,2.6h-4.4l-2.6,-2.6v-4.4zm1,0h4.4l2.6,2.6v4.4l-2.6,2.6h-4.4l-2.6,-2.6v-4.4zm1,1h4.4l2.6,2.6v4.4l-2.6,2.6h-4.4l-2.6,-2.6v-4.4zm1,0h4.4l2.6,2.6v4.4l-2.6,2.6h-4.4l-2.6,-2.6v-4.4zm1,0h4.4l2.6,2.6v4.4l-2.6,2.6h-4.4l-2.6,-2.6v-4.4zm1,0h4.4l2.6,2.6v4.4l-2.6,2.6h-4.4l-2.6,-2.6v-4.4zm1,0h4.4l2.6,2.6v4.4l-2.6,2.6h-4.4l-2.6,-2.6v-4.4zm1,0h4.4l2.6,2.6v4.4l-2.6,2.6h-4.4l-2.6,-2.6v-4.4zm1,0h4.4l2.6,2.6v4.4l-2.6,2.6h-4.4l-2.6,-2.6v-4.4zm1,0h4.4l2.6,2.6v4.4l-2.6,2.6h-4.4l-2.6,-2.6v-4.4zm1,0h4.4l2.6,2.6v4.4l-2.6,2.6h-4.4l-2.6,-2.6v-4.4zm1,0h4.4l2.6,2.6v4.4l-2.6,2.6h-4.4l-2.6,-2.6v-4.4zm1,0h4.4l2.6,2.6v4.4l-2.6,2.6h-4.4l-2.6,-2.6v-4.4zm1,0h4.4l2.6,2.6v4.4l-2.6,2.6h-4.4l-2.6,-2.6v-4.4zm1,0h4.4l2.6,2.6v4.4l-2.6,2.6h-4.4l-2.6,-2.6v-4.4zm1,0h4.4l2.6,2.6v4.4l-2.6,2.6h-4.4l-2.6,-2.6v-4.4zm1,0h4.4l2.6,2.6v4.4l-2.6,2.6h-4.4l-2.6,-2.6v-4.4zm1,0h4.4l2.6,2.6v4.4l-2.6,2.6h-4.4l-2.6,-2.6v-4.4zm1,0h4.4l2.6,2.6v4.4l-2.6,2.6h-4.4l-2.6,-2.6v-4.4zm1,0h4.4l2.6,2.6v4.4l-2.6,2.6h-4.4l-2.6,-2.6v-4.4zm1,0h4.4l2.6,2.6v4.4l-2.6,2.6h-4.4l-2.6,-2.6v-4.4zm1,0h4.4l2.6,2.6v4.4l-2.6,2.6h-4.4l-2.6,-2.6v-4.4zm1,0h4.4l2.6,2.6v4.4l-2.6,2.6h-4.4l-2.6,-2.6v-4.4zm1,0h4.4l2.6,2.6v4.4l-2.6,2.6h-4.4l-2.6,-2.6v-4.4zm1,0h4.4l2.6,2.6v4.4l-2.6,2.6h-4.4l-2.6,-2.6v-4.4zm1,0h4.4l2.6,2.6v4.4l-2.6,2.6h-4.4l-2.6,-2.6v-4.4zm1,0h4.4l2.6,2.6v4.4l-2.6,2.6h-4.4l-2.6,-2.6v-4.4zm1,0h4.4l2.6,2.6v4.4l-2.6,2.6h-4.4l-2.6,-2.6v-4.4zm1,0h4.4l2.6,2.6v4.4l-2.6,2.6h-4.4l-2.6,-2.6v-4.4zm1,0h4.4l2.6,2.6v4.4l-2.6,2.6h-4.4l-2.6,-2.6v-4.4zm1,1h4.4l2.6,2.6v4.4l-2.6,2.6h-4.4l-2.6,-2.6v-4.4zm1,0h4.4l2.6,2.6v4.4l-2.6,2.6h-4.4l-2.6,-2.6v-4.4zm1,0h4.4l2.6,2.6v4.4l-2.6,2.6h-4.4l-2.6,-2.6v-4.4zm1,0h4.4l2.6,2.6v4.4l-2.6,2.6h-4.4l-2.6,-2.6v-4.4zm1,0h4.4l2.6,2.6v4.4l-2.6,2.6h-4.4l-2.6,-2.6v-4.4zm1,0h4.4l2.6,2.6v4.4l-2.6,2.6h-4.4l-2.6,-2.6v-4.4zm1,0h4.4l2.6,2.6v4.4l-2.6,2.6h-4.4l-2.6,-2.6v-4.4zm1,0h4.4l2.6,2.6v4.4l-2.6,2.6h-4.4l-2.6,-2.6v-4.4zm1,0h4.4l2.6,2.6v4.4l-2.6,2.6h-4.4l-2.6,-2.6v-4.4zm1,0h4.4l2.6,2.6v4.4l-2.6,2.6h-4.4l-2.6,-2.6v-4.4zm1,0h4.4l2.6,2.6v4.4l-2.6,2.6h-4.4l-2.6,-2.6v-4.4zm1,0h4.4l2.6,2.6v4.4l-2.6,2.6h-4.4l-2.6,-2.6v-4.4zm1,0h4.4l2.6,2.6v4.4l-2.6,2.6h-4.4l-2.6,-2.6v-4.4zm1,0h4.4l2.6,2.6v4.4l-2.6,2.6h-4.4l-2.6,-2.6v-4.4zm-3,-1h4.4l2.6,2.6v4.4l-2.6,2.6h-4.4l-2.6,-2.6v-4.4zm1,-1h4.4l2.6,2.6v4.4l-2.6,2.6h-4.4l-2.6,-2.6v-4.4zm1,0h4.4l2.6,2.6v4.4l-2.6,2.6h-4.4l-2.6,-2.6v-4.4zm1,-1h4.4l2.6,2.6v4.4l-2.6,2.6h-4.4l-2.6,-2.6v-4.4zm1,0h4.4l2.6,2.6v4.4l-2.6,2.6h-4.4l-2.6,-2.6v-4.4zm1,-1h4.4l2.6,2.6v4.4l-2.6,2.6h-4.4l-2.6,-2.6v-4.4zm1,0h4.4l2.6,2.6v4.4l-2.6,2.6h-4.4l-2.6,-2.6v-4.4zm1,0h4.4l2.6,2.6v4.4l-2.6,2.6h-4.4l-2.6,-2.6v-4.4zm1,-1h4.4l2.6,2.6v4.4l-2.6,2.6h-4.4l-2.6,-2.6v-4.4zm1,0h4.4l2.6,2.6v4.4l-2.6,2.6h-4.4l-2.6,-2.6v-4.4zm1,-1h4.4l2.6,2.6v4.4l-2.6,2.6h-4.4l-2.6,-2.6v-4.4zm1,0h4.4l2.6,2.6v4.4l-2.6,2.6h-4.4l-2.6,-2.6v-4.4zm1,-1h4.4l2.6,2.6v4.4l-2.6,2.6h-4.4l-2.6,-2.6v-4.4zm1,0h4.4l2.6,2.6v4.4l-2.6,2.6h-4.4l-2.6,-2.6v-4.4zm1,-1h4.4l2.6,2.6v4.4l-2.6,2.6h-4.4l-2.6,-2.6v-4.4zm1,0h4.4l2.6,2.6v4.4l-2.6,2.6h-4.4l-2.6,-2.6v-4.4zm1,-1h4.4l2.6,2.6v4.4l-2.6,2.6h-4.4l-2.6,-2.6v-4.4zm1,0h4.4l2.6,2.6v4.4l-2.6,2.6h-4.4l-2.6,-2.6v-4.4zm1,-1h4.4l2.6,2.6v4.4l-2.6,2.6h-4.4l-2.6,-2.6v-4.4zm1,0h4.4l2.6,2.6v4.4l-2.6,2.6h-4.4l-2.6,-2.6v-4.4zm1,-1h4.4l2.6,2.6v4.4l-2.6,2.6h-4.4l-2.6,-2.6v-4.4zm1,0h4.4l2.6,2.6v4.4l-2.6,2.6h-4.4l-2.6,-2.6v-4.4zm1,-1h4.4l2.6,2.6v4.4l-2.6,2.6h-4.4l-2.6,-2.6v-4.4zm1,0h4.4l2.6,2.6v4.4l-2.6,2.6h-4.4l-2.6,-2.6v-4.4zm1,-1h4.4l2.6,2.6v4.4l-2.6,2.6h-4.4l-2.6,-2.6v-4.4zm1,0h4.4l2.6,2.6v4.4l-2.6,2.6h-4.4l-2.6,-2.6v-4.4zm1,-1h4.4l2.6,2.6v4.4l-2.6,2.6h-4.4l-2.6,-2.6v-4.4zm1,0h4.4l2.6,2.6v4.4l-2.6,2.6h-4.4l-2.6,-2.6v-4.4zm1,-1h4.4l2.6,2.6v4.4l-2.6,2.6h-4.4l-2.6,-2.6v-4.4zm1,0h4.4l2.6,2.6v4.4l-2.6,2.6h-4.4l-2.6,-2.6v-4.4zm1,-1h4.4l2.6,2.6v4.4l-2.6,2.6h-4.4l-2.6,-2.6v-4.4zm1,0h4.4l2.6,2.6v4.4l-2.6,2.6h-4.4l-2.6,-2.6v-4.4zm1,-1h4.4l2.6,2.6v4.4l-2.6,2.6h-4.4l-2.6,-2.6v-4.4zm1,0h4.4l2.6,2.6v4.4l-2.6,2.6h-4.4l-2.6,-2.6v-4.4zm1,-1h4.4l2.6,2.6v4.4l-2.6,2.6h-4.4l-2.6,-2.6v-4.4zm1,0h4.4l2.6,2.6v4.4l-2.6,2.6h-4.4l-2.6,-2.6v-4.4zm1,-1h4.4l2.6,2.6v4.4l-2.6,2.6h-4.4l-2.6,-2.6v-4.4zm1,0h4.4l2.6,2.6v4.4l-2.6,2.6h-4.4l-2.6,-2.6v-4.4zm1,-1h4.4l2.6,2.6v4.4l-2.6,2.6h-4.4l-2.6,-2.6v-4.4zm1,0h4.4l2.6,2.6v4.4l-2.6,2.6h-4.4l-2.6,-2.6v-4.4zm1,-1h4.4l2.6,2.6v4.4l-2.6,2.6h-4.4l-2.6,-2.6v-4.4zm1,0h4.4l2.6,2.6v4.4l-2.6,2.6h-4.4l-2.6,-2.6v-4.4zm1,-1h4.4l2.6,2.6v4.4l-2.6,2.6h-4.4l-2.6,-2.6v-4.4zm1,0h4.4l2.6,2.6v4.4l-2.6,2.6h-4.4l-2.6,-2.6v-4.4zm1,-1h4.4l2.6,2.6v4.4l-2.6,2.6h-4.4l-2.6,-2.6v-4.4zm1,-1h4.4l2.6,2.6v4.4l-2.6,2.6h-4.4l-2.6,-2.6v-4.4zm1,0h4.4l2.6,2.6v4.4l-2.6,2.6h-4.4l-2.6,-2.6v-4.4zm1,-1h4.4l2.6,2.6v4.4l-2.6,2.6h-4.4l-2.6,-2.6v-4.4zm1,0h4.4l2.6,2.6v4.4l-2.6,2.6h-4.4l-2.6,-2.6v-4.4zm1,-1h4.4l2.6,2.6v4.4l-2.6,2.6h-4.4l-2.6,-2.6v-4.4zm1,0h4.4l2.6,2.6v4.4l-2.6,2.6h-4.4l-2.6,-2.6v-4.4zm1,-1h4.4l2.6,2.6v4.4l-2.6,2.6h-4.4l-2.6,-2.6v-4.4zm1,0h4.4l2.6,2.6v4.4l-2.6,2.6h-4.4l-2.6,-2.6v-4.4zm1,-1h4.4l2.6,2.6v4.4l-2.6,2.6h-4.4l-2.6,-2.6v-4.4zm1,-1h4.4l2.6,2.6v4.4l-2.6,2.6h-4.4l-2.6,-2.6v-4.4zm1,0h4.4l2.6,2.6v4.4l-2.6,2.6h-4.4l-2.6,-2.6v-4.4zm1,-1h4.4l2.6,2.6v4.4l-2.6,2.6h-4.4l-2.6,-2.6v-4.4zm1,0h4.4l2.6,2.6v4.4l-2.6,2.6h-4.4l-2.6,-2.6v-4.4zm1,-1h4.4l2.6,2.6v4.4l-2.6,2.6h-4.4l-2.6,-2.6v-4.4zm1,-1h4.4l2.6,2.6v4.4l-2.6,2.6h-4.4l-2.6,-2.6v-4.4zm1,0h4.4l2.6,2.6v4.4l-2.6,2.6h-4.4l-2.6,-2.6v-4.4zm1,-1h4.4l2.6,2.6v4.4l-2.6,2.6h-4.4l-2.6,-2.6v-4.4zm1,0h4.4l2.6,2.6v4.4l-2.6,2.6h-4.4l-2.6,-2.6v-4.4zm1,-1h4.4l2.6,2.6v4.4l-2.6,2.6h-4.4l-2.6,-2.6v-4.4zm1,0h4.4l2.6,2.6v4.4l-2.6,2.6h-4.4l-2.6,-2.6v-4.4zm1,-1h4.4l2.6,2.6v4.4l-2.6,2.6h-4.4l-2.6,-2.6v-4.4zm1,-1h4.4l2.6,2.6v4.4l-2.6,2.6h-4.4l-2.6,-2.6v-4.4zm1,0h4.4l2.6,2.6v4.4l-2.6,2.6h-4.4l-2.6,-2.6v-4.4zm1,-1h4.4l2.6,2.6v4.4l-2.6,2.6h-4.4l-2.6,-2.6v-4.4zm1,0h4.4l2.6,2.6v4.4l-2.6,2.6h-4.4l-2.6,-2.6v-4.4zm1,-1h4.4l2.6,2.6v4.4l-2.6,2.6h-4.4l-2.6,-2.6v-4.4zm1,-1h4.4l2.6,2.6v4.4l-2.6,2.6h-4.4l-2.6,-2.6v-4.4zm1,0h4.4l2.6,2.6v4.4l-2.6,2.6h-4.4l-2.6,-2.6v-4.4zm1,-1h4.4l2.6,2.6v4.4l-2.6,2.6h-4.4l-2.6,-2.6v-4.4zm1,-1h4.4l2.6,2.6v4.4l-2.6,2.6h-4.4l-2.6,-2.6v-4.4zm1,0h4.4l2.6,2.6v4.4l-2.6,2.6h-4.4l-2.6,-2.6v-4.4zm1,-1h4.4l2.6,2.6v4.4l-2.6,2.6h-4.4l-2.6,-2.6v-4.4zm1,0h4.4l2.6,2.6v4.4l-2.6,2.6h-4.4l-2.6,-2.6v-4.4zm1,-1h4.4l2.6,2.6v4.4l-2.6,2.6h-4.4l-2.6,-2.6v-4.4zm1,-1h4.4l2.6,2.6v4.4l-2.6,2.6h-4.4l-2.6,-2.6v-4.4zm1,0h4.4l2.6,2.6v4.4l-2.6,2.6h-4.4l-2.6,-2.6v-4.4zm1,-1h4.4l2.6,2.6v4.4l-2.6,2.6h-4.4l-2.6,-2.6v-4.4zm1,-1h4.4l2.6,2.6v4.4l-2.6,2.6h-4.4l-2.6,-2.6v-4.4zm1,0h4.4l2.6,2.6v4.4l-2.6,2.6h-4.4l-2.6,-2.6v-4.4zm1,-1h4.4l2.6,2.6v4.4l-2.6,2.6h-4.4l-2.6,-2.6v-4.4zm1,-1h4.4l2.6,2.6v4.4l-2.6,2.6h-4.4l-2.6,-2.6v-4.4zm1,0h4.4l2.6,2.6v4.4l-2.6,2.6h-4.4l-2.6,-2.6v-4.4zm1,-1h4.4l2.6,2.6v4.4l-2.6,2.6h-4.4l-2.6,-2.6v-4.4zm1,0h4.4l2.6,2.6v4.4l-2.6,2.6h-4.4l-2.6,-2.6v-4.4zm1,-1h4.4l2.6,2.6v4.4l-2.6,2.6h-4.4l-2.6,-2.6v-4.4zm1,-1h4.4l2.6,2.6v4.4l-2.6,2.6h-4.4l-2.6,-2.6v-4.4zm1,0h4.4l2.6,2.6v4.4l-2.6,2.6h-4.4l-2.6,-2.6v-4.4zm1,-1h4.4l2.6,2.6v4.4l-2.6,2.6h-4.4l-2.6,-2.6v-4.4zm1,-1h4.4l2.6,2.6v4.4l-2.6,2.6h-4.4l-2.6,-2.6v-4.4zm1,0h4.4l2.6,2.6v4.4l-2.6,2.6h-4.4l-2.6,-2.6v-4.4zm1,-1h4.4l2.6,2.6v4.4l-2.6,2.6h-4.4l-2.6,-2.6v-4.4zm1,-1h4.4l2.6,2.6v4.4l-2.6,2.6h-4.4l-2.6,-2.6v-4.4zm1,0h4.4l2.6,2.6v4.4l-2.6,2.6h-4.4l-2.6,-2.6v-4.4zm1,-1h4.4l2.6,2.6v4.4l-2.6,2.6h-4.4l-2.6,-2.6v-4.4zm1,-1h4.4l2.6,2.6v4.4l-2.6,2.6h-4.4l-2.6,-2.6v-4.4zm1,0h4.4l2.6,2.6v4.4l-2.6,2.6h-4.4l-2.6,-2.6v-4.4zm1,-1h4.4l2.6,2.6v4.4l-2.6,2.6h-4.4l-2.6,-2.6v-4.4zm1,-1h4.4l2.6,2.6v4.4l-2.6,2.6h-4.4l-2.6,-2.6v-4.4zm1,-1h4.4l2.6,2.6v4.4l-2.6,2.6h-4.4l-2.6,-2.6v-4.4zm1,0h4.4l2.6,2.6v4.4l-2.6,2.6h-4.4l-2.6,-2.6v-4.4zm1,-1h4.4l2.6,2.6v4.4l-2.6,2.6h-4.4l-2.6,-2.6v-4.4zm1,-1h4.4l2.6,2.6v4.4l-2.6,2.6h-4.4l-2.6,-2.6v-4.4zm1,0h4.4l2.6,2.6v4.4l-2.6,2.6h-4.4l-2.6,-2.6v-4.4zm1,-1h4.4l2.6,2.6v4.4l-2.6,2.6h-4.4l-2.6,-2.6v-4.4zm1,-1h4.4l2.6,2.6v4.4l-2.6,2.6h-4.4l-2.6,-2.6v-4.4zm1,0h4.4l2.6,2.6v4.4l-2.6,2.6h-4.4l-2.6,-2.6v-4.4zm1,-1h4.4l2.6,2.6v4.4l-2.6,2.6h-4.4l-2.6,-2.6v-4.4zm1,-1h4.4l2.6,2.6v4.4l-2.6,2.6h-4.4l-2.6,-2.6v-4.4zm1,0h4.4l2.6,2.6v4.4l-2.6,2.6h-4.4l-2.6,-2.6v-4.4zm1,-1h4.4l2.6,2.6v4.4l-2.6,2.6h-4.4l-2.6,-2.6v-4.4zm1,-1h4.4l2.6,2.6v4.4l-2.6,2.6h-4.4l-2.6,-2.6v-4.4zm1,-1h4.4l2.6,2.6v4.4l-2.6,2.6h-4.4l-2.6,-2.6v-4.4zm1,0h4.4l2.6,2.6v4.4l-2.6,2.6h-4.4l-2.6,-2.6v-4.4zm1,-1h4.4l2.6,2.6v4.4l-2.6,2.6h-4.4l-2.6,-2.6v-4.4zm1,-1h4.4l2.6,2.6v4.4l-2.6,2.6h-4.4l-2.6,-2.6v-4.4zm1,0h4.4l2.6,2.6v4.4l-2.6,2.6h-4.4l-2.6,-2.6v-4.4zm1,-1h4.4l2.6,2.6v4.4l-2.6,2.6h-4.4l-2.6,-2.6v-4.4zm1,-1h4.4l2.6,2.6v4.4l-2.6,2.6h-4.4l-2.6,-2.6v-4.4zm1,-1h4.4l2.6,2.6v4.4l-2.6,2.6h-4.4l-2.6,-2.6v-4.4zm1,0h4.4l2.6,2.6v4.4l-2.6,2.6h-4.4l-2.6,-2.6v-4.4zm1,-1h4.4l2.6,2.6v4.4l-2.6,2.6h-4.4l-2.6,-2.6v-4.4zm1,-1h4.4l2.6,2.6v4.4l-2.6,2.6h-4.4l-2.6,-2.6v-4.4zm1,-1h4.4l2.6,2.6v4.4l-2.6,2.6h-4.4l-2.6,-2.6v-4.4zm1,0h4.4l2.6,2.6v4.4l-2.6,2.6h-4.4l-2.6,-2.6v-4.4zm1,-1h4.4l2.6,2.6v4.4l-2.6,2.6h-4.4l-2.6,-2.6v-4.4zm1,-1h4.4l2.6,2.6v4.4l-2.6,2.6h-4.4l-2.6,-2.6v-4.4zm1,0h4.4l2.6,2.6v4.4l-2.6,2.6h-4.4l-2.6,-2.6v-4.4zm1,-1h4.4l2.6,2.6v4.4l-2.6,2.6h-4.4l-2.6,-2.6v-4.4zm1,-1h4.4l2.6,2.6v4.4l-2.6,2.6h-4.4l-2.6,-2.6v-4.4zm1,-1h4.4l2.6,2.6v4.4l-2.6,2.6h-4.4l-2.6,-2.6v-4.4zm1,0h4.4l2.6,2.6v4.4l-2.6,2.6h-4.4l-2.6,-2.6v-4.4zm1,-1h4.4l2.6,2.6v4.4l-2.6,2.6h-4.4l-2.6,-2.6v-4.4zm1,-1h4.4l2.6,2.6v4.4l-2.6,2.6h-4.4l-2.6,-2.6v-4.4zm1,-1h4.4l2.6,2.6v4.4l-2.6,2.6h-4.4l-2.6,-2.6v-4.4zm1,0h4.4l2.6,2.6v4.4l-2.6,2.6h-4.4l-2.6,-2.6v-4.4zm1,-1h4.4l2.6,2.6v4.4l-2.6,2.6h-4.4l-2.6,-2.6v-4.4zm1,-1h4.4l2.6,2.6v4.4l-2.6,2.6h-4.4l-2.6,-2.6v-4.4zm1,-1h4.4l2.6,2.6v4.4l-2.6,2.6h-4.4l-2.6,-2.6v-4.4zm1,0h4.4l2.6,2.6v4.4l-2.6,2.6h-4.4l-2.6,-2.6v-4.4zm1,-1h4.4l2.6,2.6v4.4l-2.6,2.6h-4.4l-2.6,-2.6v-4.4zm1,-1h4.4l2.6,2.6v4.4l-2.6,2.6h-4.4l-2.6,-2.6v-4.4zm1,-1h4.4l2.6,2.6v4.4l-2.6,2.6h-4.4l-2.6,-2.6v-4.4zm1,-1h4.4l2.6,2.6v4.4l-2.6,2.6h-4.4l-2.6,-2.6v-4.4zm1,0h4.4l2.6,2.6v4.4l-2.6,2.6h-4.4l-2.6,-2.6v-4.4zm1,-1h4.4l2.6,2.6v4.4l-2.6,2.6h-4.4l-2.6,-2.6v-4.4zm1,-1h4.4l2.6,2.6v4.4l-2.6,2.6h-4.4l-2.6,-2.6v-4.4zm1,-1h4.4l2.6,2.6v4.4l-2.6,2.6h-4.4l-2.6,-2.6v-4.4zm1,0h4.4l2.6,2.6v4.4l-2.6,2.6h-4.4l-2.6,-2.6v-4.4zm1,-1h4.4l2.6,2.6v4.4l-2.6,2.6h-4.4l-2.6,-2.6v-4.4zm1,-1h4.4l2.6,2.6v4.4l-2.6,2.6h-4.4l-2.6,-2.6v-4.4zm1,-1h4.4l2.6,2.6v4.4l-2.6,2.6h-4.4l-2.6,-2.6v-4.4zm1,-1h4.4l2.6,2.6v4.4l-2.6,2.6h-4.4l-2.6,-2.6v-4.4zm1,0h4.4l2.6,2.6v4.4l-2.6,2.6h-4.4l-2.6,-2.6v-4.4zm1,-1h4.4l2.6,2.6v4.4l-2.6,2.6h-4.4l-2.6,-2.6v-4.4zm1,-1h4.4l2.6,2.6v4.4l-2.6,2.6h-4.4l-2.6,-2.6v-4.4zm1,-1h4.4l2.6,2.6v4.4l-2.6,2.6h-4.4l-2.6,-2.6v-4.4zm1,0h4.4l2.6,2.6v4.4l-2.6,2.6h-4.4l-2.6,-2.6v-4.4zm1,-1h4.4l2.6,2.6v4.4l-2.6,2.6h-4.4l-2.6,-2.6v-4.4zm1,-1h4.4l2.6,2.6v4.4l-2.6,2.6h-4.4l-2.6,-2.6v-4.4zm1,-1h4.4l2.6,2.6v4.4l-2.6,2.6h-4.4l-2.6,-2.6v-4.4zm1,-1h4.4l2.6,2.6v4.4l-2.6,2.6h-4.4l-2.6,-2.6v-4.4zm1,0h4.4l2.6,2.6v4.4l-2.6,2.6h-4.4l-2.6,-2.6v-4.4zm1,-1h4.4l2.6,2.6v4.4l-2.6,2.6h-4.4l-2.6,-2.6v-4.4zm1,-1h4.4l2.6,2.6v4.4l-2.6,2.6h-4.4l-2.6,-2.6v-4.4zm1,-1h4.4l2.6,2.6v4.4l-2.6,2.6h-4.4l-2.6,-2.6v-4.4zm1,-1h4.4l2.6,2.6v4.4l-2.6,2.6h-4.4l-2.6,-2.6v-4.4zm1,0h4.4l2.6,2.6v4.4l-2.6,2.6h-4.4l-2.6,-2.6v-4.4zm1,-1h4.4l2.6,2.6v4.4l-2.6,2.6h-4.4l-2.6,-2.6v-4.4zm1,-1h4.4l2.6,2.6v4.4l-2.6,2.6h-4.4l-2.6,-2.6v-4.4zm1,-1h4.4l2.6,2.6v4.4l-2.6,2.6h-4.4l-2.6,-2.6v-4.4zm1,-1h4.4l2.6,2.6v4.4l-2.6,2.6h-4.4l-2.6,-2.6v-4.4zm1,-1h4.4l2.6,2.6v4.4l-2.6,2.6h-4.4l-2.6,-2.6v-4.4zm1,0h4.4l2.6,2.6v4.4l-2.6,2.6h-4.4l-2.6,-2.6v-4.4zm1,-1h4.4l2.6,2.6v4.4l-2.6,2.6h-4.4l-2.6,-2.6v-4.4zm1,-1h4.4l2.6,2.6v4.4l-2.6,2.6h-4.4l-2.6,-2.6v-4.4zm1,-1h4.4l2.6,2.6v4.4l-2.6,2.6h-4.4l-2.6,-2.6v-4.4zm1,-1h4.4l2.6,2.6v4.4l-2.6,2.6h-4.4l-2.6,-2.6v-4.4zm1,0h4.4l2.6,2.6v4.4l-2.6,2.6h-4.4l-2.6,-2.6v-4.4zm1,-1h4.4l2.6,2.6v4.4l-2.6,2.6h-4.4l-2.6,-2.6v-4.4zm1,-1h4.4l2.6,2.6v4.4l-2.6,2.6h-4.4l-2.6,-2.6v-4.4zm1,-1h4.4l2.6,2.6v4.4l-2.6,2.6h-4.4l-2.6,-2.6v-4.4zm1,-1h4.4l2.6,2.6v4.4l-2.6,2.6h-4.4l-2.6,-2.6v-4.4zm1,-1h4.4l2.6,2.6v4.4l-2.6,2.6h-4.4l-2.6,-2.6v-4.4zm1,0h4.4l2.6,2.6v4.4l-2.6,2.6h-4.4l-2.6,-2.6v-4.4zm1,-1h4.4l2.6,2.6v4.4l-2.6,2.6h-4.4l-2.6,-2.6v-4.4zm1,-1h4.4l2.6,2.6v4.4l-2.6,2.6h-4.4l-2.6,-2.6v-4.4zm1,-1h4.4l2.6,2.6v4.4l-2.6,2.6h-4.4l-2.6,-2.6v-4.4zm1,-1h4.4l2.6,2.6v4.4l-2.6,2.6h-4.4l-2.6,-2.6v-4.4zm1,-1h4.4l2.6,2.6v4.4l-2.6,2.6h-4.4l-2.6,-2.6v-4.4zm1,0h4.4l2.6,2.6v4.4l-2.6,2.6h-4.4l-2.6,-2.6v-4.4zm1,-1h4.4l2.6,2.6v4.4l-2.6,2.6h-4.4l-2.6,-2.6v-4.4zm1,-1h4.4l2.6,2.6v4.4l-2.6,2.6h-4.4l-2.6,-2.6v-4.4zm1,-1h4.4l2.6,2.6v4.4l-2.6,2.6h-4.4l-2.6,-2.6v-4.4zm1,-1h4.4l2.6,2.6v4.4l-2.6,2.6h-4.4l-2.6,-2.6v-4.4zm1,-1h4.4l2.6,2.6v4.4l-2.6,2.6h-4.4l-2.6,-2.6v-4.4zm1,-1h4.4l2.6,2.6v4.4l-2.6,2.6h-4.4l-2.6,-2.6v-4.4zm1,0h4.4l2.6,2.6v4.4l-2.6,2.6h-4.4l-2.6,-2.6v-4.4zm1,-1h4.4l2.6,2.6v4.4l-2.6,2.6h-4.4l-2.6,-2.6v-4.4zm1,-1h4.4l2.6,2.6v4.4l-2.6,2.6h-4.4l-2.6,-2.6v-4.4zm1,-1h4.4l2.6,2.6v4.4l-2.6,2.6h-4.4l-2.6,-2.6v-4.4zm1,-1h4.4l2.6,2.6v4.4l-2.6,2.6h-4.4l-2.6,-2.6v-4.4zm1,-1h4.4l2.6,2.6v4.4l-2.6,2.6h-4.4l-2.6,-2.6v-4.4zm1,-1h4.4l2.6,2.6v4.4l-2.6,2.6h-4.4l-2.6,-2.6v-4.4zm1,0h4.4l2.6,2.6v4.4l-2.6,2.6h-4.4l-2.6,-2.6v-4.4zm1,-1h4.4l2.6,2.6v4.4l-2.6,2.6h-4.4l-2.6,-2.6v-4.4zm1,-1h4.4l2.6,2.6v4.4l-2.6,2.6h-4.4l-2.6,-2.6v-4.4zm1,-1h4.4l2.6,2.6v4.4l-2.6,2.6h-4.4l-2.6,-2.6v-4.4zm1,-1h4.4l2.6,2.6v4.4l-2.6,2.6h-4.4l-2.6,-2.6v-4.4zm1,-1h4.4l2.6,2.6v4.4l-2.6,2.6h-4.4l-2.6,-2.6v-4.4zm1,-1h4.4l2.6,2.6v4.4l-2.6,2.6h-4.4l-2.6,-2.6v-4.4zm1,-1h4.4l2.6,2.6v4.4l-2.6,2.6h-4.4l-2.6,-2.6v-4.4zm1,-1h4.4l2.6,2.6v4.4l-2.6,2.6h-4.4l-2.6,-2.6v-4.4zm1,-1h4.4l2.6,2.6v4.4l-2.6,2.6h-4.4l-2.6,-2.6v-4.4zm1,0h4.4l2.6,2.6v4.4l-2.6,2.6h-4.4l-2.6,-2.6v-4.4zm1,-1h4.4l2.6,2.6v4.4l-2.6,2.6h-4.4l-2.6,-2.6v-4.4zm1,-1h4.4l2.6,2.6v4.4l-2.6,2.6h-4.4l-2.6,-2.6v-4.4zm1,-1h4.4l2.6,2.6v4.4l-2.6,2.6h-4.4l-2.6,-2.6v-4.4zm1,-1h4.4l2.6,2.6v4.4l-2.6,2.6h-4.4l-2.6,-2.6v-4.4zm1,-1h4.4l2.6,2.6v4.4l-2.6,2.6h-4.4l-2.6,-2.6v-4.4zm2,-1h4.4l2.6,2.6v4.4l-2.6,2.6h-4.4l-2.6,-2.6v-4.4zm1,-1h4.4l2.6,2.6v4.4l-2.6,2.6h-4.4l-2.6,-2.6v-4.4zm1,-1h4.4l2.6,2.6v4.4l-2.6,2.6h-4.4l-2.6,-2.6v-4.4zm1,-1h4.4l2.6,2.6v4.4l-2.6,2.6h-4.4l-2.6,-2.6v-4.4zm1,-1h4.4l2.6,2.6v4.4l-2.6,2.6h-4.4l-2.6,-2.6v-4.4zm1,-1h4.4l2.6,2.6v4.4l-2.6,2.6h-4.4l-2.6,-2.6v-4.4zm1,-1h4.4l2.6,2.6v4.4l-2.6,2.6h-4.4l-2.6,-2.6v-4.4zm2,-1h4.4l2.6,2.6v4.4l-2.6,2.6h-4.4l-2.6,-2.6v-4.4zm1,-1h4.4l2.6,2.6v4.4l-2.6,2.6h-4.4l-2.6,-2.6v-4.4zm1,-2h4.4l2.6,2.6v4.4l-2.6,2.6h-4.4l-2.6,-2.6v-4.4zm1,-1h4.4l2.6,2.6v4.4l-2.6,2.6h-4.4l-2.6,-2.6v-4.4zm1,-1h4.4l2.6,2.6v4.4l-2.6,2.6h-4.4l-2.6,-2.6v-4.4zm2,-1h4.4l2.6,2.6v4.4l-2.6,2.6h-4.4l-2.6,-2.6v-4.4zm1,-1h4.4l2.6,2.6v4.4l-2.6,2.6h-4.4l-2.6,-2.6v-4.4zm1,-1h4.4l2.6,2.6v4.4l-2.6,2.6h-4.4l-2.6,-2.6v-4.4zm1,-1h4.4l2.6,2.6v4.4l-2.6,2.6h-4.4l-2.6,-2.6v-4.4zm2,-1h4.4l2.6,2.6v4.4l-2.6,2.6h-4.4l-2.6,-2.6v-4.4zm1,-1h4.4l2.6,2.6v4.4l-2.6,2.6h-4.4l-2.6,-2.6v-4.4zm1,-1h4.4l2.6,2.6v4.4l-2.6,2.6h-4.4l-2.6,-2.6v-4.4zm1,-2h4.4l2.6,2.6v4.4l-2.6,2.6h-4.4l-2.6,-2.6v-4.4zm2,-1h4.4l2.6,2.6v4.4l-2.6,2.6h-4.4l-2.6,-2.6v-4.4zm1,-1h4.4l2.6,2.6v4.4l-2.6,2.6h-4.4l-2.6,-2.6v-4.4zm1,-1h4.4l2.6,2.6v4.4l-2.6,2.6h-4.4l-2.6,-2.6v-4.4zm1,-1h4.4l2.6,2.6v4.4l-2.6,2.6h-4.4l-2.6,-2.6v-4.4zm2,-1h4.4l2.6,2.6v4.4l-2.6,2.6h-4.4l-2.6,-2.6v-4.4zm1,-2h4.4l2.6,2.6v4.4l-2.6,2.6h-4.4l-2.6,-2.6v-4.4zm1,-1h4.4l2.6,2.6v4.4l-2.6,2.6h-4.4l-2.6,-2.6v-4.4zm2,-1h4.4l2.6,2.6v4.4l-2.6,2.6h-4.4l-2.6,-2.6v-4.4zm1,-1h4.4l2.6,2.6v4.4l-2.6,2.6h-4.4l-2.6,-2.6v-4.4zm1,-2h4.4l2.6,2.6v4.4l-2.6,2.6h-4.4l-2.6,-2.6v-4.4zm2,-1h4.4l2.6,2.6v4.4l-2.6,2.6h-4.4l-2.6,-2.6v-4.4zm1,-1h4.4l2.6,2.6v4.4l-2.6,2.6h-4.4l-2.6,-2.6v-4.4zm2,-1h4.4l2.6,2.6v4.4l-2.6,2.6h-4.4l-2.6,-2.6v-4.4zm1,-2h4.4l2.6,2.6v4.4l-2.6,2.6h-4.4l-2.6,-2.6v-4.4zm1,-1h4.4l2.6,2.6v4.4l-2.6,2.6h-4.4l-2.6,-2.6v-4.4zm2,-1h4.4l2.6,2.6v4.4l-2.6,2.6h-4.4l-2.6,-2.6v-4.4zm1,-2h4.4l2.6,2.6v4.4l-2.6,2.6h-4.4l-2.6,-2.6v-4.4zm2,-1h4.4l2.6,2.6v4.4l-2.6,2.6h-4.4l-2.6,-2.6v-4.4zm1,-1h4.4l2.6,2.6v4.4l-2.6,2.6h-4.4l-2.6,-2.6v-4.4zm2,-2h4.4l2.6,2.6v4.4l-2.6,2.6h-4.4l-2.6,-2.6v-4.4zm1,-1h4.4l2.6,2.6v4.4l-2.6,2.6h-4.4l-2.6,-2.6v-4.4zm1,-1h4.4l2.6,2.6v4.4l-2.6,2.6h-4.4l-2.6,-2.6v-4.4zm2,-2h4.4l2.6,2.6v4.4l-2.6,2.6h-4.4l-2.6,-2.6v-4.4zm1,-1h4.4l2.6,2.6v4.4l-2.6,2.6h-4.4l-2.6,-2.6v-4.4zm2,-2h4.4l2.6,2.6v4.4l-2.6,2.6h-4.4l-2.6,-2.6v-4.4zm1,-1h4.4l2.6,2.6v4.4l-2.6,2.6h-4.4l-2.6,-2.6v-4.4zm2,-1h4.4l2.6,2.6v4.4l-2.6,2.6h-4.4l-2.6,-2.6v-4.4zm2,-2h4.4l2.6,2.6v4.4l-2.6,2.6h-4.4l-2.6,-2.6v-4.4zm1,-1h4.4l2.6,2.6v4.4l-2.6,2.6h-4.4l-2.6,-2.6v-4.4zm2,-2h4.4l2.6,2.6v4.4l-2.6,2.6h-4.4l-2.6,-2.6v-4.4zm1,-1h4.4l2.6,2.6v4.4l-2.6,2.6h-4.4l-2.6,-2.6v-4.4zm2,-2h4.4l2.6,2.6v4.4l-2.6,2.6h-4.4l-2.6,-2.6v-4.4zm1,-1h4.4l2.6,2.6v4.4l-2.6,2.6h-4.4l-2.6,-2.6v-4.4zm2,-2h4.4l2.6,2.6v4.4l-2.6,2.6h-4.4l-2.6,-2.6v-4.4zm2,-1h4.4l2.6,2.6v4.4l-2.6,2.6h-4.4l-2.6,-2.6v-4.4zm1,-2h4.4l2.6,2.6v4.4l-2.6,2.6h-4.4l-2.6,-2.6v-4.4zm2,-1h4.4l2.6,2.6v4.4l-2.6,2.6h-4.4l-2.6,-2.6v-4.4zm1,-2h4.4l2.6,2.6v4.4l-2.6,2.6h-4.4l-2.6,-2.6v-4.4zm2,-1h4.4l2.6,2.6v4.4l-2.6,2.6h-4.4l-2.6,-2.6v-4.4zm2,-2h4.4l2.6,2.6v4.4l-2.6,2.6h-4.4l-2.6,-2.6v-4.4zm1,-2h4.4l2.6,2.6v4.4l-2.6,2.6h-4.4l-2.6,-2.6v-4.4zm2,-1h4.4l2.6,2.6v4.4l-2.6,2.6h-4.4l-2.6,-2.6v-4.4zm2,-2h4.4l2.6,2.6v4.4l-2.6,2.6h-4.4l-2.6,-2.6v-4.4zm1,-1h4.4l2.6,2.6v4.4l-2.6,2.6h-4.4l-2.6,-2.6v-4.4zm2,-2h4.4l2.6,2.6v4.4l-2.6,2.6h-4.4l-2.6,-2.6v-4.4zm2,-2h4.4l2.6,2.6v4.4l-2.6,2.6h-4.4l-2.6,-2.6v-4.4zm2,-1h4.4l2.6,2.6v4.4l-2.6,2.6h-4.4l-2.6,-2.6v-4.4zm1,-2h4.4l2.6,2.6v4.4l-2.6,2.6h-4.4l-2.6,-2.6v-4.4zm2,-2h4.4l2.6,2.6v4.4l-2.6,2.6h-4.4l-2.6,-2.6v-4.4zm2,-1h4.4l2.6,2.6v4.4l-2.6,2.6h-4.4l-2.6,-2.6v-4.4zm2,-2h4.4l2.6,2.6v4.4l-2.6,2.6h-4.4l-2.6,-2.6v-4.4zm1,-2h4.4l2.6,2.6v4.4l-2.6,2.6h-4.4l-2.6,-2.6v-4.4zm2,-2h4.4l2.6,2.6v4.4l-2.6,2.6h-4.4l-2.6,-2.6v-4.4zm2,-1h4.4l2.6,2.6v4.4l-2.6,2.6h-4.4l-2.6,-2.6v-4.4zm2,-2h4.4l2.6,2.6v4.4l-2.6,2.6h-4.4l-2.6,-2.6v-4.4zm2,-2h4.4l2.6,2.6v4.4l-2.6,2.6h-4.4l-2.6,-2.6v-4.4zm2,-2h4.4l2.6,2.6v4.4l-2.6,2.6h-4.4l-2.6,-2.6v-4.4zm1,-1h4.4l2.6,2.6v4.4l-2.6,2.6h-4.4l-2.6,-2.6v-4.4zm2,-2h4.4l2.6,2.6v4.4l-2.6,2.6h-4.4l-2.6,-2.6v-4.4zm2,-2h4.4l2.6,2.6v4.4l-2.6,2.6h-4.4l-2.6,-2.6v-4.4zm2,-2h4.4l2.6,2.6v4.4l-2.6,2.6h-4.4l-2.6,-2.6v-4.4zm2,-2h4.4l2.6,2.6v4.4l-2.6,2.6h-4.4l-2.6,-2.6v-4.4zm2,-2h4.4l2.6,2.6v4.4l-2.6,2.6h-4.4l-2.6,-2.6v-4.4zm2,-1h4.4l2.6,2.6v4.4l-2.6,2.6h-4.4l-2.6,-2.6v-4.4zm2,-2h4.4l2.6,2.6v4.4l-2.6,2.6h-4.4l-2.6,-2.6v-4.4zm2,-2h4.4l2.6,2.6v4.4l-2.6,2.6h-4.4l-2.6,-2.6v-4.4zm2,-2h4.4l2.6,2.6v4.4l-2.6,2.6h-4.4l-2.6,-2.6v-4.4zm2,-2h4.4l2.6,2.6v4.4l-2.6,2.6h-4.4l-2.6,-2.6v-4.4zm2,-2h4.4l2.6,2.6v4.4l-2.6,2.6h-4.4l-2.6,-2.6v-4.4zm2,-2h4.4l2.6,2.6v4.4l-2.6,2.6h-4.4l-2.6,-2.6v-4.4zm2,-2h4.4l2.6,2.6v4.4l-2.6,2.6h-4.4l-2.6,-2.6v-4.4zm2,-2h4.4l2.6,2.6v4.4l-2.6,2.6h-4.4l-2.6,-2.6v-4.4zm2,-2h4.4l2.6,2.6v4.4l-2.6,2.6h-4.4l-2.6,-2.6v-4.4zm2,-2h4.4l2.6,2.6v4.4l-2.6,2.6h-4.4l-2.6,-2.6v-4.4zm2,-2h4.4l2.6,2.6v4.4l-2.6,2.6h-4.4l-2.6,-2.6v-4.4zm2,-2h4.4l2.6,2.6v4.4l-2.6,2.6h-4.4l-2.6,-2.6v-4.4zm3,-2h4.4l2.6,2.6v4.4l-2.6,2.6h-4.4l-2.6,-2.6v-4.4zm2,-2h4.4l2.6,2.6v4.4l-2.6,2.6h-4.4l-2.6,-2.6v-4.4zm2,-3h4.4l2.6,2.6v4.4l-2.6,2.6h-4.4l-2.6,-2.6v-4.4zm2,-2h4.4l2.6,2.6v4.4l-2.6,2.6h-4.4l-2.6,-2.6v-4.4zm2,-2h4.4l2.6,2.6v4.4l-2.6,2.6h-4.4l-2.6,-2.6v-4.4zm3,-2h4.4l2.6,2.6v4.4l-2.6,2.6h-4.4l-2.6,-2.6v-4.4zm2,-2h4.4l2.6,2.6v4.4l-2.6,2.6h-4.4l-2.6,-2.6v-4.4zm2,-3h4.4l2.6,2.6v4.4l-2.6,2.6h-4.4l-2.6,-2.6v-4.4zm3,-2h4.4l2.6,2.6v4.4l-2.6,2.6h-4.4l-2.6,-2.6v-4.4zm2,-2h4.4l2.6,2.6v4.4l-2.6,2.6h-4.4l-2.6,-2.6v-4.4zm2,-2h4.4l2.6,2.6v4.4l-2.6,2.6h-4.4l-2.6,-2.6v-4.4zm3,-3h4.4l2.6,2.6v4.4l-2.6,2.6h-4.4l-2.6,-2.6v-4.4zm2,-2h4.4l2.6,2.6v4.4l-2.6,2.6h-4.4l-2.6,-2.6v-4.4zm3,-2h4.4l2.6,2.6v4.4l-2.6,2.6h-4.4l-2.6,-2.6v-4.4zm2,-3h4.4l2.6,2.6v4.4l-2.6,2.6h-4.4l-2.6,-2.6v-4.4zm2,-2h4.4l2.6,2.6v4.4l-2.6,2.6h-4.4l-2.6,-2.6v-4.4zm3,-2h4.4l2.6,2.6v4.4l-2.6,2.6h-4.4l-2.6,-2.6v-4.4zm2,-3h4.4l2.6,2.6v4.4l-2.6,2.6h-4.4l-2.6,-2.6v-4.4zm3,-2h4.4l2.6,2.6v4.4l-2.6,2.6h-4.4l-2.6,-2.6v-4.4zm3,-3h4.4l2.6,2.6v4.4l-2.6,2.6h-4.4l-2.6,-2.6v-4.4zm2,-2h4.4l2.6,2.6v4.4l-2.6,2.6h-4.4l-2.6,-2.6v-4.4zm3,-3h4.4l2.6,2.6v4.4l-2.6,2.6h-4.4l-2.6,-2.6v-4.4zm2,-2h4.4l2.6,2.6v4.4l-2.6,2.6h-4.4l-2.6,-2.6v-4.4zm3,-3h4.4l2.6,2.6v4.4l-2.6,2.6h-4.4l-2.6,-2.6v-4.4zm3,-3h4.4l2.6,2.6v4.4l-2.6,2.6h-4.4l-2.6,-2.6v-4.4zm2,-2h4.4l2.6,2.6v4.4l-2.6,2.6h-4.4l-2.6,-2.6v-4.4zm3,-3h4.4l2.6,2.6v4.4l-2.6,2.6h-4.4l-2.6,-2.6v-4.4zm3,-2h4.4l2.6,2.6v4.4l-2.6,2.6h-4.4l-2.6,-2.6v-4.4zm3,-3h4.4l2.6,2.6v4.4l-2.6,2.6h-4.4l-2.6,-2.6v-4.4zm2,-3h4.4l2.6,2.6v4.4l-2.6,2.6h-4.4l-2.6,-2.6v-4.4zm3,-2h4.4l2.6,2.6v4.4l-2.6,2.6h-4.4l-2.6,-2.6v-4.4zm3,-3h4.4l2.6,2.6v4.4l-2.6,2.6h-4.4l-2.6,-2.6v-4.4zm3,-3h4.4l2.6,2.6v4.4l-2.6,2.6h-4.4l-2.6,-2.6v-4.4zm3,-3h4.4l2.6,2.6v4.4l-2.6,2.6h-4.4l-2.6,-2.6v-4.4zm3,-3h4.4l2.6,2.6v4.4l-2.6,2.6h-4.4l-2.6,-2.6v-4.4zm3,-2h4.4l2.6,2.6v4.4l-2.6,2.6h-4.4l-2.6,-2.6v-4.4zm7,-8h4.4l2.6,2.6v4.4l-2.6,2.6h-4.4l-2.6,-2.6v-4.4zm2,-1h4.4l2.6,2.6v4.4l-2.6,2.6h-4.4l-2.6,-2.6v-4.4zm6,-6h4.4l2.6,2.6v4.4l-2.6,2.6h-4.4l-2.6,-2.6v-4.4zm5,-5h4.4l2.6,2.6v4.4l-2.6,2.6h-4.4l-2.6,-2.6v-4.4zm9,-8h4.4l2.6,2.6v4.4l-2.6,2.6h-4.4l-2.6,-2.6v-4.4zm5,-4h4.4l2.6,2.6v4.4l-2.6,2.6h-4.4l-2.6,-2.6v-4.4zm4,-5h4.4l2.6,2.6v4.4l-2.6,2.6h-4.4l-2.6,-2.6v-4.4zm5,-4h4.4l2.6,2.6v4.4l-2.6,2.6h-4.4l-2.6,-2.6v-4.4zm17,-16h4.4l2.6,2.6v4.4l-2.6,2.6h-4.4l-2.6,-2.6v-4.4zm22,-20h4.4l2.6,2.6v4.4l-2.6,2.6h-4.4l-2.6,-2.6v-4.4zm27,-24h4.4l2.6,2.6v4.4l-2.6,2.6h-4.4l-2.6,-2.6v-4.4zm6,-6h4.4l2.6,2.6v4.4l-2.6,2.6h-4.4l-2.6,-2.6v-4.4zm3,-2h4.4l2.6,2.6v4.4l-2.6,2.6h-4.4l-2.6,-2.6v-4.4zm10,-9h4.4l2.6,2.6v4.4l-2.6,2.6h-4.4l-2.6,-2.6v-4.4zm32,-28h4.4l2.6,2.6v4.4l-2.6,2.6h-4.4l-2.6,-2.6v-4.4zm-1352,734h4.4l2.6,2.6v4.4l-2.6,2.6h-4.4l-2.6,-2.6v-4.4zm16,-1h4.4l2.6,2.6v4.4l-2.6,2.6h-4.4l-2.6,-2.6v-4.4zm19,-2h4.4l2.6,2.6v4.4l-2.6,2.6h-4.4l-2.6,-2.6v-4.4zm53,-5h4.4l2.6,2.6v4.4l-2.6,2.6h-4.4l-2.6,-2.6v-4.4zm25,-3h4.4l2.6,2.6v4.4l-2.6,2.6h-4.4l-2.6,-2.6v-4.4zm53,-7h4.4l2.6,2.6v4.4l-2.6,2.6h-4.4l-2.6,-2.6v-4.4zm12,-2h4.4l2.6,2.6v4.4l-2.6,2.6h-4.4l-2.6,-2.6v-4.4zm10,-1h4.4l2.6,2.6v4.4l-2.6,2.6h-4.4l-2.6,-2.6v-4.4zm2,-1h4.4l2.6,2.6v4.4l-2.6,2.6h-4.4l-2.6,-2.6v-4.4zm9,-1h4.4l2.6,2.6v4.4l-2.6,2.6h-4.4l-2.6,-2.6v-4.4zm25,-4h4.4l2.6,2.6v4.4l-2.6,2.6h-4.4l-2.6,-2.6v-4.4zm8,-1h4.4l2.6,2.6v4.4l-2.6,2.6h-4.4l-2.6,-2.6v-4.4zm5,-1h4.4l2.6,2.6v4.4l-2.6,2.6h-4.4l-2.6,-2.6v-4.4zm9,-2h4.4l2.6,2.6v4.4l-2.6,2.6h-4.4l-2.6,-2.6v-4.4zm8,-1h4.4l2.6,2.6v4.4l-2.6,2.6h-4.4l-2.6,-2.6v-4.4zm2,0h4.4l2.6,2.6v4.4l-2.6,2.6h-4.4l-2.6,-2.6v-4.4zm3,-1h4.4l2.6,2.6v4.4l-2.6,2.6h-4.4l-2.6,-2.6v-4.4zm3,0h4.4l2.6,2.6v4.4l-2.6,2.6h-4.4l-2.6,-2.6v-4.4zm3,-1h4.4l2.6,2.6v4.4l-2.6,2.6h-4.4l-2.6,-2.6v-4.4zm3,-1h4.4l2.6,2.6v4.4l-2.6,2.6h-4.4l-2.6,-2.6v-4.4zm2,0h4.4l2.6,2.6v4.4l-2.6,2.6h-4.4l-2.6,-2.6v-4.4zm2,0h4.4l2.6,2.6v4.4l-2.6,2.6h-4.4l-2.6,-2.6v-4.4zm3,-1h4.4l2.6,2.6v4.4l-2.6,2.6h-4.4l-2.6,-2.6v-4.4zm2,0h4.4l2.6,2.6v4.4l-2.6,2.6h-4.4l-2.6,-2.6v-4.4zm3,-1h4.4l2.6,2.6v4.4l-2.6,2.6h-4.4l-2.6,-2.6v-4.4zm3,-1h4.4l2.6,2.6v4.4l-2.6,2.6h-4.4l-2.6,-2.6v-4.4zm3,0h4.4l2.6,2.6v4.4l-2.6,2.6h-4.4l-2.6,-2.6v-4.4zm3,-1h4.4l2.6,2.6v4.4l-2.6,2.6h-4.4l-2.6,-2.6v-4.4zm14,-2h4.4l2.6,2.6v4.4l-2.6,2.6h-4.4l-2.6,-2.6v-4.4zm14,-3h4.4l2.6,2.6v4.4l-2.6,2.6h-4.4l-2.6,-2.6v-4.4zm8,-2h4.4l2.6,2.6v4.4l-2.6,2.6h-4.4l-2.6,-2.6v-4.4zm2,-1h4.4l2.6,2.6v4.4l-2.6,2.6h-4.4l-2.6,-2.6v-4.4zm2,0h4.4l2.6,2.6v4.4l-2.6,2.6h-4.4l-2.6,-2.6v-4.4zm2,0h4.4l2.6,2.6v4.4l-2.6,2.6h-4.4l-2.6,-2.6v-4.4zm2,-1h4.4l2.6,2.6v4.4l-2.6,2.6h-4.4l-2.6,-2.6v-4.4zm2,0h4.4l2.6,2.6v4.4l-2.6,2.6h-4.4l-2.6,-2.6v-4.4zm2,-1h4.4l2.6,2.6v4.4l-2.6,2.6h-4.4l-2.6,-2.6v-4.4zm2,0h4.4l2.6,2.6v4.4l-2.6,2.6h-4.4l-2.6,-2.6v-4.4zm2,-1h4.4l2.6,2.6v4.4l-2.6,2.6h-4.4l-2.6,-2.6v-4.4zm2,0h4.4l2.6,2.6v4.4l-2.6,2.6h-4.4l-2.6,-2.6v-4.4zm2,-1h4.4l2.6,2.6v4.4l-2.6,2.6h-4.4l-2.6,-2.6v-4.4zm2,0h4.4l2.6,2.6v4.4l-2.6,2.6h-4.4l-2.6,-2.6v-4.4zm2,-1h4.4l2.6,2.6v4.4l-2.6,2.6h-4.4l-2.6,-2.6v-4.4zm2,0h4.4l2.6,2.6v4.4l-2.6,2.6h-4.4l-2.6,-2.6v-4.4zm2,0h4.4l2.6,2.6v4.4l-2.6,2.6h-4.4l-2.6,-2.6v-4.4zm2,-1h4.4l2.6,2.6v4.4l-2.6,2.6h-4.4l-2.6,-2.6v-4.4zm2,0h4.4l2.6,2.6v4.4l-2.6,2.6h-4.4l-2.6,-2.6v-4.4zm2,-1h4.4l2.6,2.6v4.4l-2.6,2.6h-4.4l-2.6,-2.6v-4.4zm2,0h4.4l2.6,2.6v4.4l-2.6,2.6h-4.4l-2.6,-2.6v-4.4zm2,-1h4.4l2.6,2.6v4.4l-2.6,2.6h-4.4l-2.6,-2.6v-4.4zm1,0h4.4l2.6,2.6v4.4l-2.6,2.6h-4.4l-2.6,-2.6v-4.4zm1,0h4.4l2.6,2.6v4.4l-2.6,2.6h-4.4l-2.6,-2.6v-4.4zm1,-1h4.4l2.6,2.6v4.4l-2.6,2.6h-4.4l-2.6,-2.6v-4.4zm1,0h4.4l2.6,2.6v4.4l-2.6,2.6h-4.4l-2.6,-2.6v-4.4zm1,0h4.4l2.6,2.6v4.4l-2.6,2.6h-4.4l-2.6,-2.6v-4.4zm1,0h4.4l2.6,2.6v4.4l-2.6,2.6h-4.4l-2.6,-2.6v-4.4zm1,-1h4.4l2.6,2.6v4.4l-2.6,2.6h-4.4l-2.6,-2.6v-4.4zm1,0h4.4l2.6,2.6v4.4l-2.6,2.6h-4.4l-2.6,-2.6v-4.4zm1,0h4.4l2.6,2.6v4.4l-2.6,2.6h-4.4l-2.6,-2.6v-4.4zm1,0h4.4l2.6,2.6v4.4l-2.6,2.6h-4.4l-2.6,-2.6v-4.4zm1,-1h4.4l2.6,2.6v4.4l-2.6,2.6h-4.4l-2.6,-2.6v-4.4zm1,0h4.4l2.6,2.6v4.4l-2.6,2.6h-4.4l-2.6,-2.6v-4.4zm1,0h4.4l2.6,2.6v4.4l-2.6,2.6h-4.4l-2.6,-2.6v-4.4zm1,0h4.4l2.6,2.6v4.4l-2.6,2.6h-4.4l-2.6,-2.6v-4.4zm1,-1h4.4l2.6,2.6v4.4l-2.6,2.6h-4.4l-2.6,-2.6v-4.4zm1,0h4.4l2.6,2.6v4.4l-2.6,2.6h-4.4l-2.6,-2.6v-4.4zm1,0h4.4l2.6,2.6v4.4l-2.6,2.6h-4.4l-2.6,-2.6v-4.4zm1,0h4.4l2.6,2.6v4.4l-2.6,2.6h-4.4l-2.6,-2.6v-4.4zm1,-1h4.4l2.6,2.6v4.4l-2.6,2.6h-4.4l-2.6,-2.6v-4.4zm1,0h4.4l2.6,2.6v4.4l-2.6,2.6h-4.4l-2.6,-2.6v-4.4zm1,0h4.4l2.6,2.6v4.4l-2.6,2.6h-4.4l-2.6,-2.6v-4.4zm1,0h4.4l2.6,2.6v4.4l-2.6,2.6h-4.4l-2.6,-2.6v-4.4zm1,-1h4.4l2.6,2.6v4.4l-2.6,2.6h-4.4l-2.6,-2.6v-4.4zm1,0h4.4l2.6,2.6v4.4l-2.6,2.6h-4.4l-2.6,-2.6v-4.4zm1,0h4.4l2.6,2.6v4.4l-2.6,2.6h-4.4l-2.6,-2.6v-4.4zm1,0h4.4l2.6,2.6v4.4l-2.6,2.6h-4.4l-2.6,-2.6v-4.4zm1,-1h4.4l2.6,2.6v4.4l-2.6,2.6h-4.4l-2.6,-2.6v-4.4zm1,0h4.4l2.6,2.6v4.4l-2.6,2.6h-4.4l-2.6,-2.6v-4.4zm1,0h4.4l2.6,2.6v4.4l-2.6,2.6h-4.4l-2.6,-2.6v-4.4zm1,0h4.4l2.6,2.6v4.4l-2.6,2.6h-4.4l-2.6,-2.6v-4.4zm1,-1h4.4l2.6,2.6v4.4l-2.6,2.6h-4.4l-2.6,-2.6v-4.4zm1,0h4.4l2.6,2.6v4.4l-2.6,2.6h-4.4l-2.6,-2.6v-4.4zm1,0h4.4l2.6,2.6v4.4l-2.6,2.6h-4.4l-2.6,-2.6v-4.4zm1,0h4.4l2.6,2.6v4.4l-2.6,2.6h-4.4l-2.6,-2.6v-4.4zm1,-1h4.4l2.6,2.6v4.4l-2.6,2.6h-4.4l-2.6,-2.6v-4.4zm1,0h4.4l2.6,2.6v4.4l-2.6,2.6h-4.4l-2.6,-2.6v-4.4zm1,0h4.4l2.6,2.6v4.4l-2.6,2.6h-4.4l-2.6,-2.6v-4.4zm1,0h4.4l2.6,2.6v4.4l-2.6,2.6h-4.4l-2.6,-2.6v-4.4zm1,-1h4.4l2.6,2.6v4.4l-2.6,2.6h-4.4l-2.6,-2.6v-4.4zm1,0h4.4l2.6,2.6v4.4l-2.6,2.6h-4.4l-2.6,-2.6v-4.4zm1,0h4.4l2.6,2.6v4.4l-2.6,2.6h-4.4l-2.6,-2.6v-4.4zm1,-1h4.4l2.6,2.6v4.4l-2.6,2.6h-4.4l-2.6,-2.6v-4.4zm1,0h4.4l2.6,2.6v4.4l-2.6,2.6h-4.4l-2.6,-2.6v-4.4zm1,0h4.4l2.6,2.6v4.4l-2.6,2.6h-4.4l-2.6,-2.6v-4.4zm1,0h4.4l2.6,2.6v4.4l-2.6,2.6h-4.4l-2.6,-2.6v-4.4zm1,-1h4.4l2.6,2.6v4.4l-2.6,2.6h-4.4l-2.6,-2.6v-4.4zm1,0h4.4l2.6,2.6v4.4l-2.6,2.6h-4.4l-2.6,-2.6v-4.4zm1,0h4.4l2.6,2.6v4.4l-2.6,2.6h-4.4l-2.6,-2.6v-4.4zm1,0h4.4l2.6,2.6v4.4l-2.6,2.6h-4.4l-2.6,-2.6v-4.4zm1,-1h4.4l2.6,2.6v4.4l-2.6,2.6h-4.4l-2.6,-2.6v-4.4zm1,0h4.4l2.6,2.6v4.4l-2.6,2.6h-4.4l-2.6,-2.6v-4.4zm1,0h4.4l2.6,2.6v4.4l-2.6,2.6h-4.4l-2.6,-2.6v-4.4zm1,-1h4.4l2.6,2.6v4.4l-2.6,2.6h-4.4l-2.6,-2.6v-4.4zm1,0h4.4l2.6,2.6v4.4l-2.6,2.6h-4.4l-2.6,-2.6v-4.4zm1,0h4.4l2.6,2.6v4.4l-2.6,2.6h-4.4l-2.6,-2.6v-4.4zm1,0h4.4l2.6,2.6v4.4l-2.6,2.6h-4.4l-2.6,-2.6v-4.4zm1,-1h4.4l2.6,2.6v4.4l-2.6,2.6h-4.4l-2.6,-2.6v-4.4zm1,0h4.4l2.6,2.6v4.4l-2.6,2.6h-4.4l-2.6,-2.6v-4.4zm1,0h4.4l2.6,2.6v4.4l-2.6,2.6h-4.4l-2.6,-2.6v-4.4zm1,0h4.4l2.6,2.6v4.4l-2.6,2.6h-4.4l-2.6,-2.6v-4.4zm1,-1h4.4l2.6,2.6v4.4l-2.6,2.6h-4.4l-2.6,-2.6v-4.4zm1,0h4.4l2.6,2.6v4.4l-2.6,2.6h-4.4l-2.6,-2.6v-4.4zm1,0h4.4l2.6,2.6v4.4l-2.6,2.6h-4.4l-2.6,-2.6v-4.4zm1,-1h4.4l2.6,2.6v4.4l-2.6,2.6h-4.4l-2.6,-2.6v-4.4zm1,0h4.4l2.6,2.6v4.4l-2.6,2.6h-4.4l-2.6,-2.6v-4.4zm1,0h4.4l2.6,2.6v4.4l-2.6,2.6h-4.4l-2.6,-2.6v-4.4zm1,0h4.4l2.6,2.6v4.4l-2.6,2.6h-4.4l-2.6,-2.6v-4.4zm1,-1h4.4l2.6,2.6v4.4l-2.6,2.6h-4.4l-2.6,-2.6v-4.4zm1,0h4.4l2.6,2.6v4.4l-2.6,2.6h-4.4l-2.6,-2.6v-4.4zm1,0h4.4l2.6,2.6v4.4l-2.6,2.6h-4.4l-2.6,-2.6v-4.4zm1,-1h4.4l2.6,2.6v4.4l-2.6,2.6h-4.4l-2.6,-2.6v-4.4zm1,0h4.4l2.6,2.6v4.4l-2.6,2.6h-4.4l-2.6,-2.6v-4.4zm1,0h4.4l2.6,2.6v4.4l-2.6,2.6h-4.4l-2.6,-2.6v-4.4zm1,0h4.4l2.6,2.6v4.4l-2.6,2.6h-4.4l-2.6,-2.6v-4.4zm1,-1h4.4l2.6,2.6v4.4l-2.6,2.6h-4.4l-2.6,-2.6v-4.4zm1,0h4.4l2.6,2.6v4.4l-2.6,2.6h-4.4l-2.6,-2.6v-4.4zm1,0h4.4l2.6,2.6v4.4l-2.6,2.6h-4.4l-2.6,-2.6v-4.4zm1,-1h4.4l2.6,2.6v4.4l-2.6,2.6h-4.4l-2.6,-2.6v-4.4zm1,0h4.4l2.6,2.6v4.4l-2.6,2.6h-4.4l-2.6,-2.6v-4.4zm1,0h4.4l2.6,2.6v4.4l-2.6,2.6h-4.4l-2.6,-2.6v-4.4zm1,-1h4.4l2.6,2.6v4.4l-2.6,2.6h-4.4l-2.6,-2.6v-4.4zm1,0h4.4l2.6,2.6v4.4l-2.6,2.6h-4.4l-2.6,-2.6v-4.4zm1,0h4.4l2.6,2.6v4.4l-2.6,2.6h-4.4l-2.6,-2.6v-4.4zm1,0h4.4l2.6,2.6v4.4l-2.6,2.6h-4.4l-2.6,-2.6v-4.4zm1,-1h4.4l2.6,2.6v4.4l-2.6,2.6h-4.4l-2.6,-2.6v-4.4zm1,0h4.4l2.6,2.6v4.4l-2.6,2.6h-4.4l-2.6,-2.6v-4.4zm1,0h4.4l2.6,2.6v4.4l-2.6,2.6h-4.4l-2.6,-2.6v-4.4zm1,-1h4.4l2.6,2.6v4.4l-2.6,2.6h-4.4l-2.6,-2.6v-4.4zm1,0h4.4l2.6,2.6v4.4l-2.6,2.6h-4.4l-2.6,-2.6v-4.4zm1,0h4.4l2.6,2.6v4.4l-2.6,2.6h-4.4l-2.6,-2.6v-4.4zm1,-1h4.4l2.6,2.6v4.4l-2.6,2.6h-4.4l-2.6,-2.6v-4.4zm1,0h4.4l2.6,2.6v4.4l-2.6,2.6h-4.4l-2.6,-2.6v-4.4zm1,0h4.4l2.6,2.6v4.4l-2.6,2.6h-4.4l-2.6,-2.6v-4.4zm1,0h4.4l2.6,2.6v4.4l-2.6,2.6h-4.4l-2.6,-2.6v-4.4zm1,-1h4.4l2.6,2.6v4.4l-2.6,2.6h-4.4l-2.6,-2.6v-4.4zm1,0h4.4l2.6,2.6v4.4l-2.6,2.6h-4.4l-2.6,-2.6v-4.4zm1,0h4.4l2.6,2.6v4.4l-2.6,2.6h-4.4l-2.6,-2.6v-4.4zm1,-1h4.4l2.6,2.6v4.4l-2.6,2.6h-4.4l-2.6,-2.6v-4.4zm1,0h4.4l2.6,2.6v4.4l-2.6,2.6h-4.4l-2.6,-2.6v-4.4zm1,0h4.4l2.6,2.6v4.4l-2.6,2.6h-4.4l-2.6,-2.6v-4.4zm1,-1h4.4l2.6,2.6v4.4l-2.6,2.6h-4.4l-2.6,-2.6v-4.4zm1,0h4.4l2.6,2.6v4.4l-2.6,2.6h-4.4l-2.6,-2.6v-4.4zm1,0h4.4l2.6,2.6v4.4l-2.6,2.6h-4.4l-2.6,-2.6v-4.4zm1,-1h4.4l2.6,2.6v4.4l-2.6,2.6h-4.4l-2.6,-2.6v-4.4zm1,0h4.4l2.6,2.6v4.4l-2.6,2.6h-4.4l-2.6,-2.6v-4.4zm1,0h4.4l2.6,2.6v4.4l-2.6,2.6h-4.4l-2.6,-2.6v-4.4zm1,0h4.4l2.6,2.6v4.4l-2.6,2.6h-4.4l-2.6,-2.6v-4.4zm1,-1h4.4l2.6,2.6v4.4l-2.6,2.6h-4.4l-2.6,-2.6v-4.4zm1,0h4.4l2.6,2.6v4.4l-2.6,2.6h-4.4l-2.6,-2.6v-4.4zm1,0h4.4l2.6,2.6v4.4l-2.6,2.6h-4.4l-2.6,-2.6v-4.4zm1,-1h4.4l2.6,2.6v4.4l-2.6,2.6h-4.4l-2.6,-2.6v-4.4zm1,0h4.4l2.6,2.6v4.4l-2.6,2.6h-4.4l-2.6,-2.6v-4.4zm1,0h4.4l2.6,2.6v4.4l-2.6,2.6h-4.4l-2.6,-2.6v-4.4zm1,-1h4.4l2.6,2.6v4.4l-2.6,2.6h-4.4l-2.6,-2.6v-4.4zm1,0h4.4l2.6,2.6v4.4l-2.6,2.6h-4.4l-2.6,-2.6v-4.4zm1,0h4.4l2.6,2.6v4.4l-2.6,2.6h-4.4l-2.6,-2.6v-4.4zm1,-1h4.4l2.6,2.6v4.4l-2.6,2.6h-4.4l-2.6,-2.6v-4.4zm1,0h4.4l2.6,2.6v4.4l-2.6,2.6h-4.4l-2.6,-2.6v-4.4zm1,0h4.4l2.6,2.6v4.4l-2.6,2.6h-4.4l-2.6,-2.6v-4.4zm1,-1h4.4l2.6,2.6v4.4l-2.6,2.6h-4.4l-2.6,-2.6v-4.4zm1,0h4.4l2.6,2.6v4.4l-2.6,2.6h-4.4l-2.6,-2.6v-4.4zm1,0h4.4l2.6,2.6v4.4l-2.6,2.6h-4.4l-2.6,-2.6v-4.4zm1,-1h4.4l2.6,2.6v4.4l-2.6,2.6h-4.4l-2.6,-2.6v-4.4zm1,0h4.4l2.6,2.6v4.4l-2.6,2.6h-4.4l-2.6,-2.6v-4.4zm1,0h4.4l2.6,2.6v4.4l-2.6,2.6h-4.4l-2.6,-2.6v-4.4zm1,-1h4.4l2.6,2.6v4.4l-2.6,2.6h-4.4l-2.6,-2.6v-4.4zm1,0h4.4l2.6,2.6v4.4l-2.6,2.6h-4.4l-2.6,-2.6v-4.4zm1,0h4.4l2.6,2.6v4.4l-2.6,2.6h-4.4l-2.6,-2.6v-4.4zm1,-1h4.4l2.6,2.6v4.4l-2.6,2.6h-4.4l-2.6,-2.6v-4.4zm1,0h4.4l2.6,2.6v4.4l-2.6,2.6h-4.4l-2.6,-2.6v-4.4zm1,0h4.4l2.6,2.6v4.4l-2.6,2.6h-4.4l-2.6,-2.6v-4.4zm1,-1h4.4l2.6,2.6v4.4l-2.6,2.6h-4.4l-2.6,-2.6v-4.4zm1,0h4.4l2.6,2.6v4.4l-2.6,2.6h-4.4l-2.6,-2.6v-4.4zm1,0h4.4l2.6,2.6v4.4l-2.6,2.6h-4.4l-2.6,-2.6v-4.4zm1,-1h4.4l2.6,2.6v4.4l-2.6,2.6h-4.4l-2.6,-2.6v-4.4zm1,0h4.4l2.6,2.6v4.4l-2.6,2.6h-4.4l-2.6,-2.6v-4.4zm1,0h4.4l2.6,2.6v4.4l-2.6,2.6h-4.4l-2.6,-2.6v-4.4zm1,-1h4.4l2.6,2.6v4.4l-2.6,2.6h-4.4l-2.6,-2.6v-4.4zm1,0h4.4l2.6,2.6v4.4l-2.6,2.6h-4.4l-2.6,-2.6v-4.4zm1,0h4.4l2.6,2.6v4.4l-2.6,2.6h-4.4l-2.6,-2.6v-4.4zm1,-1h4.4l2.6,2.6v4.4l-2.6,2.6h-4.4l-2.6,-2.6v-4.4zm1,0h4.4l2.6,2.6v4.4l-2.6,2.6h-4.4l-2.6,-2.6v-4.4zm1,0h4.4l2.6,2.6v4.4l-2.6,2.6h-4.4l-2.6,-2.6v-4.4zm1,-1h4.4l2.6,2.6v4.4l-2.6,2.6h-4.4l-2.6,-2.6v-4.4zm1,0h4.4l2.6,2.6v4.4l-2.6,2.6h-4.4l-2.6,-2.6v-4.4zm1,0h4.4l2.6,2.6v4.4l-2.6,2.6h-4.4l-2.6,-2.6v-4.4zm1,-1h4.4l2.6,2.6v4.4l-2.6,2.6h-4.4l-2.6,-2.6v-4.4zm1,0h4.4l2.6,2.6v4.4l-2.6,2.6h-4.4l-2.6,-2.6v-4.4zm1,0h4.4l2.6,2.6v4.4l-2.6,2.6h-4.4l-2.6,-2.6v-4.4zm1,-1h4.4l2.6,2.6v4.4l-2.6,2.6h-4.4l-2.6,-2.6v-4.4zm1,0h4.4l2.6,2.6v4.4l-2.6,2.6h-4.4l-2.6,-2.6v-4.4zm1,0h4.4l2.6,2.6v4.4l-2.6,2.6h-4.4l-2.6,-2.6v-4.4zm1,-1h4.4l2.6,2.6v4.4l-2.6,2.6h-4.4l-2.6,-2.6v-4.4zm1,0h4.4l2.6,2.6v4.4l-2.6,2.6h-4.4l-2.6,-2.6v-4.4zm1,0h4.4l2.6,2.6v4.4l-2.6,2.6h-4.4l-2.6,-2.6v-4.4zm1,-1h4.4l2.6,2.6v4.4l-2.6,2.6h-4.4l-2.6,-2.6v-4.4zm1,0h4.4l2.6,2.6v4.4l-2.6,2.6h-4.4l-2.6,-2.6v-4.4zm1,-1h4.4l2.6,2.6v4.4l-2.6,2.6h-4.4l-2.6,-2.6v-4.4zm1,0h4.4l2.6,2.6v4.4l-2.6,2.6h-4.4l-2.6,-2.6v-4.4zm1,0h4.4l2.6,2.6v4.4l-2.6,2.6h-4.4l-2.6,-2.6v-4.4zm1,-1h4.4l2.6,2.6v4.4l-2.6,2.6h-4.4l-2.6,-2.6v-4.4zm1,0h4.4l2.6,2.6v4.4l-2.6,2.6h-4.4l-2.6,-2.6v-4.4zm1,0h4.4l2.6,2.6v4.4l-2.6,2.6h-4.4l-2.6,-2.6v-4.4zm1,-1h4.4l2.6,2.6v4.4l-2.6,2.6h-4.4l-2.6,-2.6v-4.4zm1,0h4.4l2.6,2.6v4.4l-2.6,2.6h-4.4l-2.6,-2.6v-4.4zm1,0h4.4l2.6,2.6v4.4l-2.6,2.6h-4.4l-2.6,-2.6v-4.4zm1,-1h4.4l2.6,2.6v4.4l-2.6,2.6h-4.4l-2.6,-2.6v-4.4zm1,0h4.4l2.6,2.6v4.4l-2.6,2.6h-4.4l-2.6,-2.6v-4.4zm1,0h4.4l2.6,2.6v4.4l-2.6,2.6h-4.4l-2.6,-2.6v-4.4zm1,-1h4.4l2.6,2.6v4.4l-2.6,2.6h-4.4l-2.6,-2.6v-4.4zm1,0h4.4l2.6,2.6v4.4l-2.6,2.6h-4.4l-2.6,-2.6v-4.4zm1,-1h4.4l2.6,2.6v4.4l-2.6,2.6h-4.4l-2.6,-2.6v-4.4zm1,0h4.4l2.6,2.6v4.4l-2.6,2.6h-4.4l-2.6,-2.6v-4.4zm1,0h4.4l2.6,2.6v4.4l-2.6,2.6h-4.4l-2.6,-2.6v-4.4zm1,-1h4.4l2.6,2.6v4.4l-2.6,2.6h-4.4l-2.6,-2.6v-4.4zm1,0h4.4l2.6,2.6v4.4l-2.6,2.6h-4.4l-2.6,-2.6v-4.4zm1,0h4.4l2.6,2.6v4.4l-2.6,2.6h-4.4l-2.6,-2.6v-4.4zm1,-1h4.4l2.6,2.6v4.4l-2.6,2.6h-4.4l-2.6,-2.6v-4.4zm1,0h4.4l2.6,2.6v4.4l-2.6,2.6h-4.4l-2.6,-2.6v-4.4zm1,-1h4.4l2.6,2.6v4.4l-2.6,2.6h-4.4l-2.6,-2.6v-4.4zm1,0h4.4l2.6,2.6v4.4l-2.6,2.6h-4.4l-2.6,-2.6v-4.4zm1,0h4.4l2.6,2.6v4.4l-2.6,2.6h-4.4l-2.6,-2.6v-4.4zm1,-1h4.4l2.6,2.6v4.4l-2.6,2.6h-4.4l-2.6,-2.6v-4.4zm1,0h4.4l2.6,2.6v4.4l-2.6,2.6h-4.4l-2.6,-2.6v-4.4zm1,0h4.4l2.6,2.6v4.4l-2.6,2.6h-4.4l-2.6,-2.6v-4.4zm1,-1h4.4l2.6,2.6v4.4l-2.6,2.6h-4.4l-2.6,-2.6v-4.4zm1,0h4.4l2.6,2.6v4.4l-2.6,2.6h-4.4l-2.6,-2.6v-4.4zm1,-1h4.4l2.6,2.6v4.4l-2.6,2.6h-4.4l-2.6,-2.6v-4.4zm1,0h4.4l2.6,2.6v4.4l-2.6,2.6h-4.4l-2.6,-2.6v-4.4zm1,0h4.4l2.6,2.6v4.4l-2.6,2.6h-4.4l-2.6,-2.6v-4.4zm1,-1h4.4l2.6,2.6v4.4l-2.6,2.6h-4.4l-2.6,-2.6v-4.4zm1,0h4.4l2.6,2.6v4.4l-2.6,2.6h-4.4l-2.6,-2.6v-4.4zm1,0h4.4l2.6,2.6v4.4l-2.6,2.6h-4.4l-2.6,-2.6v-4.4zm1,-1h4.4l2.6,2.6v4.4l-2.6,2.6h-4.4l-2.6,-2.6v-4.4zm1,0h4.4l2.6,2.6v4.4l-2.6,2.6h-4.4l-2.6,-2.6v-4.4zm1,-1h4.4l2.6,2.6v4.4l-2.6,2.6h-4.4l-2.6,-2.6v-4.4zm1,0h4.4l2.6,2.6v4.4l-2.6,2.6h-4.4l-2.6,-2.6v-4.4zm1,0h4.4l2.6,2.6v4.4l-2.6,2.6h-4.4l-2.6,-2.6v-4.4zm1,-1h4.4l2.6,2.6v4.4l-2.6,2.6h-4.4l-2.6,-2.6v-4.4zm1,0h4.4l2.6,2.6v4.4l-2.6,2.6h-4.4l-2.6,-2.6v-4.4zm1,-1h4.4l2.6,2.6v4.4l-2.6,2.6h-4.4l-2.6,-2.6v-4.4zm1,0h4.4l2.6,2.6v4.4l-2.6,2.6h-4.4l-2.6,-2.6v-4.4zm1,0h4.4l2.6,2.6v4.4l-2.6,2.6h-4.4l-2.6,-2.6v-4.4zm1,-1h4.4l2.6,2.6v4.4l-2.6,2.6h-4.4l-2.6,-2.6v-4.4zm1,0h4.4l2.6,2.6v4.4l-2.6,2.6h-4.4l-2.6,-2.6v-4.4zm1,0h4.4l2.6,2.6v4.4l-2.6,2.6h-4.4l-2.6,-2.6v-4.4zm1,-1h4.4l2.6,2.6v4.4l-2.6,2.6h-4.4l-2.6,-2.6v-4.4zm1,0h4.4l2.6,2.6v4.4l-2.6,2.6h-4.4l-2.6,-2.6v-4.4zm1,-1h4.4l2.6,2.6v4.4l-2.6,2.6h-4.4l-2.6,-2.6v-4.4zm1,0h4.4l2.6,2.6v4.4l-2.6,2.6h-4.4l-2.6,-2.6v-4.4zm1,0h4.4l2.6,2.6v4.4l-2.6,2.6h-4.4l-2.6,-2.6v-4.4zm1,-1h4.4l2.6,2.6v4.4l-2.6,2.6h-4.4l-2.6,-2.6v-4.4zm1,0h4.4l2.6,2.6v4.4l-2.6,2.6h-4.4l-2.6,-2.6v-4.4zm1,-1h4.4l2.6,2.6v4.4l-2.6,2.6h-4.4l-2.6,-2.6v-4.4zm1,0h4.4l2.6,2.6v4.4l-2.6,2.6h-4.4l-2.6,-2.6v-4.4zm1,0h4.4l2.6,2.6v4.4l-2.6,2.6h-4.4l-2.6,-2.6v-4.4zm1,-1h4.4l2.6,2.6v4.4l-2.6,2.6h-4.4l-2.6,-2.6v-4.4zm1,0h4.4l2.6,2.6v4.4l-2.6,2.6h-4.4l-2.6,-2.6v-4.4zm1,-1h4.4l2.6,2.6v4.4l-2.6,2.6h-4.4l-2.6,-2.6v-4.4zm1,0h4.4l2.6,2.6v4.4l-2.6,2.6h-4.4l-2.6,-2.6v-4.4zm1,-1h4.4l2.6,2.6v4.4l-2.6,2.6h-4.4l-2.6,-2.6v-4.4zm1,0h4.4l2.6,2.6v4.4l-2.6,2.6h-4.4l-2.6,-2.6v-4.4zm1,0h4.4l2.6,2.6v4.4l-2.6,2.6h-4.4l-2.6,-2.6v-4.4zm1,-1h4.4l2.6,2.6v4.4l-2.6,2.6h-4.4l-2.6,-2.6v-4.4zm1,0h4.4l2.6,2.6v4.4l-2.6,2.6h-4.4l-2.6,-2.6v-4.4zm1,-1h4.4l2.6,2.6v4.4l-2.6,2.6h-4.4l-2.6,-2.6v-4.4zm1,0h4.4l2.6,2.6v4.4l-2.6,2.6h-4.4l-2.6,-2.6v-4.4zm1,0h4.4l2.6,2.6v4.4l-2.6,2.6h-4.4l-2.6,-2.6v-4.4zm1,-1h4.4l2.6,2.6v4.4l-2.6,2.6h-4.4l-2.6,-2.6v-4.4zm1,0h4.4l2.6,2.6v4.4l-2.6,2.6h-4.4l-2.6,-2.6v-4.4zm1,-1h4.4l2.6,2.6v4.4l-2.6,2.6h-4.4l-2.6,-2.6v-4.4zm1,0h4.4l2.6,2.6v4.4l-2.6,2.6h-4.4l-2.6,-2.6v-4.4zm1,0h4.4l2.6,2.6v4.4l-2.6,2.6h-4.4l-2.6,-2.6v-4.4zm1,-1h4.4l2.6,2.6v4.4l-2.6,2.6h-4.4l-2.6,-2.6v-4.4zm1,0h4.4l2.6,2.6v4.4l-2.6,2.6h-4.4l-2.6,-2.6v-4.4zm1,-1h4.4l2.6,2.6v4.4l-2.6,2.6h-4.4l-2.6,-2.6v-4.4zm1,0h4.4l2.6,2.6v4.4l-2.6,2.6h-4.4l-2.6,-2.6v-4.4zm1,-1h4.4l2.6,2.6v4.4l-2.6,2.6h-4.4l-2.6,-2.6v-4.4zm1,0h4.4l2.6,2.6v4.4l-2.6,2.6h-4.4l-2.6,-2.6v-4.4zm1,0h4.4l2.6,2.6v4.4l-2.6,2.6h-4.4l-2.6,-2.6v-4.4zm1,-1h4.4l2.6,2.6v4.4l-2.6,2.6h-4.4l-2.6,-2.6v-4.4zm1,0h4.4l2.6,2.6v4.4l-2.6,2.6h-4.4l-2.6,-2.6v-4.4zm1,-1h4.4l2.6,2.6v4.4l-2.6,2.6h-4.4l-2.6,-2.6v-4.4zm1,0h4.4l2.6,2.6v4.4l-2.6,2.6h-4.4l-2.6,-2.6v-4.4zm1,-1h4.4l2.6,2.6v4.4l-2.6,2.6h-4.4l-2.6,-2.6v-4.4zm1,0h4.4l2.6,2.6v4.4l-2.6,2.6h-4.4l-2.6,-2.6v-4.4zm1,0h4.4l2.6,2.6v4.4l-2.6,2.6h-4.4l-2.6,-2.6v-4.4zm1,-1h4.4l2.6,2.6v4.4l-2.6,2.6h-4.4l-2.6,-2.6v-4.4zm1,0h4.4l2.6,2.6v4.4l-2.6,2.6h-4.4l-2.6,-2.6v-4.4zm1,-1h4.4l2.6,2.6v4.4l-2.6,2.6h-4.4l-2.6,-2.6v-4.4zm1,0h4.4l2.6,2.6v4.4l-2.6,2.6h-4.4l-2.6,-2.6v-4.4zm1,-1h4.4l2.6,2.6v4.4l-2.6,2.6h-4.4l-2.6,-2.6v-4.4zm1,0h4.4l2.6,2.6v4.4l-2.6,2.6h-4.4l-2.6,-2.6v-4.4zm1,0h4.4l2.6,2.6v4.4l-2.6,2.6h-4.4l-2.6,-2.6v-4.4zm1,-1h4.4l2.6,2.6v4.4l-2.6,2.6h-4.4l-2.6,-2.6v-4.4zm1,0h4.4l2.6,2.6v4.4l-2.6,2.6h-4.4l-2.6,-2.6v-4.4zm1,-1h4.4l2.6,2.6v4.4l-2.6,2.6h-4.4l-2.6,-2.6v-4.4zm1,0h4.4l2.6,2.6v4.4l-2.6,2.6h-4.4l-2.6,-2.6v-4.4zm1,-1h4.4l2.6,2.6v4.4l-2.6,2.6h-4.4l-2.6,-2.6v-4.4zm1,0h4.4l2.6,2.6v4.4l-2.6,2.6h-4.4l-2.6,-2.6v-4.4zm1,-1h4.4l2.6,2.6v4.4l-2.6,2.6h-4.4l-2.6,-2.6v-4.4zm1,0h4.4l2.6,2.6v4.4l-2.6,2.6h-4.4l-2.6,-2.6v-4.4zm1,0h4.4l2.6,2.6v4.4l-2.6,2.6h-4.4l-2.6,-2.6v-4.4zm1,-1h4.4l2.6,2.6v4.4l-2.6,2.6h-4.4l-2.6,-2.6v-4.4zm1,0h4.4l2.6,2.6v4.4l-2.6,2.6h-4.4l-2.6,-2.6v-4.4zm1,-1h4.4l2.6,2.6v4.4l-2.6,2.6h-4.4l-2.6,-2.6v-4.4zm1,0h4.4l2.6,2.6v4.4l-2.6,2.6h-4.4l-2.6,-2.6v-4.4zm1,-1h4.4l2.6,2.6v4.4l-2.6,2.6h-4.4l-2.6,-2.6v-4.4zm1,0h4.4l2.6,2.6v4.4l-2.6,2.6h-4.4l-2.6,-2.6v-4.4zm1,-1h4.4l2.6,2.6v4.4l-2.6,2.6h-4.4l-2.6,-2.6v-4.4zm1,0h4.4l2.6,2.6v4.4l-2.6,2.6h-4.4l-2.6,-2.6v-4.4zm1,0h4.4l2.6,2.6v4.4l-2.6,2.6h-4.4l-2.6,-2.6v-4.4zm1,-1h4.4l2.6,2.6v4.4l-2.6,2.6h-4.4l-2.6,-2.6v-4.4zm1,0h4.4l2.6,2.6v4.4l-2.6,2.6h-4.4l-2.6,-2.6v-4.4zm1,-1h4.4l2.6,2.6v4.4l-2.6,2.6h-4.4l-2.6,-2.6v-4.4zm1,0h4.4l2.6,2.6v4.4l-2.6,2.6h-4.4l-2.6,-2.6v-4.4zm1,-1h4.4l2.6,2.6v4.4l-2.6,2.6h-4.4l-2.6,-2.6v-4.4zm1,0h4.4l2.6,2.6v4.4l-2.6,2.6h-4.4l-2.6,-2.6v-4.4zm1,-1h4.4l2.6,2.6v4.4l-2.6,2.6h-4.4l-2.6,-2.6v-4.4zm1,0h4.4l2.6,2.6v4.4l-2.6,2.6h-4.4l-2.6,-2.6v-4.4zm1,-1h4.4l2.6,2.6v4.4l-2.6,2.6h-4.4l-2.6,-2.6v-4.4zm1,0h4.4l2.6,2.6v4.4l-2.6,2.6h-4.4l-2.6,-2.6v-4.4zm1,-1h4.4l2.6,2.6v4.4l-2.6,2.6h-4.4l-2.6,-2.6v-4.4zm1,0h4.4l2.6,2.6v4.4l-2.6,2.6h-4.4l-2.6,-2.6v-4.4zm1,0h4.4l2.6,2.6v4.4l-2.6,2.6h-4.4l-2.6,-2.6v-4.4zm1,-1h4.4l2.6,2.6v4.4l-2.6,2.6h-4.4l-2.6,-2.6v-4.4zm1,0h4.4l2.6,2.6v4.4l-2.6,2.6h-4.4l-2.6,-2.6v-4.4zm1,-1h4.4l2.6,2.6v4.4l-2.6,2.6h-4.4l-2.6,-2.6v-4.4zm1,0h4.4l2.6,2.6v4.4l-2.6,2.6h-4.4l-2.6,-2.6v-4.4zm1,-1h4.4l2.6,2.6v4.4l-2.6,2.6h-4.4l-2.6,-2.6v-4.4zm1,0h4.4l2.6,2.6v4.4l-2.6,2.6h-4.4l-2.6,-2.6v-4.4zm1,-1h4.4l2.6,2.6v4.4l-2.6,2.6h-4.4l-2.6,-2.6v-4.4zm1,0h4.4l2.6,2.6v4.4l-2.6,2.6h-4.4l-2.6,-2.6v-4.4zm1,-1h4.4l2.6,2.6v4.4l-2.6,2.6h-4.4l-2.6,-2.6v-4.4zm1,0h4.4l2.6,2.6v4.4l-2.6,2.6h-4.4l-2.6,-2.6v-4.4zm1,-1h4.4l2.6,2.6v4.4l-2.6,2.6h-4.4l-2.6,-2.6v-4.4zm1,0h4.4l2.6,2.6v4.4l-2.6,2.6h-4.4l-2.6,-2.6v-4.4zm1,-1h4.4l2.6,2.6v4.4l-2.6,2.6h-4.4l-2.6,-2.6v-4.4zm1,0h4.4l2.6,2.6v4.4l-2.6,2.6h-4.4l-2.6,-2.6v-4.4zm1,-1h4.4l2.6,2.6v4.4l-2.6,2.6h-4.4l-2.6,-2.6v-4.4zm1,0h4.4l2.6,2.6v4.4l-2.6,2.6h-4.4l-2.6,-2.6v-4.4zm1,-1h4.4l2.6,2.6v4.4l-2.6,2.6h-4.4l-2.6,-2.6v-4.4zm1,0h4.4l2.6,2.6v4.4l-2.6,2.6h-4.4l-2.6,-2.6v-4.4zm1,0h4.4l2.6,2.6v4.4l-2.6,2.6h-4.4l-2.6,-2.6v-4.4zm1,-1h4.4l2.6,2.6v4.4l-2.6,2.6h-4.4l-2.6,-2.6v-4.4zm1,0h4.4l2.6,2.6v4.4l-2.6,2.6h-4.4l-2.6,-2.6v-4.4zm1,-1h4.4l2.6,2.6v4.4l-2.6,2.6h-4.4l-2.6,-2.6v-4.4zm1,0h4.4l2.6,2.6v4.4l-2.6,2.6h-4.4l-2.6,-2.6v-4.4zm1,-1h4.4l2.6,2.6v4.4l-2.6,2.6h-4.4l-2.6,-2.6v-4.4zm1,0h4.4l2.6,2.6v4.4l-2.6,2.6h-4.4l-2.6,-2.6v-4.4zm1,-1h4.4l2.6,2.6v4.4l-2.6,2.6h-4.4l-2.6,-2.6v-4.4zm1,0h4.4l2.6,2.6v4.4l-2.6,2.6h-4.4l-2.6,-2.6v-4.4zm1,-1h4.4l2.6,2.6v4.4l-2.6,2.6h-4.4l-2.6,-2.6v-4.4zm1,0h4.4l2.6,2.6v4.4l-2.6,2.6h-4.4l-2.6,-2.6v-4.4zm1,-1h4.4l2.6,2.6v4.4l-2.6,2.6h-4.4l-2.6,-2.6v-4.4zm1,0h4.4l2.6,2.6v4.4l-2.6,2.6h-4.4l-2.6,-2.6v-4.4zm1,-1h4.4l2.6,2.6v4.4l-2.6,2.6h-4.4l-2.6,-2.6v-4.4zm1,0h4.4l2.6,2.6v4.4l-2.6,2.6h-4.4l-2.6,-2.6v-4.4zm1,-1h4.4l2.6,2.6v4.4l-2.6,2.6h-4.4l-2.6,-2.6v-4.4zm1,0h4.4l2.6,2.6v4.4l-2.6,2.6h-4.4l-2.6,-2.6v-4.4zm1,-1h4.4l2.6,2.6v4.4l-2.6,2.6h-4.4l-2.6,-2.6v-4.4zm1,0h4.4l2.6,2.6v4.4l-2.6,2.6h-4.4l-2.6,-2.6v-4.4zm1,-1h4.4l2.6,2.6v4.4l-2.6,2.6h-4.4l-2.6,-2.6v-4.4zm1,0h4.4l2.6,2.6v4.4l-2.6,2.6h-4.4l-2.6,-2.6v-4.4zm1,-1h4.4l2.6,2.6v4.4l-2.6,2.6h-4.4l-2.6,-2.6v-4.4zm1,0h4.4l2.6,2.6v4.4l-2.6,2.6h-4.4l-2.6,-2.6v-4.4zm1,-1h4.4l2.6,2.6v4.4l-2.6,2.6h-4.4l-2.6,-2.6v-4.4zm1,0h4.4l2.6,2.6v4.4l-2.6,2.6h-4.4l-2.6,-2.6v-4.4zm1,-1h4.4l2.6,2.6v4.4l-2.6,2.6h-4.4l-2.6,-2.6v-4.4zm1,0h4.4l2.6,2.6v4.4l-2.6,2.6h-4.4l-2.6,-2.6v-4.4zm1,-1h4.4l2.6,2.6v4.4l-2.6,2.6h-4.4l-2.6,-2.6v-4.4zm1,0h4.4l2.6,2.6v4.4l-2.6,2.6h-4.4l-2.6,-2.6v-4.4zm1,-1h4.4l2.6,2.6v4.4l-2.6,2.6h-4.4l-2.6,-2.6v-4.4zm1,0h4.4l2.6,2.6v4.4l-2.6,2.6h-4.4l-2.6,-2.6v-4.4zm1,-1h4.4l2.6,2.6v4.4l-2.6,2.6h-4.4l-2.6,-2.6v-4.4zm1,0h4.4l2.6,2.6v4.4l-2.6,2.6h-4.4l-2.6,-2.6v-4.4zm1,-1h4.4l2.6,2.6v4.4l-2.6,2.6h-4.4l-2.6,-2.6v-4.4zm1,-1h4.4l2.6,2.6v4.4l-2.6,2.6h-4.4l-2.6,-2.6v-4.4zm1,0h4.4l2.6,2.6v4.4l-2.6,2.6h-4.4l-2.6,-2.6v-4.4zm1,-1h4.4l2.6,2.6v4.4l-2.6,2.6h-4.4l-2.6,-2.6v-4.4zm1,0h4.4l2.6,2.6v4.4l-2.6,2.6h-4.4l-2.6,-2.6v-4.4zm1,-1h4.4l2.6,2.6v4.4l-2.6,2.6h-4.4l-2.6,-2.6v-4.4zm1,0h4.4l2.6,2.6v4.4l-2.6,2.6h-4.4l-2.6,-2.6v-4.4zm1,-1h4.4l2.6,2.6v4.4l-2.6,2.6h-4.4l-2.6,-2.6v-4.4zm1,0h4.4l2.6,2.6v4.4l-2.6,2.6h-4.4l-2.6,-2.6v-4.4zm1,-1h4.4l2.6,2.6v4.4l-2.6,2.6h-4.4l-2.6,-2.6v-4.4zm1,0h4.4l2.6,2.6v4.4l-2.6,2.6h-4.4l-2.6,-2.6v-4.4zm1,-1h4.4l2.6,2.6v4.4l-2.6,2.6h-4.4l-2.6,-2.6v-4.4zm1,0h4.4l2.6,2.6v4.4l-2.6,2.6h-4.4l-2.6,-2.6v-4.4zm1,-1h4.4l2.6,2.6v4.4l-2.6,2.6h-4.4l-2.6,-2.6v-4.4zm1,0h4.4l2.6,2.6v4.4l-2.6,2.6h-4.4l-2.6,-2.6v-4.4zm1,-1h4.4l2.6,2.6v4.4l-2.6,2.6h-4.4l-2.6,-2.6v-4.4zm1,0h4.4l2.6,2.6v4.4l-2.6,2.6h-4.4l-2.6,-2.6v-4.4zm1,-1h4.4l2.6,2.6v4.4l-2.6,2.6h-4.4l-2.6,-2.6v-4.4zm1,0h4.4l2.6,2.6v4.4l-2.6,2.6h-4.4l-2.6,-2.6v-4.4zm1,-1h4.4l2.6,2.6v4.4l-2.6,2.6h-4.4l-2.6,-2.6v-4.4zm1,-1h4.4l2.6,2.6v4.4l-2.6,2.6h-4.4l-2.6,-2.6v-4.4zm1,0h4.4l2.6,2.6v4.4l-2.6,2.6h-4.4l-2.6,-2.6v-4.4zm1,-1h4.4l2.6,2.6v4.4l-2.6,2.6h-4.4l-2.6,-2.6v-4.4zm1,0h4.4l2.6,2.6v4.4l-2.6,2.6h-4.4l-2.6,-2.6v-4.4zm1,-1h4.4l2.6,2.6v4.4l-2.6,2.6h-4.4l-2.6,-2.6v-4.4zm1,0h4.4l2.6,2.6v4.4l-2.6,2.6h-4.4l-2.6,-2.6v-4.4zm1,-1h4.4l2.6,2.6v4.4l-2.6,2.6h-4.4l-2.6,-2.6v-4.4zm1,0h4.4l2.6,2.6v4.4l-2.6,2.6h-4.4l-2.6,-2.6v-4.4zm1,-1h4.4l2.6,2.6v4.4l-2.6,2.6h-4.4l-2.6,-2.6v-4.4zm1,0h4.4l2.6,2.6v4.4l-2.6,2.6h-4.4l-2.6,-2.6v-4.4zm1,-1h4.4l2.6,2.6v4.4l-2.6,2.6h-4.4l-2.6,-2.6v-4.4zm1,-1h4.4l2.6,2.6v4.4l-2.6,2.6h-4.4l-2.6,-2.6v-4.4zm-2,0h4.4l2.6,2.6v4.4l-2.6,2.6h-4.4l-2.6,-2.6v-4.4zm1,0h4.4l2.6,2.6v4.4l-2.6,2.6h-4.4l-2.6,-2.6v-4.4zm1,0h4.4l2.6,2.6v4.4l-2.6,2.6h-4.4l-2.6,-2.6v-4.4zm1,0h4.4l2.6,2.6v4.4l-2.6,2.6h-4.4l-2.6,-2.6v-4.4zm1,0h4.4l2.6,2.6v4.4l-2.6,2.6h-4.4l-2.6,-2.6v-4.4zm1,0h4.4l2.6,2.6v4.4l-2.6,2.6h-4.4l-2.6,-2.6v-4.4zm1,0h4.4l2.6,2.6v4.4l-2.6,2.6h-4.4l-2.6,-2.6v-4.4zm1,0h4.4l2.6,2.6v4.4l-2.6,2.6h-4.4l-2.6,-2.6v-4.4zm1,0h4.4l2.6,2.6v4.4l-2.6,2.6h-4.4l-2.6,-2.6v-4.4zm1,0h4.4l2.6,2.6v4.4l-2.6,2.6h-4.4l-2.6,-2.6v-4.4zm1,0h4.4l2.6,2.6v4.4l-2.6,2.6h-4.4l-2.6,-2.6v-4.4zm1,0h4.4l2.6,2.6v4.4l-2.6,2.6h-4.4l-2.6,-2.6v-4.4zm1,0h4.4l2.6,2.6v4.4l-2.6,2.6h-4.4l-2.6,-2.6v-4.4zm1,0h4.4l2.6,2.6v4.4l-2.6,2.6h-4.4l-2.6,-2.6v-4.4zm1,0h4.4l2.6,2.6v4.4l-2.6,2.6h-4.4l-2.6,-2.6v-4.4zm1,0h4.4l2.6,2.6v4.4l-2.6,2.6h-4.4l-2.6,-2.6v-4.4zm1,0h4.4l2.6,2.6v4.4l-2.6,2.6h-4.4l-2.6,-2.6v-4.4zm1,0h4.4l2.6,2.6v4.4l-2.6,2.6h-4.4l-2.6,-2.6v-4.4zm1,0h4.4l2.6,2.6v4.4l-2.6,2.6h-4.4l-2.6,-2.6v-4.4zm1,0h4.4l2.6,2.6v4.4l-2.6,2.6h-4.4l-2.6,-2.6v-4.4zm1,0h4.4l2.6,2.6v4.4l-2.6,2.6h-4.4l-2.6,-2.6v-4.4zm1,0h4.4l2.6,2.6v4.4l-2.6,2.6h-4.4l-2.6,-2.6v-4.4zm1,0h4.4l2.6,2.6v4.4l-2.6,2.6h-4.4l-2.6,-2.6v-4.4zm1,0h4.4l2.6,2.6v4.4l-2.6,2.6h-4.4l-2.6,-2.6v-4.4zm1,0h4.4l2.6,2.6v4.4l-2.6,2.6h-4.4l-2.6,-2.6v-4.4zm1,0h4.4l2.6,2.6v4.4l-2.6,2.6h-4.4l-2.6,-2.6v-4.4zm1,0h4.4l2.6,2.6v4.4l-2.6,2.6h-4.4l-2.6,-2.6v-4.4zm1,0h4.4l2.6,2.6v4.4l-2.6,2.6h-4.4l-2.6,-2.6v-4.4zm1,0h4.4l2.6,2.6v4.4l-2.6,2.6h-4.4l-2.6,-2.6v-4.4zm1,0h4.4l2.6,2.6v4.4l-2.6,2.6h-4.4l-2.6,-2.6v-4.4zm1,0h4.4l2.6,2.6v4.4l-2.6,2.6h-4.4l-2.6,-2.6v-4.4zm1,0h4.4l2.6,2.6v4.4l-2.6,2.6h-4.4l-2.6,-2.6v-4.4zm1,0h4.4l2.6,2.6v4.4l-2.6,2.6h-4.4l-2.6,-2.6v-4.4zm1,0h4.4l2.6,2.6v4.4l-2.6,2.6h-4.4l-2.6,-2.6v-4.4zm1,1h4.4l2.6,2.6v4.4l-2.6,2.6h-4.4l-2.6,-2.6v-4.4zm1,0h4.4l2.6,2.6v4.4l-2.6,2.6h-4.4l-2.6,-2.6v-4.4zm1,0h4.4l2.6,2.6v4.4l-2.6,2.6h-4.4l-2.6,-2.6v-4.4zm1,0h4.4l2.6,2.6v4.4l-2.6,2.6h-4.4l-2.6,-2.6v-4.4zm1,0h4.4l2.6,2.6v4.4l-2.6,2.6h-4.4l-2.6,-2.6v-4.4zm1,0h4.4l2.6,2.6v4.4l-2.6,2.6h-4.4l-2.6,-2.6v-4.4zm1,0h4.4l2.6,2.6v4.4l-2.6,2.6h-4.4l-2.6,-2.6v-4.4zm1,0h4.4l2.6,2.6v4.4l-2.6,2.6h-4.4l-2.6,-2.6v-4.4zm1,0h4.4l2.6,2.6v4.4l-2.6,2.6h-4.4l-2.6,-2.6v-4.4zm1,0h4.4l2.6,2.6v4.4l-2.6,2.6h-4.4l-2.6,-2.6v-4.4zm1,0h4.4l2.6,2.6v4.4l-2.6,2.6h-4.4l-2.6,-2.6v-4.4zm1,0h4.4l2.6,2.6v4.4l-2.6,2.6h-4.4l-2.6,-2.6v-4.4zm1,0h4.4l2.6,2.6v4.4l-2.6,2.6h-4.4l-2.6,-2.6v-4.4zm1,0h4.4l2.6,2.6v4.4l-2.6,2.6h-4.4l-2.6,-2.6v-4.4zm1,0h4.4l2.6,2.6v4.4l-2.6,2.6h-4.4l-2.6,-2.6v-4.4zm1,0h4.4l2.6,2.6v4.4l-2.6,2.6h-4.4l-2.6,-2.6v-4.4zm1,0h4.4l2.6,2.6v4.4l-2.6,2.6h-4.4l-2.6,-2.6v-4.4zm1,0h4.4l2.6,2.6v4.4l-2.6,2.6h-4.4l-2.6,-2.6v-4.4zm1,0h4.4l2.6,2.6v4.4l-2.6,2.6h-4.4l-2.6,-2.6v-4.4zm1,0h4.4l2.6,2.6v4.4l-2.6,2.6h-4.4l-2.6,-2.6v-4.4zm1,0h4.4l2.6,2.6v4.4l-2.6,2.6h-4.4l-2.6,-2.6v-4.4zm1,0h4.4l2.6,2.6v4.4l-2.6,2.6h-4.4l-2.6,-2.6v-4.4zm1,0h4.4l2.6,2.6v4.4l-2.6,2.6h-4.4l-2.6,-2.6v-4.4zm1,0h4.4l2.6,2.6v4.4l-2.6,2.6h-4.4l-2.6,-2.6v-4.4zm1,0h4.4l2.6,2.6v4.4l-2.6,2.6h-4.4l-2.6,-2.6v-4.4zm1,0h4.4l2.6,2.6v4.4l-2.6,2.6h-4.4l-2.6,-2.6v-4.4zm1,0h4.4l2.6,2.6v4.4l-2.6,2.6h-4.4l-2.6,-2.6v-4.4zm1,0h4.4l2.6,2.6v4.4l-2.6,2.6h-4.4l-2.6,-2.6v-4.4zm1,0h4.4l2.6,2.6v4.4l-2.6,2.6h-4.4l-2.6,-2.6v-4.4zm1,0h4.4l2.6,2.6v4.4l-2.6,2.6h-4.4l-2.6,-2.6v-4.4zm1,0h4.4l2.6,2.6v4.4l-2.6,2.6h-4.4l-2.6,-2.6v-4.4zm1,0h4.4l2.6,2.6v4.4l-2.6,2.6h-4.4l-2.6,-2.6v-4.4zm1,0h4.4l2.6,2.6v4.4l-2.6,2.6h-4.4l-2.6,-2.6v-4.4zm1,0h4.4l2.6,2.6v4.4l-2.6,2.6h-4.4l-2.6,-2.6v-4.4zm1,0h4.4l2.6,2.6v4.4l-2.6,2.6h-4.4l-2.6,-2.6v-4.4zm1,0h4.4l2.6,2.6v4.4l-2.6,2.6h-4.4l-2.6,-2.6v-4.4zm1,0h4.4l2.6,2.6v4.4l-2.6,2.6h-4.4l-2.6,-2.6v-4.4zm1,0h4.4l2.6,2.6v4.4l-2.6,2.6h-4.4l-2.6,-2.6v-4.4zm1,0h4.4l2.6,2.6v4.4l-2.6,2.6h-4.4l-2.6,-2.6v-4.4zm1,0h4.4l2.6,2.6v4.4l-2.6,2.6h-4.4l-2.6,-2.6v-4.4zm1,0h4.4l2.6,2.6v4.4l-2.6,2.6h-4.4l-2.6,-2.6v-4.4zm1,0h4.4l2.6,2.6v4.4l-2.6,2.6h-4.4l-2.6,-2.6v-4.4zm1,0h4.4l2.6,2.6v4.4l-2.6,2.6h-4.4l-2.6,-2.6v-4.4zm1,0h4.4l2.6,2.6v4.4l-2.6,2.6h-4.4l-2.6,-2.6v-4.4zm1,0h4.4l2.6,2.6v4.4l-2.6,2.6h-4.4l-2.6,-2.6v-4.4zm1,1h4.4l2.6,2.6v4.4l-2.6,2.6h-4.4l-2.6,-2.6v-4.4zm1,0h4.4l2.6,2.6v4.4l-2.6,2.6h-4.4l-2.6,-2.6v-4.4zm1,0h4.4l2.6,2.6v4.4l-2.6,2.6h-4.4l-2.6,-2.6v-4.4zm1,0h4.4l2.6,2.6v4.4l-2.6,2.6h-4.4l-2.6,-2.6v-4.4zm1,0h4.4l2.6,2.6v4.4l-2.6,2.6h-4.4l-2.6,-2.6v-4.4zm1,0h4.4l2.6,2.6v4.4l-2.6,2.6h-4.4l-2.6,-2.6v-4.4zm1,0h4.4l2.6,2.6v4.4l-2.6,2.6h-4.4l-2.6,-2.6v-4.4zm1,0h4.4l2.6,2.6v4.4l-2.6,2.6h-4.4l-2.6,-2.6v-4.4zm1,0h4.4l2.6,2.6v4.4l-2.6,2.6h-4.4l-2.6,-2.6v-4.4zm1,0h4.4l2.6,2.6v4.4l-2.6,2.6h-4.4l-2.6,-2.6v-4.4zm1,0h4.4l2.6,2.6v4.4l-2.6,2.6h-4.4l-2.6,-2.6v-4.4zm1,0h4.4l2.6,2.6v4.4l-2.6,2.6h-4.4l-2.6,-2.6v-4.4zm1,0h4.4l2.6,2.6v4.4l-2.6,2.6h-4.4l-2.6,-2.6v-4.4zm1,0h4.4l2.6,2.6v4.4l-2.6,2.6h-4.4l-2.6,-2.6v-4.4zm1,0h4.4l2.6,2.6v4.4l-2.6,2.6h-4.4l-2.6,-2.6v-4.4zm1,0h4.4l2.6,2.6v4.4l-2.6,2.6h-4.4l-2.6,-2.6v-4.4zm1,0h4.4l2.6,2.6v4.4l-2.6,2.6h-4.4l-2.6,-2.6v-4.4zm1,0h4.4l2.6,2.6v4.4l-2.6,2.6h-4.4l-2.6,-2.6v-4.4zm1,0h4.4l2.6,2.6v4.4l-2.6,2.6h-4.4l-2.6,-2.6v-4.4zm1,0h4.4l2.6,2.6v4.4l-2.6,2.6h-4.4l-2.6,-2.6v-4.4zm1,0h4.4l2.6,2.6v4.4l-2.6,2.6h-4.4l-2.6,-2.6v-4.4zm1,0h4.4l2.6,2.6v4.4l-2.6,2.6h-4.4l-2.6,-2.6v-4.4zm1,0h4.4l2.6,2.6v4.4l-2.6,2.6h-4.4l-2.6,-2.6v-4.4zm1,0h4.4l2.6,2.6v4.4l-2.6,2.6h-4.4l-2.6,-2.6v-4.4zm1,0h4.4l2.6,2.6v4.4l-2.6,2.6h-4.4l-2.6,-2.6v-4.4zm1,0h4.4l2.6,2.6v4.4l-2.6,2.6h-4.4l-2.6,-2.6v-4.4zm1,0h4.4l2.6,2.6v4.4l-2.6,2.6h-4.4l-2.6,-2.6v-4.4zm1,0h4.4l2.6,2.6v4.4l-2.6,2.6h-4.4l-2.6,-2.6v-4.4zm1,0h4.4l2.6,2.6v4.4l-2.6,2.6h-4.4l-2.6,-2.6v-4.4zm1,0h4.4l2.6,2.6v4.4l-2.6,2.6h-4.4l-2.6,-2.6v-4.4zm1,0h4.4l2.6,2.6v4.4l-2.6,2.6h-4.4l-2.6,-2.6v-4.4zm1,0h4.4l2.6,2.6v4.4l-2.6,2.6h-4.4l-2.6,-2.6v-4.4zm1,0h4.4l2.6,2.6v4.4l-2.6,2.6h-4.4l-2.6,-2.6v-4.4zm1,0h4.4l2.6,2.6v4.4l-2.6,2.6h-4.4l-2.6,-2.6v-4.4zm1,0h4.4l2.6,2.6v4.4l-2.6,2.6h-4.4l-2.6,-2.6v-4.4zm1,1h4.4l2.6,2.6v4.4l-2.6,2.6h-4.4l-2.6,-2.6v-4.4zm1,0h4.4l2.6,2.6v4.4l-2.6,2.6h-4.4l-2.6,-2.6v-4.4zm1,0h4.4l2.6,2.6v4.4l-2.6,2.6h-4.4l-2.6,-2.6v-4.4zm1,0h4.4l2.6,2.6v4.4l-2.6,2.6h-4.4l-2.6,-2.6v-4.4zm1,0h4.4l2.6,2.6v4.4l-2.6,2.6h-4.4l-2.6,-2.6v-4.4zm1,0h4.4l2.6,2.6v4.4l-2.6,2.6h-4.4l-2.6,-2.6v-4.4zm1,0h4.4l2.6,2.6v4.4l-2.6,2.6h-4.4l-2.6,-2.6v-4.4zm1,0h4.4l2.6,2.6v4.4l-2.6,2.6h-4.4l-2.6,-2.6v-4.4zm1,0h4.4l2.6,2.6v4.4l-2.6,2.6h-4.4l-2.6,-2.6v-4.4zm1,0h4.4l2.6,2.6v4.4l-2.6,2.6h-4.4l-2.6,-2.6v-4.4zm1,0h4.4l2.6,2.6v4.4l-2.6,2.6h-4.4l-2.6,-2.6v-4.4zm1,0h4.4l2.6,2.6v4.4l-2.6,2.6h-4.4l-2.6,-2.6v-4.4zm1,0h4.4l2.6,2.6v4.4l-2.6,2.6h-4.4l-2.6,-2.6v-4.4zm1,0h4.4l2.6,2.6v4.4l-2.6,2.6h-4.4l-2.6,-2.6v-4.4zm1,0h4.4l2.6,2.6v4.4l-2.6,2.6h-4.4l-2.6,-2.6v-4.4zm1,0h4.4l2.6,2.6v4.4l-2.6,2.6h-4.4l-2.6,-2.6v-4.4zm1,0h4.4l2.6,2.6v4.4l-2.6,2.6h-4.4l-2.6,-2.6v-4.4zm1,0h4.4l2.6,2.6v4.4l-2.6,2.6h-4.4l-2.6,-2.6v-4.4zm1,0h4.4l2.6,2.6v4.4l-2.6,2.6h-4.4l-2.6,-2.6v-4.4zm1,0h4.4l2.6,2.6v4.4l-2.6,2.6h-4.4l-2.6,-2.6v-4.4zm1,0h4.4l2.6,2.6v4.4l-2.6,2.6h-4.4l-2.6,-2.6v-4.4zm1,0h4.4l2.6,2.6v4.4l-2.6,2.6h-4.4l-2.6,-2.6v-4.4zm1,0h4.4l2.6,2.6v4.4l-2.6,2.6h-4.4l-2.6,-2.6v-4.4zm1,0h4.4l2.6,2.6v4.4l-2.6,2.6h-4.4l-2.6,-2.6v-4.4zm1,0h4.4l2.6,2.6v4.4l-2.6,2.6h-4.4l-2.6,-2.6v-4.4zm1,0h4.4l2.6,2.6v4.4l-2.6,2.6h-4.4l-2.6,-2.6v-4.4zm1,0h4.4l2.6,2.6v4.4l-2.6,2.6h-4.4l-2.6,-2.6v-4.4zm1,0h4.4l2.6,2.6v4.4l-2.6,2.6h-4.4l-2.6,-2.6v-4.4zm1,0h4.4l2.6,2.6v4.4l-2.6,2.6h-4.4l-2.6,-2.6v-4.4zm1,0h4.4l2.6,2.6v4.4l-2.6,2.6h-4.4l-2.6,-2.6v-4.4zm1,0h4.4l2.6,2.6v4.4l-2.6,2.6h-4.4l-2.6,-2.6v-4.4zm1,1h4.4l2.6,2.6v4.4l-2.6,2.6h-4.4l-2.6,-2.6v-4.4zm1,0h4.4l2.6,2.6v4.4l-2.6,2.6h-4.4l-2.6,-2.6v-4.4zm1,0h4.4l2.6,2.6v4.4l-2.6,2.6h-4.4l-2.6,-2.6v-4.4zm1,0h4.4l2.6,2.6v4.4l-2.6,2.6h-4.4l-2.6,-2.6v-4.4zm1,0h4.4l2.6,2.6v4.4l-2.6,2.6h-4.4l-2.6,-2.6v-4.4zm1,0h4.4l2.6,2.6v4.4l-2.6,2.6h-4.4l-2.6,-2.6v-4.4zm1,0h4.4l2.6,2.6v4.4l-2.6,2.6h-4.4l-2.6,-2.6v-4.4zm1,0h4.4l2.6,2.6v4.4l-2.6,2.6h-4.4l-2.6,-2.6v-4.4zm1,0h4.4l2.6,2.6v4.4l-2.6,2.6h-4.4l-2.6,-2.6v-4.4zm1,0h4.4l2.6,2.6v4.4l-2.6,2.6h-4.4l-2.6,-2.6v-4.4zm1,0h4.4l2.6,2.6v4.4l-2.6,2.6h-4.4l-2.6,-2.6v-4.4zm1,0h4.4l2.6,2.6v4.4l-2.6,2.6h-4.4l-2.6,-2.6v-4.4zm1,0h4.4l2.6,2.6v4.4l-2.6,2.6h-4.4l-2.6,-2.6v-4.4zm1,0h4.4l2.6,2.6v4.4l-2.6,2.6h-4.4l-2.6,-2.6v-4.4zm1,0h4.4l2.6,2.6v4.4l-2.6,2.6h-4.4l-2.6,-2.6v-4.4zm1,0h4.4l2.6,2.6v4.4l-2.6,2.6h-4.4l-2.6,-2.6v-4.4zm1,0h4.4l2.6,2.6v4.4l-2.6,2.6h-4.4l-2.6,-2.6v-4.4zm1,0h4.4l2.6,2.6v4.4l-2.6,2.6h-4.4l-2.6,-2.6v-4.4zm1,0h4.4l2.6,2.6v4.4l-2.6,2.6h-4.4l-2.6,-2.6v-4.4zm1,0h4.4l2.6,2.6v4.4l-2.6,2.6h-4.4l-2.6,-2.6v-4.4zm1,0h4.4l2.6,2.6v4.4l-2.6,2.6h-4.4l-2.6,-2.6v-4.4zm1,0h4.4l2.6,2.6v4.4l-2.6,2.6h-4.4l-2.6,-2.6v-4.4zm1,0h4.4l2.6,2.6v4.4l-2.6,2.6h-4.4l-2.6,-2.6v-4.4zm1,0h4.4l2.6,2.6v4.4l-2.6,2.6h-4.4l-2.6,-2.6v-4.4zm1,0h4.4l2.6,2.6v4.4l-2.6,2.6h-4.4l-2.6,-2.6v-4.4zm1,0h4.4l2.6,2.6v4.4l-2.6,2.6h-4.4l-2.6,-2.6v-4.4zm1,0h4.4l2.6,2.6v4.4l-2.6,2.6h-4.4l-2.6,-2.6v-4.4zm1,0h4.4l2.6,2.6v4.4l-2.6,2.6h-4.4l-2.6,-2.6v-4.4zm1,1h4.4l2.6,2.6v4.4l-2.6,2.6h-4.4l-2.6,-2.6v-4.4zm1,0h4.4l2.6,2.6v4.4l-2.6,2.6h-4.4l-2.6,-2.6v-4.4zm1,0h4.4l2.6,2.6v4.4l-2.6,2.6h-4.4l-2.6,-2.6v-4.4zm1,0h4.4l2.6,2.6v4.4l-2.6,2.6h-4.4l-2.6,-2.6v-4.4zm1,0h4.4l2.6,2.6v4.4l-2.6,2.6h-4.4l-2.6,-2.6v-4.4zm1,0h4.4l2.6,2.6v4.4l-2.6,2.6h-4.4l-2.6,-2.6v-4.4zm1,0h4.4l2.6,2.6v4.4l-2.6,2.6h-4.4l-2.6,-2.6v-4.4zm1,0h4.4l2.6,2.6v4.4l-2.6,2.6h-4.4l-2.6,-2.6v-4.4zm1,0h4.4l2.6,2.6v4.4l-2.6,2.6h-4.4l-2.6,-2.6v-4.4zm1,0h4.4l2.6,2.6v4.4l-2.6,2.6h-4.4l-2.6,-2.6v-4.4zm1,0h4.4l2.6,2.6v4.4l-2.6,2.6h-4.4l-2.6,-2.6v-4.4zm1,0h4.4l2.6,2.6v4.4l-2.6,2.6h-4.4l-2.6,-2.6v-4.4zm1,0h4.4l2.6,2.6v4.4l-2.6,2.6h-4.4l-2.6,-2.6v-4.4zm1,0h4.4l2.6,2.6v4.4l-2.6,2.6h-4.4l-2.6,-2.6v-4.4zm1,0h4.4l2.6,2.6v4.4l-2.6,2.6h-4.4l-2.6,-2.6v-4.4zm1,0h4.4l2.6,2.6v4.4l-2.6,2.6h-4.4l-2.6,-2.6v-4.4zm1,0h4.4l2.6,2.6v4.4l-2.6,2.6h-4.4l-2.6,-2.6v-4.4zm1,0h4.4l2.6,2.6v4.4l-2.6,2.6h-4.4l-2.6,-2.6v-4.4zm1,0h4.4l2.6,2.6v4.4l-2.6,2.6h-4.4l-2.6,-2.6v-4.4zm1,0h4.4l2.6,2.6v4.4l-2.6,2.6h-4.4l-2.6,-2.6v-4.4zm1,0h4.4l2.6,2.6v4.4l-2.6,2.6h-4.4l-2.6,-2.6v-4.4zm1,0h4.4l2.6,2.6v4.4l-2.6,2.6h-4.4l-2.6,-2.6v-4.4zm1,0h4.4l2.6,2.6v4.4l-2.6,2.6h-4.4l-2.6,-2.6v-4.4zm1,0h4.4l2.6,2.6v4.4l-2.6,2.6h-4.4l-2.6,-2.6v-4.4zm1,0h4.4l2.6,2.6v4.4l-2.6,2.6h-4.4l-2.6,-2.6v-4.4zm1,0h4.4l2.6,2.6v4.4l-2.6,2.6h-4.4l-2.6,-2.6v-4.4zm1,1h4.4l2.6,2.6v4.4l-2.6,2.6h-4.4l-2.6,-2.6v-4.4zm1,0h4.4l2.6,2.6v4.4l-2.6,2.6h-4.4l-2.6,-2.6v-4.4zm1,0h4.4l2.6,2.6v4.4l-2.6,2.6h-4.4l-2.6,-2.6v-4.4zm1,0h4.4l2.6,2.6v4.4l-2.6,2.6h-4.4l-2.6,-2.6v-4.4zm1,0h4.4l2.6,2.6v4.4l-2.6,2.6h-4.4l-2.6,-2.6v-4.4zm1,0h4.4l2.6,2.6v4.4l-2.6,2.6h-4.4l-2.6,-2.6v-4.4zm1,0h4.4l2.6,2.6v4.4l-2.6,2.6h-4.4l-2.6,-2.6v-4.4zm1,0h4.4l2.6,2.6v4.4l-2.6,2.6h-4.4l-2.6,-2.6v-4.4zm1,0h4.4l2.6,2.6v4.4l-2.6,2.6h-4.4l-2.6,-2.6v-4.4zm1,0h4.4l2.6,2.6v4.4l-2.6,2.6h-4.4l-2.6,-2.6v-4.4zm1,0h4.4l2.6,2.6v4.4l-2.6,2.6h-4.4l-2.6,-2.6v-4.4zm1,0h4.4l2.6,2.6v4.4l-2.6,2.6h-4.4l-2.6,-2.6v-4.4zm1,0h4.4l2.6,2.6v4.4l-2.6,2.6h-4.4l-2.6,-2.6v-4.4zm1,0h4.4l2.6,2.6v4.4l-2.6,2.6h-4.4l-2.6,-2.6v-4.4zm1,0h4.4l2.6,2.6v4.4l-2.6,2.6h-4.4l-2.6,-2.6v-4.4zm1,0h4.4l2.6,2.6v4.4l-2.6,2.6h-4.4l-2.6,-2.6v-4.4zm1,0h4.4l2.6,2.6v4.4l-2.6,2.6h-4.4l-2.6,-2.6v-4.4zm1,0h4.4l2.6,2.6v4.4l-2.6,2.6h-4.4l-2.6,-2.6v-4.4zm1,0h4.4l2.6,2.6v4.4l-2.6,2.6h-4.4l-2.6,-2.6v-4.4zm1,0h4.4l2.6,2.6v4.4l-2.6,2.6h-4.4l-2.6,-2.6v-4.4zm1,0h4.4l2.6,2.6v4.4l-2.6,2.6h-4.4l-2.6,-2.6v-4.4zm1,0h4.4l2.6,2.6v4.4l-2.6,2.6h-4.4l-2.6,-2.6v-4.4zm1,1h4.4l2.6,2.6v4.4l-2.6,2.6h-4.4l-2.6,-2.6v-4.4zm2,0h4.4l2.6,2.6v4.4l-2.6,2.6h-4.4l-2.6,-2.6v-4.4zm1,0h4.4l2.6,2.6v4.4l-2.6,2.6h-4.4l-2.6,-2.6v-4.4zm1,0h4.4l2.6,2.6v4.4l-2.6,2.6h-4.4l-2.6,-2.6v-4.4zm1,0h4.4l2.6,2.6v4.4l-2.6,2.6h-4.4l-2.6,-2.6v-4.4zm1,0h4.4l2.6,2.6v4.4l-2.6,2.6h-4.4l-2.6,-2.6v-4.4zm1,0h4.4l2.6,2.6v4.4l-2.6,2.6h-4.4l-2.6,-2.6v-4.4zm1,0h4.4l2.6,2.6v4.4l-2.6,2.6h-4.4l-2.6,-2.6v-4.4zm2,0h4.4l2.6,2.6v4.4l-2.6,2.6h-4.4l-2.6,-2.6v-4.4zm1,0h4.4l2.6,2.6v4.4l-2.6,2.6h-4.4l-2.6,-2.6v-4.4zm1,0h4.4l2.6,2.6v4.4l-2.6,2.6h-4.4l-2.6,-2.6v-4.4zm1,0h4.4l2.6,2.6v4.4l-2.6,2.6h-4.4l-2.6,-2.6v-4.4zm1,0h4.4l2.6,2.6v4.4l-2.6,2.6h-4.4l-2.6,-2.6v-4.4zm2,0h4.4l2.6,2.6v4.4l-2.6,2.6h-4.4l-2.6,-2.6v-4.4zm1,0h4.4l2.6,2.6v4.4l-2.6,2.6h-4.4l-2.6,-2.6v-4.4zm1,0h4.4l2.6,2.6v4.4l-2.6,2.6h-4.4l-2.6,-2.6v-4.4zm1,0h4.4l2.6,2.6v4.4l-2.6,2.6h-4.4l-2.6,-2.6v-4.4zm2,0h4.4l2.6,2.6v4.4l-2.6,2.6h-4.4l-2.6,-2.6v-4.4zm1,0h4.4l2.6,2.6v4.4l-2.6,2.6h-4.4l-2.6,-2.6v-4.4zm1,1h4.4l2.6,2.6v4.4l-2.6,2.6h-4.4l-2.6,-2.6v-4.4zm1,0h4.4l2.6,2.6v4.4l-2.6,2.6h-4.4l-2.6,-2.6v-4.4zm2,0h4.4l2.6,2.6v4.4l-2.6,2.6h-4.4l-2.6,-2.6v-4.4zm1,0h4.4l2.6,2.6v4.4l-2.6,2.6h-4.4l-2.6,-2.6v-4.4zm1,0h4.4l2.6,2.6v4.4l-2.6,2.6h-4.4l-2.6,-2.6v-4.4zm1,0h4.4l2.6,2.6v4.4l-2.6,2.6h-4.4l-2.6,-2.6v-4.4zm2,0h4.4l2.6,2.6v4.4l-2.6,2.6h-4.4l-2.6,-2.6v-4.4zm1,0h4.4l2.6,2.6v4.4l-2.6,2.6h-4.4l-2.6,-2.6v-4.4zm1,0h4.4l2.6,2.6v4.4l-2.6,2.6h-4.4l-2.6,-2.6v-4.4zm2,0h4.4l2.6,2.6v4.4l-2.6,2.6h-4.4l-2.6,-2.6v-4.4zm1,0h4.4l2.6,2.6v4.4l-2.6,2.6h-4.4l-2.6,-2.6v-4.4zm1,0h4.4l2.6,2.6v4.4l-2.6,2.6h-4.4l-2.6,-2.6v-4.4zm2,0h4.4l2.6,2.6v4.4l-2.6,2.6h-4.4l-2.6,-2.6v-4.4zm1,0h4.4l2.6,2.6v4.4l-2.6,2.6h-4.4l-2.6,-2.6v-4.4zm2,0h4.4l2.6,2.6v4.4l-2.6,2.6h-4.4l-2.6,-2.6v-4.4zm1,0h4.4l2.6,2.6v4.4l-2.6,2.6h-4.4l-2.6,-2.6v-4.4zm1,0h4.4l2.6,2.6v4.4l-2.6,2.6h-4.4l-2.6,-2.6v-4.4zm2,1h4.4l2.6,2.6v4.4l-2.6,2.6h-4.4l-2.6,-2.6v-4.4zm1,0h4.4l2.6,2.6v4.4l-2.6,2.6h-4.4l-2.6,-2.6v-4.4zm2,0h4.4l2.6,2.6v4.4l-2.6,2.6h-4.4l-2.6,-2.6v-4.4zm1,0h4.4l2.6,2.6v4.4l-2.6,2.6h-4.4l-2.6,-2.6v-4.4zm2,0h4.4l2.6,2.6v4.4l-2.6,2.6h-4.4l-2.6,-2.6v-4.4zm1,0h4.4l2.6,2.6v4.4l-2.6,2.6h-4.4l-2.6,-2.6v-4.4zm1,0h4.4l2.6,2.6v4.4l-2.6,2.6h-4.4l-2.6,-2.6v-4.4zm2,0h4.4l2.6,2.6v4.4l-2.6,2.6h-4.4l-2.6,-2.6v-4.4zm1,0h4.4l2.6,2.6v4.4l-2.6,2.6h-4.4l-2.6,-2.6v-4.4zm2,0h4.4l2.6,2.6v4.4l-2.6,2.6h-4.4l-2.6,-2.6v-4.4zm1,0h4.4l2.6,2.6v4.4l-2.6,2.6h-4.4l-2.6,-2.6v-4.4zm2,0h4.4l2.6,2.6v4.4l-2.6,2.6h-4.4l-2.6,-2.6v-4.4zm2,0h4.4l2.6,2.6v4.4l-2.6,2.6h-4.4l-2.6,-2.6v-4.4zm1,0h4.4l2.6,2.6v4.4l-2.6,2.6h-4.4l-2.6,-2.6v-4.4zm2,1h4.4l2.6,2.6v4.4l-2.6,2.6h-4.4l-2.6,-2.6v-4.4zm1,0h4.4l2.6,2.6v4.4l-2.6,2.6h-4.4l-2.6,-2.6v-4.4zm2,0h4.4l2.6,2.6v4.4l-2.6,2.6h-4.4l-2.6,-2.6v-4.4zm1,0h4.4l2.6,2.6v4.4l-2.6,2.6h-4.4l-2.6,-2.6v-4.4zm2,0h4.4l2.6,2.6v4.4l-2.6,2.6h-4.4l-2.6,-2.6v-4.4zm2,0h4.4l2.6,2.6v4.4l-2.6,2.6h-4.4l-2.6,-2.6v-4.4zm1,0h4.4l2.6,2.6v4.4l-2.6,2.6h-4.4l-2.6,-2.6v-4.4zm2,0h4.4l2.6,2.6v4.4l-2.6,2.6h-4.4l-2.6,-2.6v-4.4zm1,0h4.4l2.6,2.6v4.4l-2.6,2.6h-4.4l-2.6,-2.6v-4.4zm2,0h4.4l2.6,2.6v4.4l-2.6,2.6h-4.4l-2.6,-2.6v-4.4zm2,0h4.4l2.6,2.6v4.4l-2.6,2.6h-4.4l-2.6,-2.6v-4.4zm1,0h4.4l2.6,2.6v4.4l-2.6,2.6h-4.4l-2.6,-2.6v-4.4zm2,1h4.4l2.6,2.6v4.4l-2.6,2.6h-4.4l-2.6,-2.6v-4.4zm2,0h4.4l2.6,2.6v4.4l-2.6,2.6h-4.4l-2.6,-2.6v-4.4zm1,0h4.4l2.6,2.6v4.4l-2.6,2.6h-4.4l-2.6,-2.6v-4.4zm2,0h4.4l2.6,2.6v4.4l-2.6,2.6h-4.4l-2.6,-2.6v-4.4zm2,0h4.4l2.6,2.6v4.4l-2.6,2.6h-4.4l-2.6,-2.6v-4.4zm2,0h4.4l2.6,2.6v4.4l-2.6,2.6h-4.4l-2.6,-2.6v-4.4zm1,0h4.4l2.6,2.6v4.4l-2.6,2.6h-4.4l-2.6,-2.6v-4.4zm2,0h4.4l2.6,2.6v4.4l-2.6,2.6h-4.4l-2.6,-2.6v-4.4zm2,0h4.4l2.6,2.6v4.4l-2.6,2.6h-4.4l-2.6,-2.6v-4.4zm2,0h4.4l2.6,2.6v4.4l-2.6,2.6h-4.4l-2.6,-2.6v-4.4zm1,0h4.4l2.6,2.6v4.4l-2.6,2.6h-4.4l-2.6,-2.6v-4.4zm2,1h4.4l2.6,2.6v4.4l-2.6,2.6h-4.4l-2.6,-2.6v-4.4zm2,0h4.4l2.6,2.6v4.4l-2.6,2.6h-4.4l-2.6,-2.6v-4.4zm2,0h4.4l2.6,2.6v4.4l-2.6,2.6h-4.4l-2.6,-2.6v-4.4zm2,0h4.4l2.6,2.6v4.4l-2.6,2.6h-4.4l-2.6,-2.6v-4.4zm2,0h4.4l2.6,2.6v4.4l-2.6,2.6h-4.4l-2.6,-2.6v-4.4zm1,0h4.4l2.6,2.6v4.4l-2.6,2.6h-4.4l-2.6,-2.6v-4.4zm2,0h4.4l2.6,2.6v4.4l-2.6,2.6h-4.4l-2.6,-2.6v-4.4zm2,0h4.4l2.6,2.6v4.4l-2.6,2.6h-4.4l-2.6,-2.6v-4.4zm2,0h4.4l2.6,2.6v4.4l-2.6,2.6h-4.4l-2.6,-2.6v-4.4zm2,0h4.4l2.6,2.6v4.4l-2.6,2.6h-4.4l-2.6,-2.6v-4.4zm2,1h4.4l2.6,2.6v4.4l-2.6,2.6h-4.4l-2.6,-2.6v-4.4zm2,0h4.4l2.6,2.6v4.4l-2.6,2.6h-4.4l-2.6,-2.6v-4.4zm2,0h4.4l2.6,2.6v4.4l-2.6,2.6h-4.4l-2.6,-2.6v-4.4zm2,0h4.4l2.6,2.6v4.4l-2.6,2.6h-4.4l-2.6,-2.6v-4.4zm2,0h4.4l2.6,2.6v4.4l-2.6,2.6h-4.4l-2.6,-2.6v-4.4zm2,0h4.4l2.6,2.6v4.4l-2.6,2.6h-4.4l-2.6,-2.6v-4.4zm2,0h4.4l2.6,2.6v4.4l-2.6,2.6h-4.4l-2.6,-2.6v-4.4zm2,0h4.4l2.6,2.6v4.4l-2.6,2.6h-4.4l-2.6,-2.6v-4.4zm2,0h4.4l2.6,2.6v4.4l-2.6,2.6h-4.4l-2.6,-2.6v-4.4zm2,1h4.4l2.6,2.6v4.4l-2.6,2.6h-4.4l-2.6,-2.6v-4.4zm2,0h4.4l2.6,2.6v4.4l-2.6,2.6h-4.4l-2.6,-2.6v-4.4zm2,0h4.4l2.6,2.6v4.4l-2.6,2.6h-4.4l-2.6,-2.6v-4.4zm2,0h4.4l2.6,2.6v4.4l-2.6,2.6h-4.4l-2.6,-2.6v-4.4zm2,0h4.4l2.6,2.6v4.4l-2.6,2.6h-4.4l-2.6,-2.6v-4.4zm3,0h4.4l2.6,2.6v4.4l-2.6,2.6h-4.4l-2.6,-2.6v-4.4zm2,0h4.4l2.6,2.6v4.4l-2.6,2.6h-4.4l-2.6,-2.6v-4.4zm2,0h4.4l2.6,2.6v4.4l-2.6,2.6h-4.4l-2.6,-2.6v-4.4zm2,1h4.4l2.6,2.6v4.4l-2.6,2.6h-4.4l-2.6,-2.6v-4.4zm2,0h4.4l2.6,2.6v4.4l-2.6,2.6h-4.4l-2.6,-2.6v-4.4zm3,0h4.4l2.6,2.6v4.4l-2.6,2.6h-4.4l-2.6,-2.6v-4.4zm2,0h4.4l2.6,2.6v4.4l-2.6,2.6h-4.4l-2.6,-2.6v-4.4zm2,0h4.4l2.6,2.6v4.4l-2.6,2.6h-4.4l-2.6,-2.6v-4.4zm3,0h4.4l2.6,2.6v4.4l-2.6,2.6h-4.4l-2.6,-2.6v-4.4zm2,0h4.4l2.6,2.6v4.4l-2.6,2.6h-4.4l-2.6,-2.6v-4.4zm2,0h4.4l2.6,2.6v4.4l-2.6,2.6h-4.4l-2.6,-2.6v-4.4zm3,1h4.4l2.6,2.6v4.4l-2.6,2.6h-4.4l-2.6,-2.6v-4.4zm2,0h4.4l2.6,2.6v4.4l-2.6,2.6h-4.4l-2.6,-2.6v-4.4zm3,0h4.4l2.6,2.6v4.4l-2.6,2.6h-4.4l-2.6,-2.6v-4.4zm2,0h4.4l2.6,2.6v4.4l-2.6,2.6h-4.4l-2.6,-2.6v-4.4zm2,0h4.4l2.6,2.6v4.4l-2.6,2.6h-4.4l-2.6,-2.6v-4.4zm3,0h4.4l2.6,2.6v4.4l-2.6,2.6h-4.4l-2.6,-2.6v-4.4zm2,0h4.4l2.6,2.6v4.4l-2.6,2.6h-4.4l-2.6,-2.6v-4.4zm3,1h4.4l2.6,2.6v4.4l-2.6,2.6h-4.4l-2.6,-2.6v-4.4zm3,0h4.4l2.6,2.6v4.4l-2.6,2.6h-4.4l-2.6,-2.6v-4.4zm2,0h4.4l2.6,2.6v4.4l-2.6,2.6h-4.4l-2.6,-2.6v-4.4zm3,0h4.4l2.6,2.6v4.4l-2.6,2.6h-4.4l-2.6,-2.6v-4.4zm2,0h4.4l2.6,2.6v4.4l-2.6,2.6h-4.4l-2.6,-2.6v-4.4zm3,0h4.4l2.6,2.6v4.4l-2.6,2.6h-4.4l-2.6,-2.6v-4.4zm3,0h4.4l2.6,2.6v4.4l-2.6,2.6h-4.4l-2.6,-2.6v-4.4zm2,1h4.4l2.6,2.6v4.4l-2.6,2.6h-4.4l-2.6,-2.6v-4.4zm3,0h4.4l2.6,2.6v4.4l-2.6,2.6h-4.4l-2.6,-2.6v-4.4zm3,0h4.4l2.6,2.6v4.4l-2.6,2.6h-4.4l-2.6,-2.6v-4.4zm3,0h4.4l2.6,2.6v4.4l-2.6,2.6h-4.4l-2.6,-2.6v-4.4zm2,0h4.4l2.6,2.6v4.4l-2.6,2.6h-4.4l-2.6,-2.6v-4.4zm3,0h4.4l2.6,2.6v4.4l-2.6,2.6h-4.4l-2.6,-2.6v-4.4zm3,1h4.4l2.6,2.6v4.4l-2.6,2.6h-4.4l-2.6,-2.6v-4.4zm3,0h4.4l2.6,2.6v4.4l-2.6,2.6h-4.4l-2.6,-2.6v-4.4zm3,0h4.4l2.6,2.6v4.4l-2.6,2.6h-4.4l-2.6,-2.6v-4.4zm3,0h4.4l2.6,2.6v4.4l-2.6,2.6h-4.4l-2.6,-2.6v-4.4zm3,0h4.4l2.6,2.6v4.4l-2.6,2.6h-4.4l-2.6,-2.6v-4.4zm7,1h4.4l2.6,2.6v4.4l-2.6,2.6h-4.4l-2.6,-2.6v-4.4zm2,0h4.4l2.6,2.6v4.4l-2.6,2.6h-4.4l-2.6,-2.6v-4.4zm6,0h4.4l2.6,2.6v4.4l-2.6,2.6h-4.4l-2.6,-2.6v-4.4zm5,1h4.4l2.6,2.6v4.4l-2.6,2.6h-4.4l-2.6,-2.6v-4.4zm9,0h4.4l2.6,2.6v4.4l-2.6,2.6h-4.4l-2.6,-2.6v-4.4zm5,0h4.4l2.6,2.6v4.4l-2.6,2.6h-4.4l-2.6,-2.6v-4.4zm4,1h4.4l2.6,2.6v4.4l-2.6,2.6h-4.4l-2.6,-2.6v-4.4zm5,0h4.4l2.6,2.6v4.4l-2.6,2.6h-4.4l-2.6,-2.6v-4.4zm17,1h4.4l2.6,2.6v4.4l-2.6,2.6h-4.4l-2.6,-2.6v-4.4zm22,1h4.4l2.6,2.6v4.4l-2.6,2.6h-4.4l-2.6,-2.6v-4.4zm27,2h4.4l2.6,2.6v4.4l-2.6,2.6h-4.4l-2.6,-2.6v-4.4zm6,1h4.4l2.6,2.6v4.4l-2.6,2.6h-4.4l-2.6,-2.6v-4.4zm3,0h4.4l2.6,2.6v4.4l-2.6,2.6h-4.4l-2.6,-2.6v-4.4zm10,0h4.4l2.6,2.6v4.4l-2.6,2.6h-4.4l-2.6,-2.6v-4.4zm32,2h4.4l2.6,2.6v4.4l-2.6,2.6h-4.4l-2.6,-2.6v-4.4z"/>
<path class="rd" d="M164.1,2173.9h4.8v1h1.2v1.2h1v4.8h-1v1.2h-1.2v1h-4.8v-1h-1.2v-1.2h-1v-4.8h1v-1.2h1.2zm16,-2h4.8v1h1.2v1.2h1v4.8h-1v1.2h-1.2v1h-4.8v-1h-1.2v-1.2h-1v-4.8h1v-1.2h1.2zm18,-2h4.8v1h1.2v1.2h1v4.8h-1v1.2h-1.2v1h-4.8v-1h-1.2v-1.2h-1v-4.8h1v-1.2h1.2zm54,-7h4.8v1h1.2v1.2h1v4.8h-1v1.2h-1.2v1h-4.8v-1h-1.2v-1.2h-1v-4.8h1v-1.2h1.2zm25,-3h4.8v1h1.2v1.2h1v4.8h-1v1.2h-1.2v1h-4.8v-1h-1.2v-1.2h-1v-4.8h1v-1.2h1.2zm53,-7h4.8v1h1.2v1.2h1v4.8h-1v1.2h-1.2v1h-4.8v-1h-1.2v-1.2h-1v-4.8h1v-1.2h1.2zm12,-2h4.8v1h1.2v1.2h1v4.8h-1v1.2h-1.2v1h-4.8v-1h-1.2v-1.2h-1v-4.8h1v-1.2h1.2zm10,-1h4.8v1h1.2v1.2h1v4.8h-1v1.2h-1.2v1h-4.8v-1h-1.2v-1.2h-1v-4.8h1v-1.2h1.2zm2,-1h4.8v1h1.2v1.2h1v4.8h-1v1.2h-1.2v1h-4.8v-1h-1.2v-1.2h-1v-4.8h1v-1.2h1.2zm9,-1h4.8v1h1.2v1.2h1v4.8h-1v1.2h-1.2v1h-4.8v-1h-1.2v-1.2h-1v-4.8h1v-1.2h1.2zm25,-4h4.8v1h1.2v1.2h1v4.8h-1v1.2h-1.2v1h-4.8v-1h-1.2v-1.2h-1v-4.8h1v-1.2h1.2zm8,-1h4.8v1h1.2v1.2h1v4.8h-1v1.2h-1.2v1h-4.8v-1h-1.2v-1.2h-1v-4.8h1v-1.2h1.2zm4,-1h4.8v1h1.2v1.2h1v4.8h-1v1.2h-1.2v1h-4.8v-1h-1.2v-1.2h-1v-4.8h1v-1.2h1.2zm9,-1h4.8v1h1.2v1.2h1v4.8h-1v1.2h-1.2v1h-4.8v-1h-1.2v-1.2h-1v-4.8h1v-1.2h1.2zm8,-1h4.8v1h1.2v1.2h1v4.8h-1v1.2h-1.2v1h-4.8v-1h-1.2v-1.2h-1v-4.8h1v-1.2h1.2zm3,0h4.8v1h1.2v1.2h1v4.8h-1v1.2h-1.2v1h-4.8v-1h-1.2v-1.2h-1v-4.8h1v-1.2h1.2zm3,-1h4.8v1h1.2v1.2h1v4.8h-1v1.2h-1.2v1h-4.8v-1h-1.2v-1.2h-1v-4.8h1v-1.2h1.2zm2,0h4.8v1h1.2v1.2h1v4.8h-1v1.2h-1.2v1h-4.8v-1h-1.2v-1.2h-1v-4.8h1v-1.2h1.2zm4,-1h4.8v1h1.2v1.2h1v4.8h-1v1.2h-1.2v1h-4.8v-1h-1.2v-1.2h-1v-4.8h1v-1.2h1.2zm2,0h4.8v1h1.2v1.2h1v4.8h-1v1.2h-1.2v1h-4.8v-1h-1.2v-1.2h-1v-4.8h1v-1.2h1.2zm2,-1h4.8v1h1.2v1.2h1v4.8h-1v1.2h-1.2v1h-4.8v-1h-1.2v-1.2h-1v-4.8h1v-1.2h1.2zm3,0h4.8v1h1.2v1.2h1v4.8h-1v1.2h-1.2v1h-4.8v-1h-1.2v-1.2h-1v-4.8h1v-1.2h1.2zm2,0h4.8v1h1.2v1.2h1v4.8h-1v1.2h-1.2v1h-4.8v-1h-1.2v-1.2h-1v-4.8h1v-1.2h1.2zm2,-1h4.8v1h1.2v1.2h1v4.8h-1v1.2h-1.2v1h-4.8v-1h-1.2v-1.2h-1v-4.8h1v-1.2h1.2zm3,0h4.8v1h1.2v1.2h1v4.8h-1v1.2h-1.2v1h-4.8v-1h-1.2v-1.2h-1v-4.8h1v-1.2h1.2zm4,-1h4.8v1h1.2v1.2h1v4.8h-1v1.2h-1.2v1h-4.8v-1h-1.2v-1.2h-1v-4.8h1v-1.2h1.2zm2,0h4.8v1h1.2v1.2h1v4.8h-1v1.2h-1.2v1h-4.8v-1h-1.2v-1.2h-1v-4.8h1v-1.2h1.2zm4,-1h4.8v1h1.2v1.2h1v4.8h-1v1.2h-1.2v1h-4.8v-1h-1.2v-1.2h-1v-4.8h1v-1.2h1.2zm13,-2h4.8v1h1.2v1.2h1v4.8h-1v1.2h-1.2v1h-4.8v-1h-1.2v-1.2h-1v-4.8h1v-1.2h1.2zm15,-2h4.8v1h1.2v1.2h1v4.8h-1v1.2h-1.2v1h-4.8v-1h-1.2v-1.2h-1v-4.8h1v-1.2h1.2zm7,-1h4.8v1h1.2v1.2h1v4.8h-1v1.2h-1.2v1h-4.8v-1h-1.2v-1.2h-1v-4.8h1v-1.2h1.2zm2,-1h4.8v1h1.2v1.2h1v4.8h-1v1.2h-1.2v1h-4.8v-1h-1.2v-1.2h-1v-4.8h1v-1.2h1.2zm2,0h4.8v1h1.2v1.2h1v4.8h-1v1.2h-1.2v1h-4.8v-1h-1.2v-1.2h-1v-4.8h1v-1.2h1.2zm2,0h4.8v1h1.2v1.2h1v4.8h-1v1.2h-1.2v1h-4.8v-1h-1.2v-1.2h-1v-4.8h1v-1.2h1.2zm2,-1h4.8v1h1.2v1.2h1v4.8h-1v1.2h-1.2v1h-4.8v-1h-1.2v-1.2h-1v-4.8h1v-1.2h1.2zm2,0h4.8v1h1.2v1.2h1v4.8h-1v1.2h-1.2v1h-4.8v-1h-1.2v-1.2h-1v-4.8h1v-1.2h1.2zm2,0h4.8v1h1.2v1.2h1v4.8h-1v1.2h-1.2v1h-4.8v-1h-1.2v-1.2h-1v-4.8h1v-1.2h1.2zm2,-1h4.8v1h1.2v1.2h1v4.8h-1v1.2h-1.2v1h-4.8v-1h-1.2v-1.2h-1v-4.8h1v-1.2h1.2zm2,0h4.8v1h1.2v1.2h1v4.8h-1v1.2h-1.2v1h-4.8v-1h-1.2v-1.2h-1v-4.8h1v-1.2h1.2zm2,0h4.8v1h1.2v1.2h1v4.8h-1v1.2h-1.2v1h-4.8v-1h-1.2v-1.2h-1v-4.8h1v-1.2h1.2zm2,-1h4.8v1h1.2v1.2h1v4.8h-1v1.2h-1.2v1h-4.8v-1h-1.2v-1.2h-1v-4.8h1v-1.2h1.2zm2,0h4.8v1h1.2v1.2h1v4.8h-1v1.2h-1.2v1h-4.8v-1h-1.2v-1.2h-1v-4.8h1v-1.2h1.2zm2,0h4.8v1h1.2v1.2h1v4.8h-1v1.2h-1.2v1h-4.8v-1h-1.2v-1.2h-1v-4.8h1v-1.2h1.2zm2,-1h4.8v1h1.2v1.2h1v4.8h-1v1.2h-1.2v1h-4.8v-1h-1.2v-1.2h-1v-4.8h1v-1.2h1.2zm2,0h4.8v1h1.2v1.2h1v4.8h-1v1.2h-1.2v1h-4.8v-1h-1.2v-1.2h-1v-4.8h1v-1.2h1.2zm2,0h4.8v1h1.2v1.2h1v4.8h-1v1.2h-1.2v1h-4.8v-1h-1.2v-1.2h-1v-4.8h1v-1.2h1.2zm2,-1h4.8v1h1.2v1.2h1v4.8h-1v1.2h-1.2v1h-4.8v-1h-1.2v-1.2h-1v-4.8h1v-1.2h1.2zm2,0h4.8v1h1.2v1.2h1v4.8h-1v1.2h-1.2v1h-4.8v-1h-1.2v-1.2h-1v-4.8h1v-1.2h1.2zm2,0h4.8v1h1.2v1.2h1v4.8h-1v1.2h-1.2v1h-4.8v-1h-1.2v-1.2h-1v-4.8h1v-1.2h1.2zm2,-1h4.8v1h1.2v1.2h1v4.8h-1v1.2h-1.2v1h-4.8v-1h-1.2v-1.2h-1v-4.8h1v-1.2h1.2zm1,0h4.8v1h1.2v1.2h1v4.8h-1v1.2h-1.2v1h-4.8v-1h-1.2v-1.2h-1v-4.8h1v-1.2h1.2zm1,0h4.8v1h1.2v1.2h1v4.8h-1v1.2h-1.2v1h-4.8v-1h-1.2v-1.2h-1v-4.8h1v-1.2h1.2zm1,0h4.8v1h1.2v1.2h1v4.8h-1v1.2h-1.2v1h-4.8v-1h-1.2v-1.2h-1v-4.8h1v-1.2h1.2zm1,0h4.8v1h1.2v1.2h1v4.8h-1v1.2h-1.2v1h-4.8v-1h-1.2v-1.2h-1v-4.8h1v-1.2h1.2zm1,0h4.8v1h1.2v1.2h1v4.8h-1v1.2h-1.2v1h-4.8v-1h-1.2v-1.2h-1v-4.8h1v-1.2h1.2zm1,-1h4.8v1h1.2v1.2h1v4.8h-1v1.2h-1.2v1h-4.8v-1h-1.2v-1.2h-1v-4.8h1v-1.2h1.2zm1,0h4.8v1h1.2v1.2h1v4.8h-1v1.2h-1.2v1h-4.8v-1h-1.2v-1.2h-1v-4.8h1v-1.2h1.2zm1,0h4.8v1h1.2v1.2h1v4.8h-1v1.2h-1.2v1h-4.8v-1h-1.2v-1.2h-1v-4.8h1v-1.2h1.2zm1,0h4.8v1h1.2v1.2h1v4.8h-1v1.2h-1.2v1h-4.8v-1h-1.2v-1.2h-1v-4.8h1v-1.2h1.2zm1,0h4.8v1h1.2v1.2h1v4.8h-1v1.2h-1.2v1h-4.8v-1h-1.2v-1.2h-1v-4.8h1v-1.2h1.2zm1,-1h4.8v1h1.2v1.2h1v4.8h-1v1.2h-1.2v1h-4.8v-1h-1.2v-1.2h-1v-4.8h1v-1.2h1.2zm1,0h4.8v1h1.2v1.2h1v4.8h-1v1.2h-1.2v1h-4.8v-1h-1.2v-1.2h-1v-4.8h1v-1.2h1.2zm1,0h4.8v1h1.2v1.2h1v4.8h-1v1.2h-1.2v1h-4.8v-1h-1.2v-1.2h-1v-4.8h1v-1.2h1.2zm1,0h4.8v1h1.2v1.2h1v4.8h-1v1.2h-1.2v1h-4.8v-1h-1.2v-1.2h-1v-4.8h1v-1.2h1.2zm1,0h4.8v1h1.2v1.2h1v4.8h-1v1.2h-1.2v1h-4.8v-1h-1.2v-1.2h-1v-4.8h1v-1.2h1.2zm1,0h4.8v1h1.2v1.2h1v4.8h-1v1.2h-1.2v1h-4.8v-1h-1.2v-1.2h-1v-4.8h1v-1.2h1.2zm1,-1h4.8v1h1.2v1.2h1v4.8h-1v1.2h-1.2v1h-4.8v-1h-1.2v-1.2h-1v-4.8h1v-1.2h1.2zm1,0h4.8v1h1.2v1.2h1v4.8h-1v1.2h-1.2v1h-4.8v-1h-1.2v-1.2h-1v-4.8h1v-1.2h1.2zm1,0h4.8v1h1.2v1.2h1v4.8h-1v1.2h-1.2v1h-4.8v-1h-1.2v-1.2h-1v-4.8h1v-1.2h1.2zm1,0h4.8v1h1.2v1.2h1v4.8h-1v1.2h-1.2v1h-4.8v-1h-1.2v-1.2h-1v-4.8h1v-1.2h1.2zm1,0h4.8v1h1.2v1.2h1v4.8h-1v1.2h-1.2v1h-4.8v-1h-1.2v-1.2h-1v-4.8h1v-1.2h1.2zm1,0h4.8v1h1.2v1.2h1v4.8h-1v1.2h-1.2v1h-4.8v-1h-1.2v-1.2h-1v-4.8h1v-1.2h1.2zm1,-1h4.8v1h1.2v1.2h1v4.8h-1v1.2h-1.2v1h-4.8v-1h-1.2v-1.2h-1v-4.8h1v-1.2h1.2zm1,0h4.8v1h1.2v1.2h1v4.8h-1v1.2h-1.2v1h-4.8v-1h-1.2v-1.2h-1v-4.8h1v-1.2h1.2zm1,0h4.8v1h1.2v1.2h1v4.8h-1v1.2h-1.2v1h-4.8v-1h-1.2v-1.2h-1v-4.8h1v-1.2h1.2zm1,0h4.8v1h1.2v1.2h1v4.8h-1v1.2h-1.2v1h-4.8v-1h-1.2v-1.2h-1v-4.8h1v-1.2h1.2zm1,0h4.8v1h1.2v1.2h1v4.8h-1v1.2h-1.2v1h-4.8v-1h-1.2v-1.2h-1v-4.8h1v-1.2h1.2zm1,0h4.8v1h1.2v1.2h1v4.8h-1v1.2h-1.2v1h-4.8v-1h-1.2v-1.2h-1v-4.8h1v-1.2h1.2zm1,-1h4.8v1h1.2v1.2h1v4.8h-1v1.2h-1.2v1h-4.8v-1h-1.2v-1.2h-1v-4.8h1v-1.2h1.2zm1,0h4.8v1h1.2v1.2h1v4.8h-1v1.2h-1.2v1h-4.8v-1h-1.2v-1.2h-1v-4.8h1v-1.2h1.2zm1,0h4.8v1h1.2v1.2h1v4.8h-1v1.2h-1.2v1h-4.8v-1h-1.2v-1.2h-1v-4.8h1v-1.2h1.2zm1,0h4.8v1h1.2v1.2h1v4.8h-1v1.2h-1.2v1h-4.8v-1h-1.2v-1.2h-1v-4.8h1v-1.2h1.2zm1,0h4.8v1h1.2v1.2h1v4.8h-1v1.2h-1.2v1h-4.8v-1h-1.2v-1.2h-1v-4.8h1v-1.2h1.2zm1,-1h4.8v1h1.2v1.2h1v4.8h-1v1.2h-1.2v1h-4.8v-1h-1.2v-1.2h-1v-4.8h1v-1.2h1.2zm1,0h4.8v1h1.2v1.2h1v4.8h-1v1.2h-1.2v1h-4.8v-1h-1.2v-1.2h-1v-4.8h1v-1.2h1.2zm1,0h4.8v1h1.2v1.2h1v4.8h-1v1.2h-1.2v1h-4.8v-1h-1.2v-1.2h-1v-4.8h1v-1.2h1.2zm1,0h4.8v1h1.2v1.2h1v4.8h-1v1.2h-1.2v1h-4.8v-1h-1.2v-1.2h-1v-4.8h1v-1.2h1.2zm1,0h4.8v1h1.2v1.2h1v4.8h-1v1.2h-1.2v1h-4.8v-1h-1.2v-1.2h-1v-4.8h1v-1.2h1.2zm1,0h4.8v1h1.2v1.2h1v4.8h-1v1.2h-1.2v1h-4.8v-1h-1.2v-1.2h-1v-4.8h1v-1.2h1.2zm1,-1h4.8v1h1.2v1.2h1v4.8h-1v1.2h-1.2v1h-4.8v-1h-1.2v-1.2h-1v-4.8h1v-1.2h1.2zm1,0h4.8v1h1.2v1.2h1v4.8h-1v1.2h-1.2v1h-4.8v-1h-1.2v-1.2h-1v-4.8h1v-1.2h1.2zm1,0h4.8v1h1.2v1.2h1v4.8h-1v1.2h-1.2v1h-4.8v-1h-1.2v-1.2h-1v-4.8h1v-1.2h1.2zm1,0h4.8v1h1.2v1.2h1v4.8h-1v1.2h-1.2v1h-4.8v-1h-1.2v-1.2h-1v-4.8h1v-1.2h1.2zm1,0h4.8v1h1.2v1.2h1v4.8h-1v1.2h-1.2v1h-4.8v-1h-1.2v-1.2h-1v-4.8h1v-1.2h1.2zm1,-1h4.8v1h1.2v1.2h1v4.8h-1v1.2h-1.2v1h-4.8v-1h-1.2v-1.2h-1v-4.8h1v-1.2h1.2zm1,0h4.8v1h1.2v1.2h1v4.8h-1v1.2h-1.2v1h-4.8v-1h-1.2v-1.2h-1v-4.8h1v-1.2h1.2zm1,0h4.8v1h1.2v1.2h1v4.8h-1v1.2h-1.2v1h-4.8v-1h-1.2v-1.2h-1v-4.8h1v-1.2h1.2zm1,0h4.8v1h1.2v1.2h1v4.8h-1v1.2h-1.2v1h-4.8v-1h-1.2v-1.2h-1v-4.8h1v-1.2h1.2zm1,0h4.8v1h1.2v1.2h1v4.8h-1v1.2h-1.2v1h-4.8v-1h-1.2v-1.2h-1v-4.8h1v-1.2h1.2zm1,0h4.8v1h1.2v1.2h1v4.8h-1v1.2h-1.2v1h-4.8v-1h-1.2v-1.2h-1v-4.8h1v-1.2h1.2zm1,-1h4.8v1h1.2v1.2h1v4.8h-1v1.2h-1.2v1h-4.8v-1h-1.2v-1.2h-1v-4.8h1v-1.2h1.2zm1,0h4.8v1h1.2v1.2h1v4.8h-1v1.2h-1.2v1h-4.8v-1h-1.2v-1.2h-1v-4.8h1v-1.2h1.2zm1,0h4.8v1h1.2v1.2h1v4.8h-1v1.2h-1.2v1h-4.8v-1h-1.2v-1.2h-1v-4.8h1v-1.2h1.2zm1,0h4.8v1h1.2v1.2h1v4.8h-1v1.2h-1.2v1h-4.8v-1h-1.2v-1.2h-1v-4.8h1v-1.2h1.2zm1,0h4.8v1h1.2v1.2h1v4.8h-1v1.2h-1.2v1h-4.8v-1h-1.2v-1.2h-1v-4.8h1v-1.2h1.2zm1,-1h4.8v1h1.2v1.2h1v4.8h-1v1.2h-1.2v1h-4.8v-1h-1.2v-1.2h-1v-4.8h1v-1.2h1.2zm1,0h4.8v1h1.2v1.2h1v4.8h-1v1.2h-1.2v1h-4.8v-1h-1.2v-1.2h-1v-4.8h1v-1.2h1.2zm1,0h4.8v1h1.2v1.2h1v4.8h-1v1.2h-1.2v1h-4.8v-1h-1.2v-1.2h-1v-4.8h1v-1.2h1.2zm1,0h4.8v1h1.2v1.2h1v4.8h-1v1.2h-1.2v1h-4.8v-1h-1.2v-1.2h-1v-4.8h1v-1.2h1.2zm1,0h4.8v1h1.2v1.2h1v4.8h-1v1.2h-1.2v1h-4.8v-1h-1.2v-1.2h-1v-4.8h1v-1.2h1.2zm1,0h4.8v1h1.2v1.2h1v4.8h-1v1.2h-1.2v1h-4.8v-1h-1.2v-1.2h-1v-4.8h1v-1.2h1.2zm1,-1h4.8v1h1.2v1.2h1v4.8h-1v1.2h-1.2v1h-4.8v-1h-1.2v-1.2h-1v-4.8h1v-1.2h1.2zm1,0h4.8v1h1.2v1.2h1v4.8h-1v1.2h-1.2v1h-4.8v-1h-1.2v-1.2h-1v-4.8h1v-1.2h1.2zm1,0h4.8v1h1.2v1.2h1v4.8h-1v1.2h-1.2v1h-4.8v-1h-1.2v-1.2h-1v-4.8h1v-1.2h1.2zm1,0h4.8v1h1.2v1.2h1v4.8h-1v1.2h-1.2v1h-4.8v-1h-1.2v-1.2h-1v-4.8h1v-1.2h1.2zm1,0h4.8v1h1.2v1.2h1v4.8h-1v1.2h-1.2v1h-4.8v-1h-1.2v-1.2h-1v-4.8h1v-1.2h1.2zm1,-1h4.8v1h1.2v1.2h1v4.8h-1v1.2h-1.2v1h-4.8v-1h-1.2v-1.2h-1v-4.8h1v-1.2h1.2zm1,0h4.8v1h1.2v1.2h1v4.8h-1v1.2h-1.2v1h-4.8v-1h-1.2v-1.2h-1v-4.8h1v-1.2h1.2zm1,0h4.8v1h1.2v1.2h1v4.8h-1v1.2h-1.2v1h-4.8v-1h-1.2v-1.2h-1v-4.8h1v-1.2h1.2zm1,0h4.8v1h1.2v1.2h1v4.8h-1v1.2h-1.2v1h-4.8v-1h-1.2v-1.2h-1v-4.8h1v-1.2h1.2zm1,0h4.8v1h1.2v1.2h1v4.8h-1v1.2h-1.2v1h-4.8v-1h-1.2v-1.2h-1v-4.8h1v-1.2h1.2zm1,-1h4.8v1h1.2v1.2h1v4.8h-1v1.2h-1.2v1h-4.8v-1h-1.2v-1.2h-1v-4.8h1v-1.2h1.2zm1,0h4.8v1h1.2v1.2h1v4.8h-1v1.2h-1.2v1h-4.8v-1h-1.2v-1.2h-1v-4.8h1v-1.2h1.2zm1,0h4.8v1h1.2v1.2h1v4.8h-1v1.2h-1.2v1h-4.8v-1h-1.2v-1.2h-1v-4.8h1v-1.2h1.2zm1,0h4.8v1h1.2v1.2h1v4.8h-1v1.2h-1.2v1h-4.8v-1h-1.2v-1.2h-1v-4.8h1v-1.2h1.2zm1,0h4.8v1h1.2v1.2h1v4.8h-1v1.2h-1.2v1h-4.8v-1h-1.2v-1.2h-1v-4.8h1v-1.2h1.2zm1,0h4.8v1h1.2v1.2h1v4.8h-1v1.2h-1.2v1h-4.8v-1h-1.2v-1.2h-1v-4.8h1v-1.2h1.2zm1,-1h4.8v1h1.2v1.2h1v4.8h-1v1.2h-1.2v1h-4.8v-1h-1.2v-1.2h-1v-4.8h1v-1.2h1.2zm1,0h4.8v1h1.2v1.2h1v4.8h-1v1.2h-1.2v1h-4.8v-1h-1.2v-1.2h-1v-4.8h1v-1.2h1.2zm1,0h4.8v1h1.2v1.2h1v4.8h-1v1.2h-1.2v1h-4.8v-1h-1.2v-1.2h-1v-4.8h1v-1.2h1.2zm1,0h4.8v1h1.2v1.2h1v4.8h-1v1.2h-1.2v1h-4.8v-1h-1.2v-1.2h-1v-4.8h1v-1.2h1.2zm1,0h4.8v1h1.2v1.2h1v4.8h-1v1.2h-1.2v1h-4.8v-1h-1.2v-1.2h-1v-4.8h1v-1.2h1.2zm1,-1h4.8v1h1.2v1.2h1v4.8h-1v1.2h-1.2v1h-4.8v-1h-1.2v-1.2h-1v-4.8h1v-1.2h1.2zm1,0h4.8v1h1.2v1.2h1v4.8h-1v1.2h-1.2v1h-4.8v-1h-1.2v-1.2h-1v-4.8h1v-1.2h1.2zm1,0h4.8v1h1.2v1.2h1v4.8h-1v1.2h-1.2v1h-4.8v-1h-1.2v-1.2h-1v-4.8h1v-1.2h1.2zm1,0h4.8v1h1.2v1.2h1v4.8h-1v1.2h-1.2v1h-4.8v-1h-1.2v-1.2h-1v-4.8h1v-1.2h1.2zm1,0h4.8v1h1.2v1.2h1v4.8h-1v1.2h-1.2v1h-4.8v-1h-1.2v-1.2h-1v-4.8h1v-1.2h1.2zm1,-1h4.8v1h1.2v1.2h1v4.8h-1v1.2h-1.2v1h-4.8v-1h-1.2v-1.2h-1v-4.8h1v-1.2h1.2zm1,0h4.8v1h1.2v1.2h1v4.8h-1v1.2h-1.2v1h-4.8v-1h-1.2v-1.2h-1v-4.8h1v-1.2h1.2zm1,0h4.8v1h1.2v1.2h1v4.8h-1v1.2h-1.2v1h-4.8v-1h-1.2v-1.2h-1v-4.8h1v-1.2h1.2zm1,0h4.8v1h1.2v1.2h1v4.8h-1v1.2h-1.2v1h-4.8v-1h-1.2v-1.2h-1v-4.8h1v-1.2h1.2zm1,0h4.8v1h1.2v1.2h1v4.8h-1v1.2h-1.2v1h-4.8v-1h-1.2v-1.2h-1v-4.8h1v-1.2h1.2zm1,0h4.8v1h1.2v1.2h1v4.8h-1v1.2h-1.2v1h-4.8v-1h-1.2v-1.2h-1v-4.8h1v-1.2h1.2zm1,-1h4.8v1h1.2v1.2h1v4.8h-1v1.2h-1.2v1h-4.8v-1h-1.2v-1.2h-1v-4.8h1v-1.2h1.2zm1,0h4.8v1h1.2v1.2h1v4.8h-1v1.2h-1.2v1h-4.8v-1h-1.2v-1.2h-1v-4.8h1v-1.2h1.2zm1,0h4.8v1h1.2v1.2h1v4.8h-1v1.2h-1.2v1h-4.8v-1h-1.2v-1.2h-1v-4.8h1v-1.2h1.2zm1,0h4.8v1h1.2v1.2h1v4.8h-1v1.2h-1.2v1h-4.8v-1h-1.2v-1.2h-1v-4.8h1v-1.2h1.2zm1,0h4.8v1h1.2v1.2h1v4.8h-1v1.2h-1.2v1h-4.8v-1h-1.2v-1.2h-1v-4.8h1v-1.2h1.2zm1,-1h4.8v1h1.2v1.2h1v4.8h-1v1.2h-1.2v1h-4.8v-1h-1.2v-1.2h-1v-4.8h1v-1.2h1.2zm1,0h4.8v1h1.2v1.2h1v4.8h-1v1.2h-1.2v1h-4.8v-1h-1.2v-1.2h-1v-4.8h1v-1.2h1.2zm1,0h4.8v1h1.2v1.2h1v4.8h-1v1.2h-1.2v1h-4.8v-1h-1.2v-1.2h-1v-4.8h1v-1.2h1.2zm1,0h4.8v1h1.2v1.2h1v4.8h-1v1.2h-1.2v1h-4.8v-1h-1.2v-1.2h-1v-4.8h1v-1.2h1.2zm1,0h4.8v1h1.2v1.2h1v4.8h-1v1.2h-1.2v1h-4.8v-1h-1.2v-1.2h-1v-4.8h1v-1.2h1.2zm1,-1h4.8v1h1.2v1.2h1v4.8h-1v1.2h-1.2v1h-4.8v-1h-1.2v-1.2h-1v-4.8h1v-1.2h1.2zm1,0h4.8v1h1.2v1.2h1v4.8h-1v1.2h-1.2v1h-4.8v-1h-1.2v-1.2h-1v-4.8h1v-1.2h1.2zm1,0h4.8v1h1.2v1.2h1v4.8h-1v1.2h-1.2v1h-4.8v-1h-1.2v-1.2h-1v-4.8h1v-1.2h1.2zm1,0h4.8v1h1.2v1.2h1v4.8h-1v1.2h-1.2v1h-4.8v-1h-1.2v-1.2h-1v-4.8h1v-1.2h1.2zm1,0h4.8v1h1.2v1.2h1v4.8h-1v1.2h-1.2v1h-4.8v-1h-1.2v-1.2h-1v-4.8h1v-1.2h1.2zm1,-1h4.8v1h1.2v1.2h1v4.8h-1v1.2h-1.2v1h-4.8v-1h-1.2v-1.2h-1v-4.8h1v-1.2h1.2zm1,0h4.8v1h1.2v1.2h1v4.8h-1v1.2h-1.2v1h-4.8v-1h-1.2v-1.2h-1v-4.8h1v-1.2h1.2zm1,0h4.8v1h1.2v1.2h1v4.8h-1v1.2h-1.2v1h-4.8v-1h-1.2v-1.2h-1v-4.8h1v-1.2h1.2zm1,0h4.8v1h1.2v1.2h1v4.8h-1v1.2h-1.2v1h-4.8v-1h-1.2v-1.2h-1v-4.8h1v-1.2h1.2zm1,0h4.8v1h1.2v1.2h1v4.8h-1v1.2h-1.2v1h-4.8v-1h-1.2v-1.2h-1v-4.8h1v-1.2h1.2zm1,-1h4.8v1h1.2v1.2h1v4.8h-1v1.2h-1.2v1h-4.8v-1h-1.2v-1.2h-1v-4.8h1v-1.2h1.2zm1,0h4.8v1h1.2v1.2h1v4.8h-1v1.2h-1.2v1h-4.8v-1h-1.2v-1.2h-1v-4.8h1v-1.2h1.2zm1,0h4.8v1h1.2v1.2h1v4.8h-1v1.2h-1.2v1h-4.8v-1h-1.2v-1.2h-1v-4.8h1v-1.2h1.2zm1,0h4.8v1h1.2v1.2h1v4.8h-1v1.2h-1.2v1h-4.8v-1h-1.2v-1.2h-1v-4.8h1v-1.2h1.2zm1,0h4.8v1h1.2v1.2h1v4.8h-1v1.2h-1.2v1h-4.8v-1h-1.2v-1.2h-1v-4.8h1v-1.2h1.2zm1,-1h4.8v1h1.2v1.2h1v4.8h-1v1.2h-1.2v1h-4.8v-1h-1.2v-1.2h-1v-4.8h1v-1.2h1.2zm1,0h4.8v1h1.2v1.2h1v4.8h-1v1.2h-1.2v1h-4.8v-1h-1.2v-1.2h-1v-4.8h1v-1.2h1.2zm1,0h4.8v1h1.2v1.2h1v4.8h-1v1.2h-1.2v1h-4.8v-1h-1.2v-1.2h-1v-4.8h1v-1.2h1.2zm1,0h4.8v1h1.2v1.2h1v4.8h-1v1.2h-1.2v1h-4.8v-1h-1.2v-1.2h-1v-4.8h1v-1.2h1.2zm1,0h4.8v1h1.2v1.2h1v4.8h-1v1.2h-1.2v1h-4.8v-1h-1.2v-1.2h-1v-4.8h1v-1.2h1.2zm1,-1h4.8v1h1.2v1.2h1v4.8h-1v1.2h-1.2v1h-4.8v-1h-1.2v-1.2h-1v-4.8h1v-1.2h1.2zm1,0h4.8v1h1.2v1.2h1v4.8h-1v1.2h-1.2v1h-4.8v-1h-1.2v-1.2h-1v-4.8h1v-1.2h1.2zm1,0h4.8v1h1.2v1.2h1v4.8h-1v1.2h-1.2v1h-4.8v-1h-1.2v-1.2h-1v-4.8h1v-1.2h1.2zm1,0h4.8v1h1.2v1.2h1v4.8h-1v1.2h-1.2v1h-4.8v-1h-1.2v-1.2h-1v-4.8h1v-1.2h1.2zm1,0h4.8v1h1.2v1.2h1v4.8h-1v1.2h-1.2v1h-4.8v-1h-1.2v-1.2h-1v-4.8h1v-1.2h1.2zm1,-1h4.8v1h1.2v1.2h1v4.8h-1v1.2h-1.2v1h-4.8v-1h-1.2v-1.2h-1v-4.8h1v-1.2h1.2zm1,0h4.8v1h1.2v1.2h1v4.8h-1v1.2h-1.2v1h-4.8v-1h-1.2v-1.2h-1v-4.8h1v-1.2h1.2zm1,0h4.8v1h1.2v1.2h1v4.8h-1v1.2h-1.2v1h-4.8v-1h-1.2v-1.2h-1v-4.8h1v-1.2h1.2zm1,0h4.8v1h1.2v1.2h1v4.8h-1v1.2h-1.2v1h-4.8v-1h-1.2v-1.2h-1v-4.8h1v-1.2h1.2zm1,0h4.8v1h1.2v1.2h1v4.8h-1v1.2h-1.2v1h-4.8v-1h-1.2v-1.2h-1v-4.8h1v-1.2h1.2zm1,-1h4.8v1h1.2v1.2h1v4.8h-1v1.2h-1.2v1h-4.8v-1h-1.2v-1.2h-1v-4.8h1v-1.2h1.2zm1,0h4.8v1h1.2v1.2h1v4.8h-1v1.2h-1.2v1h-4.8v-1h-1.2v-1.2h-1v-4.8h1v-1.2h1.2zm1,0h4.8v1h1.2v1.2h1v4.8h-1v1.2h-1.2v1h-4.8v-1h-1.2v-1.2h-1v-4.8h1v-1.2h1.2zm1,0h4.8v1h1.2v1.2h1v4.8h-1v1.2h-1.2v1h-4.8v-1h-1.2v-1.2h-1v-4.8h1v-1.2h1.2zm1,0h4.8v1h1.2v1.2h1v4.8h-1v1.2h-1.2v1h-4.8v-1h-1.2v-1.2h-1v-4.8h1v-1.2h1.2zm1,-1h4.8v1h1.2v1.2h1v4.8h-1v1.2h-1.2v1h-4.8v-1h-1.2v-1.2h-1v-4.8h1v-1.2h1.2zm1,0h4.8v1h1.2v1.2h1v4.8h-1v1.2h-1.2v1h-4.8v-1h-1.2v-1.2h-1v-4.8h1v-1.2h1.2zm1,0h4.8v1h1.2v1.2h1v4.8h-1v1.2h-1.2v1h-4.8v-1h-1.2v-1.2h-1v-4.8h1v-1.2h1.2zm1,0h4.8v1h1.2v1.2h1v4.8h-1v1.2h-1.2v1h-4.8v-1h-1.2v-1.2h-1v-4.8h1v-1.2h1.2zm1,0h4.8v1h1.2v1.2h1v4.8h-1v1.2h-1.2v1h-4.8v-1h-1.2v-1.2h-1v-4.8h1v-1.2h1.2zm1,-1h4.8v1h1.2v1.2h1v4.8h-1v1.2h-1.2v1h-4.8v-1h-1.2v-1.2h-1v-4.8h1v-1.2h1.2zm1,0h4.8v1h1.2v1.2h1v4.8h-1v1.2h-1.2v1h-4.8v-1h-1.2v-1.2h-1v-4.8h1v-1.2h1.2zm1,0h4.8v1h1.2v1.2h1v4.8h-1v1.2h-1.2v1h-4.8v-1h-1.2v-1.2h-1v-4.8h1v-1.2h1.2zm1,0h4.8v1h1.2v1.2h1v4.8h-1v1.2h-1.2v1h-4.8v-1h-1.2v-1.2h-1v-4.8h1v-1.2h1.2zm1,0h4.8v1h1.2v1.2h1v4.8h-1v1.2h-1.2v1h-4.8v-1h-1.2v-1.2h-1v-4.8h1v-1.2h1.2zm1,-1h4.8v1h1.2v1.2h1v4.8h-1v1.2h-1.2v1h-4.8v-1h-1.2v-1.2h-1v-4.8h1v-1.2h1.2zm1,0h4.8v1h1.2v1.2h1v4.8h-1v1.2h-1.2v1h-4.8v-1h-1.2v-1.2h-1v-4.8h1v-1.2h1.2zm1,0h4.8v1h1.2v1.2h1v4.8h-1v1.2h-1.2v1h-4.8v-1h-1.2v-1.2h-1v-4.8h1v-1.2h1.2zm1,0h4.8v1h1.2v1.2h1v4.8h-1v1.2h-1.2v1h-4.8v-1h-1.2v-1.2h-1v-4.8h1v-1.2h1.2zm1,0h4.8v1h1.2v1.2h1v4.8h-1v1.2h-1.2v1h-4.8v-1h-1.2v-1.2h-1v-4.8h1v-1.2h1.2zm1,-1h4.8v1h1.2v1.2h1v4.8h-1v1.2h-1.2v1h-4.8v-1h-1.2v-1.2h-1v-4.8h1v-1.2h1.2zm1,0h4.8v1h1.2v1.2h1v4.8h-1v1.2h-1.2v1h-4.8v-1h-1.2v-1.2h-1v-4.8h1v-1.2h1.2zm1,0h4.8v1h1.2v1.2h1v4.8h-1v1.2h-1.2v1h-4.8v-1h-1.2v-1.2h-1v-4.8h1v-1.2h1.2zm1,0h4.8v1h1.2v1.2h1v4.8h-1v1.2h-1.2v1h-4.8v-1h-1.2v-1.2h-1v-4.8h1v-1.2h1.2zm1,0h4.8v1h1.2v1.2h1v4.8h-1v1.2h-1.2v1h-4.8v-1h-1.2v-1.2h-1v-4.8h1v-1.2h1.2zm1,-1h4.8v1h1.2v1.2h1v4.8h-1v1.2h-1.2v1h-4.8v-1h-1.2v-1.2h-1v-4.8h1v-1.2h1.2zm1,0h4.8v1h1.2v1.2h1v4.8h-1v1.2h-1.2v1h-4.8v-1h-1.2v-1.2h-1v-4.8h1v-1.2h1.2zm1,0h4.8v1h1.2v1.2h1v4.8h-1v1.2h-1.2v1h-4.8v-1h-1.2v-1.2h-1v-4.8h1v-1.2h1.2zm1,0h4.8v1h1.2v1.2h1v4.8h-1v1.2h-1.2v1h-4.8v-1h-1.2v-1.2h-1v-4.8h1v-1.2h1.2zm1,-1h4.8v1h1.2v1.2h1v4.8h-1v1.2h-1.2v1h-4.8v-1h-1.2v-1.2h-1v-4.8h1v-1.2h1.2zm1,0h4.8v1h1.2v1.2h1v4.8h-1v1.2h-1.2v1h-4.8v-1h-1.2v-1.2h-1v-4.8h1v-1.2h1.2zm1,0h4.8v1h1.2v1.2h1v4.8h-1v1.2h-1.2v1h-4.8v-1h-1.2v-1.2h-1v-4.8h1v-1.2h1.2zm1,0h4.8v1h1.2v1.2h1v4.8h-1v1.2h-1.2v1h-4.8v-1h-1.2v-1.2h-1v-4.8h1v-1.2h1.2zm1,0h4.8v1h1.2v1.2h1v4.8h-1v1.2h-1.2v1h-4.8v-1h-1.2v-1.2h-1v-4.8h1v-1.2h1.2zm1,-1h4.8v1h1.2v1.2h1v4.8h-1v1.2h-1.2v1h-4.8v-1h-1.2v-1.2h-1v-4.8h1v-1.2h1.2zm1,0h4.8v1h1.2v1.2h1v4.8h-1v1.2h-1.2v1h-4.8v-1h-1.2v-1.2h-1v-4.8h1v-1.2h1.2zm1,0h4.8v1h1.2v1.2h1v4.8h-1v1.2h-1.2v1h-4.8v-1h-1.2v-1.2h-1v-4.8h1v-1.2h1.2zm1,0h4.8v1h1.2v1.2h1v4.8h-1v1.2h-1.2v1h-4.8v-1h-1.2v-1.2h-1v-4.8h1v-1.2h1.2zm1,0h4.8v1h1.2v1.2h1v4.8h-1v1.2h-1.2v1h-4.8v-1h-1.2v-1.2h-1v-4.8h1v-1.2h1.2zm1,-1h4.8v1h1.2v1.2h1v4.8h-1v1.2h-1.2v1h-4.8v-1h-1.2v-1.2h-1v-4.8h1v-1.2h1.2zm1,0h4.8v1h1.2v1.2h1v4.8h-1v1.2h-1.2v1h-4.8v-1h-1.2v-1.2h-1v-4.8h1v-1.2h1.2zm1,0h4.8v1h1.2v1.2h1v4.8h-1v1.2h-1.2v1h-4.8v-1h-1.2v-1.2h-1v-4.8h1v-1.2h1.2zm1,0h4.8v1h1.2v1.2h1v4.8h-1v1.2h-1.2v1h-4.8v-1h-1.2v-1.2h-1v-4.8h1v-1.2h1.2zm1,0h4.8v1h1.2v1.2h1v4.8h-1v1.2h-1.2v1h-4.8v-1h-1.2v-1.2h-1v-4.8h1v-1.2h1.2zm1,-1h4.8v1h1.2v1.2h1v4.8h-1v1.2h-1.2v1h-4.8v-1h-1.2v-1.2h-1v-4.8h1v-1.2h1.2zm1,0h4.8v1h1.2v1.2h1v4.8h-1v1.2h-1.2v1h-4.8v-1h-1.2v-1.2h-1v-4.8h1v-1.2h1.2zm1,0h4.8v1h1.2v1.2h1v4.8h-1v1.2h-1.2v1h-4.8v-1h-1.2v-1.2h-1v-4.8h1v-1.2h1.2zm1,0h4.8v1h1.2v1.2h1v4.8h-1v1.2h-1.2v1h-4.8v-1h-1.2v-1.2h-1v-4.8h1v-1.2h1.2zm1,-1h4.8v1h1.2v1.2h1v4.8h-1v1.2h-1.2v1h-4.8v-1h-1.2v-1.2h-1v-4.8h1v-1.2h1.2zm1,0h4.8v1h1.2v1.2h1v4.8h-1v1.2h-1.2v1h-4.8v-1h-1.2v-1.2h-1v-4.8h1v-1.2h1.2zm1,0h4.8v1h1.2v1.2h1v4.8h-1v1.2h-1.2v1h-4.8v-1h-1.2v-1.2h-1v-4.8h1v-1.2h1.2zm1,0h4.8v1h1.2v1.2h1v4.8h-1v1.2h-1.2v1h-4.8v-1h-1.2v-1.2h-1v-4.8h1v-1.2h1.2zm1,0h4.8v1h1.2v1.2h1v4.8h-1v1.2h-1.2v1h-4.8v-1h-1.2v-1.2h-1v-4.8h1v-1.2h1.2zm1,-1h4.8v1h1.2v1.2h1v4.8h-1v1.2h-1.2v1h-4.8v-1h-1.2v-1.2h-1v-4.8h1v-1.2h1.2zm1,0h4.8v1h1.2v1.2h1v4.8h-1v1.2h-1.2v1h-4.8v-1h-1.2v-1.2h-1v-4.8h1v-1.2h1.2zm1,0h4.8v1h1.2v1.2h1v4.8h-1v1.2h-1.2v1h-4.8v-1h-1.2v-1.2h-1v-4.8h1v-1.2h1.2zm1,0h4.8v1h1.2v1.2h1v4.8h-1v1.2h-1.2v1h-4.8v-1h-1.2v-1.2h-1v-4.8h1v-1.2h1.2zm1,0h4.8v1h1.2v1.2h1v4.8h-1v1.2h-1.2v1h-4.8v-1h-1.2v-1.2h-1v-4.8h1v-1.2h1.2zm1,-1h4.8v1h1.2v1.2h1v4.8h-1v1.2h-1.2v1h-4.8v-1h-1.2v-1.2h-1v-4.8h1v-1.2h1.2zm1,0h4.8v1h1.2v1.2h1v4.8h-1v1.2h-1.2v1h-4.8v-1h-1.2v-1.2h-1v-4.8h1v-1.2h1.2zm1,0h4.8v1h1.2v1.2h1v4.8h-1v1.2h-1.2v1h-4.8v-1h-1.2v-1.2h-1v-4.8h1v-1.2h1.2zm1,0h4.8v1h1.2v1.2h1v4.8h-1v1.2h-1.2v1h-4.8v-1h-1.2v-1.2h-1v-4.8h1v-1.2h1.2zm1,-1h4.8v1h1.2v1.2h1v4.8h-1v1.2h-1.2v1h-4.8v-1h-1.2v-1.2h-1v-4.8h1v-1.2h1.2zm1,0h4.8v1h1.2v1.2h1v4.8h-1v1.2h-1.2v1h-4.8v-1h-1.2v-1.2h-1v-4.8h1v-1.2h1.2zm1,0h4.8v1h1.2v1.2h1v4.8h-1v1.2h-1.2v1h-4.8v-1h-1.2v-1.2h-1v-4.8h1v-1.2h1.2zm1,0h4.8v1h1.2v1.2h1v4.8h-1v1.2h-1.2v1h-4.8v-1h-1.2v-1.2h-1v-4.8h1v-1.2h1.2zm1,0h4.8v1h1.2v1.2h1v4.8h-1v1.2h-1.2v1h-4.8v-1h-1.2v-1.2h-1v-4.8h1v-1.2h1.2zm1,-1h4.8v1h1.2v1.2h1v4.8h-1v1.2h-1.2v1h-4.8v-1h-1.2v-1.2h-1v-4.8h1v-1.2h1.2zm1,0h4.8v1h1.2v1.2h1v4.8h-1v1.2h-1.2v1h-4.8v-1h-1.2v-1.2h-1v-4.8h1v-1.2h1.2zm1,0h4.8v1h1.2v1.2h1v4.8h-1v1.2h-1.2v1h-4.8v-1h-1.2v-1.2h-1v-4.8h1v-1.2h1.2zm1,0h4.8v1h1.2v1.2h1v4.8h-1v1.2h-1.2v1h-4.8v-1h-1.2v-1.2h-1v-4.8h1v-1.2h1.2zm1,-1h4.8v1h1.2v1.2h1v4.8h-1v1.2h-1.2v1h-4.8v-1h-1.2v-1.2h-1v-4.8h1v-1.2h1.2zm1,0h4.8v1h1.2v1.2h1v4.8h-1v1.2h-1.2v1h-4.8v-1h-1.2v-1.2h-1v-4.8h1v-1.2h1.2zm1,0h4.8v1h1.2v1.2h1v4.8h-1v1.2h-1.2v1h-4.8v-1h-1.2v-1.2h-1v-4.8h1v-1.2h1.2zm1,0h4.8v1h1.2v1.2h1v4.8h-1v1.2h-1.2v1h-4.8v-1h-1.2v-1.2h-1v-4.8h1v-1.2h1.2zm1,0h4.8v1h1.2v1.2h1v4.8h-1v1.2h-1.2v1h-4.8v-1h-1.2v-1.2h-1v-4.8h1v-1.2h1.2zm1,-1h4.8v1h1.2v1.2h1v4.8h-1v1.2h-1.2v1h-4.8v-1h-1.2v-1.2h-1v-4.8h1v-1.2h1.2zm1,0h4.8v1h1.2v1.2h1v4.8h-1v1.2h-1.2v1h-4.8v-1h-1.2v-1.2h-1v-4.8h1v-1.2h1.2zm1,0h4.8v1h1.2v1.2h1v4.8h-1v1.2h-1.2v1h-4.8v-1h-1.2v-1.2h-1v-4.8h1v-1.2h1.2zm1,0h4.8v1h1.2v1.2h1v4.8h-1v1.2h-1.2v1h-4.8v-1h-1.2v-1.2h-1v-4.8h1v-1.2h1.2zm1,-1h4.8v1h1.2v1.2h1v4.8h-1v1.2h-1.2v1h-4.8v-1h-1.2v-1.2h-1v-4.8h1v-1.2h1.2zm1,0h4.8v1h1.2v1.2h1v4.8h-1v1.2h-1.2v1h-4.8v-1h-1.2v-1.2h-1v-4.8h1v-1.2h1.2zm1,0h4.8v1h1.2v1.2h1v4.8h-1v1.2h-1.2v1h-4.8v-1h-1.2v-1.2h-1v-4.8h1v-1.2h1.2zm1,0h4.8v1h1.2v1.2h1v4.8h-1v1.2h-1.2v1h-4.8v-1h-1.2v-1.2h-1v-4.8h1v-1.2h1.2zm1,0h4.8v1h1.2v1.2h1v4.8h-1v1.2h-1.2v1h-4.8v-1h-1.2v-1.2h-1v-4.8h1v-1.2h1.2zm1,-1h4.8v1h1.2v1.2h1v4.8h-1v1.2h-1.2v1h-4.8v-1h-1.2v-1.2h-1v-4.8h1v-1.2h1.2zm1,0h4.8v1h1.2v1.2h1v4.8h-1v1.2h-1.2v1h-4.8v-1h-1.2v-1.2h-1v-4.8h1v-1.2h1.2zm1,0h4.8v1h1.2v1.2h1v4.8h-1v1.2h-1.2v1h-4.8v-1h-1.2v-1.2h-1v-4.8h1v-1.2h1.2zm1,0h4.8v1h1.2v1.2h1v4.8h-1v1.2h-1.2v1h-4.8v-1h-1.2v-1.2h-1v-4.8h1v-1.2h1.2zm1,-1h4.8v1h1.2v1.2h1v4.8h-1v1.2h-1.2v1h-4.8v-1h-1.2v-1.2h-1v-4.8h1v-1.2h1.2zm1,0h4.8v1h1.2v1.2h1v4.8h-1v1.2h-1.2v1h-4.8v-1h-1.2v-1.2h-1v-4.8h1v-1.2h1.2zm1,0h4.8v1h1.2v1.2h1v4.8h-1v1.2h-1.2v1h-4.8v-1h-1.2v-1.2h-1v-4.8h1v-1.2h1.2zm1,0h4.8v1h1.2v1.2h1v4.8h-1v1.2h-1.2v1h-4.8v-1h-1.2v-1.2h-1v-4.8h1v-1.2h1.2zm1,0h4.8v1h1.2v1.2h1v4.8h-1v1.2h-1.2v1h-4.8v-1h-1.2v-1.2h-1v-4.8h1v-1.2h1.2zm1,-1h4.8v1h1.2v1.2h1v4.8h-1v1.2h-1.2v1h-4.8v-1h-1.2v-1.2h-1v-4.8h1v-1.2h1.2zm1,0h4.8v1h1.2v1.2h1v4.8h-1v1.2h-1.2v1h-4.8v-1h-1.2v-1.2h-1v-4.8h1v-1.2h1.2zm1,0h4.8v1h1.2v1.2h1v4.8h-1v1.2h-1.2v1h-4.8v-1h-1.2v-1.2h-1v-4.8h1v-1.2h1.2zm1,0h4.8v1h1.2v1.2h1v4.8h-1v1.2h-1.2v1h-4.8v-1h-1.2v-1.2h-1v-4.8h1v-1.2h1.2zm1,-1h4.8v1h1.2v1.2h1v4.8h-1v1.2h-1.2v1h-4.8v-1h-1.2v-1.2h-1v-4.8h1v-1.2h1.2zm1,0h4.8v1h1.2v1.2h1v4.8h-1v1.2h-1.2v1h-4.8v-1h-1.2v-1.2h-1v-4.8h1v-1.2h1.2zm1,0h4.8v1h1.2v1.2h1v4.8h-1v1.2h-1.2v1h-4.8v-1h-1.2v-1.2h-1v-4.8h1v-1.2h1.2zm1,0h4.8v1h1.2v1.2h1v4.8h-1v1.2h-1.2v1h-4.8v-1h-1.2v-1.2h-1v-4.8h1v-1.2h1.2zm1,-1h4.8v1h1.2v1.2h1v4.8h-1v1.2h-1.2v1h-4.8v-1h-1.2v-1.2h-1v-4.8h1v-1.2h1.2zm1,0h4.8v1h1.2v1.2h1v4.8h-1v1.2h-1.2v1h-4.8v-1h-1.2v-1.2h-1v-4.8h1v-1.2h1.2zm1,0h4.8v1h1.2v1.2h1v4.8h-1v1.2h-1.2v1h-4.8v-1h-1.2v-1.2h-1v-4.8h1v-1.2h1.2zm1,0h4.8v1h1.2v1.2h1v4.8h-1v1.2h-1.2v1h-4.8v-1h-1.2v-1.2h-1v-4.8h1v-1.2h1.2zm1,0h4.8v1h1.2v1.2h1v4.8h-1v1.2h-1.2v1h-4.8v-1h-1.2v-1.2h-1v-4.8h1v-1.2h1.2zm1,-1h4.8v1h1.2v1.2h1v4.8h-1v1.2h-1.2v1h-4.8v-1h-1.2v-1.2h-1v-4.8h1v-1.2h1.2zm1,0h4.8v1h1.2v1.2h1v4.8h-1v1.2h-1.2v1h-4.8v-1h-1.2v-1.2h-1v-4.8h1v-1.2h1.2zm1,0h4.8v1h1.2v1.2h1v4.8h-1v1.2h-1.2v1h-4.8v-1h-1.2v-1.2h-1v-4.8h1v-1.2h1.2zm1,0h4.8v1h1.2v1.2h1v4.8h-1v1.2h-1.2v1h-4.8v-1h-1.2v-1.2h-1v-4.8h1v-1.2h1.2zm1,-1h4.8v1h1.2v1.2h1v4.8h-1v1.2h-1.2v1h-4.8v-1h-1.2v-1.2h-1v-4.8h1v-1.2h1.2zm1,0h4.8v1h1.2v1.2h1v4.8h-1v1.2h-1.2v1h-4.8v-1h-1.2v-1.2h-1v-4.8h1v-1.2h1.2zm1,0h4.8v1h1.2v1.2h1v4.8h-1v1.2h-1.2v1h-4.8v-1h-1.2v-1.2h-1v-4.8h1v-1.2h1.2zm1,0h4.8v1h1.2v1.2h1v4.8h-1v1.2h-1.2v1h-4.8v-1h-1.2v-1.2h-1v-4.8h1v-1.2h1.2zm1,-1h4.8v1h1.2v1.2h1v4.8h-1v1.2h-1.2v1h-4.8v-1h-1.2v-1.2h-1v-4.8h1v-1.2h1.2zm1,0h4.8v1h1.2v1.2h1v4.8h-1v1.2h-1.2v1h-4.8v-1h-1.2v-1.2h-1v-4.8h1v-1.2h1.2zm1,0h4.8v1h1.2v1.2h1v4.8h-1v1.2h-1.2v1h-4.8v-1h-1.2v-1.2h-1v-4.8h1v-1.2h1.2zm1,0h4.8v1h1.2v1.2h1v4.8h-1v1.2h-1.2v1h-4.8v-1h-1.2v-1.2h-1v-4.8h1v-1.2h1.2zm1,0h4.8v1h1.2v1.2h1v4.8h-1v1.2h-1.2v1h-4.8v-1h-1.2v-1.2h-1v-4.8h1v-1.2h1.2zm1,-1h4.8v1h1.2v1.2h1v4.8h-1v1.2h-1.2v1h-4.8v-1h-1.2v-1.2h-1v-4.8h1v-1.2h1.2zm1,0h4.8v1h1.2v1.2h1v4.8h-1v1.2h-1.2v1h-4.8v-1h-1.2v-1.2h-1v-4.8h1v-1.2h1.2zm1,0h4.8v1h1.2v1.2h1v4.8h-1v1.2h-1.2v1h-4.8v-1h-1.2v-1.2h-1v-4.8h1v-1.2h1.2zm1,0h4.8v1h1.2v1.2h1v4.8h-1v1.2h-1.2v1h-4.8v-1h-1.2v-1.2h-1v-4.8h1v-1.2h1.2zm1,-1h4.8v1h1.2v1.2h1v4.8h-1v1.2h-1.2v1h-4.8v-1h-1.2v-1.2h-1v-4.8h1v-1.2h1.2zm1,0h4.8v1h1.2v1.2h1v4.8h-1v1.2h-1.2v1h-4.8v-1h-1.2v-1.2h-1v-4.8h1v-1.2h1.2zm1,0h4.8v1h1.2v1.2h1v4.8h-1v1.2h-1.2v1h-4.8v-1h-1.2v-1.2h-1v-4.8h1v-1.2h1.2zm1,0h4.8v1h1.2v1.2h1v4.8h-1v1.2h-1.2v1h-4.8v-1h-1.2v-1.2h-1v-4.8h1v-1.2h1.2zm1,-1h4.8v1h1.2v1.2h1v4.8h-1v1.2h-1.2v1h-4.8v-1h-1.2v-1.2h-1v-4.8h1v-1.2h1.2zm1,0h4.8v1h1.2v1.2h1v4.8h-1v1.2h-1.2v1h-4.8v-1h-1.2v-1.2h-1v-4.8h1v-1.2h1.2zm1,0h4.8v1h1.2v1.2h1v4.8h-1v1.2h-1.2v1h-4.8v-1h-1.2v-1.2h-1v-4.8h1v-1.2h1.2zm1,0h4.8v1h1.2v1.2h1v4.8h-1v1.2h-1.2v1h-4.8v-1h-1.2v-1.2h-1v-4.8h1v-1.2h1.2zm1,-1h4.8v1h1.2v1.2h1v4.8h-1v1.2h-1.2v1h-4.8v-1h-1.2v-1.2h-1v-4.8h1v-1.2h1.2zm1,0h4.8v1h1.2v1.2h1v4.8h-1v1.2h-1.2v1h-4.8v-1h-1.2v-1.2h-1v-4.8h1v-1.2h1.2zm1,0h4.8v1h1.2v1.2h1v4.8h-1v1.2h-1.2v1h-4.8v-1h-1.2v-1.2h-1v-4.8h1v-1.2h1.2zm1,0h4.8v1h1.2v1.2h1v4.8h-1v1.2h-1.2v1h-4.8v-1h-1.2v-1.2h-1v-4.8h1v-1.2h1.2zm1,-1h4.8v1h1.2v1.2h1v4.8h-1v1.2h-1.2v1h-4.8v-1h-1.2v-1.2h-1v-4.8h1v-1.2h1.2zm1,0h4.8v1h1.2v1.2h1v4.8h-1v1.2h-1.2v1h-4.8v-1h-1.2v-1.2h-1v-4.8h1v-1.2h1.2zm1,0h4.8v1h1.2v1.2h1v4.8h-1v1.2h-1.2v1h-4.8v-1h-1.2v-1.2h-1v-4.8h1v-1.2h1.2zm1,0h4.8v1h1.2v1.2h1v4.8h-1v1.2h-1.2v1h-4.8v-1h-1.2v-1.2h-1v-4.8h1v-1.2h1.2zm1,0h4.8v1h1.2v1.2h1v4.8h-1v1.2h-1.2v1h-4.8v-1h-1.2v-1.2h-1v-4.8h1v-1.2h1.2zm1,-1h4.8v1h1.2v1.2h1v4.8h-1v1.2h-1.2v1h-4.8v-1h-1.2v-1.2h-1v-4.8h1v-1.2h1.2zm1,0h4.8v1h1.2v1.2h1v4.8h-1v1.2h-1.2v1h-4.8v-1h-1.2v-1.2h-1v-4.8h1v-1.2h1.2zm1,0h4.8v1h1.2v1.2h1v4.8h-1v1.2h-1.2v1h-4.8v-1h-1.2v-1.2h-1v-4.8h1v-1.2h1.2zm1,0h4.8v1h1.2v1.2h1v4.8h-1v1.2h-1.2v1h-4.8v-1h-1.2v-1.2h-1v-4.8h1v-1.2h1.2zm1,-1h4.8v1h1.2v1.2h1v4.8h-1v1.2h-1.2v1h-4.8v-1h-1.2v-1.2h-1v-4.8h1v-1.2h1.2zm1,0h4.8v1h1.2v1.2h1v4.8h-1v1.2h-1.2v1h-4.8v-1h-1.2v-1.2h-1v-4.8h1v-1.2h1.2zm1,0h4.8v1h1.2v1.2h1v4.8h-1v1.2h-1.2v1h-4.8v-1h-1.2v-1.2h-1v-4.8h1v-1.2h1.2zm1,0h4.8v1h1.2v1.2h1v4.8h-1v1.2h-1.2v1h-4.8v-1h-1.2v-1.2h-1v-4.8h1v-1.2h1.2zm1,-1h4.8v1h1.2v1.2h1v4.8h-1v1.2h-1.2v1h-4.8v-1h-1.2v-1.2h-1v-4.8h1v-1.2h1.2zm1,0h4.8v1h1.2v1.2h1v4.8h-1v1.2h-1.2v1h-4.8v-1h-1.2v-1.2h-1v-4.8h1v-1.2h1.2zm1,0h4.8v1h1.2v1.2h1v4.8h-1v1.2h-1.2v1h-4.8v-1h-1.2v-1.2h-1v-4.8h1v-1.2h1.2zm1,0h4.8v1h1.2v1.2h1v4.8h-1v1.2h-1.2v1h-4.8v-1h-1.2v-1.2h-1v-4.8h1v-1.2h1.2zm1,-1h4.8v1h1.2v1.2h1v4.8h-1v1.2h-1.2v1h-4.8v-1h-1.2v-1.2h-1v-4.8h1v-1.2h1.2zm1,0h4.8v1h1.2v1.2h1v4.8h-1v1.2h-1.2v1h-4.8v-1h-1.2v-1.2h-1v-4.8h1v-1.2h1.2zm1,0h4.8v1h1.2v1.2h1v4.8h-1v1.2h-1.2v1h-4.8v-1h-1.2v-1.2h-1v-4.8h1v-1.2h1.2zm1,0h4.8v1h1.2v1.2h1v4.8h-1v1.2h-1.2v1h-4.8v-1h-1.2v-1.2h-1v-4.8h1v-1.2h1.2zm1,-1h4.8v1h1.2v1.2h1v4.8h-1v1.2h-1.2v1h-4.8v-1h-1.2v-1.2h-1v-4.8h1v-1.2h1.2zm1,0h4.8v1h1.2v1.2h1v4.8h-1v1.2h-1.2v1h-4.8v-1h-1.2v-1.2h-1v-4.8h1v-1.2h1.2zm1,0h4.8v1h1.2v1.2h1v4.8h-1v1.2h-1.2v1h-4.8v-1h-1.2v-1.2h-1v-4.8h1v-1.2h1.2zm1,0h4.8v1h1.2v1.2h1v4.8h-1v1.2h-1.2v1h-4.8v-1h-1.2v-1.2h-1v-4.8h1v-1.2h1.2zm1,-1h4.8v1h1.2v1.2h1v4.8h-1v1.2h-1.2v1h-4.8v-1h-1.2v-1.2h-1v-4.8h1v-1.2h1.2zm1,0h4.8v1h1.2v1.2h1v4.8h-1v1.2h-1.2v1h-4.8v-1h-1.2v-1.2h-1v-4.8h1v-1.2h1.2zm1,0h4.8v1h1.2v1.2h1v4.8h-1v1.2h-1.2v1h-4.8v-1h-1.2v-1.2h-1v-4.8h1v-1.2h1.2zm1,0h4.8v1h1.2v1.2h1v4.8h-1v1.2h-1.2v1h-4.8v-1h-1.2v-1.2h-1v-4.8h1v-1.2h1.2zm1,-1h4.8v1h1.2v1.2h1v4.8h-1v1.2h-1.2v1h-4.8v-1h-1.2v-1.2h-1v-4.8h1v-1.2h1.2zm1,0h4.8v1h1.2v1.2h1v4.8h-1v1.2h-1.2v1h-4.8v-1h-1.2v-1.2h-1v-4.8h1v-1.2h1.2zm1,0h4.8v1h1.2v1.2h1v4.8h-1v1.2h-1.2v1h-4.8v-1h-1.2v-1.2h-1v-4.8h1v-1.2h1.2zm1,0h4.8v1h1.2v1.2h1v4.8h-1v1.2h-1.2v1h-4.8v-1h-1.2v-1.2h-1v-4.8h1v-1.2h1.2zm1,-1h4.8v1h1.2v1.2h1v4.8h-1v1.2h-1.2v1h-4.8v-1h-1.2v-1.2h-1v-4.8h1v-1.2h1.2zm1,0h4.8v1h1.2v1.2h1v4.8h-1v1.2h-1.2v1h-4.8v-1h-1.2v-1.2h-1v-4.8h1v-1.2h1.2zm1,0h4.8v1h1.2v1.2h1v4.8h-1v1.2h-1.2v1h-4.8v-1h-1.2v-1.2h-1v-4.8h1v-1.2h1.2zm1,0h4.8v1h1.2v1.2h1v4.8h-1v1.2h-1.2v1h-4.8v-1h-1.2v-1.2h-1v-4.8h1v-1.2h1.2zm1,-1h4.8v1h1.2v1.2h1v4.8h-1v1.2h-1.2v1h-4.8v-1h-1.2v-1.2h-1v-4.8h1v-1.2h1.2zm1,0h4.8v1h1.2v1.2h1v4.8h-1v1.2h-1.2v1h-4.8v-1h-1.2v-1.2h-1v-4.8h1v-1.2h1.2zm1,0h4.8v1h1.2v1.2h1v4.8h-1v1.2h-1.2v1h-4.8v-1h-1.2v-1.2h-1v-4.8h1v-1.2h1.2zm1,0h4.8v1h1.2v1.2h1v4.8h-1v1.2h-1.2v1h-4.8v-1h-1.2v-1.2h-1v-4.8h1v-1.2h1.2zm1,-1h4.8v1h1.2v1.2h1v4.8h-1v1.2h-1.2v1h-4.8v-1h-1.2v-1.2h-1v-4.8h1v-1.2h1.2zm1,0h4.8v1h1.2v1.2h1v4.8h-1v1.2h-1.2v1h-4.8v-1h-1.2v-1.2h-1v-4.8h1v-1.2h1.2zm1,0h4.8v1h1.2v1.2h1v4.8h-1v1.2h-1.2v1h-4.8v-1h-1.2v-1.2h-1v-4.8h1v-1.2h1.2zm1,0h4.8v1h1.2v1.2h1v4.8h-1v1.2h-1.2v1h-4.8v-1h-1.2v-1.2h-1v-4.8h1v-1.2h1.2zm1,-1h4.8v1h1.2v1.2h1v4.8h-1v1.2h-1.2v1h-4.8v-1h-1.2v-1.2h-1v-4.8h1v-1.2h1.2zm1,0h4.8v1h1.2v1.2h1v4.8h-1v1.2h-1.2v1h-4.8v-1h-1.2v-1.2h-1v-4.8h1v-1.2h1.2zm1,0h4.8v1h1.2v1.2h1v4.8h-1v1.2h-1.2v1h-4.8v-1h-1.2v-1.2h-1v-4.8h1v-1.2h1.2zm1,0h4.8v1h1.2v1.2h1v4.8h-1v1.2h-1.2v1h-4.8v-1h-1.2v-1.2h-1v-4.8h1v-1.2h1.2zm1,-1h4.8v1h1.2v1.2h1v4.8h-1v1.2h-1.2v1h-4.8v-1h-1.2v-1.2h-1v-4.8h1v-1.2h1.2zm1,0h4.8v1h1.2v1.2h1v4.8h-1v1.2h-1.2v1h-4.8v-1h-1.2v-1.2h-1v-4.8h1v-1.2h1.2zm1,0h4.8v1h1.2v1.2h1v4.8h-1v1.2h-1.2v1h-4.8v-1h-1.2v-1.2h-1v-4.8h1v-1.2h1.2zm1,0h4.8v1h1.2v1.2h1v4.8h-1v1.2h-1.2v1h-4.8v-1h-1.2v-1.2h-1v-4.8h1v-1.2h1.2zm1,-1h4.8v1h1.2v1.2h1v4.8h-1v1.2h-1.2v1h-4.8v-1h-1.2v-1.2h-1v-4.8h1v-1.2h1.2zm1,0h4.8v1h1.2v1.2h1v4.8h-1v1.2h-1.2v1h-4.8v-1h-1.2v-1.2h-1v-4.8h1v-1.2h1.2zm1,0h4.8v1h1.2v1.2h1v4.8h-1v1.2h-1.2v1h-4.8v-1h-1.2v-1.2h-1v-4.8h1v-1.2h1.2zm1,0h4.8v1h1.2v1.2h1v4.8h-1v1.2h-1.2v1h-4.8v-1h-1.2v-1.2h-1v-4.8h1v-1.2h1.2zm1,-1h4.8v1h1.2v1.2h1v4.8h-1v1.2h-1.2v1h-4.8v-1h-1.2v-1.2h-1v-4.8h1v-1.2h1.2zm1,0h4.8v1h1.2v1.2h1v4.8h-1v1.2h-1.2v1h-4.8v-1h-1.2v-1.2h-1v-4.8h1v-1.2h1.2zm1,0h4.8v1h1.2v1.2h1v4.8h-1v1.2h-1.2v1h-4.8v-1h-1.2v-1.2h-1v-4.8h1v-1.2h1.2zm1,0h4.8v1h1.2v1.2h1v4.8h-1v1.2h-1.2v1h-4.8v-1h-1.2v-1.2h-1v-4.8h1v-1.2h1.2zm1,-1h4.8v1h1.2v1.2h1v4.8h-1v1.2h-1.2v1h-4.8v-1h-1.2v-1.2h-1v-4.8h1v-1.2h1.2zm1,0h4.8v1h1.2v1.2h1v4.8h-1v1.2h-1.2v1h-4.8v-1h-1.2v-1.2h-1v-4.8h1v-1.2h1.2zm1,0h4.8v1h1.2v1.2h1v4.8h-1v1.2h-1.2v1h-4.8v-1h-1.2v-1.2h-1v-4.8h1v-1.2h1.2zm1,-1h4.8v1h1.2v1.2h1v4.8h-1v1.2h-1.2v1h-4.8v-1h-1.2v-1.2h-1v-4.8h1v-1.2h1.2zm1,0h4.8v1h1.2v1.2h1v4.8h-1v1.2h-1.2v1h-4.8v-1h-1.2v-1.2h-1v-4.8h1v-1.2h1.2zm1,0h4.8v1h1.2v1.2h1v4.8h-1v1.2h-1.2v1h-4.8v-1h-1.2v-1.2h-1v-4.8h1v-1.2h1.2zm1,0h4.8v1h1.2v1.2h1v4.8h-1v1.2h-1.2v1h-4.8v-1h-1.2v-1.2h-1v-4.8h1v-1.2h1.2zm1,-1h4.8v1h1.2v1.2h1v4.8h-1v1.2h-1.2v1h-4.8v-1h-1.2v-1.2h-1v-4.8h1v-1.2h1.2zm1,0h4.8v1h1.2v1.2h1v4.8h-1v1.2h-1.2v1h-4.8v-1h-1.2v-1.2h-1v-4.8h1v-1.2h1.2zm1,0h4.8v1h1.2v1.2h1v4.8h-1v1.2h-1.2v1h-4.8v-1h-1.2v-1.2h-1v-4.8h1v-1.2h1.2zm1,0h4.8v1h1.2v1.2h1v4.8h-1v1.2h-1.2v1h-4.8v-1h-1.2v-1.2h-1v-4.8h1v-1.2h1.2zm1,-1h4.8v1h1.2v1.2h1v4.8h-1v1.2h-1.2v1h-4.8v-1h-1.2v-1.2h-1v-4.8h1v-1.2h1.2zm1,0h4.8v1h1.2v1.2h1v4.8h-1v1.2h-1.2v1h-4.8v-1h-1.2v-1.2h-1v-4.8h1v-1.2h1.2zm1,0h4.8v1h1.2v1.2h1v4.8h-1v1.2h-1.2v1h-4.8v-1h-1.2v-1.2h-1v-4.8h1v-1.2h1.2zm1,0h4.8v1h1.2v1.2h1v4.8h-1v1.2h-1.2v1h-4.8v-1h-1.2v-1.2h-1v-4.8h1v-1.2h1.2zm1,-1h4.8v1h1.2v1.2h1v4.8h-1v1.2h-1.2v1h-4.8v-1h-1.2v-1.2h-1v-4.8h1v-1.2h1.2zm1,0h4.8v1h1.2v1.2h1v4.8h-1v1.2h-1.2v1h-4.8v-1h-1.2v-1.2h-1v-4.8h1v-1.2h1.2zm1,0h4.8v1h1.2v1.2h1v4.8h-1v1.2h-1.2v1h-4.8v-1h-1.2v-1.2h-1v-4.8h1v-1.2h1.2zm1,0h4.8v1h1.2v1.2h1v4.8h-1v1.2h-1.2v1h-4.8v-1h-1.2v-1.2h-1v-4.8h1v-1.2h1.2zm1,-1h4.8v1h1.2v1.2h1v4.8h-1v1.2h-1.2v1h-4.8v-1h-1.2v-1.2h-1v-4.8h1v-1.2h1.2zm1,0h4.8v1h1.2v1.2h1v4.8h-1v1.2h-1.2v1h-4.8v-1h-1.2v-1.2h-1v-4.8h1v-1.2h1.2zm1,0h4.8v1h1.2v1.2h1v4.8h-1v1.2h-1.2v1h-4.8v-1h-1.2v-1.2h-1v-4.8h1v-1.2h1.2zm1,-1h4.8v1h1.2v1.2h1v4.8h-1v1.2h-1.2v1h-4.8v-1h-1.2v-1.2h-1v-4.8h1v-1.2h1.2zm1,0h4.8v1h1.2v1.2h1v4.8h-1v1.2h-1.2v1h-4.8v-1h-1.2v-1.2h-1v-4.8h1v-1.2h1.2zm1,0h4.8v1h1.2v1.2h1v4.8h-1v1.2h-1.2v1h-4.8v-1h-1.2v-1.2h-1v-4.8h1v-1.2h1.2zm1,0h4.8v1h1.2v1.2h1v4.8h-1v1.2h-1.2v1h-4.8v-1h-1.2v-1.2h-1v-4.8h1v-1.2h1.2zm1,-1h4.8v1h1.2v1.2h1v4.8h-1v1.2h-1.2v1h-4.8v-1h-1.2v-1.2h-1v-4.8h1v-1.2h1.2zm1,0h4.8v1h1.2v1.2h1v4.8h-1v1.2h-1.2v1h-4.8v-1h-1.2v-1.2h-1v-4.8h1v-1.2h1.2zm1,0h4.8v1h1.2v1.2h1v4.8h-1v1.2h-1.2v1h-4.8v-1h-1.2v-1.2h-1v-4.8h1v-1.2h1.2zm1,0h4.8v1h1.2v1.2h1v4.8h-1v1.2h-1.2v1h-4.8v-1h-1.2v-1.2h-1v-4.8h1v-1.2h1.2zm1,-1h4.8v1h1.2v1.2h1v4.8h-1v1.2h-1.2v1h-4.8v-1h-1.2v-1.2h-1v-4.8h1v-1.2h1.2zm1,0h4.8v1h1.2v1.2h1v4.8h-1v1.2h-1.2v1h-4.8v-1h-1.2v-1.2h-1v-4.8h1v-1.2h1.2zm1,0h4.8v1h1.2v1.2h1v4.8h-1v1.2h-1.2v1h-4.8v-1h-1.2v-1.2h-1v-4.8h1v-1.2h1.2zm1,0h4.8v1h1.2v1.2h1v4.8h-1v1.2h-1.2v1h-4.8v-1h-1.2v-1.2h-1v-4.8h1v-1.2h1.2zm1,-1h4.8v1h1.2v1.2h1v4.8h-1v1.2h-1.2v1h-4.8v-1h-1.2v-1.2h-1v-4.8h1v-1.2h1.2zm1,0h4.8v1h1.2v1.2h1v4.8h-1v1.2h-1.2v1h-4.8v-1h-1.2v-1.2h-1v-4.8h1v-1.2h1.2zm1,0h4.8v1h1.2v1.2h1v4.8h-1v1.2h-1.2v1h-4.8v-1h-1.2v-1.2h-1v-4.8h1v-1.2h1.2zm1,-1h4.8v1h1.2v1.2h1v4.8h-1v1.2h-1.2v1h-4.8v-1h-1.2v-1.2h-1v-4.8h1v-1.2h1.2zm1,0h4.8v1h1.2v1.2h1v4.8h-1v1.2h-1.2v1h-4.8v-1h-1.2v-1.2h-1v-4.8h1v-1.2h1.2zm1,0h4.8v1h1.2v1.2h1v4.8h-1v1.2h-1.2v1h-4.8v-1h-1.2v-1.2h-1v-4.8h1v-1.2h1.2zm1,0h4.8v1h1.2v1.2h1v4.8h-1v1.2h-1.2v1h-4.8v-1h-1.2v-1.2h-1v-4.8h1v-1.2h1.2zm1,-1h4.8v1h1.2v1.2h1v4.8h-1v1.2h-1.2v1h-4.8v-1h-1.2v-1.2h-1v-4.8h1v-1.2h1.2zm1,0h4.8v1h1.2v1.2h1v4.8h-1v1.2h-1.2v1h-4.8v-1h-1.2v-1.2h-1v-4.8h1v-1.2h1.2zm1,0h4.8v1h1.2v1.2h1v4.8h-1v1.2h-1.2v1h-4.8v-1h-1.2v-1.2h-1v-4.8h1v-1.2h1.2zm1,0h4.8v1h1.2v1.2h1v4.8h-1v1.2h-1.2v1h-4.8v-1h-1.2v-1.2h-1v-4.8h1v-1.2h1.2zm1,-1h4.8v1h1.2v1.2h1v4.8h-1v1.2h-1.2v1h-4.8v-1h-1.2v-1.2h-1v-4.8h1v-1.2h1.2zm1,0h4.8v1h1.2v1.2h1v4.8h-1v1.2h-1.2v1h-4.8v-1h-1.2v-1.2h-1v-4.8h1v-1.2h1.2zm1,0h4.8v1h1.2v1.2h1v4.8h-1v1.2h-1.2v1h-4.8v-1h-1.2v-1.2h-1v-4.8h1v-1.2h1.2zm1,-1h4.8v1h1.2v1.2h1v4.8h-1v1.2h-1.2v1h-4.8v-1h-1.2v-1.2h-1v-4.8h1v-1.2h1.2zm1,0h4.8v1h1.2v1.2h1v4.8h-1v1.2h-1.2v1h-4.8v-1h-1.2v-1.2h-1v-4.8h1v-1.2h1.2zm1,0h4.8v1h1.2v1.2h1v4.8h-1v1.2h-1.2v1h-4.8v-1h-1.2v-1.2h-1v-4.8h1v-1.2h1.2zm1,0h4.8v1h1.2v1.2h1v4.8h-1v1.2h-1.2v1h-4.8v-1h-1.2v-1.2h-1v-4.8h1v-1.2h1.2zm1,-1h4.8v1h1.2v1.2h1v4.8h-1v1.2h-1.2v1h-4.8v-1h-1.2v-1.2h-1v-4.8h1v-1.2h1.2zm1,0h4.8v1h1.2v1.2h1v4.8h-1v1.2h-1.2v1h-4.8v-1h-1.2v-1.2h-1v-4.8h1v-1.2h1.2zm1,0h4.8v1h1.2v1.2h1v4.8h-1v1.2h-1.2v1h-4.8v-1h-1.2v-1.2h-1v-4.8h1v-1.2h1.2zm1,0h4.8v1h1.2v1.2h1v4.8h-1v1.2h-1.2v1h-4.8v-1h-1.2v-1.2h-1v-4.8h1v-1.2h1.2zm1,-1h4.8v1h1.2v1.2h1v4.8h-1v1.2h-1.2v1h-4.8v-1h-1.2v-1.2h-1v-4.8h1v-1.2h1.2zm1,0h4.8v1h1.2v1.2h1v4.8h-1v1.2h-1.2v1h-4.8v-1h-1.2v-1.2h-1v-4.8h1v-1.2h1.2zm1,0h4.8v1h1.2v1.2h1v4.8h-1v1.2h-1.2v1h-4.8v-1h-1.2v-1.2h-1v-4.8h1v-1.2h1.2zm1,-1h4.8v1h1.2v1.2h1v4.8h-1v1.2h-1.2v1h-4.8v-1h-1.2v-1.2h-1v-4.8h1v-1.2h1.2zm1,0h4.8v1h1.2v1.2h1v4.8h-1v1.2h-1.2v1h-4.8v-1h-1.2v-1.2h-1v-4.8h1v-1.2h1.2zm1,0h4.8v1h1.2v1.2h1v4.8h-1v1.2h-1.2v1h-4.8v-1h-1.2v-1.2h-1v-4.8h1v-1.2h1.2zm1,0h4.8v1h1.2v1.2h1v4.8h-1v1.2h-1.2v1h-4.8v-1h-1.2v-1.2h-1v-4.8h1v-1.2h1.2zm1,-1h4.8v1h1.2v1.2h1v4.8h-1v1.2h-1.2v1h-4.8v-1h-1.2v-1.2h-1v-4.8h1v-1.2h1.2zm1,0h4.8v1h1.2v1.2h1v4.8h-1v1.2h-1.2v1h-4.8v-1h-1.2v-1.2h-1v-4.8h1v-1.2h1.2zm1,0h4.8v1h1.2v1.2h1v4.8h-1v1.2h-1.2v1h-4.8v-1h-1.2v-1.2h-1v-4.8h1v-1.2h1.2zm1,-1h4.8v1h1.2v1.2h1v4.8h-1v1.2h-1.2v1h-4.8v-1h-1.2v-1.2h-1v-4.8h1v-1.2h1.2zm1,0h4.8v1h1.2v1.2h1v4.8h-1v1.2h-1.2v1h-4.8v-1h-1.2v-1.2h-1v-4.8h1v-1.2h1.2zm1,0h4.8v1h1.2v1.2h1v4.8h-1v1.2h-1.2v1h-4.8v-1h-1.2v-1.2h-1v-4.8h1v-1.2h1.2zm1,0h4.8v1h1.2v1.2h1v4.8h-1v1.2h-1.2v1h-4.8v-1h-1.2v-1.2h-1v-4.8h1v-1.2h1.2zm1,-1h4.8v1h1.2v1.2h1v4.8h-1v1.2h-1.2v1h-4.8v-1h-1.2v-1.2h-1v-4.8h1v-1.2h1.2zm1,0h4.8v1h1.2v1.2h1v4.8h-1v1.2h-1.2v1h-4.8v-1h-1.2v-1.2h-1v-4.8h1v-1.2h1.2zm1,0h4.8v1h1.2v1.2h1v4.8h-1v1.2h-1.2v1h-4.8v-1h-1.2v-1.2h-1v-4.8h1v-1.2h1.2zm1,-1h4.8v1h1.2v1.2h1v4.8h-1v1.2h-1.2v1h-4.8v-1h-1.2v-1.2h-1v-4.8h1v-1.2h1.2zm1,0h4.8v1h1.2v1.2h1v4.8h-1v1.2h-1.2v1h-4.8v-1h-1.2v-1.2h-1v-4.8h1v-1.2h1.2zm1,0h4.8v1h1.2v1.2h1v4.8h-1v1.2h-1.2v1h-4.8v-1h-1.2v-1.2h-1v-4.8h1v-1.2h1.2zm1,0h4.8v1h1.2v1.2h1v4.8h-1v1.2h-1.2v1h-4.8v-1h-1.2v-1.2h-1v-4.8h1v-1.2h1.2zm1,-1h4.8v1h1.2v1.2h1v4.8h-1v1.2h-1.2v1h-4.8v-1h-1.2v-1.2h-1v-4.8h1v-1.2h1.2zm1,0h4.8v1h1.2v1.2h1v4.8h-1v1.2h-1.2v1h-4.8v-1h-1.2v-1.2h-1v-4.8h1v-1.2h1.2zm1,0h4.8v1h1.2v1.2h1v4.8h-1v1.2h-1.2v1h-4.8v-1h-1.2v-1.2h-1v-4.8h1v-1.2h1.2zm1,-1h4.8v1h1.2v1.2h1v4.8h-1v1.2h-1.2v1h-4.8v-1h-1.2v-1.2h-1v-4.8h1v-1.2h1.2zm1,0h4.8v1h1.2v1.2h1v4.8h-1v1.2h-1.2v1h-4.8v-1h-1.2v-1.2h-1v-4.8h1v-1.2h1.2zm1,0h4.8v1h1.2v1.2h1v4.8h-1v1.2h-1.2v1h-4.8v-1h-1.2v-1.2h-1v-4.8h1v-1.2h1.2zm1,0h4.8v1h1.2v1.2h1v4.8h-1v1.2h-1.2v1h-4.8v-1h-1.2v-1.2h-1v-4.8h1v-1.2h1.2zm1,-1h4.8v1h1.2v1.2h1v4.8h-1v1.2h-1.2v1h-4.8v-1h-1.2v-1.2h-1v-4.8h1v-1.2h1.2zm1,0h4.8v1h1.2v1.2h1v4.8h-1v1.2h-1.2v1h-4.8v-1h-1.2v-1.2h-1v-4.8h1v-1.2h1.2zm1,0h4.8v1h1.2v1.2h1v4.8h-1v1.2h-1.2v1h-4.8v-1h-1.2v-1.2h-1v-4.8h1v-1.2h1.2zm1,-1h4.8v1h1.2v1.2h1v4.8h-1v1.2h-1.2v1h-4.8v-1h-1.2v-1.2h-1v-4.8h1v-1.2h1.2zm1,0h4.8v1h1.2v1.2h1v4.8h-1v1.2h-1.2v1h-4.8v-1h-1.2v-1.2h-1v-4.8h1v-1.2h1.2zm1,0h4.8v1h1.2v1.2h1v4.8h-1v1.2h-1.2v1h-4.8v-1h-1.2v-1.2h-1v-4.8h1v-1.2h1.2zm1,0h4.8v1h1.2v1.2h1v4.8h-1v1.2h-1.2v1h-4.8v-1h-1.2v-1.2h-1v-4.8h1v-1.2h1.2zm1,-1h4.8v1h1.2v1.2h1v4.8h-1v1.2h-1.2v1h-4.8v-1h-1.2v-1.2h-1v-4.8h1v-1.2h1.2zm1,0h4.8v1h1.2v1.2h1v4.8h-1v1.2h-1.2v1h-4.8v-1h-1.2v-1.2h-1v-4.8h1v-1.2h1.2zm1,0h4.8v1h1.2v1.2h1v4.8h-1v1.2h-1.2v1h-4.8v-1h-1.2v-1.2h-1v-4.8h1v-1.2h1.2zm1,-1h4.8v1h1.2v1.2h1v4.8h-1v1.2h-1.2v1h-4.8v-1h-1.2v-1.2h-1v-4.8h1v-1.2h1.2zm1,0h4.8v1h1.2v1.2h1v4.8h-1v1.2h-1.2v1h-4.8v-1h-1.2v-1.2h-1v-4.8h1v-1.2h1.2zm1,0h4.8v1h1.2v1.2h1v4.8h-1v1.2h-1.2v1h-4.8v-1h-1.2v-1.2h-1v-4.8h1v-1.2h1.2zm1,0h4.8v1h1.2v1.2h1v4.8h-1v1.2h-1.2v1h-4.8v-1h-1.2v-1.2h-1v-4.8h1v-1.2h1.2zm1,-1h4.8v1h1.2v1.2h1v4.8h-1v1.2h-1.2v1h-4.8v-1h-1.2v-1.2h-1v-4.8h1v-1.2h1.2zm1,0h4.8v1h1.2v1.2h1v4.8h-1v1.2h-1.2v1h-4.8v-1h-1.2v-1.2h-1v-4.8h1v-1.2h1.2zm1,0h4.8v1h1.2v1.2h1v4.8h-1v1.2h-1.2v1h-4.8v-1h-1.2v-1.2h-1v-4.8h1v-1.2h1.2zm1,-1h4.8v1h1.2v1.2h1v4.8h-1v1.2h-1.2v1h-4.8v-1h-1.2v-1.2h-1v-4.8h1v-1.2h1.2zm1,0h4.8v1h1.2v1.2h1v4.8h-1v1.2h-1.2v1h-4.8v-1h-1.2v-1.2h-1v-4.8h1v-1.2h1.2zm1,0h4.8v1h1.2v1.2h1v4.8h-1v1.2h-1.2v1h-4.8v-1h-1.2v-1.2h-1v-4.8h1v-1.2h1.2zm1,0h4.8v1h1.2v1.2h1v4.8h-1v1.2h-1.2v1h-4.8v-1h-1.2v-1.2h-1v-4.8h1v-1.2h1.2zm1,-1h4.8v1h1.2v1.2h1v4.8h-1v1.2h-1.2v1h-4.8v-1h-1.2v-1.2h-1v-4.8h1v-1.2h1.2zm1,0h4.8v1h1.2v1.2h1v4.8h-1v1.2h-1.2v1h-4.8v-1h-1.2v-1.2h-1v-4.8h1v-1.2h1.2zm1,0h4.8v1h1.2v1.2h1v4.8h-1v1.2h-1.2v1h-4.8v-1h-1.2v-1.2h-1v-4.8h1v-1.2h1.2zm1,-1h4.8v1h1.2v1.2h1v4.8h-1v1.2h-1.2v1h-4.8v-1h-1.2v-1.2h-1v-4.8h1v-1.2h1.2zm1,0h4.8v1h1.2v1.2h1v4.8h-1v1.2h-1.2v1h-4.8v-1h-1.2v-1.2h-1v-4.8h1v-1.2h1.2zm1,0h4.8v1h1.2v1.2h1v4.8h-1v1.2h-1.2v1h-4.8v-1h-1.2v-1.2h-1v-4.8h1v-1.2h1.2zm1,-1h4.8v1h1.2v1.2h1v4.8h-1v1.2h-1.2v1h-4.8v-1h-1.2v-1.2h-1v-4.8h1v-1.2h1.2zm1,0h4.8v1h1.2v1.2h1v4.8h-1v1.2h-1.2v1h-4.8v-1h-1.2v-1.2h-1v-4.8h1v-1.2h1.2zm1,0h4.8v1h1.2v1.2h1v4.8h-1v1.2h-1.2v1h-4.8v-1h-1.2v-1.2h-1v-4.8h1v-1.2h1.2zm1,0h4.8v1h1.2v1.2h1v4.8h-1v1.2h-1.2v1h-4.8v-1h-1.2v-1.2h-1v-4.8h1v-1.2h1.2zm1,-1h4.8v1h1.2v1.2h1v4.8h-1v1.2h-1.2v1h-4.8v-1h-1.2v-1.2h-1v-4.8h1v-1.2h1.2zm1,0h4.8v1h1.2v1.2h1v4.8h-1v1.2h-1.2v1h-4.8v-1h-1.2v-1.2h-1v-4.8h1v-1.2h1.2zm1,0h4.8v1h1.2v1.2h1v4.8h-1v1.2h-1.2v1h-4.8v-1h-1.2v-1.2h-1v-4.8h1v-1.2h1.2zm1,-1h4.8v1h1.2v1.2h1v4.8h-1v1.2h-1.2v1h-4.8v-1h-1.2v-1.2h-1v-4.8h1v-1.2h1.2zm1,0h4.8v1h1.2v1.2h1v4.8h-1v1.2h-1.2v1h-4.8v-1h-1.2v-1.2h-1v-4.8h1v-1.2h1.2zm1,0h4.8v1h1.2v1.2h1v4.8h-1v1.2h-1.2v1h-4.8v-1h-1.2v-1.2h-1v-4.8h1v-1.2h1.2zm1,-1h4.8v1h1.2v1.2h1v4.8h-1v1.2h-1.2v1h-4.8v-1h-1.2v-1.2h-1v-4.8h1v-1.2h1.2zm1,0h4.8v1h1.2v1.2h1v4.8h-1v1.2h-1.2v1h-4.8v-1h-1.2v-1.2h-1v-4.8h1v-1.2h1.2zm1,0h4.8v1h1.2v1.2h1v4.8h-1v1.2h-1.2v1h-4.8v-1h-1.2v-1.2h-1v-4.8h1v-1.2h1.2zm1,0h4.8v1h1.2v1.2h1v4.8h-1v1.2h-1.2v1h-4.8v-1h-1.2v-1.2h-1v-4.8h1v-1.2h1.2zm1,-1h4.8v1h1.2v1.2h1v4.8h-1v1.2h-1.2v1h-4.8v-1h-1.2v-1.2h-1v-4.8h1v-1.2h1.2zm1,0h4.8v1h1.2v1.2h1v4.8h-1v1.2h-1.2v1h-4.8v-1h-1.2v-1.2h-1v-4.8h1v-1.2h1.2zm1,0h4.8v1h1.2v1.2h1v4.8h-1v1.2h-1.2v1h-4.8v-1h-1.2v-1.2h-1v-4.8h1v-1.2h1.2zm1,-1h4.8v1h1.2v1.2h1v4.8h-1v1.2h-1.2v1h-4.8v-1h-1.2v-1.2h-1v-4.8h1v-1.2h1.2zm1,0h4.8v1h1.2v1.2h1v4.8h-1v1.2h-1.2v1h-4.8v-1h-1.2v-1.2h-1v-4.8h1v-1.2h1.2zm1,0h4.8v1h1.2v1.2h1v4.8h-1v1.2h-1.2v1h-4.8v-1h-1.2v-1.2h-1v-4.8h1v-1.2h1.2zm1,-1h4.8v1h1.2v1.2h1v4.8h-1v1.2h-1.2v1h-4.8v-1h-1.2v-1.2h-1v-4.8h1v-1.2h1.2zm1,0h4.8v1h1.2v1.2h1v4.8h-1v1.2h-1.2v1h-4.8v-1h-1.2v-1.2h-1v-4.8h1v-1.2h1.2zm1,0h4.8v1h1.2v1.2h1v4.8h-1v1.2h-1.2v1h-4.8v-1h-1.2v-1.2h-1v-4.8h1v-1.2h1.2zm1,0h4.8v1h1.2v1.2h1v4.8h-1v1.2h-1.2v1h-4.8v-1h-1.2v-1.2h-1v-4.8h1v-1.2h1.2zm1,-1h4.8v1h1.2v1.2h1v4.8h-1v1.2h-1.2v1h-4.8v-1h-1.2v-1.2h-1v-4.8h1v-1.2h1.2zm1,0h4.8v1h1.2v1.2h1v4.8h-1v1.2h-1.2v1h-4.8v-1h-1.2v-1.2h-1v-4.8h1v-1.2h1.2zm1,0h4.8v1h1.2v1.2h1v4.8h-1v1.2h-1.2v1h-4.8v-1h-1.2v-1.2h-1v-4.8h1v-1.2h1.2zm1,-1h4.8v1h1.2v1.2h1v4.8h-1v1.2h-1.2v1h-4.8v-1h-1.2v-1.2h-1v-4.8h1v-1.2h1.2zm1,0h4.8v1h1.2v1.2h1v4.8h-1v1.2h-1.2v1h-4.8v-1h-1.2v-1.2h-1v-4.8h1v-1.2h1.2zm1,0h4.8v1h1.2v1.2h1v4.8h-1v1.2h-1.2v1h-4.8v-1h-1.2v-1.2h-1v-4.8h1v-1.2h1.2zm1,-1h4.8v1h1.2v1.2h1v4.8h-1v1.2h-1.2v1h-4.8v-1h-1.2v-1.2h-1v-4.8h1v-1.2h1.2zm1,0h4.8v1h1.2v1.2h1v4.8h-1v1.2h-1.2v1h-4.8v-1h-1.2v-1.2h-1v-4.8h1v-1.2h1.2zm1,0h4.8v1h1.2v1.2h1v4.8h-1v1.2h-1.2v1h-4.8v-1h-1.2v-1.2h-1v-4.8h1v-1.2h1.2zm1,-1h4.8v1h1.2v1.2h1v4.8h-1v1.2h-1.2v1h-4.8v-1h-1.2v-1.2h-1v-4.8h1v-1.2h1.2zm1,0h4.8v1h1.2v1.2h1v4.8h-1v1.2h-1.2v1h-4.8v-1h-1.2v-1.2h-1v-4.8h1v-1.2h1.2zm1,0h4.8v1h1.2v1.2h1v4.8h-1v1.2h-1.2v1h-4.8v-1h-1.2v-1.2h-1v-4.8h1v-1.2h1.2zm1,0h4.8v1h1.2v1.2h1v4.8h-1v1.2h-1.2v1h-4.8v-1h-1.2v-1.2h-1v-4.8h1v-1.2h1.2zm1,-1h4.8v1h1.2v1.2h1v4.8h-1v1.2h-1.2v1h-4.8v-1h-1.2v-1.2h-1v-4.8h1v-1.2h1.2zm1,0h4.8v1h1.2v1.2h1v4.8h-1v1.2h-1.2v1h-4.8v-1h-1.2v-1.2h-1v-4.8h1v-1.2h1.2zm1,0h4.8v1h1.2v1.2h1v4.8h-1v1.2h-1.2v1h-4.8v-1h-1.2v-1.2h-1v-4.8h1v-1.2h1.2zm1,-1h4.8v1h1.2v1.2h1v4.8h-1v1.2h-1.2v1h-4.8v-1h-1.2v-1.2h-1v-4.8h1v-1.2h1.2zm1,0h4.8v1h1.2v1.2h1v4.8h-1v1.2h-1.2v1h-4.8v-1h-1.2v-1.2h-1v-4.8h1v-1.2h1.2zm1,0h4.8v1h1.2v1.2h1v4.8h-1v1.2h-1.2v1h-4.8v-1h-1.2v-1.2h-1v-4.8h1v-1.2h1.2zm1,-1h4.8v1h1.2v1.2h1v4.8h-1v1.2h-1.2v1h-4.8v-1h-1.2v-1.2h-1v-4.8h1v-1.2h1.2zm1,0h4.8v1h1.2v1.2h1v4.8h-1v1.2h-1.2v1h-4.8v-1h-1.2v-1.2h-1v-4.8h1v-1.2h1.2zm1,0h4.8v1h1.2v1.2h1v4.8h-1v1.2h-1.2v1h-4.8v-1h-1.2v-1.2h-1v-4.8h1v-1.2h1.2zm1,-1h4.8v1h1.2v1.2h1v4.8h-1v1.2h-1.2v1h-4.8v-1h-1.2v-1.2h-1v-4.8h1v-1.2h1.2zm1,0h4.8v1h1.2v1.2h1v4.8h-1v1.2h-1.2v1h-4.8v-1h-1.2v-1.2h-1v-4.8h1v-1.2h1.2zm1,0h4.8v1h1.2v1.2h1v4.8h-1v1.2h-1.2v1h-4.8v-1h-1.2v-1.2h-1v-4.8h1v-1.2h1.2zm1,0h4.8v1h1.2v1.2h1v4.8h-1v1.2h-1.2v1h-4.8v-1h-1.2v-1.2h-1v-4.8h1v-1.2h1.2zm1,-1h4.8v1h1.2v1.2h1v4.8h-1v1.2h-1.2v1h-4.8v-1h-1.2v-1.2h-1v-4.8h1v-1.2h1.2zm1,0h4.8v1h1.2v1.2h1v4.8h-1v1.2h-1.2v1h-4.8v-1h-1.2v-1.2h-1v-4.8h1v-1.2h1.2zm1,0h4.8v1h1.2v1.2h1v4.8h-1v1.2h-1.2v1h-4.8v-1h-1.2v-1.2h-1v-4.8h1v-1.2h1.2zm1,-1h4.8v1h1.2v1.2h1v4.8h-1v1.2h-1.2v1h-4.8v-1h-1.2v-1.2h-1v-4.8h1v-1.2h1.2zm1,0h4.8v1h1.2v1.2h1v4.8h-1v1.2h-1.2v1h-4.8v-1h-1.2v-1.2h-1v-4.8h1v-1.2h1.2zm1,0h4.8v1h1.2v1.2h1v4.8h-1v1.2h-1.2v1h-4.8v-1h-1.2v-1.2h-1v-4.8h1v-1.2h1.2zm1,-1h4.8v1h1.2v1.2h1v4.8h-1v1.2h-1.2v1h-4.8v-1h-1.2v-1.2h-1v-4.8h1v-1.2h1.2zm1,0h4.8v1h1.2v1.2h1v4.8h-1v1.2h-1.2v1h-4.8v-1h-1.2v-1.2h-1v-4.8h1v-1.2h1.2zm1,0h4.8v1h1.2v1.2h1v4.8h-1v1.2h-1.2v1h-4.8v-1h-1.2v-1.2h-1v-4.8h1v-1.2h1.2zm1,-1h4.8v1h1.2v1.2h1v4.8h-1v1.2h-1.2v1h-4.8v-1h-1.2v-1.2h-1v-4.8h1v-1.2h1.2zm1,0h4.8v1h1.2v1.2h1v4.8h-1v1.2h-1.2v1h-4.8v-1h-1.2v-1.2h-1v-4.8h1v-1.2h1.2zm1,0h4.8v1h1.2v1.2h1v4.8h-1v1.2h-1.2v1h-4.8v-1h-1.2v-1.2h-1v-4.8h1v-1.2h1.2zm1,-1h4.8v1h1.2v1.2h1v4.8h-1v1.2h-1.2v1h-4.8v-1h-1.2v-1.2h-1v-4.8h1v-1.2h1.2zm1,0h4.8v1h1.2v1.2h1v4.8h-1v1.2h-1.2v1h-4.8v-1h-1.2v-1.2h-1v-4.8h1v-1.2h1.2zm1,0h4.8v1h1.2v1.2h1v4.8h-1v1.2h-1.2v1h-4.8v-1h-1.2v-1.2h-1v-4.8h1v-1.2h1.2zm1,-1h4.8v1h1.2v1.2h1v4.8h-1v1.2h-1.2v1h-4.8v-1h-1.2v-1.2h-1v-4.8h1v-1.2h1.2zm1,0h4.8v1h1.2v1.2h1v4.8h-1v1.2h-1.2v1h-4.8v-1h-1.2v-1.2h-1v-4.8h1v-1.2h1.2zm1,0h4.8v1h1.2v1.2h1v4.8h-1v1.2h-1.2v1h-4.8v-1h-1.2v-1.2h-1v-4.8h1v-1.2h1.2zm1,0h4.8v1h1.2v1.2h1v4.8h-1v1.2h-1.2v1h-4.8v-1h-1.2v-1.2h-1v-4.8h1v-1.2h1.2zm1,-1h4.8v1h1.2v1.2h1v4.8h-1v1.2h-1.2v1h-4.8v-1h-1.2v-1.2h-1v-4.8h1v-1.2h1.2zm1,0h4.8v1h1.2v1.2h1v4.8h-1v1.2h-1.2v1h-4.8v-1h-1.2v-1.2h-1v-4.8h1v-1.2h1.2zm1,0h4.8v1h1.2v1.2h1v4.8h-1v1.2h-1.2v1h-4.8v-1h-1.2v-1.2h-1v-4.8h1v-1.2h1.2zm1,-1h4.8v1h1.2v1.2h1v4.8h-1v1.2h-1.2v1h-4.8v-1h-1.2v-1.2h-1v-4.8h1v-1.2h1.2zm1,0h4.8v1h1.2v1.2h1v4.8h-1v1.2h-1.2v1h-4.8v-1h-1.2v-1.2h-1v-4.8h1v-1.2h1.2zm1,0h4.8v1h1.2v1.2h1v4.8h-1v1.2h-1.2v1h-4.8v-1h-1.2v-1.2h-1v-4.8h1v-1.2h1.2zm1,-1h4.8v1h1.2v1.2h1v4.8h-1v1.2h-1.2v1h-4.8v-1h-1.2v-1.2h-1v-4.8h1v-1.2h1.2zm1,0h4.8v1h1.2v1.2h1v4.8h-1v1.2h-1.2v1h-4.8v-1h-1.2v-1.2h-1v-4.8h1v-1.2h1.2zm1,0h4.8v1h1.2v1.2h1v4.8h-1v1.2h-1.2v1h-4.8v-1h-1.2v-1.2h-1v-4.8h1v-1.2h1.2zm1,-1h4.8v1h1.2v1.2h1v4.8h-1v1.2h-1.2v1h-4.8v-1h-1.2v-1.2h-1v-4.8h1v-1.2h1.2zm1,0h4.8v1h1.2v1.2h1v4.8h-1v1.2h-1.2v1h-4.8v-1h-1.2v-1.2h-1v-4.8h1v-1.2h1.2zm1,0h4.8v1h1.2v1.2h1v4.8h-1v1.2h-1.2v1h-4.8v-1h-1.2v-1.2h-1v-4.8h1v-1.2h1.2zm1,-1h4.8v1h1.2v1.2h1v4.8h-1v1.2h-1.2v1h-4.8v-1h-1.2v-1.2h-1v-4.8h1v-1.2h1.2zm1,0h4.8v1h1.2v1.2h1v4.8h-1v1.2h-1.2v1h-4.8v-1h-1.2v-1.2h-1v-4.8h1v-1.2h1.2zm1,0h4.8v1h1.2v1.2h1v4.8h-1v1.2h-1.2v1h-4.8v-1h-1.2v-1.2h-1v-4.8h1v-1.2h1.2zm1,-1h4.8v1h1.2v1.2h1v4.8h-1v1.2h-1.2v1h-4.8v-1h-1.2v-1.2h-1v-4.8h1v-1.2h1.2zm1,0h4.8v1h1.2v1.2h1v4.8h-1v1.2h-1.2v1h-4.8v-1h-1.2v-1.2h-1v-4.8h1v-1.2h1.2zm1,0h4.8v1h1.2v1.2h1v4.8h-1v1.2h-1.2v1h-4.8v-1h-1.2v-1.2h-1v-4.8h1v-1.2h1.2zm1,-1h4.8v1h1.2v1.2h1v4.8h-1v1.2h-1.2v1h-4.8v-1h-1.2v-1.2h-1v-4.8h1v-1.2h1.2zm1,0h4.8v1h1.2v1.2h1v4.8h-1v1.2h-1.2v1h-4.8v-1h-1.2v-1.2h-1v-4.8h1v-1.2h1.2zm1,0h4.8v1h1.2v1.2h1v4.8h-1v1.2h-1.2v1h-4.8v-1h-1.2v-1.2h-1v-4.8h1v-1.2h1.2zm1,-1h4.8v1h1.2v1.2h1v4.8h-1v1.2h-1.2v1h-4.8v-1h-1.2v-1.2h-1v-4.8h1v-1.2h1.2zm1,0h4.8v1h1.2v1.2h1v4.8h-1v1.2h-1.2v1h-4.8v-1h-1.2v-1.2h-1v-4.8h1v-1.2h1.2zm1,0h4.8v1h1.2v1.2h1v4.8h-1v1.2h-1.2v1h-4.8v-1h-1.2v-1.2h-1v-4.8h1v-1.2h1.2zm1,-1h4.8v1h1.2v1.2h1v4.8h-1v1.2h-1.2v1h-4.8v-1h-1.2v-1.2h-1v-4.8h1v-1.2h1.2zm1,0h4.8v1h1.2v1.2h1v4.8h-1v1.2h-1.2v1h-4.8v-1h-1.2v-1.2h-1v-4.8h1v-1.2h1.2zm1,0h4.8v1h1.2v1.2h1v4.8h-1v1.2h-1.2v1h-4.8v-1h-1.2v-1.2h-1v-4.8h1v-1.2h1.2zm1,0h4.8v1h1.2v1.2h1v4.8h-1v1.2h-1.2v1h-4.8v-1h-1.2v-1.2h-1v-4.8h1v-1.2h1.2zm1,-1h4.8v1h1.2v1.2h1v4.8h-1v1.2h-1.2v1h-4.8v-1h-1.2v-1.2h-1v-4.8h1v-1.2h1.2zm1,0h4.8v1h1.2v1.2h1v4.8h-1v1.2h-1.2v1h-4.8v-1h-1.2v-1.2h-1v-4.8h1v-1.2h1.2zm1,0h4.8v1h1.2v1.2h1v4.8h-1v1.2h-1.2v1h-4.8v-1h-1.2v-1.2h-1v-4.8h1v-1.2h1.2zm1,-1h4.8v1h1.2v1.2h1v4.8h-1v1.2h-1.2v1h-4.8v-1h-1.2v-1.2h-1v-4.8h1v-1.2h1.2zm1,0h4.8v1h1.2v1.2h1v4.8h-1v1.2h-1.2v1h-4.8v-1h-1.2v-1.2h-1v-4.8h1v-1.2h1.2zm1,0h4.8v1h1.2v1.2h1v4.8h-1v1.2h-1.2v1h-4.8v-1h-1.2v-1.2h-1v-4.8h1v-1.2h1.2zm1,-1h4.8v1h1.2v1.2h1v4.8h-1v1.2h-1.2v1h-4.8v-1h-1.2v-1.2h-1v-4.8h1v-1.2h1.2zm1,0h4.8v1h1.2v1.2h1v4.8h-1v1.2h-1.2v1h-4.8v-1h-1.2v-1.2h-1v-4.8h1v-1.2h1.2zm1,0h4.8v1h1.2v1.2h1v4.8h-1v1.2h-1.2v1h-4.8v-1h-1.2v-1.2h-1v-4.8h1v-1.2h1.2zm1,-1h4.8v1h1.2v1.2h1v4.8h-1v1.2h-1.2v1h-4.8v-1h-1.2v-1.2h-1v-4.8h1v-1.2h1.2zm1,0h4.8v1h1.2v1.2h1v4.8h-1v1.2h-1.2v1h-4.8v-1h-1.2v-1.2h-1v-4.8h1v-1.2h1.2zm1,0h4.8v1h1.2v1.2h1v4.8h-1v1.2h-1.2v1h-4.8v-1h-1.2v-1.2h-1v-4.8h1v-1.2h1.2zm1,-1h4.8v1h1.2v1.2h1v4.8h-1v1.2h-1.2v1h-4.8v-1h-1.2v-1.2h-1v-4.8h1v-1.2h1.2zm1,0h4.8v1h1.2v1.2h1v4.8h-1v1.2h-1.2v1h-4.8v-1h-1.2v-1.2h-1v-4.8h1v-1.2h1.2zm1,0h4.8v1h1.2v1.2h1v4.8h-1v1.2h-1.2v1h-4.8v-1h-1.2v-1.2h-1v-4.8h1v-1.2h1.2zm1,-1h4.8v1h1.2v1.2h1v4.8h-1v1.2h-1.2v1h-4.8v-1h-1.2v-1.2h-1v-4.8h1v-1.2h1.2zm1,0h4.8v1h1.2v1.2h1v4.8h-1v1.2h-1.2v1h-4.8v-1h-1.2v-1.2h-1v-4.8h1v-1.2h1.2zm1,0h4.8v1h1.2v1.2h1v4.8h-1v1.2h-1.2v1h-4.8v-1h-1.2v-1.2h-1v-4.8h1v-1.2h1.2zm1,-1h4.8v1h1.2v1.2h1v4.8h-1v1.2h-1.2v1h-4.8v-1h-1.2v-1.2h-1v-4.8h1v-1.2h1.2zm1,0h4.8v1h1.2v1.2h1v4.8h-1v1.2h-1.2v1h-4.8v-1h-1.2v-1.2h-1v-4.8h1v-1.2h1.2zm1,0h4.8v1h1.2v1.2h1v4.8h-1v1.2h-1.2v1h-4.8v-1h-1.2v-1.2h-1v-4.8h1v-1.2h1.2zm1,-1h4.8v1h1.2v1.2h1v4.8h-1v1.2h-1.2v1h-4.8v-1h-1.2v-1.2h-1v-4.8h1v-1.2h1.2zm1,0h4.8v1h1.2v1.2h1v4.8h-1v1.2h-1.2v1h-4.8v-1h-1.2v-1.2h-1v-4.8h1v-1.2h1.2zm1,0h4.8v1h1.2v1.2h1v4.8h-1v1.2h-1.2v1h-4.8v-1h-1.2v-1.2h-1v-4.8h1v-1.2h1.2zm1,-1h4.8v1h1.2v1.2h1v4.8h-1v1.2h-1.2v1h-4.8v-1h-1.2v-1.2h-1v-4.8h1v-1.2h1.2zm1,0h4.8v1h1.2v1.2h1v4.8h-1v1.2h-1.2v1h-4.8v-1h-1.2v-1.2h-1v-4.8h1v-1.2h1.2zm1,0h4.8v1h1.2v1.2h1v4.8h-1v1.2h-1.2v1h-4.8v-1h-1.2v-1.2h-1v-4.8h1v-1.2h1.2zm1,-1h4.8v1h1.2v1.2h1v4.8h-1v1.2h-1.2v1h-4.8v-1h-1.2v-1.2h-1v-4.8h1v-1.2h1.2zm1,0h4.8v1h1.2v1.2h1v4.8h-1v1.2h-1.2v1h-4.8v-1h-1.2v-1.2h-1v-4.8h1v-1.2h1.2zm1,0h4.8v1h1.2v1.2h1v4.8h-1v1.2h-1.2v1h-4.8v-1h-1.2v-1.2h-1v-4.8h1v-1.2h1.2zm1,-1h4.8v1h1.2v1.2h1v4.8h-1v1.2h-1.2v1h-4.8v-1h-1.2v-1.2h-1v-4.8h1v-1.2h1.2zm1,0h4.8v1h1.2v1.2h1v4.8h-1v1.2h-1.2v1h-4.8v-1h-1.2v-1.2h-1v-4.8h1v-1.2h1.2zm1,0h4.8v1h1.2v1.2h1v4.8h-1v1.2h-1.2v1h-4.8v-1h-1.2v-1.2h-1v-4.8h1v-1.2h1.2zm1,-1h4.8v1h1.2v1.2h1v4.8h-1v1.2h-1.2v1h-4.8v-1h-1.2v-1.2h-1v-4.8h1v-1.2h1.2zm1,0h4.8v1h1.2v1.2h1v4.8h-1v1.2h-1.2v1h-4.8v-1h-1.2v-1.2h-1v-4.8h1v-1.2h1.2zm1,0h4.8v1h1.2v1.2h1v4.8h-1v1.2h-1.2v1h-4.8v-1h-1.2v-1.2h-1v-4.8h1v-1.2h1.2zm1,-1h4.8v1h1.2v1.2h1v4.8h-1v1.2h-1.2v1h-4.8v-1h-1.2v-1.2h-1v-4.8h1v-1.2h1.2zm1,0h4.8v1h1.2v1.2h1v4.8h-1v1.2h-1.2v1h-4.8v-1h-1.2v-1.2h-1v-4.8h1v-1.2h1.2zm1,-1h4.8v1h1.2v1.2h1v4.8h-1v1.2h-1.2v1h-4.8v-1h-1.2v-1.2h-1v-4.8h1v-1.2h1.2zm1,0h4.8v1h1.2v1.2h1v4.8h-1v1.2h-1.2v1h-4.8v-1h-1.2v-1.2h-1v-4.8h1v-1.2h1.2zm2,0h4.8v1h1.2v1.2h1v4.8h-1v1.2h-1.2v1h-4.8v-1h-1.2v-1.2h-1v-4.8h1v-1.2h1.2zm1,-1h4.8v1h1.2v1.2h1v4.8h-1v1.2h-1.2v1h-4.8v-1h-1.2v-1.2h-1v-4.8h1v-1.2h1.2zm1,0h4.8v1h1.2v1.2h1v4.8h-1v1.2h-1.2v1h-4.8v-1h-1.2v-1.2h-1v-4.8h1v-1.2h1.2zm1,0h4.8v1h1.2v1.2h1v4.8h-1v1.2h-1.2v1h-4.8v-1h-1.2v-1.2h-1v-4.8h1v-1.2h1.2zm1,-1h4.8v1h1.2v1.2h1v4.8h-1v1.2h-1.2v1h-4.8v-1h-1.2v-1.2h-1v-4.8h1v-1.2h1.2zm1,0h4.8v1h1.2v1.2h1v4.8h-1v1.2h-1.2v1h-4.8v-1h-1.2v-1.2h-1v-4.8h1v-1.2h1.2zm1,0h4.8v1h1.2v1.2h1v4.8h-1v1.2h-1.2v1h-4.8v-1h-1.2v-1.2h-1v-4.8h1v-1.2h1.2zm1,-1h4.8v1h1.2v1.2h1v4.8h-1v1.2h-1.2v1h-4.8v-1h-1.2v-1.2h-1v-4.8h1v-1.2h1.2zm1,0h4.8v1h1.2v1.2h1v4.8h-1v1.2h-1.2v1h-4.8v-1h-1.2v-1.2h-1v-4.8h1v-1.2h1.2zm1,-1h4.8v1h1.2v1.2h1v4.8h-1v1.2h-1.2v1h-4.8v-1h-1.2v-1.2h-1v-4.8h1v-1.2h1.2zm1,0h4.8v1h1.2v1.2h1v4.8h-1v1.2h-1.2v1h-4.8v-1h-1.2v-1.2h-1v-4.8h1v-1.2h1.2zm2,0h4.8v1h1.2v1.2h1v4.8h-1v1.2h-1.2v1h-4.8v-1h-1.2v-1.2h-1v-4.8h1v-1.2h1.2zm1,-1h4.8v1h1.2v1.2h1v4.8h-1v1.2h-1.2v1h-4.8v-1h-1.2v-1.2h-1v-4.8h1v-1.2h1.2zm1,0h4.8v1h1.2v1.2h1v4.8h-1v1.2h-1.2v1h-4.8v-1h-1.2v-1.2h-1v-4.8h1v-1.2h1.2zm1,-1h4.8v1h1.2v1.2h1v4.8h-1v1.2h-1.2v1h-4.8v-1h-1.2v-1.2h-1v-4.8h1v-1.2h1.2zm1,0h4.8v1h1.2v1.2h1v4.8h-1v1.2h-1.2v1h-4.8v-1h-1.2v-1.2h-1v-4.8h1v-1.2h1.2zm1,0h4.8v1h1.2v1.2h1v4.8h-1v1.2h-1.2v1h-4.8v-1h-1.2v-1.2h-1v-4.8h1v-1.2h1.2zm2,-1h4.8v1h1.2v1.2h1v4.8h-1v1.2h-1.2v1h-4.8v-1h-1.2v-1.2h-1v-4.8h1v-1.2h1.2zm1,0h4.8v1h1.2v1.2h1v4.8h-1v1.2h-1.2v1h-4.8v-1h-1.2v-1.2h-1v-4.8h1v-1.2h1.2zm1,-1h4.8v1h1.2v1.2h1v4.8h-1v1.2h-1.2v1h-4.8v-1h-1.2v-1.2h-1v-4.8h1v-1.2h1.2zm1,0h4.8v1h1.2v1.2h1v4.8h-1v1.2h-1.2v1h-4.8v-1h-1.2v-1.2h-1v-4.8h1v-1.2h1.2zm1,0h4.8v1h1.2v1.2h1v4.8h-1v1.2h-1.2v1h-4.8v-1h-1.2v-1.2h-1v-4.8h1v-1.2h1.2zm2,-1h4.8v1h1.2v1.2h1v4.8h-1v1.2h-1.2v1h-4.8v-1h-1.2v-1.2h-1v-4.8h1v-1.2h1.2zm1,0h4.8v1h1.2v1.2h1v4.8h-1v1.2h-1.2v1h-4.8v-1h-1.2v-1.2h-1v-4.8h1v-1.2h1.2zm1,-1h4.8v1h1.2v1.2h1v4.8h-1v1.2h-1.2v1h-4.8v-1h-1.2v-1.2h-1v-4.8h1v-1.2h1.2zm1,0h4.8v1h1.2v1.2h1v4.8h-1v1.2h-1.2v1h-4.8v-1h-1.2v-1.2h-1v-4.8h1v-1.2h1.2zm2,-1h4.8v1h1.2v1.2h1v4.8h-1v1.2h-1.2v1h-4.8v-1h-1.2v-1.2h-1v-4.8h1v-1.2h1.2zm1,0h4.8v1h1.2v1.2h1v4.8h-1v1.2h-1.2v1h-4.8v-1h-1.2v-1.2h-1v-4.8h1v-1.2h1.2zm1,0h4.8v1h1.2v1.2h1v4.8h-1v1.2h-1.2v1h-4.8v-1h-1.2v-1.2h-1v-4.8h1v-1.2h1.2zm1,-1h4.8v1h1.2v1.2h1v4.8h-1v1.2h-1.2v1h-4.8v-1h-1.2v-1.2h-1v-4.8h1v-1.2h1.2zm2,0h4.8v1h1.2v1.2h1v4.8h-1v1.2h-1.2v1h-4.8v-1h-1.2v-1.2h-1v-4.8h1v-1.2h1.2zm1,-1h4.8v1h1.2v1.2h1v4.8h-1v1.2h-1.2v1h-4.8v-1h-1.2v-1.2h-1v-4.8h1v-1.2h1.2zm1,0h4.8v1h1.2v1.2h1v4.8h-1v1.2h-1.2v1h-4.8v-1h-1.2v-1.2h-1v-4.8h1v-1.2h1.2zm2,-1h4.8v1h1.2v1.2h1v4.8h-1v1.2h-1.2v1h-4.8v-1h-1.2v-1.2h-1v-4.8h1v-1.2h1.2zm1,0h4.8v1h1.2v1.2h1v4.8h-1v1.2h-1.2v1h-4.8v-1h-1.2v-1.2h-1v-4.8h1v-1.2h1.2zm1,-1h4.8v1h1.2v1.2h1v4.8h-1v1.2h-1.2v1h-4.8v-1h-1.2v-1.2h-1v-4.8h1v-1.2h1.2zm2,0h4.8v1h1.2v1.2h1v4.8h-1v1.2h-1.2v1h-4.8v-1h-1.2v-1.2h-1v-4.8h1v-1.2h1.2zm1,-1h4.8v1h1.2v1.2h1v4.8h-1v1.2h-1.2v1h-4.8v-1h-1.2v-1.2h-1v-4.8h1v-1.2h1.2zm1,0h4.8v1h1.2v1.2h1v4.8h-1v1.2h-1.2v1h-4.8v-1h-1.2v-1.2h-1v-4.8h1v-1.2h1.2zm2,-1h4.8v1h1.2v1.2h1v4.8h-1v1.2h-1.2v1h-4.8v-1h-1.2v-1.2h-1v-4.8h1v-1.2h1.2zm1,0h4.8v1h1.2v1.2h1v4.8h-1v1.2h-1.2v1h-4.8v-1h-1.2v-1.2h-1v-4.8h1v-1.2h1.2zm1,-1h4.8v1h1.2v1.2h1v4.8h-1v1.2h-1.2v1h-4.8v-1h-1.2v-1.2h-1v-4.8h1v-1.2h1.2zm2,0h4.8v1h1.2v1.2h1v4.8h-1v1.2h-1.2v1h-4.8v-1h-1.2v-1.2h-1v-4.8h1v-1.2h1.2zm1,-1h4.8v1h1.2v1.2h1v4.8h-1v1.2h-1.2v1h-4.8v-1h-1.2v-1.2h-1v-4.8h1v-1.2h1.2zm2,0h4.8v1h1.2v1.2h1v4.8h-1v1.2h-1.2v1h-4.8v-1h-1.2v-1.2h-1v-4.8h1v-1.2h1.2zm1,-1h4.8v1h1.2v1.2h1v4.8h-1v1.2h-1.2v1h-4.8v-1h-1.2v-1.2h-1v-4.8h1v-1.2h1.2zm1,0h4.8v1h1.2v1.2h1v4.8h-1v1.2h-1.2v1h-4.8v-1h-1.2v-1.2h-1v-4.8h1v-1.2h1.2zm2,-1h4.8v1h1.2v1.2h1v4.8h-1v1.2h-1.2v1h-4.8v-1h-1.2v-1.2h-1v-4.8h1v-1.2h1.2zm1,0h4.8v1h1.2v1.2h1v4.8h-1v1.2h-1.2v1h-4.8v-1h-1.2v-1.2h-1v-4.8h1v-1.2h1.2zm2,-1h4.8v1h1.2v1.2h1v4.8h-1v1.2h-1.2v1h-4.8v-1h-1.2v-1.2h-1v-4.8h1v-1.2h1.2zm1,0h4.8v1h1.2v1.2h1v4.8h-1v1.2h-1.2v1h-4.8v-1h-1.2v-1.2h-1v-4.8h1v-1.2h1.2zm2,-1h4.8v1h1.2v1.2h1v4.8h-1v1.2h-1.2v1h-4.8v-1h-1.2v-1.2h-1v-4.8h1v-1.2h1.2zm1,0h4.8v1h1.2v1.2h1v4.8h-1v1.2h-1.2v1h-4.8v-1h-1.2v-1.2h-1v-4.8h1v-1.2h1.2zm2,-1h4.8v1h1.2v1.2h1v4.8h-1v1.2h-1.2v1h-4.8v-1h-1.2v-1.2h-1v-4.8h1v-1.2h1.2zm1,0h4.8v1h1.2v1.2h1v4.8h-1v1.2h-1.2v1h-4.8v-1h-1.2v-1.2h-1v-4.8h1v-1.2h1.2zm2,-1h4.8v1h1.2v1.2h1v4.8h-1v1.2h-1.2v1h-4.8v-1h-1.2v-1.2h-1v-4.8h1v-1.2h1.2zm1,0h4.8v1h1.2v1.2h1v4.8h-1v1.2h-1.2v1h-4.8v-1h-1.2v-1.2h-1v-4.8h1v-1.2h1.2zm2,-1h4.8v1h1.2v1.2h1v4.8h-1v1.2h-1.2v1h-4.8v-1h-1.2v-1.2h-1v-4.8h1v-1.2h1.2zm1,-1h4.8v1h1.2v1.2h1v4.8h-1v1.2h-1.2v1h-4.8v-1h-1.2v-1.2h-1v-4.8h1v-1.2h1.2zm2,0h4.8v1h1.2v1.2h1v4.8h-1v1.2h-1.2v1h-4.8v-1h-1.2v-1.2h-1v-4.8h1v-1.2h1.2zm2,-1h4.8v1h1.2v1.2h1v4.8h-1v1.2h-1.2v1h-4.8v-1h-1.2v-1.2h-1v-4.8h1v-1.2h1.2zm1,0h4.8v1h1.2v1.2h1v4.8h-1v1.2h-1.2v1h-4.8v-1h-1.2v-1.2h-1v-4.8h1v-1.2h1.2zm2,-1h4.8v1h1.2v1.2h1v4.8h-1v1.2h-1.2v1h-4.8v-1h-1.2v-1.2h-1v-4.8h1v-1.2h1.2zm1,0h4.8v1h1.2v1.2h1v4.8h-1v1.2h-1.2v1h-4.8v-1h-1.2v-1.2h-1v-4.8h1v-1.2h1.2zm2,-1h4.8v1h1.2v1.2h1v4.8h-1v1.2h-1.2v1h-4.8v-1h-1.2v-1.2h-1v-4.8h1v-1.2h1.2zm2,-1h4.8v1h1.2v1.2h1v4.8h-1v1.2h-1.2v1h-4.8v-1h-1.2v-1.2h-1v-4.8h1v-1.2h1.2zm1,0h4.8v1h1.2v1.2h1v4.8h-1v1.2h-1.2v1h-4.8v-1h-1.2v-1.2h-1v-4.8h1v-1.2h1.2zm2,-1h4.8v1h1.2v1.2h1v4.8h-1v1.2h-1.2v1h-4.8v-1h-1.2v-1.2h-1v-4.8h1v-1.2h1.2zm2,0h4.8v1h1.2v1.2h1v4.8h-1v1.2h-1.2v1h-4.8v-1h-1.2v-1.2h-1v-4.8h1v-1.2h1.2zm1,-1h4.8v1h1.2v1.2h1v4.8h-1v1.2h-1.2v1h-4.8v-1h-1.2v-1.2h-1v-4.8h1v-1.2h1.2zm2,-1h4.8v1h1.2v1.2h1v4.8h-1v1.2h-1.2v1h-4.8v-1h-1.2v-1.2h-1v-4.8h1v-1.2h1.2zm2,0h4.8v1h1.2v1.2h1v4.8h-1v1.2h-1.2v1h-4.8v-1h-1.2v-1.2h-1v-4.8h1v-1.2h1.2zm1,-1h4.8v1h1.2v1.2h1v4.8h-1v1.2h-1.2v1h-4.8v-1h-1.2v-1.2h-1v-4.8h1v-1.2h1.2zm2,-1h4.8v1h1.2v1.2h1v4.8h-1v1.2h-1.2v1h-4.8v-1h-1.2v-1.2h-1v-4.8h1v-1.2h1.2zm2,0h4.8v1h1.2v1.2h1v4.8h-1v1.2h-1.2v1h-4.8v-1h-1.2v-1.2h-1v-4.8h1v-1.2h1.2zm1,-1h4.8v1h1.2v1.2h1v4.8h-1v1.2h-1.2v1h-4.8v-1h-1.2v-1.2h-1v-4.8h1v-1.2h1.2zm2,0h4.8v1h1.2v1.2h1v4.8h-1v1.2h-1.2v1h-4.8v-1h-1.2v-1.2h-1v-4.8h1v-1.2h1.2zm2,-1h4.8v1h1.2v1.2h1v4.8h-1v1.2h-1.2v1h-4.8v-1h-1.2v-1.2h-1v-4.8h1v-1.2h1.2zm2,-1h4.8v1h1.2v1.2h1v4.8h-1v1.2h-1.2v1h-4.8v-1h-1.2v-1.2h-1v-4.8h1v-1.2h1.2zm1,0h4.8v1h1.2v1.2h1v4.8h-1v1.2h-1.2v1h-4.8v-1h-1.2v-1.2h-1v-4.8h1v-1.2h1.2zm2,-1h4.8v1h1.2v1.2h1v4.8h-1v1.2h-1.2v1h-4.8v-1h-1.2v-1.2h-1v-4.8h1v-1.2h1.2zm2,-1h4.8v1h1.2v1.2h1v4.8h-1v1.2h-1.2v1h-4.8v-1h-1.2v-1.2h-1v-4.8h1v-1.2h1.2zm2,0h4.8v1h1.2v1.2h1v4.8h-1v1.2h-1.2v1h-4.8v-1h-1.2v-1.2h-1v-4.8h1v-1.2h1.2zm2,-1h4.8v1h1.2v1.2h1v4.8h-1v1.2h-1.2v1h-4.8v-1h-1.2v-1.2h-1v-4.8h1v-1.2h1.2zm2,-1h4.8v1h1.2v1.2h1v4.8h-1v1.2h-1.2v1h-4.8v-1h-1.2v-1.2h-1v-4.8h1v-1.2h1.2zm1,0h4.8v1h1.2v1.2h1v4.8h-1v1.2h-1.2v1h-4.8v-1h-1.2v-1.2h-1v-4.8h1v-1.2h1.2zm2,-1h4.8v1h1.2v1.2h1v4.8h-1v1.2h-1.2v1h-4.8v-1h-1.2v-1.2h-1v-4.8h1v-1.2h1.2zm2,-1h4.8v1h1.2v1.2h1v4.8h-1v1.2h-1.2v1h-4.8v-1h-1.2v-1.2h-1v-4.8h1v-1.2h1.2zm2,-1h4.8v1h1.2v1.2h1v4.8h-1v1.2h-1.2v1h-4.8v-1h-1.2v-1.2h-1v-4.8h1v-1.2h1.2zm2,0h4.8v1h1.2v1.2h1v4.8h-1v1.2h-1.2v1h-4.8v-1h-1.2v-1.2h-1v-4.8h1v-1.2h1.2zm2,-1h4.8v1h1.2v1.2h1v4.8h-1v1.2h-1.2v1h-4.8v-1h-1.2v-1.2h-1v-4.8h1v-1.2h1.2zm2,-1h4.8v1h1.2v1.2h1v4.8h-1v1.2h-1.2v1h-4.8v-1h-1.2v-1.2h-1v-4.8h1v-1.2h1.2zm2,-1h4.8v1h1.2v1.2h1v4.8h-1v1.2h-1.2v1h-4.8v-1h-1.2v-1.2h-1v-4.8h1v-1.2h1.2zm2,0h4.8v1h1.2v1.2h1v4.8h-1v1.2h-1.2v1h-4.8v-1h-1.2v-1.2h-1v-4.8h1v-1.2h1.2zm2,-1h4.8v1h1.2v1.2h1v4.8h-1v1.2h-1.2v1h-4.8v-1h-1.2v-1.2h-1v-4.8h1v-1.2h1.2zm2,-1h4.8v1h1.2v1.2h1v4.8h-1v1.2h-1.2v1h-4.8v-1h-1.2v-1.2h-1v-4.8h1v-1.2h1.2zm2,-1h4.8v1h1.2v1.2h1v4.8h-1v1.2h-1.2v1h-4.8v-1h-1.2v-1.2h-1v-4.8h1v-1.2h1.2zm2,0h4.8v1h1.2v1.2h1v4.8h-1v1.2h-1.2v1h-4.8v-1h-1.2v-1.2h-1v-4.8h1v-1.2h1.2zm2,-1h4.8v1h1.2v1.2h1v4.8h-1v1.2h-1.2v1h-4.8v-1h-1.2v-1.2h-1v-4.8h1v-1.2h1.2zm2,-1h4.8v1h1.2v1.2h1v4.8h-1v1.2h-1.2v1h-4.8v-1h-1.2v-1.2h-1v-4.8h1v-1.2h1.2zm2,-1h4.8v1h1.2v1.2h1v4.8h-1v1.2h-1.2v1h-4.8v-1h-1.2v-1.2h-1v-4.8h1v-1.2h1.2zm2,0h4.8v1h1.2v1.2h1v4.8h-1v1.2h-1.2v1h-4.8v-1h-1.2v-1.2h-1v-4.8h1v-1.2h1.2zm2,-1h4.8v1h1.2v1.2h1v4.8h-1v1.2h-1.2v1h-4.8v-1h-1.2v-1.2h-1v-4.8h1v-1.2h1.2zm2,-1h4.8v1h1.2v1.2h1v4.8h-1v1.2h-1.2v1h-4.8v-1h-1.2v-1.2h-1v-4.8h1v-1.2h1.2zm2,-1h4.8v1h1.2v1.2h1v4.8h-1v1.2h-1.2v1h-4.8v-1h-1.2v-1.2h-1v-4.8h1v-1.2h1.2zm2,-1h4.8v1h1.2v1.2h1v4.8h-1v1.2h-1.2v1h-4.8v-1h-1.2v-1.2h-1v-4.8h1v-1.2h1.2zm3,-1h4.8v1h1.2v1.2h1v4.8h-1v1.2h-1.2v1h-4.8v-1h-1.2v-1.2h-1v-4.8h1v-1.2h1.2zm2,0h4.8v1h1.2v1.2h1v4.8h-1v1.2h-1.2v1h-4.8v-1h-1.2v-1.2h-1v-4.8h1v-1.2h1.2zm2,-1h4.8v1h1.2v1.2h1v4.8h-1v1.2h-1.2v1h-4.8v-1h-1.2v-1.2h-1v-4.8h1v-1.2h1.2zm2,-1h4.8v1h1.2v1.2h1v4.8h-1v1.2h-1.2v1h-4.8v-1h-1.2v-1.2h-1v-4.8h1v-1.2h1.2zm3,-1h4.8v1h1.2v1.2h1v4.8h-1v1.2h-1.2v1h-4.8v-1h-1.2v-1.2h-1v-4.8h1v-1.2h1.2zm2,-1h4.8v1h1.2v1.2h1v4.8h-1v1.2h-1.2v1h-4.8v-1h-1.2v-1.2h-1v-4.8h1v-1.2h1.2zm2,-1h4.8v1h1.2v1.2h1v4.8h-1v1.2h-1.2v1h-4.8v-1h-1.2v-1.2h-1v-4.8h1v-1.2h1.2zm2,-1h4.8v1h1.2v1.2h1v4.8h-1v1.2h-1.2v1h-4.8v-1h-1.2v-1.2h-1v-4.8h1v-1.2h1.2zm3,-1h4.8v1h1.2v1.2h1v4.8h-1v1.2h-1.2v1h-4.8v-1h-1.2v-1.2h-1v-4.8h1v-1.2h1.2zm2,-1h4.8v1h1.2v1.2h1v4.8h-1v1.2h-1.2v1h-4.8v-1h-1.2v-1.2h-1v-4.8h1v-1.2h1.2zm3,-1h4.8v1h1.2v1.2h1v4.8h-1v1.2h-1.2v1h-4.8v-1h-1.2v-1.2h-1v-4.8h1v-1.2h1.2zm2,0h4.8v1h1.2v1.2h1v4.8h-1v1.2h-1.2v1h-4.8v-1h-1.2v-1.2h-1v-4.8h1v-1.2h1.2zm2,-1h4.8v1h1.2v1.2h1v4.8h-1v1.2h-1.2v1h-4.8v-1h-1.2v-1.2h-1v-4.8h1v-1.2h1.2zm3,-1h4.8v1h1.2v1.2h1v4.8h-1v1.2h-1.2v1h-4.8v-1h-1.2v-1.2h-1v-4.8h1v-1.2h1.2zm2,-1h4.8v1h1.2v1.2h1v4.8h-1v1.2h-1.2v1h-4.8v-1h-1.2v-1.2h-1v-4.8h1v-1.2h1.2zm3,-1h4.8v1h1.2v1.2h1v4.8h-1v1.2h-1.2v1h-4.8v-1h-1.2v-1.2h-1v-4.8h1v-1.2h1.2zm2,-1h4.8v1h1.2v1.2h1v4.8h-1v1.2h-1.2v1h-4.8v-1h-1.2v-1.2h-1v-4.8h1v-1.2h1.2zm3,-1h4.8v1h1.2v1.2h1v4.8h-1v1.2h-1.2v1h-4.8v-1h-1.2v-1.2h-1v-4.8h1v-1.2h1.2zm2,-1h4.8v1h1.2v1.2h1v4.8h-1v1.2h-1.2v1h-4.8v-1h-1.2v-1.2h-1v-4.8h1v-1.2h1.2zm3,-1h4.8v1h1.2v1.2h1v4.8h-1v1.2h-1.2v1h-4.8v-1h-1.2v-1.2h-1v-4.8h1v-1.2h1.2zm3,-1h4.8v1h1.2v1.2h1v4.8h-1v1.2h-1.2v1h-4.8v-1h-1.2v-1.2h-1v-4.8h1v-1.2h1.2zm2,-1h4.8v1h1.2v1.2h1v4.8h-1v1.2h-1.2v1h-4.8v-1h-1.2v-1.2h-1v-4.8h1v-1.2h1.2zm3,-2h4.8v1h1.2v1.2h1v4.8h-1v1.2h-1.2v1h-4.8v-1h-1.2v-1.2h-1v-4.8h1v-1.2h1.2zm2,-1h4.8v1h1.2v1.2h1v4.8h-1v1.2h-1.2v1h-4.8v-1h-1.2v-1.2h-1v-4.8h1v-1.2h1.2zm3,-1h4.8v1h1.2v1.2h1v4.8h-1v1.2h-1.2v1h-4.8v-1h-1.2v-1.2h-1v-4.8h1v-1.2h1.2zm3,-1h4.8v1h1.2v1.2h1v4.8h-1v1.2h-1.2v1h-4.8v-1h-1.2v-1.2h-1v-4.8h1v-1.2h1.2zm3,-1h4.8v1h1.2v1.2h1v4.8h-1v1.2h-1.2v1h-4.8v-1h-1.2v-1.2h-1v-4.8h1v-1.2h1.2zm2,-1h4.8v1h1.2v1.2h1v4.8h-1v1.2h-1.2v1h-4.8v-1h-1.2v-1.2h-1v-4.8h1v-1.2h1.2zm3,-1h4.8v1h1.2v1.2h1v4.8h-1v1.2h-1.2v1h-4.8v-1h-1.2v-1.2h-1v-4.8h1v-1.2h1.2zm3,-1h4.8v1h1.2v1.2h1v4.8h-1v1.2h-1.2v1h-4.8v-1h-1.2v-1.2h-1v-4.8h1v-1.2h1.2zm3,-1h4.8v1h1.2v1.2h1v4.8h-1v1.2h-1.2v1h-4.8v-1h-1.2v-1.2h-1v-4.8h1v-1.2h1.2zm3,-2h4.8v1h1.2v1.2h1v4.8h-1v1.2h-1.2v1h-4.8v-1h-1.2v-1.2h-1v-4.8h1v-1.2h1.2zm3,-1h4.8v1h1.2v1.2h1v4.8h-1v1.2h-1.2v1h-4.8v-1h-1.2v-1.2h-1v-4.8h1v-1.2h1.2zm3,-1h4.8v1h1.2v1.2h1v4.8h-1v1.2h-1.2v1h-4.8v-1h-1.2v-1.2h-1v-4.8h1v-1.2h1.2zm3,-1h4.8v1h1.2v1.2h1v4.8h-1v1.2h-1.2v1h-4.8v-1h-1.2v-1.2h-1v-4.8h1v-1.2h1.2zm7,-3h4.8v1h1.2v1.2h1v4.8h-1v1.2h-1.2v1h-4.8v-1h-1.2v-1.2h-1v-4.8h1v-1.2h1.2zm2,-1h4.8v1h1.2v1.2h1v4.8h-1v1.2h-1.2v1h-4.8v-1h-1.2v-1.2h-1v-4.8h1v-1.2h1.2zm6,-2h4.8v1h1.2v1.2h1v4.8h-1v1.2h-1.2v1h-4.8v-1h-1.2v-1.2h-1v-4.8h1v-1.2h1.2zm5,-3h4.8v1h1.2v1.2h1v4.8h-1v1.2h-1.2v1h-4.8v-1h-1.2v-1.2h-1v-4.8h1v-1.2h1.2zm8,-3h4.8v1h1.2v1.2h1v4.8h-1v1.2h-1.2v1h-4.8v-1h-1.2v-1.2h-1v-4.8h1v-1.2h1.2zm5,-2h4.8v1h1.2v1.2h1v4.8h-1v1.2h-1.2v1h-4.8v-1h-1.2v-1.2h-1v-4.8h1v-1.2h1.2zm5,-2h4.8v1h1.2v1.2h1v4.8h-1v1.2h-1.2v1h-4.8v-1h-1.2v-1.2h-1v-4.8h1v-1.2h1.2zm4,-2h4.8v1h1.2v1.2h1v4.8h-1v1.2h-1.2v1h-4.8v-1h-1.2v-1.2h-1v-4.8h1v-1.2h1.2zm18,-8h4.8v1h1.2v1.2h1v4.8h-1v1.2h-1.2v1h-4.8v-1h-1.2v-1.2h-1v-4.8h1v-1.2h1.2zm21,-9h4.8v1h1.2v1.2h1v4.8h-1v1.2h-1.2v1h-4.8v-1h-1.2v-1.2h-1v-4.8h1v-1.2h1.2zm28,-11h4.8v1h1.2v1.2h1v4.8h-1v1.2h-1.2v1h-4.8v-1h-1.2v-1.2h-1v-4.8h1v-1.2h1.2zm5,-3h4.8v1h1.2v1.2h1v4.8h-1v1.2h-1.2v1h-4.8v-1h-1.2v-1.2h-1v-4.8h1v-1.2h1.2zm4,-1h4.8v1h1.2v1.2h1v4.8h-1v1.2h-1.2v1h-4.8v-1h-1.2v-1.2h-1v-4.8h1v-1.2h1.2zm9,-5h4.8v1h1.2v1.2h1v4.8h-1v1.2h-1.2v1h-4.8v-1h-1.2v-1.2h-1v-4.8h1v-1.2h1.2zm33,-14h4.8v1h1.2v1.2h1v4.8h-1v1.2h-1.2v1h-4.8v-1h-1.2v-1.2h-1v-4.8h1v-1.2h1.2z"/>
</svg></body></html>
